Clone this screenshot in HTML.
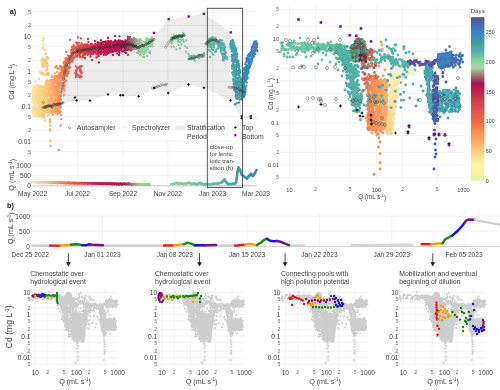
<!DOCTYPE html>
<html><head><meta charset="utf-8"><style>
html,body{margin:0;padding:0;background:#fff;width:500px;height:390px;overflow:hidden}
svg{display:block;font-family:"Liberation Sans", sans-serif;will-change:transform}
</style></head><body>
<svg width="500" height="390" viewBox="0 0 500 390">
<rect width="500" height="390" fill="#fff"/>
<line x1="32.60" y1="11.54" x2="256.60" y2="11.54" stroke="#f0f0f0" stroke-width="0.8"/>
<text x="31.00" y="11.54" font-size="5.6" text-anchor="end" fill="#666" font-weight="normal" dominant-baseline="central">5</text>
<line x1="32.60" y1="25.46" x2="256.60" y2="25.46" stroke="#f0f0f0" stroke-width="0.8"/>
<text x="31.00" y="25.46" font-size="5.6" text-anchor="end" fill="#666" font-weight="normal" dominant-baseline="central">2</text>
<line x1="32.60" y1="36.00" x2="256.60" y2="36.00" stroke="#f0f0f0" stroke-width="0.8"/>
<text x="31.00" y="36.00" font-size="6.6" text-anchor="end" fill="#444" font-weight="normal" dominant-baseline="central">10</text>
<line x1="32.60" y1="46.54" x2="256.60" y2="46.54" stroke="#f0f0f0" stroke-width="0.8"/>
<text x="31.00" y="46.54" font-size="5.6" text-anchor="end" fill="#666" font-weight="normal" dominant-baseline="central">5</text>
<line x1="32.60" y1="60.46" x2="256.60" y2="60.46" stroke="#f0f0f0" stroke-width="0.8"/>
<text x="31.00" y="60.46" font-size="5.6" text-anchor="end" fill="#666" font-weight="normal" dominant-baseline="central">2</text>
<line x1="32.60" y1="71.00" x2="256.60" y2="71.00" stroke="#f0f0f0" stroke-width="0.8"/>
<text x="31.00" y="71.00" font-size="6.6" text-anchor="end" fill="#444" font-weight="normal" dominant-baseline="central">1</text>
<line x1="32.60" y1="81.54" x2="256.60" y2="81.54" stroke="#f0f0f0" stroke-width="0.8"/>
<text x="31.00" y="81.54" font-size="5.6" text-anchor="end" fill="#666" font-weight="normal" dominant-baseline="central">5</text>
<line x1="32.60" y1="95.46" x2="256.60" y2="95.46" stroke="#f0f0f0" stroke-width="0.8"/>
<text x="31.00" y="95.46" font-size="5.6" text-anchor="end" fill="#666" font-weight="normal" dominant-baseline="central">2</text>
<line x1="32.60" y1="106.00" x2="256.60" y2="106.00" stroke="#f0f0f0" stroke-width="0.8"/>
<text x="31.00" y="106.00" font-size="6.6" text-anchor="end" fill="#444" font-weight="normal" dominant-baseline="central">0.1</text>
<line x1="32.60" y1="116.54" x2="256.60" y2="116.54" stroke="#f0f0f0" stroke-width="0.8"/>
<text x="31.00" y="116.54" font-size="5.6" text-anchor="end" fill="#666" font-weight="normal" dominant-baseline="central">5</text>
<line x1="32.60" y1="130.46" x2="256.60" y2="130.46" stroke="#f0f0f0" stroke-width="0.8"/>
<text x="31.00" y="130.46" font-size="5.6" text-anchor="end" fill="#666" font-weight="normal" dominant-baseline="central">2</text>
<line x1="32.60" y1="141.00" x2="256.60" y2="141.00" stroke="#f0f0f0" stroke-width="0.8"/>
<text x="31.00" y="141.00" font-size="6.6" text-anchor="end" fill="#444" font-weight="normal" dominant-baseline="central">0.01</text>
<line x1="32.60" y1="151.54" x2="256.60" y2="151.54" stroke="#f0f0f0" stroke-width="0.8"/>
<text x="31.00" y="151.54" font-size="5.6" text-anchor="end" fill="#666" font-weight="normal" dominant-baseline="central">5</text>
<line x1="77.44" y1="8.00" x2="77.44" y2="157.00" stroke="#f0f0f0" stroke-width="0.8"/>
<line x1="77.44" y1="160.00" x2="77.44" y2="186.00" stroke="#f0f0f0" stroke-width="0.8"/>
<line x1="123.00" y1="8.00" x2="123.00" y2="157.00" stroke="#f0f0f0" stroke-width="0.8"/>
<line x1="123.00" y1="160.00" x2="123.00" y2="186.00" stroke="#f0f0f0" stroke-width="0.8"/>
<line x1="167.84" y1="8.00" x2="167.84" y2="157.00" stroke="#f0f0f0" stroke-width="0.8"/>
<line x1="167.84" y1="160.00" x2="167.84" y2="186.00" stroke="#f0f0f0" stroke-width="0.8"/>
<line x1="212.67" y1="8.00" x2="212.67" y2="157.00" stroke="#f0f0f0" stroke-width="0.8"/>
<line x1="212.67" y1="160.00" x2="212.67" y2="186.00" stroke="#f0f0f0" stroke-width="0.8"/>
<line x1="32.60" y1="165.30" x2="256.60" y2="165.30" stroke="#f0f0f0" stroke-width="0.8"/>
<text x="31.00" y="165.30" font-size="6.6" text-anchor="end" fill="#444" font-weight="normal" dominant-baseline="central">1000</text>
<line x1="32.60" y1="175.40" x2="256.60" y2="175.40" stroke="#f0f0f0" stroke-width="0.8"/>
<text x="31.00" y="175.40" font-size="6.6" text-anchor="end" fill="#444" font-weight="normal" dominant-baseline="central">500</text>
<text x="31.00" y="185.50" font-size="6.6" text-anchor="end" fill="#444" font-weight="normal" dominant-baseline="central">0</text>
<line x1="32.60" y1="185.80" x2="256.60" y2="185.80" stroke="#aaa" stroke-width="0.7"/>
<text x="32.60" y="193.30" font-size="6.6" text-anchor="middle" fill="#444" font-weight="normal" dominant-baseline="central">May 2022</text>
<text x="77.44" y="193.30" font-size="6.6" text-anchor="middle" fill="#444" font-weight="normal" dominant-baseline="central">Jul 2022</text>
<text x="123.00" y="193.30" font-size="6.6" text-anchor="middle" fill="#444" font-weight="normal" dominant-baseline="central">Sep 2022</text>
<text x="167.84" y="193.30" font-size="6.6" text-anchor="middle" fill="#444" font-weight="normal" dominant-baseline="central">Nov 2022</text>
<text x="212.67" y="193.30" font-size="6.6" text-anchor="middle" fill="#444" font-weight="normal" dominant-baseline="central">Jan 2023</text>
<text x="256.04" y="193.30" font-size="6.6" text-anchor="middle" fill="#444" font-weight="normal" dominant-baseline="central">Mar 2023</text>
<text x="11.80" y="81.70" font-size="7.2" text-anchor="middle" fill="#444" font-weight="normal" dominant-baseline="central" transform="rotate(-90 11.8 81.7)">Cd (mg L<tspan font-size="4.5" dy="-2">-1</tspan><tspan dy="2">)</tspan></text>
<text x="11.80" y="174.80" font-size="7.2" text-anchor="middle" fill="#444" font-weight="normal" dominant-baseline="central" transform="rotate(-90 11.8 174.8)">Q (mL s<tspan font-size="4.5" dy="-2">-1</tspan><tspan dy="2">)</tspan></text>
<text x="13.00" y="11.30" font-size="7.4" text-anchor="middle" fill="#222" font-weight="bold" dominant-baseline="central">a)</text>
<polygon points="61.0,104.5 62.0,92.0 63.5,80.0 64.6,72.3 66.0,66.0 68.2,61.5 70.5,56.5 73.5,52.6 79.0,50.0 92.0,49.0 100.0,48.0 120.0,45.5 140.0,42.5 151.0,41.5 154.0,37.0 168.7,19.0 188.7,16.5 204.0,13.8 230.7,32.3 236.0,65.0 240.0,95.0 241.7,117.0 230.5,100.0 204.0,88.0 188.5,84.5 168.3,93.0 154.0,88.0 138.6,96.4 121.0,95.2 108.0,94.4 90.0,100.6 76.6,100.4" fill="#000" fill-opacity="0.075"/>
<polyline points="241.7,117.2 250.8,117.2 257,119.5" fill="none" stroke="#e0e0e0" stroke-width="1.2"/>
<path d="M36.8 90.7h0M36.9 87.6h0M37.0 94.2h0M36.8 92.9h0M36.9 110.8h0M36.8 102.1h0M37.0 111.8h0M36.7 112.0h0M37.0 88.8h0M36.9 99.0h0M36.9 94.4h0M36.7 94.5h0M36.7 97.2h0M36.8 116.4h0" stroke="#feda90" stroke-width="2.30" stroke-linecap="round"/>
<path d="M40.7 88.2h0M41.0 87.7h0M40.8 110.8h0M40.9 90.4h0M40.8 88.0h0M41.0 107.5h0M41.0 95.0h0M40.8 95.3h0M40.9 114.7h0M40.9 115.4h0M40.9 97.7h0M40.9 89.8h0" stroke="#fdd184" stroke-width="2.30" stroke-linecap="round"/>
<path d="M39.3 97.3h0" stroke="#fdd489" stroke-width="2.30" stroke-linecap="round"/>
<path d="M33.5 101.7h0M33.5 92.4h0M33.5 107.7h0M33.5 109.8h0M33.6 88.1h0M33.4 92.3h0M33.5 90.0h0M33.5 94.3h0M33.6 94.6h0M33.5 98.2h0" stroke="#fee19a" stroke-width="2.30" stroke-linecap="round"/>
<path d="M33.3 99.4h0M33.3 106.7h0M33.3 110.1h0M33.3 86.7h0M33.3 111.9h0M33.3 110.3h0M33.4 100.7h0" stroke="#fee29a" stroke-width="2.30" stroke-linecap="round"/>
<path d="M33.7 88.8h0M33.8 99.9h0M33.8 89.2h0M33.8 106.5h0M33.7 93.5h0M33.7 106.8h0M33.6 116.5h0M33.7 115.1h0M33.8 112.5h0M33.6 112.7h0M33.7 109.0h0M33.8 112.1h0M33.7 94.2h0" stroke="#fee199" stroke-width="2.30" stroke-linecap="round"/>
<path d="M38.0 111.6h0M37.4 85.0h0" stroke="#fdd78d" stroke-width="2.30" stroke-linecap="round"/>
<path d="M34.3 92.9h0M34.3 99.7h0" stroke="#fee097" stroke-width="2.30" stroke-linecap="round"/>
<path d="M40.5 115.4h0M40.6 97.5h0M40.4 113.9h0M40.4 101.9h0M40.5 110.9h0M40.4 107.1h0M40.6 88.4h0M40.5 114.3h0M40.7 95.4h0M40.6 107.7h0" stroke="#fdd285" stroke-width="2.30" stroke-linecap="round"/>
<path d="M39.8 98.3h0M39.9 100.1h0M40.0 94.1h0M39.9 114.0h0M39.9 102.4h0M39.9 113.7h0M40.0 86.0h0M40.1 72.0h0M40.0 116.0h0" stroke="#fdd387" stroke-width="2.30" stroke-linecap="round"/>
<path d="M44.7 87.4h0M44.8 89.7h0M44.7 98.3h0M44.8 106.4h0M44.6 106.1h0M44.7 103.0h0M44.7 115.0h0M44.7 94.1h0M44.6 89.9h0M44.7 93.7h0M44.5 106.0h0M44.5 107.8h0M44.6 95.7h0M44.6 92.4h0M44.8 50.0h0M44.7 60.0h0M44.6 62.2h0M44.7 117.5h0M44.7 120.8h0" stroke="#fdc979" stroke-width="2.30" stroke-linecap="round"/>
<path d="M43.3 95.0h0M43.2 116.8h0M43.3 107.6h0M43.2 111.0h0M43.3 92.7h0" stroke="#fdcc7d" stroke-width="2.30" stroke-linecap="round"/>
<path d="M34.6 89.7h0M34.4 93.7h0M34.3 90.7h0M34.6 111.6h0M34.4 86.4h0M34.4 114.2h0M34.5 102.2h0M34.4 97.2h0M34.6 93.9h0M34.5 102.2h0M34.5 96.7h0M34.4 93.8h0M34.6 98.2h0M34.5 87.6h0" stroke="#fedf97" stroke-width="2.30" stroke-linecap="round"/>
<path d="M36.6 111.3h0M36.4 100.2h0M36.6 97.1h0M36.5 93.2h0M36.4 108.9h0M36.5 100.3h0M36.6 86.7h0M36.4 115.5h0" stroke="#fedb91" stroke-width="2.30" stroke-linecap="round"/>
<path d="M35.0 104.0h0M34.9 93.2h0M35.2 92.3h0M35.0 110.5h0M35.2 95.9h0M35.1 100.7h0M35.1 88.8h0M35.1 115.0h0M35.2 97.3h0M35.2 109.3h0" stroke="#fede95" stroke-width="2.30" stroke-linecap="round"/>
<path d="M39.5 87.9h0M39.5 113.4h0M39.4 86.8h0M39.6 110.3h0M39.7 109.6h0M39.6 115.2h0M39.6 99.7h0M39.5 114.7h0M39.6 105.5h0M39.6 98.2h0" stroke="#fdd488" stroke-width="2.30" stroke-linecap="round"/>
<path d="M41.1 99.3h0M41.1 107.5h0M41.1 92.1h0" stroke="#fdd183" stroke-width="2.30" stroke-linecap="round"/>
<path d="M36.6 104.2h0M36.6 95.5h0" stroke="#feda91" stroke-width="2.30" stroke-linecap="round"/>
<path d="M38.3 95.3h0M38.1 113.0h0M38.2 91.7h0M38.3 102.5h0M38.3 96.5h0M38.3 94.3h0M38.3 95.4h0M38.3 90.3h0M38.0 101.3h0" stroke="#fdd78c" stroke-width="2.30" stroke-linecap="round"/>
<path d="M42.5 107.7h0M43.0 44.5h0" stroke="#fdce7f" stroke-width="2.30" stroke-linecap="round"/>
<path d="M35.8 103.8h0M35.9 96.8h0M36.0 107.5h0M35.9 95.1h0M35.7 104.2h0M36.0 99.0h0M35.8 94.6h0M35.9 86.5h0M35.9 91.1h0M35.8 115.9h0M35.8 94.2h0M35.7 94.0h0M35.8 88.0h0M35.8 93.6h0" stroke="#fedc93" stroke-width="2.30" stroke-linecap="round"/>
<path d="M39.2 113.1h0M39.1 105.1h0M39.2 90.5h0M39.2 116.3h0M39.3 110.2h0M39.2 114.9h0M39.2 86.6h0M39.0 107.5h0M39.1 96.5h0M39.2 93.4h0M39.1 100.4h0M39.2 107.1h0M39.2 104.1h0" stroke="#fdd589" stroke-width="2.30" stroke-linecap="round"/>
<path d="M41.7 94.9h0M41.6 91.3h0M41.6 103.3h0M41.6 86.6h0M41.7 103.1h0M41.6 105.9h0M41.8 111.2h0M41.7 92.4h0M41.7 100.0h0M41.7 116.9h0M41.7 73.7h0M41.7 62.2h0" stroke="#fdcf82" stroke-width="2.30" stroke-linecap="round"/>
<path d="M37.9 109.5h0M37.7 115.4h0M37.9 114.4h0M38.0 114.3h0M37.7 96.8h0M37.8 102.2h0M37.7 99.8h0M37.9 94.0h0M37.8 111.2h0" stroke="#fdd88d" stroke-width="2.30" stroke-linecap="round"/>
<path d="M34.7 101.2h0M34.7 108.2h0M34.8 99.4h0M34.6 114.5h0M34.7 99.8h0" stroke="#fedf96" stroke-width="2.30" stroke-linecap="round"/>
<path d="M42.1 103.8h0M42.2 101.7h0M42.4 113.8h0M42.4 116.1h0M42.2 105.1h0M42.2 87.3h0M42.3 88.4h0M42.2 61.9h0M42.3 65.8h0" stroke="#fdce80" stroke-width="2.30" stroke-linecap="round"/>
<path d="M43.5 95.7h0M43.8 110.2h0M43.5 110.7h0M43.6 116.0h0M43.7 105.4h0M43.7 92.2h0M43.6 107.8h0M43.8 95.0h0M43.6 111.2h0M43.7 100.7h0M43.6 100.7h0M43.8 113.4h0M43.7 86.9h0M43.6 116.6h0M43.6 38.5h0M43.8 74.8h0" stroke="#fdcb7c" stroke-width="2.30" stroke-linecap="round"/>
<path d="M41.3 104.4h0M41.3 113.2h0M41.2 99.2h0M41.2 116.5h0M41.3 73.7h0" stroke="#fdd083" stroke-width="2.30" stroke-linecap="round"/>
<path d="M43.0 115.3h0M43.1 100.9h0M43.0 90.3h0M43.0 89.7h0M43.1 95.1h0M42.7 41.0h0M42.8 48.0h0M43.0 67.2h0M43.0 64.4h0M43.0 60.6h0" stroke="#fdcc7e" stroke-width="2.30" stroke-linecap="round"/>
<path d="M38.6 106.6h0M38.5 101.0h0M38.6 115.2h0M38.6 101.6h0M38.6 107.2h0M38.5 89.7h0M38.6 96.7h0" stroke="#fdd68b" stroke-width="2.30" stroke-linecap="round"/>
<path d="M40.7 116.8h0M40.7 109.7h0" stroke="#fdd185" stroke-width="2.30" stroke-linecap="round"/>
<path d="M42.8 94.8h0M42.8 112.8h0M42.9 91.0h0M42.9 92.5h0M42.8 94.0h0M42.8 99.4h0M42.8 116.0h0M42.8 101.8h0M42.9 112.5h0M42.8 93.2h0M42.8 99.4h0M42.8 110.0h0M42.9 63.3h0M43.0 59.2h0M42.8 59.6h0" stroke="#fdcd7e" stroke-width="2.30" stroke-linecap="round"/>
<path d="M37.5 106.7h0M37.6 113.0h0M37.6 98.4h0M37.7 101.1h0M37.6 101.7h0M37.6 96.1h0M37.6 114.7h0M37.5 92.9h0M37.5 93.8h0" stroke="#fdd88e" stroke-width="2.30" stroke-linecap="round"/>
<path d="M33.1 100.3h0M33.1 113.1h0M33.1 115.5h0M33.1 94.7h0M33.0 96.3h0M33.0 100.2h0M33.2 108.0h0M33.2 87.9h0M33.2 103.1h0" stroke="#fee29b" stroke-width="2.30" stroke-linecap="round"/>
<path d="M34.9 89.6h0M34.8 109.9h0M34.9 100.7h0M34.8 91.0h0M34.9 86.1h0" stroke="#fede96" stroke-width="2.30" stroke-linecap="round"/>
<path d="M36.2 98.9h0M36.2 93.5h0M36.2 87.5h0M36.3 115.0h0M36.3 87.5h0M36.2 96.9h0" stroke="#fedb92" stroke-width="2.30" stroke-linecap="round"/>
<path d="M37.2 113.4h0M37.3 103.6h0M37.2 89.8h0M37.1 86.9h0M37.1 103.0h0M37.1 100.2h0M37.2 99.3h0M37.2 111.5h0" stroke="#fed98f" stroke-width="2.30" stroke-linecap="round"/>
<path d="M44.5 90.7h0M44.4 107.4h0M44.5 99.9h0M44.5 97.3h0M44.4 90.1h0M44.4 112.3h0M44.5 89.8h0M44.5 105.1h0M44.5 115.6h0M44.4 59.9h0M44.4 63.1h0" stroke="#fdc97a" stroke-width="2.30" stroke-linecap="round"/>
<path d="M35.6 101.0h0M35.6 114.5h0M35.7 93.7h0M35.7 100.7h0M35.7 98.9h0" stroke="#fedd93" stroke-width="2.30" stroke-linecap="round"/>
<path d="M32.8 99.0h0M32.8 90.7h0M32.8 110.8h0M32.8 97.8h0M32.9 94.2h0M32.8 101.2h0M32.8 109.3h0M32.8 109.4h0" stroke="#fee39c" stroke-width="2.30" stroke-linecap="round"/>
<path d="M34.1 105.7h0M34.0 97.3h0M34.1 103.4h0M34.1 94.2h0M34.1 91.0h0M34.1 111.9h0M34.0 111.9h0M34.1 90.8h0M34.2 88.2h0M34.0 101.5h0" stroke="#fee098" stroke-width="2.30" stroke-linecap="round"/>
<path d="M35.3 91.0h0M35.6 102.0h0M35.5 93.0h0M35.5 115.5h0M35.6 87.0h0M35.4 115.3h0M35.4 104.0h0M35.6 113.8h0M35.3 114.1h0M35.6 87.1h0M35.5 109.6h0M35.5 98.9h0M35.4 116.2h0" stroke="#fedd94" stroke-width="2.30" stroke-linecap="round"/>
<path d="M40.3 90.6h0M40.3 101.7h0M40.4 106.9h0" stroke="#fdd286" stroke-width="2.30" stroke-linecap="round"/>
<path d="M36.0 97.4h0M36.1 90.0h0M36.1 90.0h0M36.0 115.8h0M36.1 93.7h0M36.0 108.2h0M36.0 88.6h0M35.3 82.0h0M36.0 115.5h0" stroke="#fedc92" stroke-width="2.30" stroke-linecap="round"/>
<path d="M42.7 116.5h0M42.8 108.9h0M42.6 111.6h0M42.5 109.2h0M42.5 108.9h0M42.6 108.9h0M42.7 57.7h0M42.7 73.8h0M42.7 58.0h0" stroke="#fdcd7f" stroke-width="2.30" stroke-linecap="round"/>
<path d="M44.2 116.6h0M44.3 94.0h0M44.2 89.3h0M44.3 103.0h0M44.3 108.4h0M44.2 96.2h0M44.3 86.8h0" stroke="#fdca7a" stroke-width="2.30" stroke-linecap="round"/>
<path d="M43.9 110.3h0M43.9 99.7h0M44.1 108.1h0M44.1 89.9h0M44.0 94.0h0M44.0 105.7h0M44.1 91.7h0M44.2 66.0h0" stroke="#fdca7b" stroke-width="2.30" stroke-linecap="round"/>
<path d="M42.0 100.8h0M42.0 106.4h0M41.8 93.8h0M41.8 116.2h0M41.9 95.4h0M42.0 106.0h0M41.9 98.8h0M41.9 87.0h0M41.9 113.9h0M41.9 112.3h0M41.8 92.2h0M42.1 62.0h0M41.9 74.3h0M41.8 62.8h0M41.9 74.6h0" stroke="#fdcf81" stroke-width="2.30" stroke-linecap="round"/>
<path d="M43.8 111.0h0M43.9 116.9h0" stroke="#fdcb7b" stroke-width="2.30" stroke-linecap="round"/>
<path d="M38.9 102.5h0M38.9 91.5h0M39.0 111.9h0M38.9 102.6h0M39.0 91.9h0M38.9 92.8h0M38.9 105.5h0M38.9 106.9h0M39.0 92.4h0M39.0 79.0h0" stroke="#fdd58a" stroke-width="2.30" stroke-linecap="round"/>
<path d="M44.9 111.8h0M45.0 104.3h0M45.1 109.8h0M45.0 91.7h0M45.1 107.9h0M45.0 86.7h0M45.1 96.2h0M45.0 103.8h0M45.1 107.7h0M45.1 86.3h0M45.1 102.6h0M45.0 88.7h0M45.1 63.0h0" stroke="#fdc878" stroke-width="2.30" stroke-linecap="round"/>
<path d="M39.8 107.7h0M39.7 86.4h0M39.7 113.5h0M39.7 97.6h0" stroke="#fdd487" stroke-width="2.30" stroke-linecap="round"/>
<path d="M33.9 87.8h0M33.9 98.4h0" stroke="#fee099" stroke-width="2.30" stroke-linecap="round"/>
<path d="M42.1 95.0h0M42.1 65.1h0M42.1 72.7h0" stroke="#fdce81" stroke-width="2.30" stroke-linecap="round"/>
<path d="M37.0 86.6h0" stroke="#feda8f" stroke-width="2.30" stroke-linecap="round"/>
<path d="M38.8 111.9h0M38.8 86.1h0M38.8 97.9h0M38.7 86.8h0M38.8 91.8h0" stroke="#fdd68a" stroke-width="2.30" stroke-linecap="round"/>
<path d="M41.4 105.7h0M41.5 113.3h0M41.6 87.5h0M41.5 99.9h0M41.4 59.6h0M41.4 73.1h0" stroke="#fdd082" stroke-width="2.30" stroke-linecap="round"/>
<path d="M43.4 106.8h0M43.4 86.7h0M43.4 73.3h0" stroke="#fdcb7d" stroke-width="2.30" stroke-linecap="round"/>
<path d="M35.3 101.6h0" stroke="#fedd95" stroke-width="2.30" stroke-linecap="round"/>
<path d="M44.8 90.6h0" stroke="#fdc879" stroke-width="2.30" stroke-linecap="round"/>
<path d="M37.3 98.2h0M37.4 115.6h0M37.4 96.5h0M37.4 96.3h0M37.3 114.5h0" stroke="#fed98e" stroke-width="2.30" stroke-linecap="round"/>
<path d="M38.4 103.1h0" stroke="#fdd78b" stroke-width="2.30" stroke-linecap="round"/>
<path d="M40.1 86.3h0M40.2 96.2h0" stroke="#fdd386" stroke-width="2.30" stroke-linecap="round"/>
<path d="M47.5 109.2h0M47.6 102.9h0M47.6 110.9h0M47.5 107.8h0M47.5 85.1h0M47.6 105.8h0M47.4 80.5h0M47.6 73.0h0M47.4 68.3h0M47.4 63.0h0" stroke="#fcbe72" stroke-width="2.30" stroke-linecap="round"/>
<path d="M54.3 90.8h0M54.3 109.1h0M54.4 101.9h0M54.1 90.2h0M54.2 104.7h0" stroke="#f9a362" stroke-width="2.30" stroke-linecap="round"/>
<path d="M51.3 112.8h0M51.3 98.2h0M51.3 105.2h0M51.3 87.0h0" stroke="#faaf69" stroke-width="2.30" stroke-linecap="round"/>
<path d="M53.1 87.6h0M53.1 92.5h0M53.0 110.4h0M53.1 90.5h0M53.1 101.2h0M52.9 81.9h0M53.1 89.0h0M53.1 112.2h0M53.0 115.0h0" stroke="#faa865" stroke-width="2.30" stroke-linecap="round"/>
<path d="M57.9 101.6h0M57.9 111.9h0M57.9 89.3h0M57.9 78.8h0M57.9 76.9h0M57.9 92.1h0M57.9 87.3h0" stroke="#f79359" stroke-width="2.30" stroke-linecap="round"/>
<path d="M60.9 83.4h0M60.8 99.1h0M60.8 115.0h0M60.9 82.4h0M60.8 85.2h0M60.9 83.2h0" stroke="#f68553" stroke-width="2.30" stroke-linecap="round"/>
<path d="M52.6 107.0h0M52.6 83.5h0M52.5 107.7h0M52.5 98.5h0M52.5 89.7h0M52.5 84.8h0M52.5 98.6h0M52.5 80.5h0" stroke="#faaa66" stroke-width="2.30" stroke-linecap="round"/>
<path d="M58.4 110.2h0M58.4 83.9h0M58.6 106.8h0M58.5 80.8h0M58.6 91.1h0" stroke="#f79058" stroke-width="2.30" stroke-linecap="round"/>
<path d="M45.6 89.7h0M45.7 98.6h0M45.7 97.5h0M45.8 109.3h0M45.6 103.8h0M45.8 89.9h0M45.9 98.7h0M45.6 83.9h0M45.8 105.5h0M45.7 107.5h0M45.9 74.2h0M45.8 59.6h0" stroke="#fdc576" stroke-width="2.30" stroke-linecap="round"/>
<path d="M46.9 86.3h0M47.0 88.2h0M47.1 94.2h0M47.1 87.5h0M47.0 95.2h0M47.0 112.5h0M47.1 105.6h0M46.9 111.9h0M47.1 80.6h0M47.0 57.0h0M47.0 69.8h0" stroke="#fcc073" stroke-width="2.30" stroke-linecap="round"/>
<path d="M60.6 99.2h0M60.5 125.5h0M60.5 81.7h0" stroke="#f68753" stroke-width="2.30" stroke-linecap="round"/>
<path d="M59.9 92.3h0M59.8 92.8h0M59.9 108.2h0M59.7 100.1h0M59.7 86.7h0M59.9 80.6h0" stroke="#f68a55" stroke-width="2.30" stroke-linecap="round"/>
<path d="M58.9 94.8h0M59.0 98.3h0M58.9 105.8h0M58.9 79.1h0" stroke="#f78e57" stroke-width="2.30" stroke-linecap="round"/>
<path d="M49.2 105.7h0M49.2 101.2h0M49.2 87.8h0M49.2 111.1h0" stroke="#fbb76e" stroke-width="2.30" stroke-linecap="round"/>
<path d="M60.1 83.5h0M60.1 112.2h0M60.1 84.7h0M60.0 97.1h0M60.0 97.4h0M60.1 105.9h0M60.1 73.4h0M60.0 91.7h0M60.1 73.0h0" stroke="#f68954" stroke-width="2.30" stroke-linecap="round"/>
<path d="M54.5 100.5h0M54.6 98.2h0M54.4 86.7h0M54.5 110.9h0M54.6 90.2h0" stroke="#f9a261" stroke-width="2.30" stroke-linecap="round"/>
<path d="M48.5 92.2h0M48.5 93.2h0M48.4 100.5h0M48.5 106.4h0" stroke="#fcba70" stroke-width="2.30" stroke-linecap="round"/>
<path d="M47.3 86.7h0M47.2 110.9h0M47.3 99.9h0M47.2 107.4h0M47.3 65.6h0" stroke="#fcbf73" stroke-width="2.30" stroke-linecap="round"/>
<path d="M49.1 99.8h0M49.0 109.8h0M49.0 90.8h0M49.1 111.8h0" stroke="#fbb86e" stroke-width="2.30" stroke-linecap="round"/>
<path d="M55.4 86.7h0M55.4 80.7h0M55.3 94.6h0M55.5 88.3h0M55.5 106.1h0M55.5 106.0h0M55.5 92.2h0M55.5 80.8h0" stroke="#f99e5f" stroke-width="2.30" stroke-linecap="round"/>
<path d="M45.2 90.8h0M45.2 101.3h0M45.2 98.2h0M45.2 111.4h0" stroke="#fdc778" stroke-width="2.30" stroke-linecap="round"/>
<path d="M55.9 86.1h0M55.9 109.5h0M55.8 110.7h0M55.8 81.4h0M55.8 67.2h0" stroke="#f99c5e" stroke-width="2.30" stroke-linecap="round"/>
<path d="M50.0 86.7h0M49.9 111.5h0M50.0 98.7h0M50.0 80.1h0M50.0 89.9h0M50.1 94.0h0M50.0 100.7h0M50.1 94.2h0M50.0 104.1h0M50.0 119.2h0M50.0 121.0h0M50.0 122.6h0M50.0 125.8h0M50.0 129.2h0M50.0 130.8h0" stroke="#fbb46c" stroke-width="2.30" stroke-linecap="round"/>
<path d="M57.7 98.1h0M57.7 77.4h0" stroke="#f7945a" stroke-width="2.30" stroke-linecap="round"/>
<path d="M46.0 83.3h0M45.9 105.7h0M45.9 107.3h0M46.0 112.1h0M45.9 74.7h0" stroke="#fdc476" stroke-width="2.30" stroke-linecap="round"/>
<path d="M55.2 83.0h0M55.3 110.0h0M55.2 112.5h0M55.3 95.0h0M55.3 110.8h0M55.3 87.0h0M55.3 67.4h0" stroke="#f99f5f" stroke-width="2.30" stroke-linecap="round"/>
<path d="M51.6 89.3h0M51.5 109.1h0M51.5 107.9h0M51.5 87.8h0M51.5 104.5h0M51.6 111.3h0M51.6 83.4h0M51.5 76.3h0" stroke="#faae68" stroke-width="2.30" stroke-linecap="round"/>
<path d="M50.7 93.7h0M50.8 86.5h0M50.8 105.2h0M50.8 107.0h0M50.7 81.9h0M50.6 88.8h0M50.7 101.1h0M50.9 95.7h0M50.8 101.3h0" stroke="#fbb16a" stroke-width="2.30" stroke-linecap="round"/>
<path d="M58.8 112.9h0M58.8 83.0h0M58.8 76.5h0M58.8 150.0h0M58.8 83.8h0" stroke="#f78f57" stroke-width="2.30" stroke-linecap="round"/>
<path d="M56.6 86.7h0M56.7 105.7h0M56.7 106.9h0M56.7 94.4h0M56.7 86.2h0M56.7 82.8h0M56.8 81.5h0M56.9 72.1h0M56.8 76.8h0M56.8 67.4h0" stroke="#f8985c" stroke-width="2.30" stroke-linecap="round"/>
<path d="M51.8 107.1h0M51.7 99.2h0M51.8 101.7h0M51.7 87.5h0M51.8 95.0h0M51.7 103.0h0M51.8 86.1h0M51.9 101.0h0M51.8 98.3h0M51.9 109.3h0M51.8 99.4h0M51.8 80.2h0" stroke="#faad68" stroke-width="2.30" stroke-linecap="round"/>
<path d="M52.4 85.4h0M52.3 85.9h0M52.4 110.8h0" stroke="#faab66" stroke-width="2.30" stroke-linecap="round"/>
<path d="M45.2 98.2h0M45.4 100.4h0M45.3 88.5h0M45.2 93.8h0M45.2 92.8h0M45.2 101.5h0" stroke="#fdc777" stroke-width="2.30" stroke-linecap="round"/>
<path d="M46.4 100.5h0M46.4 108.7h0M46.5 60.5h0M46.4 67.0h0" stroke="#fcc275" stroke-width="2.30" stroke-linecap="round"/>
<path d="M50.9 96.6h0M50.9 90.6h0M51.0 88.4h0M51.0 93.8h0M50.9 99.0h0M51.0 102.6h0M50.9 80.8h0" stroke="#fbb06a" stroke-width="2.30" stroke-linecap="round"/>
<path d="M47.3 89.3h0M47.3 80.9h0M47.3 106.3h0M47.4 57.8h0" stroke="#fcbf72" stroke-width="2.30" stroke-linecap="round"/>
<path d="M53.3 110.5h0M53.3 92.7h0M53.2 81.3h0M53.2 81.8h0M53.2 109.6h0M53.4 85.3h0M53.2 101.1h0M53.2 96.0h0" stroke="#faa764" stroke-width="2.30" stroke-linecap="round"/>
<path d="M46.7 96.2h0M46.8 97.5h0M46.7 112.8h0M46.7 91.8h0M46.7 110.7h0M46.7 86.8h0M46.8 81.1h0M46.8 101.0h0M46.6 111.8h0M46.6 92.7h0M46.7 86.8h0M46.7 73.9h0" stroke="#fcc174" stroke-width="2.30" stroke-linecap="round"/>
<path d="M48.2 84.2h0M48.3 88.7h0M48.2 100.1h0M48.3 88.7h0M48.1 101.1h0M48.4 102.6h0M48.2 102.9h0M48.4 94.4h0M48.3 74.9h0" stroke="#fcbb70" stroke-width="2.30" stroke-linecap="round"/>
<path d="M52.7 81.8h0M52.8 87.8h0M52.9 111.6h0M52.9 106.3h0M52.8 112.2h0M52.9 96.4h0M52.8 82.0h0" stroke="#faa965" stroke-width="2.30" stroke-linecap="round"/>
<path d="M59.5 100.5h0M59.4 96.5h0M59.5 106.1h0M59.5 73.2h0" stroke="#f68c56" stroke-width="2.30" stroke-linecap="round"/>
<path d="M58.2 85.3h0M58.3 86.0h0M58.3 97.2h0M58.2 89.7h0M58.2 93.3h0M58.2 76.0h0" stroke="#f79159" stroke-width="2.30" stroke-linecap="round"/>
<path d="M57.6 87.3h0M57.6 110.7h0M57.5 103.6h0M57.6 97.3h0M57.5 103.5h0M57.6 107.7h0" stroke="#f8945a" stroke-width="2.30" stroke-linecap="round"/>
<path d="M56.6 109.6h0M56.6 109.0h0" stroke="#f8995c" stroke-width="2.30" stroke-linecap="round"/>
<path d="M57.1 81.3h0M57.2 105.7h0M57.1 85.2h0M57.1 86.8h0M57.2 112.3h0M57.2 83.3h0" stroke="#f8965b" stroke-width="2.30" stroke-linecap="round"/>
<path d="M55.0 90.1h0M55.1 93.0h0M55.0 95.7h0M55.1 102.9h0M55.1 89.5h0M55.0 91.7h0M55.1 88.3h0M54.9 93.5h0M55.1 103.4h0M55.1 93.8h0M55.0 73.3h0" stroke="#f9a060" stroke-width="2.30" stroke-linecap="round"/>
<path d="M52.1 94.5h0" stroke="#faab67" stroke-width="2.30" stroke-linecap="round"/>
<path d="M46.5 94.6h0M46.5 101.1h0M46.6 83.2h0M46.6 93.8h0M46.6 99.0h0M46.6 84.7h0M45.8 54.0h0" stroke="#fcc274" stroke-width="2.30" stroke-linecap="round"/>
<path d="M55.2 82.7h0M55.2 91.9h0M55.1 107.2h0M55.1 95.3h0M55.1 80.5h0M55.2 101.0h0M55.2 105.9h0M55.2 76.1h0" stroke="#f99f60" stroke-width="2.30" stroke-linecap="round"/>
<path d="M60.2 84.5h0M60.3 85.3h0" stroke="#f68854" stroke-width="2.30" stroke-linecap="round"/>
<path d="M58.7 112.9h0M58.6 100.4h0M58.6 102.4h0M58.6 88.8h0M58.7 78.9h0M58.7 68.3h0M58.7 74.3h0" stroke="#f78f58" stroke-width="2.30" stroke-linecap="round"/>
<path d="M48.1 112.4h0M48.0 96.3h0M48.1 89.9h0M47.9 101.6h0M47.9 81.2h0M47.8 75.0h0M47.9 58.2h0M48.0 116.0h0" stroke="#fcbc71" stroke-width="2.30" stroke-linecap="round"/>
<path d="M59.7 85.4h0M59.6 111.2h0M59.7 94.7h0M59.7 92.9h0M59.7 77.5h0" stroke="#f68b55" stroke-width="2.30" stroke-linecap="round"/>
<path d="M46.0 91.6h0M46.1 99.5h0M46.1 108.6h0M46.1 64.1h0M46.1 60.8h0" stroke="#fdc475" stroke-width="2.30" stroke-linecap="round"/>
<path d="M59.3 89.1h0M59.4 81.1h0M59.3 77.4h0M59.3 84.7h0M59.3 85.6h0" stroke="#f78c56" stroke-width="2.30" stroke-linecap="round"/>
<path d="M58.1 84.7h0M58.1 88.4h0M58.0 85.8h0M58.1 109.4h0M58.1 85.6h0M58.0 100.9h0M58.1 106.9h0M58.2 106.0h0M58.0 99.0h0M58.1 82.6h0M58.1 109.3h0M58.1 81.2h0M58.0 113.0h0M58.0 89.9h0" stroke="#f79259" stroke-width="2.30" stroke-linecap="round"/>
<path d="M45.6 86.0h0M45.5 84.9h0M45.5 81.4h0M45.5 93.6h0M45.6 97.9h0M45.5 100.1h0M45.5 64.2h0M45.5 70.6h0" stroke="#fdc677" stroke-width="2.30" stroke-linecap="round"/>
<path d="M47.7 105.9h0M47.7 109.4h0M47.7 108.4h0" stroke="#fcbd72" stroke-width="2.30" stroke-linecap="round"/>
<path d="M57.8 88.7h0M57.7 68.9h0" stroke="#f7935a" stroke-width="2.30" stroke-linecap="round"/>
<path d="M52.1 85.8h0M52.0 103.9h0M52.0 105.5h0M52.0 109.1h0M52.0 102.3h0M52.0 80.5h0M51.9 77.2h0" stroke="#faac67" stroke-width="2.30" stroke-linecap="round"/>
<path d="M56.9 81.6h0M56.9 95.4h0M56.9 94.9h0M56.9 111.2h0M56.9 90.8h0M56.9 77.6h0" stroke="#f8975c" stroke-width="2.30" stroke-linecap="round"/>
<path d="M54.9 94.3h0M54.9 100.7h0" stroke="#f9a160" stroke-width="2.30" stroke-linecap="round"/>
<path d="M48.6 99.3h0M48.6 83.5h0M48.6 104.5h0M48.6 111.8h0M48.6 73.7h0" stroke="#fcba6f" stroke-width="2.30" stroke-linecap="round"/>
<path d="M48.9 84.9h0" stroke="#fbb86f" stroke-width="2.30" stroke-linecap="round"/>
<path d="M51.4 88.7h0M51.4 93.0h0M51.4 106.1h0" stroke="#faae69" stroke-width="2.30" stroke-linecap="round"/>
<path d="M54.0 91.6h0M54.0 88.5h0M54.1 89.6h0M54.0 79.1h0" stroke="#f9a462" stroke-width="2.30" stroke-linecap="round"/>
<path d="M60.0 104.2h0M60.0 78.2h0M59.9 66.2h0M59.9 76.5h0M59.9 89.3h0" stroke="#f68955" stroke-width="2.30" stroke-linecap="round"/>
<path d="M48.7 81.3h0M48.7 95.2h0M48.7 105.6h0M48.7 84.6h0" stroke="#fcb96f" stroke-width="2.30" stroke-linecap="round"/>
<path d="M50.4 104.7h0M50.2 86.2h0M50.3 112.4h0M50.3 90.5h0M50.3 100.0h0M50.3 81.9h0M50.3 140.8h0M50.3 145.8h0" stroke="#fbb36b" stroke-width="2.30" stroke-linecap="round"/>
<path d="M56.1 107.9h0M56.2 108.3h0M56.2 104.3h0M56.2 96.4h0M56.2 106.0h0M56.1 96.5h0M56.1 99.7h0" stroke="#f89b5d" stroke-width="2.30" stroke-linecap="round"/>
<path d="M56.4 88.8h0M56.3 107.8h0M56.4 108.2h0M56.3 107.3h0M56.4 66.0h0M56.2 76.0h0" stroke="#f89a5d" stroke-width="2.30" stroke-linecap="round"/>
<path d="M53.9 94.4h0M53.8 84.1h0" stroke="#f9a563" stroke-width="2.30" stroke-linecap="round"/>
<path d="M60.4 87.2h0M60.4 96.6h0M60.4 82.5h0M60.4 66.3h0M60.4 81.1h0" stroke="#f68754" stroke-width="2.30" stroke-linecap="round"/>
<path d="M59.1 80.5h0M59.1 90.8h0M59.1 84.3h0M59.1 79.5h0" stroke="#f78d57" stroke-width="2.30" stroke-linecap="round"/>
<path d="M48.8 109.9h0" stroke="#fbb96f" stroke-width="2.30" stroke-linecap="round"/>
<path d="M55.6 112.3h0M55.6 104.5h0M55.5 92.0h0M55.6 107.7h0M55.6 78.2h0" stroke="#f99d5f" stroke-width="2.30" stroke-linecap="round"/>
<path d="M46.2 110.1h0M46.1 62.4h0M46.2 57.2h0" stroke="#fdc375" stroke-width="2.30" stroke-linecap="round"/>
<path d="M50.5 84.7h0M50.5 103.3h0M50.6 107.5h0M50.6 90.8h0M50.5 85.0h0M50.4 108.4h0" stroke="#fbb26b" stroke-width="2.30" stroke-linecap="round"/>
<path d="M56.1 100.9h0M56.1 80.1h0" stroke="#f89b5e" stroke-width="2.30" stroke-linecap="round"/>
<path d="M49.5 103.6h0M49.5 87.1h0M49.4 93.2h0M49.5 88.1h0" stroke="#fbb66d" stroke-width="2.30" stroke-linecap="round"/>
<path d="M53.6 87.1h0" stroke="#faa663" stroke-width="2.30" stroke-linecap="round"/>
<path d="M46.3 106.0h0" stroke="#fcc375" stroke-width="2.30" stroke-linecap="round"/>
<path d="M59.2 82.8h0M59.2 80.8h0M59.2 87.9h0M59.2 98.0h0M59.3 74.5h0" stroke="#f78d56" stroke-width="2.30" stroke-linecap="round"/>
<path d="M51.1 109.2h0M51.1 79.8h0" stroke="#fbb069" stroke-width="2.30" stroke-linecap="round"/>
<path d="M53.5 104.9h0M53.5 104.5h0M53.4 105.4h0M53.5 76.5h0" stroke="#faa664" stroke-width="2.30" stroke-linecap="round"/>
<path d="M57.0 101.3h0M57.0 66.9h0" stroke="#f8975b" stroke-width="2.30" stroke-linecap="round"/>
<path d="M47.7 94.5h0M47.9 73.3h0M47.8 58.0h0" stroke="#fcbd71" stroke-width="2.30" stroke-linecap="round"/>
<path d="M57.4 99.1h0M57.4 103.1h0M57.4 110.2h0" stroke="#f8955b" stroke-width="2.30" stroke-linecap="round"/>
<path d="M60.6 104.0h0M60.7 106.2h0M60.7 95.7h0M60.6 107.4h0M60.7 67.9h0M60.7 80.5h0" stroke="#f68653" stroke-width="2.30" stroke-linecap="round"/>
<path d="M51.2 81.1h0M51.2 105.9h0" stroke="#fbaf69" stroke-width="2.30" stroke-linecap="round"/>
<path d="M59.5 94.2h0M59.5 105.9h0M59.6 100.2h0M59.5 75.9h0M59.5 90.2h0" stroke="#f68b56" stroke-width="2.30" stroke-linecap="round"/>
<path d="M57.5 92.8h0M57.5 77.4h0M57.5 114.7h0" stroke="#f8955a" stroke-width="2.30" stroke-linecap="round"/>
<path d="M53.7 103.7h0M53.6 108.5h0M53.6 79.4h0" stroke="#faa563" stroke-width="2.30" stroke-linecap="round"/>
<path d="M58.3 91.7h0" stroke="#f79158" stroke-width="2.30" stroke-linecap="round"/>
<path d="M49.8 95.8h0M49.8 93.9h0" stroke="#fbb56c" stroke-width="2.30" stroke-linecap="round"/>
<path d="M54.7 105.8h0M54.6 109.6h0M54.7 77.2h0M54.8 79.5h0" stroke="#f9a161" stroke-width="2.30" stroke-linecap="round"/>
<path d="M55.7 109.5h0M55.7 95.1h0M55.7 77.6h0M55.7 77.6h0" stroke="#f99d5e" stroke-width="2.30" stroke-linecap="round"/>
<path d="M53.9 88.7h0" stroke="#f9a463" stroke-width="2.30" stroke-linecap="round"/>
<path d="M55.9 110.7h0M55.9 87.0h0M56.0 78.1h0" stroke="#f89c5e" stroke-width="2.30" stroke-linecap="round"/>
<path d="M56.5 100.6h0M56.5 88.0h0M56.5 80.4h0" stroke="#f8995d" stroke-width="2.30" stroke-linecap="round"/>
<path d="M49.8 99.4h0" stroke="#fbb56d" stroke-width="2.30" stroke-linecap="round"/>
<path d="M62.3 70.1h0M62.3 71.7h0M62.2 66.8h0M62.2 68.9h0M62.3 67.1h0M62.3 77.9h0M62.3 76.3h0" stroke="#f57f50" stroke-width="2.30" stroke-linecap="round"/>
<path d="M64.8 66.2h0M64.7 69.1h0M64.6 68.0h0M64.6 73.6h0M64.8 85.4h0M64.8 76.0h0" stroke="#f2774e" stroke-width="2.30" stroke-linecap="round"/>
<path d="M63.1 70.8h0M63.3 73.4h0M63.1 74.2h0M63.1 70.7h0M63.2 78.1h0M63.2 73.0h0" stroke="#f47c4f" stroke-width="2.30" stroke-linecap="round"/>
<path d="M64.1 69.1h0M64.1 72.7h0M64.2 79.0h0M64.2 74.7h0M64.3 87.0h0M64.0 66.7h0M64.1 62.0h0" stroke="#f3794e" stroke-width="2.30" stroke-linecap="round"/>
<path d="M62.1 68.8h0M62.0 87.3h0M62.1 67.2h0M61.9 78.2h0" stroke="#f58050" stroke-width="2.30" stroke-linecap="round"/>
<path d="M61.1 72.9h0M61.1 75.9h0M61.1 75.8h0" stroke="#f68452" stroke-width="2.30" stroke-linecap="round"/>
<path d="M63.4 78.1h0M63.5 70.1h0M63.5 66.6h0" stroke="#f47b4f" stroke-width="2.30" stroke-linecap="round"/>
<path d="M63.7 69.7h0M63.7 63.0h0M63.8 83.2h0M63.7 74.2h0" stroke="#f37a4f" stroke-width="2.30" stroke-linecap="round"/>
<path d="M64.5 72.9h0M64.5 73.0h0M64.6 70.5h0" stroke="#f2784e" stroke-width="2.30" stroke-linecap="round"/>
<path d="M61.3 119.2h0" stroke="#f58352" stroke-width="2.30" stroke-linecap="round"/>
<path d="M64.5 64.0h0M64.4 71.8h0M64.5 69.3h0M64.3 67.8h0" stroke="#f3784e" stroke-width="2.30" stroke-linecap="round"/>
<path d="M61.8 90.1h0" stroke="#f58150" stroke-width="2.30" stroke-linecap="round"/>
<path d="M71.3 59.7h0M71.5 61.8h0M71.4 59.7h0M71.4 60.1h0M71.3 55.7h0M71.4 50.0h0" stroke="#ec6148" stroke-width="2.30" stroke-linecap="round"/>
<path d="M64.9 69.3h0M64.9 63.6h0M64.9 66.2h0" stroke="#f2764e" stroke-width="2.30" stroke-linecap="round"/>
<path d="M69.2 66.5h0M69.2 67.3h0M69.1 68.3h0" stroke="#ee684a" stroke-width="2.30" stroke-linecap="round"/>
<path d="M62.7 83.2h0M62.6 85.9h0M62.7 83.9h0M62.6 70.8h0" stroke="#f47e4f" stroke-width="2.30" stroke-linecap="round"/>
<path d="M72.8 59.9h0M72.8 58.2h0M73.0 48.6h0" stroke="#ea5c47" stroke-width="2.30" stroke-linecap="round"/>
<path d="M67.9 71.3h0M68.1 68.1h0M68.1 67.2h0M67.9 73.4h0" stroke="#ef6c4b" stroke-width="2.30" stroke-linecap="round"/>
<path d="M66.8 61.6h0M66.7 71.2h0M66.8 74.7h0M66.9 59.0h0" stroke="#f0704c" stroke-width="2.30" stroke-linecap="round"/>
<path d="M68.7 71.7h0M68.8 56.3h0" stroke="#ee6a4a" stroke-width="2.30" stroke-linecap="round"/>
<path d="M72.3 61.5h0M72.4 52.7h0M72.3 49.3h0M72.2 51.6h0" stroke="#eb5e47" stroke-width="2.30" stroke-linecap="round"/>
<path d="M61.5 87.4h0M61.6 68.4h0M61.5 72.9h0" stroke="#f58251" stroke-width="2.30" stroke-linecap="round"/>
<path d="M74.4 57.1h0M74.4 46.5h0" stroke="#e95746" stroke-width="2.30" stroke-linecap="round"/>
<path d="M65.2 66.0h0M65.4 58.5h0M65.2 72.7h0M65.3 68.2h0M65.5 68.6h0M65.4 64.6h0M65.3 74.0h0M65.5 64.6h0M65.3 62.0h0" stroke="#f2754d" stroke-width="2.30" stroke-linecap="round"/>
<path d="M61.4 67.2h0M61.4 75.0h0" stroke="#f58351" stroke-width="2.30" stroke-linecap="round"/>
<path d="M73.1 57.8h0M73.0 50.7h0M73.2 53.8h0" stroke="#ea5b47" stroke-width="2.30" stroke-linecap="round"/>
<path d="M72.1 60.3h0M72.1 59.6h0M72.1 53.7h0M72.1 53.2h0M72.1 50.8h0" stroke="#eb5f47" stroke-width="2.30" stroke-linecap="round"/>
<path d="M68.5 56.8h0" stroke="#ef6b4b" stroke-width="2.30" stroke-linecap="round"/>
<path d="M70.6 57.0h0M70.5 57.9h0" stroke="#ec6449" stroke-width="2.30" stroke-linecap="round"/>
<path d="M61.0 77.3h0M60.9 74.2h0" stroke="#f68552" stroke-width="2.30" stroke-linecap="round"/>
<path d="M67.1 66.0h0M67.2 76.2h0" stroke="#f06f4c" stroke-width="2.30" stroke-linecap="round"/>
<path d="M65.9 65.9h0M66.0 58.8h0M65.9 80.5h0M66.0 52.0h0" stroke="#f1734d" stroke-width="2.30" stroke-linecap="round"/>
<path d="M65.5 66.8h0M65.5 69.8h0" stroke="#f2744d" stroke-width="2.30" stroke-linecap="round"/>
<path d="M68.9 60.0h0M68.9 59.4h0M68.8 61.8h0M68.9 56.6h0M69.0 67.9h0" stroke="#ee694a" stroke-width="2.30" stroke-linecap="round"/>
<path d="M66.5 71.1h0M66.6 58.2h0M66.5 61.6h0M66.5 75.1h0" stroke="#f0714c" stroke-width="2.30" stroke-linecap="round"/>
<path d="M69.9 62.6h0M69.9 67.2h0M69.8 59.7h0M70.0 40.0h0" stroke="#ed6649" stroke-width="2.30" stroke-linecap="round"/>
<path d="M70.2 60.5h0M70.1 59.9h0" stroke="#ed6549" stroke-width="2.30" stroke-linecap="round"/>
<path d="M71.7 61.0h0M71.6 56.5h0M71.7 59.7h0" stroke="#eb6048" stroke-width="2.30" stroke-linecap="round"/>
<path d="M65.0 65.0h0M65.1 81.6h0" stroke="#f2764d" stroke-width="2.30" stroke-linecap="round"/>
<path d="M65.7 63.2h0M65.6 68.3h0M65.5 71.5h0M65.6 60.5h0M65.6 73.4h0M65.5 68.4h0M65.6 71.4h0" stroke="#f1744d" stroke-width="2.30" stroke-linecap="round"/>
<path d="M67.8 55.5h0M67.8 59.3h0" stroke="#ef6d4b" stroke-width="2.30" stroke-linecap="round"/>
<path d="M67.6 73.5h0" stroke="#ef6e4b" stroke-width="2.30" stroke-linecap="round"/>
<path d="M70.4 56.1h0" stroke="#ed6449" stroke-width="2.30" stroke-linecap="round"/>
<path d="M67.3 63.7h0" stroke="#f06e4c" stroke-width="2.30" stroke-linecap="round"/>
<path d="M67.5 69.5h0M67.5 70.9h0" stroke="#f06e4b" stroke-width="2.30" stroke-linecap="round"/>
<path d="M61.2 70.3h0" stroke="#f58452" stroke-width="2.30" stroke-linecap="round"/>
<path d="M63.6 85.0h0" stroke="#f37b4f" stroke-width="2.30" stroke-linecap="round"/>
<path d="M69.6 63.8h0M69.6 59.6h0" stroke="#ed674a" stroke-width="2.30" stroke-linecap="round"/>
<path d="M70.8 61.6h0" stroke="#ec6349" stroke-width="2.30" stroke-linecap="round"/>
<path d="M77.9 47.8h0M78.1 44.4h0M78.0 37.5h0M77.9 46.2h0M78.1 47.9h0M78.1 54.8h0M78.0 46.7h0M78.0 53.2h0" stroke="#e34f47" stroke-width="2.30" stroke-linecap="round"/>
<path d="M76.8 43.0h0M77.0 51.6h0M76.8 47.1h0M76.9 48.3h0M77.0 50.7h0M76.8 51.8h0M76.8 55.0h0M77.0 56.3h0M77.1 54.9h0M77.1 55.3h0M77.0 55.8h0M76.8 51.3h0M77.1 51.7h0" stroke="#e55146" stroke-width="2.30" stroke-linecap="round"/>
<path d="M71.1 50.6h0M71.0 52.7h0" stroke="#ec6248" stroke-width="2.30" stroke-linecap="round"/>
<path d="M77.5 48.9h0M77.3 56.4h0M77.3 48.3h0M77.3 44.3h0M77.6 52.1h0M77.2 55.5h0M77.5 56.2h0M77.2 51.8h0M77.4 53.8h0M77.3 56.6h0M77.4 53.8h0" stroke="#e45047" stroke-width="2.30" stroke-linecap="round"/>
<path d="M78.2 54.6h0M78.4 50.8h0M78.2 48.3h0M78.4 52.9h0M78.2 51.7h0M78.2 53.2h0" stroke="#e34e47" stroke-width="2.30" stroke-linecap="round"/>
<path d="M73.6 53.0h0M73.6 45.1h0" stroke="#e95a46" stroke-width="2.30" stroke-linecap="round"/>
<path d="M72.5 46.7h0M72.5 50.5h0" stroke="#eb5d47" stroke-width="2.30" stroke-linecap="round"/>
<path d="M74.2 56.5h0M74.1 49.1h0M74.0 52.0h0" stroke="#e95846" stroke-width="2.30" stroke-linecap="round"/>
<path d="M74.5 57.8h0" stroke="#e85745" stroke-width="2.30" stroke-linecap="round"/>
<path d="M75.1 47.7h0M75.0 52.0h0" stroke="#e85545" stroke-width="2.30" stroke-linecap="round"/>
<path d="M75.7 53.1h0" stroke="#e75346" stroke-width="2.30" stroke-linecap="round"/>
<path d="M78.9 49.3h0M78.8 42.8h0M78.8 53.2h0M78.8 52.0h0M78.6 54.7h0" stroke="#e24d48" stroke-width="2.30" stroke-linecap="round"/>
<path d="M77.7 49.2h0M77.8 50.8h0M77.7 50.5h0" stroke="#e44f47" stroke-width="2.30" stroke-linecap="round"/>
<path d="M72.6 50.0h0M72.7 48.5h0M72.6 52.2h0" stroke="#ea5d47" stroke-width="2.30" stroke-linecap="round"/>
<path d="M73.9 52.0h0" stroke="#e95946" stroke-width="2.30" stroke-linecap="round"/>
<path d="M76.2 49.4h0M76.4 42.6h0M76.5 53.7h0M76.5 52.4h0M76.3 50.7h0M76.4 49.2h0M76.3 56.1h0M76.4 54.9h0" stroke="#e65246" stroke-width="2.30" stroke-linecap="round"/>
<path d="M60.4 86.3h0M64.3 94.4h0M63.7 95.5h0M64.3 89.2h0M63.4 79.1h0M62.6 89.0h0M60.3 88.3h0M64.2 86.7h0M62.4 83.4h0M60.6 93.9h0M58.7 81.4h0M62.6 86.1h0M59.0 89.9h0M60.7 88.5h0M61.0 87.5h0M61.9 85.1h0M59.2 81.2h0M63.8 87.9h0M59.2 93.5h0M60.0 79.7h0M61.7 82.5h0M61.4 88.0h0M59.9 88.3h0M59.2 87.2h0M62.0 79.4h0M60.9 79.3h0M61.1 93.5h0M61.8 90.9h0M63.0 80.1h0M64.4 91.0h0" stroke="#eaa088" stroke-width="2.30" stroke-linecap="round"/>
<path d="M75.7 76.0h0M77.7 68.1h0M81.7 72.8h0M80.4 67.6h0M80.4 66.7h0M76.7 70.5h0M75.1 73.1h0M76.5 69.6h0M80.0 71.1h0M81.2 73.5h0M81.1 72.8h0M81.4 76.4h0M76.2 74.9h0M77.4 75.2h0M79.8 75.9h0M75.9 70.5h0M80.2 77.4h0M80.1 66.5h0M79.2 67.2h0M78.8 75.6h0M75.8 77.1h0M79.7 69.1h0M76.4 71.4h0M80.9 73.0h0M75.8 66.3h0M75.8 75.6h0M76.3 72.7h0M77.0 74.2h0M77.7 67.7h0M81.1 72.5h0M79.8 75.7h0M81.6 66.2h0M77.4 67.8h0M78.5 76.5h0M80.6 66.4h0M76.3 75.8h0M79.8 70.7h0M78.3 67.9h0M80.9 70.7h0M81.1 73.3h0" stroke="#e2505c" stroke-width="2.30" stroke-linecap="round"/>
<path d="M81.0 38.5h0M81.3 50.3h0M81.2 52.1h0M81.1 52.7h0M81.0 46.2h0" stroke="#de4849" stroke-width="2.30" stroke-linecap="round"/>
<path d="M72.0 47.0h0" stroke="#eb5f48" stroke-width="2.30" stroke-linecap="round"/>
<path d="M81.6 48.6h0M81.5 43.4h0" stroke="#de474a" stroke-width="2.30" stroke-linecap="round"/>
<path d="M91.1 53.6h0M90.9 53.1h0M91.0 50.3h0M91.1 44.4h0M91.0 46.9h0M91.1 47.6h0" stroke="#d0314c" stroke-width="2.30" stroke-linecap="round"/>
<path d="M87.8 48.2h0M87.8 52.6h0M87.9 52.4h0M87.9 54.7h0M87.9 54.2h0" stroke="#d4394c" stroke-width="2.30" stroke-linecap="round"/>
<path d="M109.7 47.3h0M109.3 46.4h0M109.4 49.0h0M109.2 44.6h0M109.1 43.2h0M109.1 48.1h0M109.6 51.5h0M109.1 51.1h0" stroke="#bc164d" stroke-width="2.30" stroke-linecap="round"/>
<path d="M98.3 42.6h0M98.3 43.5h0M98.6 47.1h0M98.6 50.7h0M98.3 56.2h0M98.4 55.3h0M98.3 48.8h0M98.3 43.5h0" stroke="#c71e4d" stroke-width="2.30" stroke-linecap="round"/>
<path d="M79.6 46.8h0M79.5 49.6h0M79.7 54.3h0M79.6 48.3h0M79.7 56.2h0" stroke="#e14b48" stroke-width="2.30" stroke-linecap="round"/>
<path d="M125.2 42.5h0M125.2 47.5h0" stroke="#a01d4f" stroke-width="2.30" stroke-linecap="round"/>
<path d="M95.4 49.5h0M95.1 48.0h0M95.2 44.0h0M95.4 46.0h0M95.4 51.1h0M95.3 51.9h0" stroke="#cb264d" stroke-width="2.30" stroke-linecap="round"/>
<path d="M114.8 51.1h0M114.8 46.9h0M114.5 46.4h0M115.1 45.0h0M114.8 48.0h0M114.7 47.7h0M114.8 41.8h0M114.3 47.0h0M114.9 48.0h0M114.6 42.3h0M115.2 44.2h0M114.4 49.6h0M114.7 45.8h0M115.1 46.8h0M115.0 36.0h0" stroke="#b7134c" stroke-width="2.30" stroke-linecap="round"/>
<path d="M117.0 48.8h0M117.2 42.3h0M117.2 43.8h0M116.7 45.0h0M116.7 49.4h0M117.0 41.4h0M116.9 41.9h0M116.8 45.6h0" stroke="#b5124c" stroke-width="2.30" stroke-linecap="round"/>
<path d="M136.2 46.6h0M136.2 40.3h0" stroke="#9ea48a" stroke-width="2.30" stroke-linecap="round"/>
<path d="M101.6 45.1h0M102.0 47.5h0M102.6 42.1h0M101.9 52.7h0M101.7 52.1h0M101.7 51.9h0M102.3 45.2h0M102.4 52.5h0M101.8 46.0h0M102.2 52.1h0M101.8 51.8h0M101.9 46.1h0M102.2 45.9h0M102.5 45.1h0" stroke="#c3194d" stroke-width="2.30" stroke-linecap="round"/>
<path d="M135.5 47.8h0M135.5 48.9h0M135.5 44.4h0" stroke="#9f9b87" stroke-width="2.30" stroke-linecap="round"/>
<path d="M97.5 51.1h0M97.5 46.1h0M97.8 44.2h0M97.8 52.2h0" stroke="#c8204d" stroke-width="2.30" stroke-linecap="round"/>
<path d="M130.1 44.5h0M130.1 45.9h0" stroke="#9a5b69" stroke-width="2.30" stroke-linecap="round"/>
<path d="M115.9 44.8h0M116.2 47.6h0M115.3 46.0h0M115.5 44.6h0M115.9 41.4h0M115.2 40.5h0M115.9 43.6h0M115.5 45.4h0M115.9 51.4h0M116.0 50.5h0M115.5 45.8h0M115.5 42.0h0M115.8 41.9h0M115.3 49.0h0M116.0 50.3h0M115.9 46.1h0" stroke="#b6134c" stroke-width="2.30" stroke-linecap="round"/>
<path d="M79.4 48.8h0M79.1 52.7h0M79.1 50.9h0M79.1 54.2h0M79.4 49.6h0M79.4 55.2h0M79.4 46.8h0M79.4 51.7h0M79.1 53.2h0M79.2 50.5h0" stroke="#e14c48" stroke-width="2.30" stroke-linecap="round"/>
<path d="M112.7 44.9h0M112.6 43.3h0M112.8 50.6h0M112.6 51.1h0M112.5 52.0h0M113.1 47.0h0M113.0 55.0h0" stroke="#b9144c" stroke-width="2.30" stroke-linecap="round"/>
<path d="M93.1 46.0h0M92.7 50.6h0M93.1 53.7h0M92.9 51.5h0" stroke="#ce2c4d" stroke-width="2.30" stroke-linecap="round"/>
<path d="M108.5 46.0h0M108.3 42.1h0M108.3 45.2h0M108.8 50.8h0M108.0 43.7h0M107.9 49.4h0M108.1 50.3h0M108.6 47.5h0M107.9 42.5h0M107.9 50.9h0M108.1 42.8h0M108.5 43.2h0M108.3 41.0h0M108.5 44.5h0M108.5 53.0h0M108.0 46.5h0M108.0 38.0h0" stroke="#bd164d" stroke-width="2.30" stroke-linecap="round"/>
<path d="M87.6 45.0h0M87.6 47.2h0M87.7 53.2h0M87.6 54.6h0M87.7 50.1h0M87.7 46.7h0M87.7 45.0h0M87.6 47.7h0" stroke="#d5394c" stroke-width="2.30" stroke-linecap="round"/>
<path d="M137.7 42.5h0M137.7 41.8h0" stroke="#9bb58f" stroke-width="2.30" stroke-linecap="round"/>
<path d="M138.4 44.8h0M138.4 48.0h0M138.4 51.0h0M138.4 46.2h0" stroke="#99bd92" stroke-width="2.30" stroke-linecap="round"/>
<path d="M118.7 51.0h0M118.9 51.0h0M119.3 45.1h0M118.9 40.7h0M119.1 47.3h0M119.4 43.1h0M118.9 40.3h0M119.0 55.0h0" stroke="#b3114c" stroke-width="2.30" stroke-linecap="round"/>
<path d="M100.7 50.6h0M100.7 52.6h0M101.0 43.7h0M100.8 52.4h0M100.8 46.5h0M100.6 47.0h0M101.1 45.0h0M100.8 44.0h0M100.9 40.4h0M101.0 40.3h0M100.7 54.1h0" stroke="#c41a4d" stroke-width="2.30" stroke-linecap="round"/>
<path d="M137.5 41.9h0M137.5 42.1h0" stroke="#9bb28e" stroke-width="2.30" stroke-linecap="round"/>
<path d="M127.5 41.8h0M127.5 43.7h0" stroke="#9b3659" stroke-width="2.30" stroke-linecap="round"/>
<path d="M120.5 49.5h0M120.4 42.8h0M120.6 50.1h0M120.5 49.0h0M120.8 41.1h0M120.6 49.8h0M120.5 49.9h0M120.5 43.2h0" stroke="#b1114c" stroke-width="2.30" stroke-linecap="round"/>
<path d="M123.5 41.9h0M123.4 44.1h0M123.5 44.9h0M123.5 45.3h0M123.5 47.1h0" stroke="#a9164d" stroke-width="2.30" stroke-linecap="round"/>
<path d="M118.5 40.9h0M118.4 42.2h0M118.4 47.5h0M118.7 50.5h0" stroke="#b3124c" stroke-width="2.30" stroke-linecap="round"/>
<path d="M135.1 47.7h0M135.1 40.0h0" stroke="#a09685" stroke-width="2.30" stroke-linecap="round"/>
<path d="M89.4 50.0h0M89.5 53.0h0M89.5 48.6h0" stroke="#d2354c" stroke-width="2.30" stroke-linecap="round"/>
<path d="M137.3 45.3h0M137.3 46.2h0" stroke="#9bb08e" stroke-width="2.30" stroke-linecap="round"/>
<path d="M99.3 50.7h0M99.2 52.2h0M99.2 43.9h0M99.2 49.5h0M99.2 45.1h0M99.1 51.5h0" stroke="#c61c4d" stroke-width="2.30" stroke-linecap="round"/>
<path d="M110.4 41.2h0M110.8 48.1h0M110.1 48.1h0M110.3 49.7h0M110.0 46.1h0M110.0 50.7h0M110.4 50.0h0M110.0 42.4h0M110.2 50.0h0M110.3 41.5h0M111.0 41.1h0M110.1 45.5h0M110.1 43.1h0M110.1 44.6h0M111.0 41.1h0M110.1 52.7h0" stroke="#bb154d" stroke-width="2.30" stroke-linecap="round"/>
<path d="M139.3 40.0h0M139.3 44.1h0M139.3 47.6h0M139.3 49.2h0" stroke="#97c895" stroke-width="2.30" stroke-linecap="round"/>
<path d="M120.9 47.8h0M121.0 49.5h0M121.0 47.1h0M121.1 48.0h0" stroke="#b1104c" stroke-width="2.30" stroke-linecap="round"/>
<path d="M87.2 45.9h0" stroke="#d53b4c" stroke-width="2.30" stroke-linecap="round"/>
<path d="M132.8 40.1h0" stroke="#9d7b78" stroke-width="2.30" stroke-linecap="round"/>
<path d="M130.3 41.9h0" stroke="#9a5d6a" stroke-width="2.30" stroke-linecap="round"/>
<path d="M128.4 47.4h0" stroke="#9b435f" stroke-width="2.30" stroke-linecap="round"/>
<path d="M132.4 49.0h0M132.4 44.9h0" stroke="#9d7776" stroke-width="2.30" stroke-linecap="round"/>
<path d="M107.6 44.2h0M106.9 46.6h0M107.3 41.9h0M107.0 42.5h0M107.1 47.2h0M107.3 45.0h0M107.2 49.1h0M107.2 45.2h0M107.2 54.1h0M106.9 51.0h0M107.3 52.7h0M107.4 47.0h0" stroke="#be174d" stroke-width="2.30" stroke-linecap="round"/>
<path d="M85.0 44.6h0M84.9 45.4h0M84.9 54.5h0M85.1 44.8h0M85.0 58.0h0" stroke="#d8404c" stroke-width="2.30" stroke-linecap="round"/>
<path d="M139.2 41.5h0M139.1 42.9h0M139.2 49.6h0M139.1 44.5h0" stroke="#98c695" stroke-width="2.30" stroke-linecap="round"/>
<path d="M132.1 40.1h0M132.0 47.0h0" stroke="#9c7274" stroke-width="2.30" stroke-linecap="round"/>
<path d="M80.3 50.6h0M80.2 57.2h0" stroke="#e04a49" stroke-width="2.30" stroke-linecap="round"/>
<path d="M86.2 46.3h0M86.3 46.4h0" stroke="#d63d4c" stroke-width="2.30" stroke-linecap="round"/>
<path d="M130.4 48.8h0" stroke="#9a5f6a" stroke-width="2.30" stroke-linecap="round"/>
<path d="M133.5 41.6h0M133.4 47.3h0M133.5 40.5h0" stroke="#9e837c" stroke-width="2.30" stroke-linecap="round"/>
<path d="M139.2 44.0h0M139.2 46.6h0M139.2 46.6h0" stroke="#98c795" stroke-width="2.30" stroke-linecap="round"/>
<path d="M134.6 43.6h0" stroke="#a09083" stroke-width="2.30" stroke-linecap="round"/>
<path d="M100.0 52.4h0M99.8 47.3h0M100.4 51.6h0M100.2 53.1h0M100.2 44.3h0M100.1 48.1h0M99.8 42.7h0M99.9 52.6h0M100.5 51.5h0" stroke="#c51a4d" stroke-width="2.30" stroke-linecap="round"/>
<path d="M105.9 51.0h0M106.0 51.5h0M106.7 52.1h0M106.0 48.6h0M106.3 50.3h0M106.0 52.0h0M106.7 50.4h0M106.6 48.4h0M106.0 51.1h0M106.3 47.0h0M106.6 44.5h0M105.9 54.8h0M106.5 49.7h0M106.2 42.9h0M106.0 44.4h0" stroke="#bf174d" stroke-width="2.30" stroke-linecap="round"/>
<path d="M138.7 45.2h0" stroke="#99c193" stroke-width="2.30" stroke-linecap="round"/>
<path d="M92.4 45.8h0M92.5 51.9h0M92.4 45.4h0" stroke="#cf2d4c" stroke-width="2.30" stroke-linecap="round"/>
<path d="M96.5 53.7h0M96.5 46.7h0M96.5 57.5h0M96.5 54.3h0" stroke="#c9234d" stroke-width="2.30" stroke-linecap="round"/>
<path d="M91.9 50.1h0M91.8 49.1h0M91.8 50.2h0" stroke="#cf2f4c" stroke-width="2.30" stroke-linecap="round"/>
<path d="M131.3 47.7h0" stroke="#9c696f" stroke-width="2.30" stroke-linecap="round"/>
<path d="M111.9 50.7h0M111.8 48.9h0M111.2 50.4h0M111.3 51.9h0M111.8 47.5h0M111.0 42.8h0M111.6 51.7h0M111.5 43.7h0M111.1 46.4h0" stroke="#ba154c" stroke-width="2.30" stroke-linecap="round"/>
<path d="M86.8 51.8h0M86.5 47.1h0M86.6 51.8h0M86.8 44.5h0M86.7 47.1h0M86.7 45.3h0M86.6 46.8h0M86.5 52.3h0M86.4 44.9h0M86.4 45.9h0" stroke="#d63c4c" stroke-width="2.30" stroke-linecap="round"/>
<path d="M118.1 49.9h0M118.3 43.6h0M117.9 47.8h0M118.2 42.7h0M118.3 49.3h0M117.7 49.2h0M118.1 44.5h0M118.0 48.0h0M117.8 48.1h0M117.9 45.1h0M117.3 46.4h0M117.8 47.1h0M117.3 53.4h0M117.5 41.8h0M117.9 49.8h0" stroke="#b4124c" stroke-width="2.30" stroke-linecap="round"/>
<path d="M90.1 53.6h0M90.1 47.4h0M90.0 48.7h0" stroke="#d2334c" stroke-width="2.30" stroke-linecap="round"/>
<path d="M137.4 40.9h0" stroke="#9bb18e" stroke-width="2.30" stroke-linecap="round"/>
<path d="M136.6 48.8h0M136.5 40.6h0M136.5 48.7h0" stroke="#9da78b" stroke-width="2.30" stroke-linecap="round"/>
<path d="M83.9 55.4h0M84.0 47.1h0M84.0 53.4h0M83.9 49.5h0M84.0 54.9h0" stroke="#da424b" stroke-width="2.30" stroke-linecap="round"/>
<path d="M83.6 46.6h0M83.6 45.7h0M83.5 52.1h0M83.7 47.3h0M83.8 50.2h0M83.6 50.5h0M83.8 45.1h0M83.8 48.9h0M83.4 52.1h0M83.6 45.6h0" stroke="#da434b" stroke-width="2.30" stroke-linecap="round"/>
<path d="M125.5 40.5h0M125.4 46.8h0" stroke="#9f1e4f" stroke-width="2.30" stroke-linecap="round"/>
<path d="M129.9 48.6h0M129.9 43.0h0M129.8 49.1h0" stroke="#9a5867" stroke-width="2.30" stroke-linecap="round"/>
<path d="M139.6 39.7h0M139.6 46.8h0M139.6 41.3h0" stroke="#97cb96" stroke-width="2.30" stroke-linecap="round"/>
<path d="M127.8 40.0h0" stroke="#9b3a5b" stroke-width="2.30" stroke-linecap="round"/>
<path d="M86.0 49.2h0M85.7 50.9h0M85.9 45.4h0M85.7 45.5h0M85.7 53.1h0" stroke="#d73e4c" stroke-width="2.30" stroke-linecap="round"/>
<path d="M89.1 51.7h0M88.8 47.5h0" stroke="#d3364c" stroke-width="2.30" stroke-linecap="round"/>
<path d="M113.3 42.0h0M113.5 43.2h0M113.8 45.3h0M113.8 50.5h0M114.1 43.8h0M114.0 45.5h0M113.3 45.6h0M114.1 51.1h0M113.3 45.9h0M113.5 48.1h0M113.5 43.3h0" stroke="#b8144c" stroke-width="2.30" stroke-linecap="round"/>
<path d="M90.9 54.5h0M90.8 53.5h0M90.9 53.0h0" stroke="#d1314c" stroke-width="2.30" stroke-linecap="round"/>
<path d="M137.0 46.2h0M137.0 44.1h0" stroke="#9cad8d" stroke-width="2.30" stroke-linecap="round"/>
<path d="M125.9 46.5h0" stroke="#9d2050" stroke-width="2.30" stroke-linecap="round"/>
<path d="M126.6 49.9h0" stroke="#9c2853" stroke-width="2.30" stroke-linecap="round"/>
<path d="M136.4 46.1h0M136.4 40.6h0M136.4 39.9h0" stroke="#9da68a" stroke-width="2.30" stroke-linecap="round"/>
<path d="M103.7 45.9h0M104.1 44.4h0M103.7 50.9h0M104.4 52.5h0M104.3 48.0h0M104.6 50.2h0M103.8 47.1h0M103.9 52.0h0M104.1 49.8h0M104.4 49.0h0M104.1 46.8h0M104.0 52.6h0M104.3 54.6h0M104.6 50.2h0M103.9 54.8h0" stroke="#c1184d" stroke-width="2.30" stroke-linecap="round"/>
<path d="M140.1 39.5h0M140.3 46.9h0M140.4 46.7h0M140.1 42.2h0M140.4 45.4h0M140.2 43.6h0M140.2 41.2h0M140.6 39.6h0M140.4 49.4h0M140.2 44.8h0M140.3 53.4h0M140.5 51.6h0M140.6 55.4h0M140.6 50.3h0M140.1 45.1h0M140.0 55.0h0" stroke="#96d098" stroke-width="2.30" stroke-linecap="round"/>
<path d="M90.5 45.3h0M90.3 45.4h0M90.7 46.9h0M90.4 46.7h0M90.5 46.6h0M90.4 54.6h0M90.4 51.2h0M90.6 53.2h0M90.5 56.8h0M90.6 47.4h0" stroke="#d1324c" stroke-width="2.30" stroke-linecap="round"/>
<path d="M136.8 39.7h0M136.9 44.5h0M136.8 46.9h0" stroke="#9cab8c" stroke-width="2.30" stroke-linecap="round"/>
<path d="M126.6 42.9h0" stroke="#9c2954" stroke-width="2.30" stroke-linecap="round"/>
<path d="M98.1 53.2h0M98.0 43.2h0M98.1 45.9h0" stroke="#c71f4d" stroke-width="2.30" stroke-linecap="round"/>
<path d="M92.6 50.5h0M92.7 53.6h0" stroke="#ce2d4d" stroke-width="2.30" stroke-linecap="round"/>
<path d="M127.8 43.5h0" stroke="#9b3b5b" stroke-width="2.30" stroke-linecap="round"/>
<path d="M114.2 47.3h0M114.2 45.8h0M114.3 46.2h0M114.3 50.8h0M114.2 42.6h0" stroke="#b7144c" stroke-width="2.30" stroke-linecap="round"/>
<path d="M121.7 45.8h0M121.8 43.5h0M121.6 48.6h0M121.9 43.2h0M122.1 51.3h0" stroke="#b0104c" stroke-width="2.30" stroke-linecap="round"/>
<path d="M91.6 50.4h0M91.5 46.7h0M91.6 43.9h0M91.6 45.6h0M91.7 51.8h0" stroke="#d02f4c" stroke-width="2.30" stroke-linecap="round"/>
<path d="M138.5 44.3h0M138.5 44.5h0M138.5 43.2h0M138.5 40.4h0" stroke="#99be92" stroke-width="2.30" stroke-linecap="round"/>
<path d="M135.6 39.6h0M135.6 41.1h0" stroke="#9f9c87" stroke-width="2.30" stroke-linecap="round"/>
<path d="M83.4 48.7h0M83.4 51.1h0M83.4 51.4h0" stroke="#db434b" stroke-width="2.30" stroke-linecap="round"/>
<path d="M131.7 40.7h0M131.7 41.9h0" stroke="#9c6e72" stroke-width="2.30" stroke-linecap="round"/>
<path d="M102.7 45.6h0M102.8 49.2h0M102.8 42.0h0M102.9 47.8h0M102.6 43.5h0M102.8 47.1h0M102.9 43.3h0M102.9 45.7h0M103.2 49.2h0" stroke="#c2194d" stroke-width="2.30" stroke-linecap="round"/>
<path d="M90.1 50.3h0M90.2 53.9h0M90.2 49.6h0" stroke="#d1334c" stroke-width="2.30" stroke-linecap="round"/>
<path d="M79.9 47.0h0M79.9 49.8h0M79.9 46.0h0" stroke="#e04b48" stroke-width="2.30" stroke-linecap="round"/>
<path d="M98.8 45.1h0M98.8 47.0h0M98.9 48.1h0M99.0 62.5h0" stroke="#c61d4d" stroke-width="2.30" stroke-linecap="round"/>
<path d="M89.2 48.6h0M89.1 46.5h0M89.3 51.2h0M89.2 48.8h0" stroke="#d3354c" stroke-width="2.30" stroke-linecap="round"/>
<path d="M134.3 45.2h0M134.4 48.0h0M134.3 41.5h0M134.3 42.6h0M134.3 43.4h0" stroke="#9f8d81" stroke-width="2.30" stroke-linecap="round"/>
<path d="M127.7 42.5h0M127.7 41.2h0M127.7 45.9h0" stroke="#9b395a" stroke-width="2.30" stroke-linecap="round"/>
<path d="M135.7 42.5h0M135.7 40.7h0M135.7 42.3h0M135.7 46.2h0" stroke="#9f9e88" stroke-width="2.30" stroke-linecap="round"/>
<path d="M139.1 45.9h0" stroke="#98c595" stroke-width="2.30" stroke-linecap="round"/>
<path d="M131.9 43.1h0M131.9 46.2h0M131.9 45.1h0" stroke="#9c7073" stroke-width="2.30" stroke-linecap="round"/>
<path d="M104.8 41.9h0M104.8 42.4h0M105.0 45.8h0M105.1 47.8h0M104.8 48.2h0M105.3 45.9h0M104.9 53.2h0" stroke="#c0184d" stroke-width="2.30" stroke-linecap="round"/>
<path d="M85.2 47.0h0M85.3 50.1h0M85.3 46.8h0M85.3 54.4h0" stroke="#d83f4c" stroke-width="2.30" stroke-linecap="round"/>
<path d="M132.4 45.0h0" stroke="#9d7676" stroke-width="2.30" stroke-linecap="round"/>
<path d="M128.6 44.5h0M128.6 44.9h0" stroke="#9b4660" stroke-width="2.30" stroke-linecap="round"/>
<path d="M136.5 41.6h0" stroke="#9da68b" stroke-width="2.30" stroke-linecap="round"/>
<path d="M134.7 41.0h0M134.7 42.4h0M134.8 43.2h0M134.8 44.6h0" stroke="#a09284" stroke-width="2.30" stroke-linecap="round"/>
<path d="M97.9 50.7h0M98.0 47.2h0M97.9 48.1h0" stroke="#c81f4d" stroke-width="2.30" stroke-linecap="round"/>
<path d="M133.7 44.9h0" stroke="#9e867e" stroke-width="2.30" stroke-linecap="round"/>
<path d="M120.4 42.0h0M120.1 46.0h0M119.8 50.6h0M119.6 48.7h0M120.1 40.7h0M119.8 47.7h0M120.4 49.8h0M119.4 52.8h0M120.3 46.7h0M119.5 50.6h0M119.5 36.3h0M119.4 47.3h0M120.2 43.2h0M120.2 45.7h0" stroke="#b2114c" stroke-width="2.30" stroke-linecap="round"/>
<path d="M134.7 44.0h0" stroke="#a09183" stroke-width="2.30" stroke-linecap="round"/>
<path d="M136.4 40.5h0M136.4 46.3h0M136.3 42.3h0" stroke="#9da58a" stroke-width="2.30" stroke-linecap="round"/>
<path d="M138.2 41.2h0M138.1 43.4h0M138.2 43.7h0M138.2 53.0h0" stroke="#9aba91" stroke-width="2.30" stroke-linecap="round"/>
<path d="M134.0 48.7h0" stroke="#9f897f" stroke-width="2.30" stroke-linecap="round"/>
<path d="M97.3 45.4h0M97.4 42.4h0" stroke="#c8214d" stroke-width="2.30" stroke-linecap="round"/>
<path d="M137.7 42.3h0M137.7 47.0h0M137.6 41.8h0M137.6 40.8h0M137.6 44.7h0" stroke="#9bb48f" stroke-width="2.30" stroke-linecap="round"/>
<path d="M103.6 48.8h0M103.3 52.3h0M103.4 49.9h0M103.5 46.8h0" stroke="#c2184d" stroke-width="2.30" stroke-linecap="round"/>
<path d="M83.3 49.9h0M83.1 49.7h0M83.2 44.9h0M82.9 55.4h0M83.1 45.5h0M82.9 47.4h0M83.1 45.5h0M83.0 47.1h0M82.9 57.5h0" stroke="#db444b" stroke-width="2.30" stroke-linecap="round"/>
<path d="M129.5 43.8h0M129.5 40.1h0" stroke="#9a5365" stroke-width="2.30" stroke-linecap="round"/>
<path d="M135.4 40.3h0M135.4 47.1h0M135.4 47.0h0" stroke="#9f9a87" stroke-width="2.30" stroke-linecap="round"/>
<path d="M138.8 48.7h0" stroke="#98c193" stroke-width="2.30" stroke-linecap="round"/>
<path d="M131.5 44.3h0M131.6 48.1h0M131.5 50.3h0" stroke="#9c6c71" stroke-width="2.30" stroke-linecap="round"/>
<path d="M95.5 52.9h0M95.6 45.9h0M95.5 45.4h0M95.6 51.5h0M95.5 51.4h0M95.6 48.6h0M95.6 44.6h0" stroke="#cb254d" stroke-width="2.30" stroke-linecap="round"/>
<path d="M136.3 41.3h0" stroke="#9da48a" stroke-width="2.30" stroke-linecap="round"/>
<path d="M94.0 51.6h0M93.9 48.0h0M94.1 51.9h0M94.0 47.2h0M93.9 51.8h0" stroke="#cd294d" stroke-width="2.30" stroke-linecap="round"/>
<path d="M101.3 46.2h0M101.2 51.4h0M101.3 43.1h0M101.3 49.6h0M101.4 52.3h0M101.3 49.5h0" stroke="#c4194d" stroke-width="2.30" stroke-linecap="round"/>
<path d="M84.2 49.8h0M84.2 47.5h0M84.2 48.2h0M84.2 52.3h0M84.2 45.9h0" stroke="#d9424b" stroke-width="2.30" stroke-linecap="round"/>
<path d="M86.9 50.2h0M86.9 52.9h0M86.8 48.4h0" stroke="#d63b4c" stroke-width="2.30" stroke-linecap="round"/>
<path d="M89.8 48.5h0M89.9 52.1h0M89.6 52.5h0M89.8 51.9h0M89.7 47.3h0M89.9 50.1h0M89.8 50.0h0" stroke="#d2344c" stroke-width="2.30" stroke-linecap="round"/>
<path d="M76.0 55.8h0M76.0 52.2h0M76.2 48.0h0" stroke="#e65346" stroke-width="2.30" stroke-linecap="round"/>
<path d="M78.6 49.6h0" stroke="#e24e47" stroke-width="2.30" stroke-linecap="round"/>
<path d="M93.2 50.0h0" stroke="#ce2b4d" stroke-width="2.30" stroke-linecap="round"/>
<path d="M138.9 39.8h0M138.9 48.2h0" stroke="#98c394" stroke-width="2.30" stroke-linecap="round"/>
<path d="M135.3 43.6h0M135.3 43.6h0M135.3 40.2h0" stroke="#9f9986" stroke-width="2.30" stroke-linecap="round"/>
<path d="M105.6 42.4h0M105.7 45.5h0M105.7 41.3h0" stroke="#c0174d" stroke-width="2.30" stroke-linecap="round"/>
<path d="M126.9 41.2h0" stroke="#9c2d55" stroke-width="2.30" stroke-linecap="round"/>
<path d="M133.5 48.3h0" stroke="#9e847c" stroke-width="2.30" stroke-linecap="round"/>
<path d="M131.6 45.8h0M131.6 40.7h0M131.6 39.2h0" stroke="#9c6d71" stroke-width="2.30" stroke-linecap="round"/>
<path d="M136.9 46.8h0M136.9 40.8h0" stroke="#9cac8c" stroke-width="2.30" stroke-linecap="round"/>
<path d="M82.3 52.7h0" stroke="#dc464a" stroke-width="2.30" stroke-linecap="round"/>
<path d="M139.4 45.6h0M139.4 42.7h0M139.4 42.4h0" stroke="#97c996" stroke-width="2.30" stroke-linecap="round"/>
<path d="M135.3 47.0h0M135.3 46.8h0M135.3 47.5h0M135.3 40.9h0" stroke="#9f9886" stroke-width="2.30" stroke-linecap="round"/>
<path d="M93.6 45.8h0M93.6 46.6h0M93.5 52.2h0M93.7 45.6h0M93.6 49.0h0" stroke="#cd2a4d" stroke-width="2.30" stroke-linecap="round"/>
<path d="M126.5 47.1h0" stroke="#9c2753" stroke-width="2.30" stroke-linecap="round"/>
<path d="M99.5 48.8h0M99.4 50.5h0" stroke="#c61b4d" stroke-width="2.30" stroke-linecap="round"/>
<path d="M136.6 46.9h0" stroke="#9da88b" stroke-width="2.30" stroke-linecap="round"/>
<path d="M77.2 46.6h0" stroke="#e55047" stroke-width="2.30" stroke-linecap="round"/>
<path d="M99.8 44.7h0" stroke="#c51b4d" stroke-width="2.30" stroke-linecap="round"/>
<path d="M81.8 47.8h0M81.8 51.3h0" stroke="#dd474a" stroke-width="2.30" stroke-linecap="round"/>
<path d="M127.0 44.1h0" stroke="#9b2f56" stroke-width="2.30" stroke-linecap="round"/>
<path d="M94.4 47.2h0M94.5 48.5h0M94.3 46.3h0M94.3 53.1h0" stroke="#cc284d" stroke-width="2.30" stroke-linecap="round"/>
<path d="M80.8 51.8h0M80.5 50.0h0M80.5 48.5h0M80.8 45.5h0M80.9 45.2h0M80.7 47.4h0M80.7 53.1h0M80.6 52.4h0" stroke="#df4949" stroke-width="2.30" stroke-linecap="round"/>
<path d="M107.7 51.7h0" stroke="#be164d" stroke-width="2.30" stroke-linecap="round"/>
<path d="M123.1 43.9h0" stroke="#ab144d" stroke-width="2.30" stroke-linecap="round"/>
<path d="M131.8 42.2h0" stroke="#9c6f72" stroke-width="2.30" stroke-linecap="round"/>
<path d="M135.0 45.8h0M135.0 42.6h0M135.0 48.9h0" stroke="#a09585" stroke-width="2.30" stroke-linecap="round"/>
<path d="M94.9 44.8h0M95.0 41.0h0" stroke="#cb274d" stroke-width="2.30" stroke-linecap="round"/>
<path d="M138.3 41.2h0" stroke="#99bc92" stroke-width="2.30" stroke-linecap="round"/>
<path d="M130.9 44.0h0M130.9 39.5h0" stroke="#9b656d" stroke-width="2.30" stroke-linecap="round"/>
<path d="M131.1 42.1h0" stroke="#9b676f" stroke-width="2.30" stroke-linecap="round"/>
<path d="M122.2 42.7h0M122.2 41.1h0" stroke="#af114c" stroke-width="2.30" stroke-linecap="round"/>
<path d="M133.2 39.6h0M133.2 43.4h0" stroke="#9e807b" stroke-width="2.30" stroke-linecap="round"/>
<path d="M123.7 50.2h0" stroke="#a8174e" stroke-width="2.30" stroke-linecap="round"/>
<path d="M122.6 47.3h0" stroke="#ad134d" stroke-width="2.30" stroke-linecap="round"/>
<path d="M137.9 46.3h0" stroke="#9ab790" stroke-width="2.30" stroke-linecap="round"/>
<path d="M88.5 53.7h0M88.4 42.0h0" stroke="#d4374c" stroke-width="2.30" stroke-linecap="round"/>
<path d="M125.1 45.8h0M124.9 48.1h0M125.0 47.9h0M125.0 45.7h0" stroke="#a11c4f" stroke-width="2.30" stroke-linecap="round"/>
<path d="M136.8 47.8h0" stroke="#9caa8c" stroke-width="2.30" stroke-linecap="round"/>
<path d="M130.0 47.7h0M130.0 37.0h0" stroke="#9a5a68" stroke-width="2.30" stroke-linecap="round"/>
<path d="M126.0 50.0h0M125.9 48.6h0M126.0 53.0h0" stroke="#9c2050" stroke-width="2.30" stroke-linecap="round"/>
<path d="M92.0 52.5h0M91.9 53.2h0M92.2 51.1h0M92.2 53.7h0M92.1 45.2h0M92.0 60.0h0" stroke="#cf2e4c" stroke-width="2.30" stroke-linecap="round"/>
<path d="M122.4 47.7h0" stroke="#ae114c" stroke-width="2.30" stroke-linecap="round"/>
<path d="M139.5 40.1h0M139.5 46.2h0M139.5 41.9h0" stroke="#97ca96" stroke-width="2.30" stroke-linecap="round"/>
<path d="M128.4 44.2h0" stroke="#9b435e" stroke-width="2.30" stroke-linecap="round"/>
<path d="M138.5 47.9h0" stroke="#99bf92" stroke-width="2.30" stroke-linecap="round"/>
<path d="M129.6 46.9h0" stroke="#9a5465" stroke-width="2.30" stroke-linecap="round"/>
<path d="M129.1 45.9h0M129.1 40.9h0" stroke="#9a4d63" stroke-width="2.30" stroke-linecap="round"/>
<path d="M88.0 51.2h0M88.2 52.3h0M88.2 51.9h0M88.0 47.4h0M88.0 39.0h0" stroke="#d4384c" stroke-width="2.30" stroke-linecap="round"/>
<path d="M84.3 45.7h0M84.3 44.6h0M84.3 54.9h0M84.7 49.7h0M84.6 49.5h0M84.6 44.9h0" stroke="#d9414c" stroke-width="2.30" stroke-linecap="round"/>
<path d="M130.4 43.3h0" stroke="#9a5e6a" stroke-width="2.30" stroke-linecap="round"/>
<path d="M135.8 46.8h0" stroke="#9e9f88" stroke-width="2.30" stroke-linecap="round"/>
<path d="M138.3 42.9h0M138.3 52.8h0" stroke="#99bc91" stroke-width="2.30" stroke-linecap="round"/>
<path d="M128.7 39.9h0M128.7 49.1h0" stroke="#9b4860" stroke-width="2.30" stroke-linecap="round"/>
<path d="M125.6 47.2h0" stroke="#9e1e50" stroke-width="2.30" stroke-linecap="round"/>
<path d="M139.0 45.9h0M139.0 46.6h0" stroke="#98c594" stroke-width="2.30" stroke-linecap="round"/>
<path d="M123.8 42.0h0" stroke="#a7174e" stroke-width="2.30" stroke-linecap="round"/>
<path d="M129.9 48.1h0" stroke="#9a5968" stroke-width="2.30" stroke-linecap="round"/>
<path d="M130.9 40.7h0" stroke="#9b646d" stroke-width="2.30" stroke-linecap="round"/>
<path d="M128.9 47.6h0" stroke="#9b4a61" stroke-width="2.30" stroke-linecap="round"/>
<path d="M137.8 47.2h0" stroke="#9ab690" stroke-width="2.30" stroke-linecap="round"/>
<path d="M131.5 42.0h0" stroke="#9c6b70" stroke-width="2.30" stroke-linecap="round"/>
<path d="M136.7 48.0h0" stroke="#9da98b" stroke-width="2.30" stroke-linecap="round"/>
<path d="M134.0 48.1h0M134.0 37.9h0" stroke="#9f8a7f" stroke-width="2.30" stroke-linecap="round"/>
<path d="M127.5 49.8h0M127.5 48.4h0" stroke="#9b3559" stroke-width="2.30" stroke-linecap="round"/>
<path d="M82.0 47.2h0M81.9 47.1h0M82.1 50.0h0" stroke="#dd464a" stroke-width="2.30" stroke-linecap="round"/>
<path d="M129.0 49.7h0" stroke="#9b4b62" stroke-width="2.30" stroke-linecap="round"/>
<path d="M127.1 46.9h0" stroke="#9b3057" stroke-width="2.30" stroke-linecap="round"/>
<path d="M131.0 47.0h0" stroke="#9b656e" stroke-width="2.30" stroke-linecap="round"/>
<path d="M139.7 45.7h0M139.6 43.8h0M139.7 47.4h0M139.7 47.7h0M139.7 45.2h0" stroke="#97cc97" stroke-width="2.30" stroke-linecap="round"/>
<path d="M126.7 44.2h0" stroke="#9c2a54" stroke-width="2.30" stroke-linecap="round"/>
<path d="M138.0 42.5h0M138.1 46.3h0M138.1 45.9h0" stroke="#9ab991" stroke-width="2.30" stroke-linecap="round"/>
<path d="M136.0 39.4h0M136.0 46.9h0M136.0 45.0h0M136.0 40.5h0M136.0 41.2h0" stroke="#9ea189" stroke-width="2.30" stroke-linecap="round"/>
<path d="M125.7 42.6h0" stroke="#9e1f50" stroke-width="2.30" stroke-linecap="round"/>
<path d="M124.2 46.0h0M124.2 51.5h0" stroke="#a5194e" stroke-width="2.30" stroke-linecap="round"/>
<path d="M132.9 41.5h0" stroke="#9e7d79" stroke-width="2.30" stroke-linecap="round"/>
<path d="M136.2 39.7h0M136.2 42.5h0" stroke="#9ea389" stroke-width="2.30" stroke-linecap="round"/>
<path d="M82.8 46.1h0M82.4 47.8h0M82.5 45.4h0" stroke="#dc454a" stroke-width="2.30" stroke-linecap="round"/>
<path d="M138.6 44.2h0M138.7 43.1h0" stroke="#99c093" stroke-width="2.30" stroke-linecap="round"/>
<path d="M137.0 41.2h0" stroke="#9cac8d" stroke-width="2.30" stroke-linecap="round"/>
<path d="M124.1 45.3h0" stroke="#a6184e" stroke-width="2.30" stroke-linecap="round"/>
<path d="M136.7 42.7h0" stroke="#9daa8c" stroke-width="2.30" stroke-linecap="round"/>
<path d="M137.6 40.0h0" stroke="#9bb38f" stroke-width="2.30" stroke-linecap="round"/>
<path d="M87.4 53.4h0M87.5 45.9h0M87.4 49.4h0M87.5 47.6h0" stroke="#d53a4c" stroke-width="2.30" stroke-linecap="round"/>
<path d="M125.3 48.9h0" stroke="#9f1d4f" stroke-width="2.30" stroke-linecap="round"/>
<path d="M123.1 45.2h0" stroke="#aa144d" stroke-width="2.30" stroke-linecap="round"/>
<path d="M127.0 42.2h0" stroke="#9c2e56" stroke-width="2.30" stroke-linecap="round"/>
<path d="M122.7 41.7h0M122.8 45.4h0" stroke="#ac134d" stroke-width="2.30" stroke-linecap="round"/>
<path d="M91.4 46.7h0" stroke="#d0304c" stroke-width="2.30" stroke-linecap="round"/>
<path d="M138.0 44.7h0M138.0 46.9h0" stroke="#9ab890" stroke-width="2.30" stroke-linecap="round"/>
<path d="M132.0 47.7h0M132.0 49.2h0" stroke="#9c7173" stroke-width="2.30" stroke-linecap="round"/>
<path d="M127.2 49.6h0M127.1 49.6h0" stroke="#9b3157" stroke-width="2.30" stroke-linecap="round"/>
<path d="M135.9 47.7h0" stroke="#9ea088" stroke-width="2.30" stroke-linecap="round"/>
<path d="M129.5 42.2h0M129.4 45.1h0" stroke="#9a5265" stroke-width="2.30" stroke-linecap="round"/>
<path d="M129.3 42.9h0" stroke="#9a4f64" stroke-width="2.30" stroke-linecap="round"/>
<path d="M138.2 44.6h0" stroke="#9abb91" stroke-width="2.30" stroke-linecap="round"/>
<path d="M128.2 41.8h0M128.2 46.5h0" stroke="#9b405d" stroke-width="2.30" stroke-linecap="round"/>
<path d="M135.1 46.9h0" stroke="#a09785" stroke-width="2.30" stroke-linecap="round"/>
<path d="M85.4 46.6h0M85.4 48.5h0" stroke="#d73f4c" stroke-width="2.30" stroke-linecap="round"/>
<path d="M122.4 42.4h0" stroke="#ae124c" stroke-width="2.30" stroke-linecap="round"/>
<path d="M93.4 47.9h0" stroke="#cd2b4d" stroke-width="2.30" stroke-linecap="round"/>
<path d="M132.5 47.5h0" stroke="#9d7877" stroke-width="2.30" stroke-linecap="round"/>
<path d="M133.1 42.1h0M133.1 43.3h0" stroke="#9e7f7a" stroke-width="2.30" stroke-linecap="round"/>
<path d="M133.7 40.2h0" stroke="#9e867d" stroke-width="2.30" stroke-linecap="round"/>
<path d="M124.9 42.0h0M124.8 48.8h0" stroke="#a21b4f" stroke-width="2.30" stroke-linecap="round"/>
<path d="M129.0 47.5h0" stroke="#9a4c62" stroke-width="2.30" stroke-linecap="round"/>
<path d="M80.5 53.2h0M80.4 48.9h0" stroke="#df4a49" stroke-width="2.30" stroke-linecap="round"/>
<path d="M133.3 43.6h0" stroke="#9e817b" stroke-width="2.30" stroke-linecap="round"/>
<path d="M139.6 40.5h0" stroke="#97cb97" stroke-width="2.30" stroke-linecap="round"/>
<path d="M130.3 40.7h0" stroke="#9a5d69" stroke-width="2.30" stroke-linecap="round"/>
<path d="M124.4 43.8h0" stroke="#a4194e" stroke-width="2.30" stroke-linecap="round"/>
<path d="M134.6 47.9h0" stroke="#9f9082" stroke-width="2.30" stroke-linecap="round"/>
<path d="M134.9 41.3h0" stroke="#a09485" stroke-width="2.30" stroke-linecap="round"/>
<path d="M130.7 41.3h0" stroke="#9b626c" stroke-width="2.30" stroke-linecap="round"/>
<path d="M96.8 49.6h0" stroke="#c9224d" stroke-width="2.30" stroke-linecap="round"/>
<path d="M139.9 45.8h0" stroke="#96cf98" stroke-width="2.30" stroke-linecap="round"/>
<path d="M128.5 49.2h0" stroke="#9b445f" stroke-width="2.30" stroke-linecap="round"/>
<path d="M141.2 44.5h0M141.5 40.8h0M141.7 51.2h0M141.9 43.6h0M140.9 50.3h0M142.0 50.0h0M142.1 48.0h0M141.9 49.2h0M141.9 47.0h0M141.9 44.0h0" stroke="#95d098" stroke-width="2.30" stroke-linecap="round"/>
<path d="M136.1 48.3h0" stroke="#9ea289" stroke-width="2.30" stroke-linecap="round"/>
<path d="M94.8 46.3h0M94.8 45.8h0" stroke="#cc274d" stroke-width="2.30" stroke-linecap="round"/>
<path d="M128.8 47.2h0" stroke="#9b4961" stroke-width="2.30" stroke-linecap="round"/>
<path d="M129.8 47.2h0M129.8 42.4h0" stroke="#9a5767" stroke-width="2.30" stroke-linecap="round"/>
<path d="M128.2 46.9h0" stroke="#9b415d" stroke-width="2.30" stroke-linecap="round"/>
<path d="M139.3 39.8h0" stroke="#97c795" stroke-width="2.30" stroke-linecap="round"/>
<path d="M138.8 43.5h0M138.8 42.5h0" stroke="#98c293" stroke-width="2.30" stroke-linecap="round"/>
<path d="M134.9 45.8h0" stroke="#a09484" stroke-width="2.30" stroke-linecap="round"/>
<path d="M112.1 51.2h0" stroke="#b9154c" stroke-width="2.30" stroke-linecap="round"/>
<path d="M88.6 45.4h0M88.7 50.5h0" stroke="#d3374c" stroke-width="2.30" stroke-linecap="round"/>
<path d="M138.8 45.3h0M138.8 50.5h0" stroke="#98c294" stroke-width="2.30" stroke-linecap="round"/>
<path d="M134.5 41.7h0M134.5 47.4h0M134.5 49.1h0M134.5 39.3h0" stroke="#9f8f82" stroke-width="2.30" stroke-linecap="round"/>
<path d="M123.6 46.6h0M123.5 46.9h0" stroke="#a8164e" stroke-width="2.30" stroke-linecap="round"/>
<path d="M130.1 43.6h0" stroke="#9a5c69" stroke-width="2.30" stroke-linecap="round"/>
<path d="M127.6 41.7h0" stroke="#9b3759" stroke-width="2.30" stroke-linecap="round"/>
<path d="M75.3 53.5h0" stroke="#e85445" stroke-width="2.30" stroke-linecap="round"/>
<path d="M127.6 38.6h0M127.7 36.6h0" stroke="#9b385a" stroke-width="2.30" stroke-linecap="round"/>
<path d="M135.2 39.5h0" stroke="#a09886" stroke-width="2.30" stroke-linecap="round"/>
<path d="M80.9 57.2h0" stroke="#de4949" stroke-width="2.30" stroke-linecap="round"/>
<path d="M131.2 47.7h0" stroke="#9b686f" stroke-width="2.30" stroke-linecap="round"/>
<path d="M129.3 37.7h0" stroke="#9a5064" stroke-width="2.30" stroke-linecap="round"/>
<path d="M96.3 45.5h0" stroke="#ca234d" stroke-width="2.30" stroke-linecap="round"/>
<path d="M124.4 41.9h0M124.5 41.9h0M124.4 51.2h0" stroke="#a41a4e" stroke-width="2.30" stroke-linecap="round"/>
<path d="M130.6 50.5h0" stroke="#9b616b" stroke-width="2.30" stroke-linecap="round"/>
<path d="M128.6 38.2h0" stroke="#9b455f" stroke-width="2.30" stroke-linecap="round"/>
<path d="M125.8 52.9h0" stroke="#9d1f50" stroke-width="2.30" stroke-linecap="round"/>
<path d="M134.4 47.1h0" stroke="#9f8e81" stroke-width="2.30" stroke-linecap="round"/>
<path d="M130.8 41.2h0" stroke="#9b636c" stroke-width="2.30" stroke-linecap="round"/>
<path d="M131.3 41.3h0" stroke="#9c6970" stroke-width="2.30" stroke-linecap="round"/>
<path d="M95.7 45.0h0M95.8 50.7h0" stroke="#ca254d" stroke-width="2.30" stroke-linecap="round"/>
<path d="M128.4 46.4h0" stroke="#9b425e" stroke-width="2.30" stroke-linecap="round"/>
<path d="M96.0 45.6h0" stroke="#ca244d" stroke-width="2.30" stroke-linecap="round"/>
<path d="M133.6 45.8h0" stroke="#9e847d" stroke-width="2.30" stroke-linecap="round"/>
<path d="M126.4 44.6h0" stroke="#9c2653" stroke-width="2.30" stroke-linecap="round"/>
<path d="M98.7 54.1h0" stroke="#c71d4d" stroke-width="2.30" stroke-linecap="round"/>
<path d="M135.1 39.9h0" stroke="#a09786" stroke-width="2.30" stroke-linecap="round"/>
<path d="M128.0 55.0h0" stroke="#9b3d5c" stroke-width="2.30" stroke-linecap="round"/>
<path d="M139.0 42.6h0M139.0 52.0h0" stroke="#98c494" stroke-width="2.30" stroke-linecap="round"/>
<path d="M146.6 42.7h0M146.9 40.4h0M146.8 48.1h0M146.9 48.7h0M146.9 44.7h0M146.9 43.5h0M147.0 38.1h0M147.0 56.0h0" stroke="#91cf99" stroke-width="2.30" stroke-linecap="round"/>
<path d="M149.7 43.9h0M149.5 44.4h0M149.8 40.8h0M150.1 42.8h0M149.6 44.2h0M150.5 38.8h0M149.4 43.3h0M150.2 41.5h0M149.7 41.4h0M149.4 40.1h0M149.4 41.6h0M149.7 44.0h0M150.7 42.3h0M150.0 45.4h0M150.3 46.3h0M149.8 51.4h0M150.2 44.5h0M150.0 53.0h0" stroke="#8fce9a" stroke-width="2.30" stroke-linecap="round"/>
<path d="M146.1 45.3h0M146.0 47.2h0M146.0 45.4h0M145.9 40.8h0M146.0 51.8h0M145.8 39.5h0M146.3 50.5h0M145.1 47.2h0M145.0 52.0h0" stroke="#92cf99" stroke-width="2.30" stroke-linecap="round"/>
<path d="M144.0 51.6h0M144.6 44.5h0M143.6 45.8h0M144.1 41.8h0M144.5 50.3h0M144.9 41.8h0M144.8 50.4h0M143.8 51.2h0M143.9 47.7h0M144.2 57.2h0M144.0 53.8h0M145.0 47.7h0M144.6 47.3h0M143.7 54.3h0M145.0 51.4h0M143.6 48.6h0M144.6 52.9h0" stroke="#93cf99" stroke-width="2.30" stroke-linecap="round"/>
<path d="M148.0 45.2h0M148.3 46.0h0M148.2 39.8h0M148.6 39.4h0M149.1 40.4h0M148.9 42.5h0M148.7 44.1h0M149.0 44.4h0M148.5 46.4h0M148.6 46.0h0M148.8 46.8h0M148.8 52.1h0" stroke="#90ce9a" stroke-width="2.30" stroke-linecap="round"/>
<path d="M151.8 40.3h0M151.3 42.9h0M151.3 45.7h0M151.2 39.4h0M151.2 40.6h0M151.1 40.5h0M151.9 45.5h0M152.0 37.5h0M150.9 43.7h0M150.9 43.3h0M151.5 44.6h0M151.8 43.5h0M152.0 41.6h0" stroke="#8ece9a" stroke-width="2.30" stroke-linecap="round"/>
<path d="M142.8 51.8h0M143.2 52.9h0M142.9 50.1h0M143.1 54.3h0M143.5 45.8h0M143.1 52.7h0M143.0 57.0h0" stroke="#94cf99" stroke-width="2.30" stroke-linecap="round"/>
<path d="M147.5 40.4h0M147.7 47.9h0M147.6 49.1h0" stroke="#91ce9a" stroke-width="2.30" stroke-linecap="round"/>
<path d="M152.2 44.0h0" stroke="#8dce9a" stroke-width="2.30" stroke-linecap="round"/>
<path d="M137.2 52.7h0" stroke="#9caf8d" stroke-width="2.30" stroke-linecap="round"/>
<path d="M138.6 53.1h0" stroke="#99bf93" stroke-width="2.30" stroke-linecap="round"/>
<path d="M142.4 50.5h0M142.2 42.8h0M142.4 53.6h0" stroke="#94d098" stroke-width="2.30" stroke-linecap="round"/>
<path d="M152.6 46.6h0" stroke="#8dcd9b" stroke-width="2.30" stroke-linecap="round"/>
<path d="M139.8 53.2h0" stroke="#96ce97" stroke-width="2.30" stroke-linecap="round"/>
<path d="M179.5 42.2h0M180.7 35.9h0M180.2 41.8h0M180.2 35.8h0M179.5 36.0h0M178.9 36.2h0M181.1 39.4h0M178.7 45.1h0M180.0 48.4h0" stroke="#80c99f" stroke-width="2.30" stroke-linecap="round"/>
<path d="M172.2 39.2h0M172.8 40.5h0M172.3 38.6h0M172.7 39.9h0M171.6 43.5h0M173.1 37.7h0M173.1 38.8h0M171.3 37.7h0M172.8 38.4h0M172.1 42.0h0M171.9 39.4h0" stroke="#83ca9e" stroke-width="2.30" stroke-linecap="round"/>
<path d="M170.5 40.1h0M170.7 41.4h0M171.4 47.0h0" stroke="#84ca9e" stroke-width="2.30" stroke-linecap="round"/>
<path d="M175.7 39.4h0M175.8 36.1h0M176.4 49.4h0" stroke="#82c99f" stroke-width="2.30" stroke-linecap="round"/>
<path d="M174.2 35.0h0M175.3 38.0h0M173.9 46.7h0" stroke="#82ca9e" stroke-width="2.30" stroke-linecap="round"/>
<path d="M176.8 37.5h0M176.6 38.9h0M178.2 41.8h0M177.4 38.7h0M178.7 39.7h0M177.9 37.5h0M176.9 36.4h0M178.0 41.0h0" stroke="#81c99f" stroke-width="2.30" stroke-linecap="round"/>
<path d="M183.2 36.3h0M182.1 40.8h0M183.1 32.9h0M181.5 44.5h0M183.3 39.7h0" stroke="#7fc8a0" stroke-width="2.30" stroke-linecap="round"/>
<path d="M181.4 36.9h0" stroke="#7fc99f" stroke-width="2.30" stroke-linecap="round"/>
<path d="M183.9 41.8h0M185.1 46.4h0" stroke="#7ec8a0" stroke-width="2.30" stroke-linecap="round"/>
<path d="M186.3 40.4h0M185.9 51.7h0" stroke="#7dc7a0" stroke-width="2.30" stroke-linecap="round"/>
<path d="M187.2 48.1h0" stroke="#7cc7a0" stroke-width="2.30" stroke-linecap="round"/>
<path d="M188.2 53.7h0" stroke="#7ac6a0" stroke-width="2.30" stroke-linecap="round"/>
<path d="M190.2 56.7h0M190.0 55.6h0" stroke="#78c5a0" stroke-width="2.30" stroke-linecap="round"/>
<path d="M188.9 59.2h0M189.4 56.3h0" stroke="#79c6a0" stroke-width="2.30" stroke-linecap="round"/>
<path d="M193.1 58.2h0M193.3 55.6h0" stroke="#74c4a0" stroke-width="2.30" stroke-linecap="round"/>
<path d="M199.6 54.9h0M200.3 54.9h0M199.6 57.7h0" stroke="#6cc0a0" stroke-width="2.30" stroke-linecap="round"/>
<path d="M194.5 56.5h0M194.0 58.8h0M193.9 55.7h0M194.4 58.1h0" stroke="#73c3a0" stroke-width="2.30" stroke-linecap="round"/>
<path d="M194.9 60.7h0" stroke="#72c3a0" stroke-width="2.30" stroke-linecap="round"/>
<path d="M190.9 57.9h0" stroke="#77c5a0" stroke-width="2.30" stroke-linecap="round"/>
<path d="M199.1 57.5h0" stroke="#6dc0a0" stroke-width="2.30" stroke-linecap="round"/>
<path d="M197.4 57.3h0" stroke="#6fc1a0" stroke-width="2.30" stroke-linecap="round"/>
<path d="M198.2 56.8h0M198.5 57.9h0" stroke="#6ec1a0" stroke-width="2.30" stroke-linecap="round"/>
<path d="M191.3 57.1h0M191.4 56.5h0" stroke="#76c5a0" stroke-width="2.30" stroke-linecap="round"/>
<path d="M202.2 57.0h0M202.3 54.7h0M202.5 56.4h0" stroke="#69bfa0" stroke-width="2.30" stroke-linecap="round"/>
<path d="M195.9 57.2h0" stroke="#71c2a0" stroke-width="2.30" stroke-linecap="round"/>
<path d="M191.8 56.1h0M191.6 59.0h0" stroke="#76c4a0" stroke-width="2.30" stroke-linecap="round"/>
<path d="M192.1 59.3h0" stroke="#75c4a0" stroke-width="2.30" stroke-linecap="round"/>
<path d="M204.0 53.3h0" stroke="#67bea0" stroke-width="2.30" stroke-linecap="round"/>
<path d="M200.7 55.4h0" stroke="#6bc0a0" stroke-width="2.30" stroke-linecap="round"/>
<path d="M199.0 55.3h0" stroke="#6dc1a0" stroke-width="2.30" stroke-linecap="round"/>
<path d="M209.2 39.0h0M209.0 45.7h0M209.0 44.6h0M209.4 47.1h0M209.0 50.0h0" stroke="#61bba0" stroke-width="2.30" stroke-linecap="round"/>
<path d="M218.2 48.4h0M218.2 44.6h0M218.5 45.0h0M218.6 41.8h0" stroke="#56b4a2" stroke-width="2.30" stroke-linecap="round"/>
<path d="M216.5 42.4h0M216.3 40.2h0M216.5 40.7h0M216.5 49.3h0M216.8 49.1h0" stroke="#58b6a1" stroke-width="2.30" stroke-linecap="round"/>
<path d="M213.7 41.9h0M213.4 42.3h0M213.7 39.5h0M213.4 42.9h0M213.0 49.9h0M213.0 55.0h0" stroke="#5cb9a0" stroke-width="2.30" stroke-linecap="round"/>
<path d="M208.6 41.0h0M208.7 38.8h0M208.6 50.0h0" stroke="#62bba0" stroke-width="2.30" stroke-linecap="round"/>
<path d="M215.0 41.4h0M214.9 41.9h0M214.6 40.9h0M215.0 52.0h0M215.0 52.0h0" stroke="#5ab8a0" stroke-width="2.30" stroke-linecap="round"/>
<path d="M222.6 45.0h0M222.5 54.4h0" stroke="#51afa4" stroke-width="2.30" stroke-linecap="round"/>
<path d="M220.8 43.0h0M220.7 47.6h0M220.6 48.8h0M220.9 45.4h0M220.9 50.5h0M220.9 40.4h0M220.7 48.8h0M220.7 48.7h0" stroke="#53b1a3" stroke-width="2.30" stroke-linecap="round"/>
<path d="M210.7 40.1h0M210.7 42.5h0M210.8 40.3h0M210.5 38.6h0M210.6 41.4h0M210.4 46.6h0M210.6 38.1h0M210.7 44.6h0" stroke="#5fbaa0" stroke-width="2.30" stroke-linecap="round"/>
<path d="M222.0 43.1h0M222.1 44.5h0M222.2 48.2h0" stroke="#51b0a3" stroke-width="2.30" stroke-linecap="round"/>
<path d="M222.7 43.6h0M223.0 56.9h0M222.9 60.0h0M222.8 59.8h0M222.9 47.9h0M222.8 59.1h0M223.1 50.0h0" stroke="#50afa4" stroke-width="2.30" stroke-linecap="round"/>
<path d="M207.7 45.6h0" stroke="#63bca0" stroke-width="2.30" stroke-linecap="round"/>
<path d="M217.8 44.6h0M217.4 43.9h0" stroke="#57b5a1" stroke-width="2.30" stroke-linecap="round"/>
<path d="M220.1 39.9h0M219.7 47.0h0M220.0 44.5h0M220.2 45.3h0M219.7 43.6h0M220.2 45.1h0M219.9 46.7h0" stroke="#54b2a2" stroke-width="2.30" stroke-linecap="round"/>
<path d="M220.4 45.6h0" stroke="#53b2a3" stroke-width="2.30" stroke-linecap="round"/>
<path d="M209.8 42.2h0M210.3 43.3h0M209.7 39.8h0M210.2 40.0h0M209.6 39.4h0M210.3 46.8h0M209.9 44.5h0M210.1 51.0h0M210.0 44.4h0M210.0 57.0h0" stroke="#60bba0" stroke-width="2.30" stroke-linecap="round"/>
<path d="M216.1 40.3h0M215.5 37.9h0" stroke="#59b7a0" stroke-width="2.30" stroke-linecap="round"/>
<path d="M212.1 41.6h0" stroke="#5dbaa0" stroke-width="2.30" stroke-linecap="round"/>
<path d="M211.4 43.4h0M211.6 38.1h0M212.0 40.8h0M211.3 39.5h0M212.1 37.5h0M212.0 44.7h0M211.7 39.4h0M212.0 52.8h0M211.7 47.2h0M211.8 45.5h0M212.0 48.8h0" stroke="#5ebaa0" stroke-width="2.30" stroke-linecap="round"/>
<path d="M221.2 44.0h0M221.3 46.1h0M221.4 49.6h0M221.2 48.4h0M221.4 52.7h0M221.2 47.4h0M221.1 49.5h0M221.1 50.8h0" stroke="#52b1a3" stroke-width="2.30" stroke-linecap="round"/>
<path d="M218.8 46.5h0M219.2 45.7h0" stroke="#55b3a2" stroke-width="2.30" stroke-linecap="round"/>
<path d="M222.2 40.3h0M222.4 47.9h0M222.4 54.6h0" stroke="#51afa3" stroke-width="2.30" stroke-linecap="round"/>
<path d="M221.5 49.8h0M221.4 45.1h0M221.8 42.6h0M221.7 50.1h0M221.4 44.6h0M221.8 48.2h0" stroke="#52b0a3" stroke-width="2.30" stroke-linecap="round"/>
<path d="M218.7 47.0h0" stroke="#55b4a2" stroke-width="2.30" stroke-linecap="round"/>
<path d="M210.4 44.1h0" stroke="#60baa0" stroke-width="2.30" stroke-linecap="round"/>
<path d="M208.1 45.4h0M208.2 45.5h0M208.2 43.0h0" stroke="#62bca0" stroke-width="2.30" stroke-linecap="round"/>
<path d="M219.6 45.6h0M219.6 43.3h0" stroke="#54b3a2" stroke-width="2.30" stroke-linecap="round"/>
<path d="M212.8 40.8h0M212.9 37.1h0M212.7 49.2h0M212.9 47.8h0M212.4 48.0h0M212.8 44.4h0" stroke="#5db9a0" stroke-width="2.30" stroke-linecap="round"/>
<path d="M213.8 45.9h0" stroke="#5bb9a0" stroke-width="2.30" stroke-linecap="round"/>
<path d="M214.5 43.9h0M214.2 47.4h0" stroke="#5bb8a0" stroke-width="2.30" stroke-linecap="round"/>
<path d="M223.2 45.4h0M223.5 43.7h0" stroke="#50aea4" stroke-width="2.30" stroke-linecap="round"/>
<path d="M216.3 51.4h0" stroke="#58b7a1" stroke-width="2.30" stroke-linecap="round"/>
<path d="M224.6 53.5h0M224.6 49.3h0M224.7 47.0h0M224.6 50.8h0M224.6 58.7h0" stroke="#4eada5" stroke-width="2.30" stroke-linecap="round"/>
<path d="M223.6 50.4h0M223.6 57.1h0M223.9 56.9h0M223.8 58.1h0M223.9 53.4h0M223.7 60.7h0" stroke="#4faea4" stroke-width="2.30" stroke-linecap="round"/>
<path d="M225.3 51.9h0M225.4 57.3h0M225.3 55.7h0M225.2 53.7h0M225.6 53.1h0" stroke="#4daca5" stroke-width="2.30" stroke-linecap="round"/>
<path d="M225.7 57.6h0M225.6 52.5h0" stroke="#4daba5" stroke-width="2.30" stroke-linecap="round"/>
<path d="M226.9 57.2h0" stroke="#4baaa6" stroke-width="2.30" stroke-linecap="round"/>
<path d="M224.9 58.3h0M224.9 47.6h0" stroke="#4eaca5" stroke-width="2.30" stroke-linecap="round"/>
<path d="M224.1 54.3h0M224.2 50.6h0M224.0 48.8h0M224.0 45.1h0M223.9 54.8h0" stroke="#4fada4" stroke-width="2.30" stroke-linecap="round"/>
<path d="M226.7 59.2h0" stroke="#4caaa6" stroke-width="2.30" stroke-linecap="round"/>
<path d="M233.6 49.7h0M233.9 84.3h0M233.5 44.8h0M233.8 83.6h0M233.9 66.4h0M234.0 59.9h0M234.0 47.1h0M233.6 62.4h0M233.8 44.5h0M233.8 66.4h0M233.4 48.0h0M233.8 70.8h0M233.5 59.4h0M233.9 42.8h0M233.8 47.0h0M233.8 62.8h0M233.7 50.6h0M233.6 76.3h0M233.4 42.2h0M233.7 54.8h0M233.4 65.5h0M233.7 46.4h0M233.9 59.0h0M233.4 64.4h0M233.4 54.9h0M233.5 57.8h0M233.7 45.5h0M233.4 63.0h0M233.6 53.5h0M233.7 79.6h0M233.7 66.5h0M233.8 86.8h0M233.5 49.2h0M233.9 66.9h0M233.4 46.7h0" stroke="#43a2a8" stroke-width="2.30" stroke-linecap="round"/>
<path d="M233.3 47.5h0M233.2 45.9h0M233.3 80.8h0M233.3 45.5h0M233.3 61.7h0" stroke="#44a2a8" stroke-width="2.30" stroke-linecap="round"/>
<path d="M235.6 91.8h0M235.5 48.4h0M235.3 83.1h0M235.4 74.1h0M235.4 89.4h0M235.2 86.6h0M235.4 65.1h0M235.1 84.5h0M235.6 67.1h0M235.2 65.9h0M235.3 86.0h0M235.6 57.1h0M235.6 68.4h0M235.5 86.7h0" stroke="#41a0a9" stroke-width="2.30" stroke-linecap="round"/>
<path d="M239.2 69.5h0M239.2 86.6h0M239.1 67.4h0M239.0 85.5h0M239.3 92.2h0M238.9 69.5h0M239.0 84.9h0M238.9 69.4h0M239.4 89.9h0M238.9 86.5h0M239.2 65.7h0M239.3 82.2h0M239.5 94.9h0M239.3 66.7h0M239.2 75.8h0M239.2 93.3h0M239.5 95.5h0M239.5 89.5h0M239.2 73.8h0M238.9 67.7h0M239.0 102.5h0" stroke="#3d9baa" stroke-width="2.30" stroke-linecap="round"/>
<path d="M234.6 61.0h0M234.3 52.4h0M234.5 67.7h0M234.4 49.4h0M234.4 49.2h0M234.8 48.4h0M234.2 47.6h0M234.2 55.4h0M234.3 45.8h0M234.3 65.8h0M234.3 61.3h0M234.6 89.3h0M234.6 47.2h0M234.6 45.5h0M234.6 90.4h0M234.4 72.5h0M234.3 46.1h0M234.5 81.4h0M234.2 46.5h0M234.7 76.4h0M234.6 55.6h0M234.6 65.6h0M234.3 51.5h0M234.5 52.7h0M234.7 66.9h0M234.8 73.2h0" stroke="#42a1a9" stroke-width="2.30" stroke-linecap="round"/>
<path d="M242.1 97.0h0M241.8 96.5h0M241.8 85.6h0M242.1 97.8h0M242.0 96.9h0M242.1 87.0h0M241.8 95.2h0M242.1 89.2h0M241.8 95.4h0M241.8 92.9h0M241.8 89.8h0M242.1 93.7h0" stroke="#3b95b0" stroke-width="2.30" stroke-linecap="round"/>
<path d="M241.7 90.7h0M241.7 83.4h0M241.6 88.2h0M241.7 80.4h0M241.4 94.3h0M241.7 91.4h0M241.4 95.4h0M241.5 88.1h0" stroke="#3b96af" stroke-width="2.30" stroke-linecap="round"/>
<path d="M234.2 47.7h0M234.1 53.7h0M234.2 70.4h0M234.2 56.1h0M234.2 89.9h0M234.2 70.1h0M234.1 79.8h0M234.2 46.6h0M234.1 61.1h0" stroke="#43a1a9" stroke-width="2.30" stroke-linecap="round"/>
<path d="M236.3 83.1h0M236.2 74.9h0M236.3 69.5h0M236.1 94.5h0M236.2 67.4h0M236.4 57.5h0M236.1 91.4h0M236.3 93.9h0M236.1 94.6h0M236.4 90.5h0M236.1 50.4h0M236.1 62.5h0M236.2 70.3h0M236.3 67.5h0M236.1 92.1h0" stroke="#409fa9" stroke-width="2.30" stroke-linecap="round"/>
<path d="M238.4 95.7h0M238.2 80.4h0M238.5 71.8h0M238.4 87.4h0M238.6 90.3h0M238.3 74.4h0M238.4 61.2h0M238.4 70.8h0M238.1 72.2h0M238.7 63.7h0M238.2 94.1h0M238.0 102.8h0" stroke="#3e9caa" stroke-width="2.30" stroke-linecap="round"/>
<path d="M236.8 87.9h0M236.4 66.5h0M236.6 90.7h0M236.4 85.1h0M236.6 56.2h0M236.5 98.5h0M236.6 81.3h0M236.6 59.9h0M236.6 53.1h0M236.7 72.1h0M236.7 78.0h0M236.8 67.4h0M236.4 53.2h0M236.7 53.5h0M236.8 71.2h0M236.5 103.5h0" stroke="#409ea9" stroke-width="2.30" stroke-linecap="round"/>
<path d="M232.5 72.4h0M233.1 68.6h0M232.7 49.5h0M232.8 47.2h0M232.9 42.4h0M232.5 46.2h0M233.1 51.8h0M232.9 50.2h0M232.5 66.0h0M232.8 58.0h0M233.1 50.3h0M232.6 46.9h0M232.6 49.1h0M232.5 49.7h0M232.9 59.4h0M232.9 61.4h0M232.9 61.0h0M233.0 78.8h0M233.1 42.4h0M232.8 65.0h0M233.0 74.6h0M232.5 55.8h0M233.0 40.3h0M233.1 47.2h0M233.0 45.8h0M232.8 46.5h0M232.9 64.3h0M233.1 74.7h0M233.0 74.2h0" stroke="#44a3a8" stroke-width="2.30" stroke-linecap="round"/>
<path d="M240.7 91.4h0M240.8 91.9h0M240.6 79.3h0M240.6 84.0h0M240.6 95.0h0" stroke="#3c98ac" stroke-width="2.30" stroke-linecap="round"/>
<path d="M231.8 56.6h0M231.8 47.0h0M232.2 59.8h0M231.8 51.3h0M232.2 40.2h0M232.3 48.4h0M232.4 58.3h0M232.2 47.1h0M231.9 47.2h0M232.1 55.1h0M232.3 57.4h0M232.4 43.7h0M231.9 56.1h0M232.3 46.4h0M232.0 66.3h0M232.2 49.8h0M232.0 46.2h0M231.7 42.7h0M232.1 60.1h0M232.0 68.5h0M232.3 50.4h0M232.4 72.8h0M231.7 41.7h0M231.8 47.6h0M232.2 61.0h0M231.6 47.3h0M232.0 43.6h0M232.0 43.9h0" stroke="#45a4a8" stroke-width="2.30" stroke-linecap="round"/>
<path d="M235.8 48.3h0M235.7 96.7h0M235.7 54.8h0M235.7 60.2h0M235.7 89.6h0M235.8 59.0h0M235.7 80.9h0M235.7 77.1h0M235.9 50.0h0M235.6 72.0h0M235.8 80.5h0M236.0 95.9h0M235.6 78.1h0M235.9 51.4h0M235.7 48.7h0M235.7 76.0h0M235.8 85.4h0M235.9 73.3h0M235.8 59.0h0M236.0 86.2h0M235.6 53.9h0M235.8 90.9h0M235.7 69.3h0M235.9 67.5h0" stroke="#419fa9" stroke-width="2.30" stroke-linecap="round"/>
<path d="M232.4 65.5h0M232.4 55.6h0M232.4 61.0h0" stroke="#45a3a8" stroke-width="2.30" stroke-linecap="round"/>
<path d="M240.1 70.8h0M239.9 81.9h0M239.6 84.9h0M240.1 72.8h0M239.7 99.5h0M239.7 76.7h0M240.1 85.4h0M240.1 82.6h0M239.9 93.9h0M239.7 75.4h0M239.7 69.8h0" stroke="#3c9aaa" stroke-width="2.30" stroke-linecap="round"/>
<path d="M237.3 73.4h0M237.4 60.2h0M237.6 81.6h0M237.4 64.5h0M237.3 94.3h0M237.3 54.5h0M237.4 96.1h0M237.8 88.4h0M237.7 63.9h0M237.5 91.4h0M237.2 88.3h0M237.3 84.6h0M237.4 74.8h0M237.6 99.0h0M237.3 71.6h0M237.5 64.9h0M237.6 71.8h0M237.5 93.7h0M237.5 94.5h0M237.5 79.0h0M237.6 64.6h0M237.4 62.5h0" stroke="#3f9da9" stroke-width="2.30" stroke-linecap="round"/>
<path d="M243.4 88.7h0M243.6 90.2h0M243.4 93.6h0M243.4 92.1h0M243.4 91.2h0M243.6 73.2h0M243.3 79.2h0M243.4 93.5h0M243.5 92.0h0M243.4 91.4h0M243.4 78.9h0" stroke="#3a91b5" stroke-width="2.30" stroke-linecap="round"/>
<path d="M238.7 78.1h0M238.7 71.8h0M238.8 64.8h0M238.7 81.3h0M238.7 79.8h0" stroke="#3d9caa" stroke-width="2.30" stroke-linecap="round"/>
<path d="M235.0 62.0h0M234.9 55.2h0M235.1 73.6h0M235.0 88.0h0M235.0 65.4h0M235.0 104.5h0" stroke="#42a0a9" stroke-width="2.30" stroke-linecap="round"/>
<path d="M230.6 47.4h0M230.3 43.9h0M230.5 44.7h0M230.7 46.2h0M230.4 44.2h0" stroke="#47a6a7" stroke-width="2.30" stroke-linecap="round"/>
<path d="M237.0 82.3h0M237.2 61.4h0M237.0 92.4h0M236.9 64.2h0M237.0 59.6h0M237.1 74.3h0M237.2 65.2h0M237.0 84.3h0M237.1 56.6h0M237.0 71.8h0" stroke="#3f9ea9" stroke-width="2.30" stroke-linecap="round"/>
<path d="M242.2 88.3h0M242.3 92.8h0M242.3 88.9h0M242.3 80.0h0M242.2 83.6h0M242.2 91.3h0M242.2 89.9h0M242.1 94.0h0" stroke="#3b94b1" stroke-width="2.30" stroke-linecap="round"/>
<path d="M231.1 48.8h0M231.4 47.0h0M231.0 47.0h0M231.0 42.8h0M231.5 42.1h0M231.5 43.3h0M231.1 44.1h0" stroke="#46a5a8" stroke-width="2.30" stroke-linecap="round"/>
<path d="M240.4 88.2h0M240.4 99.2h0M240.3 92.1h0M240.4 94.9h0" stroke="#3c99ab" stroke-width="2.30" stroke-linecap="round"/>
<path d="M240.6 77.7h0M240.5 88.2h0" stroke="#3c99ac" stroke-width="2.30" stroke-linecap="round"/>
<path d="M239.6 97.5h0" stroke="#3c9baa" stroke-width="2.30" stroke-linecap="round"/>
<path d="M237.9 92.5h0M237.9 62.2h0M238.0 84.1h0M237.8 93.5h0M237.8 67.3h0M238.0 78.4h0M237.8 88.8h0M237.8 61.3h0M237.8 82.0h0M237.9 97.5h0" stroke="#3e9da9" stroke-width="2.30" stroke-linecap="round"/>
<path d="M230.8 46.4h0M230.9 44.8h0M230.9 48.1h0M230.8 41.2h0M230.9 44.4h0" stroke="#46a5a7" stroke-width="2.30" stroke-linecap="round"/>
<path d="M240.9 91.9h0" stroke="#3c98ad" stroke-width="2.30" stroke-linecap="round"/>
<path d="M241.4 94.1h0M241.3 79.6h0M241.3 96.6h0M241.3 91.9h0M241.3 96.1h0M241.1 96.4h0M241.2 89.7h0M241.2 96.7h0M241.2 95.2h0" stroke="#3b97ae" stroke-width="2.30" stroke-linecap="round"/>
<path d="M241.0 91.9h0M241.1 83.3h0M241.0 83.0h0M241.0 95.2h0M241.0 94.4h0M241.1 95.7h0" stroke="#3b97ad" stroke-width="2.30" stroke-linecap="round"/>
<path d="M240.9 81.0h0M240.9 98.9h0M240.9 83.9h0M240.9 93.2h0M240.9 91.9h0" stroke="#3b98ad" stroke-width="2.30" stroke-linecap="round"/>
<path d="M242.7 84.3h0M242.9 94.9h0M242.8 89.3h0M242.8 82.8h0M242.9 85.3h0M242.7 79.7h0" stroke="#3a93b3" stroke-width="2.30" stroke-linecap="round"/>
<path d="M242.7 96.2h0M242.7 90.0h0M242.7 96.9h0M242.7 90.9h0" stroke="#3a93b2" stroke-width="2.30" stroke-linecap="round"/>
<path d="M243.2 86.8h0M243.3 76.6h0M243.0 87.1h0M243.3 79.1h0M243.2 92.1h0M243.2 84.0h0M243.2 94.1h0M243.2 78.1h0M243.1 94.7h0" stroke="#3a92b4" stroke-width="2.30" stroke-linecap="round"/>
<path d="M231.6 46.4h0" stroke="#46a4a8" stroke-width="2.30" stroke-linecap="round"/>
<path d="M242.1 99.6h0" stroke="#3b95b1" stroke-width="2.30" stroke-linecap="round"/>
<path d="M242.6 90.5h0M242.6 93.1h0M242.5 95.4h0M242.6 84.7h0M242.6 92.0h0" stroke="#3b93b2" stroke-width="2.30" stroke-linecap="round"/>
<path d="M256.2 44.9h0M256.3 41.2h0M256.1 44.9h0M256.3 43.6h0M256.2 42.7h0M256.0 45.8h0M256.7 45.1h0M256.3 41.6h0M256.7 46.5h0M256.0 49.4h0" stroke="#3982c0" stroke-width="2.30" stroke-linecap="round"/>
<path d="M254.9 54.2h0M254.5 41.4h0M255.2 45.9h0M254.9 51.5h0M255.1 46.9h0M254.6 51.4h0M255.6 48.7h0M254.4 44.8h0M254.5 50.1h0M254.9 50.8h0M255.8 50.0h0M254.7 42.1h0M254.8 46.2h0M254.7 51.1h0M255.3 45.3h0M255.2 53.6h0" stroke="#3983c0" stroke-width="2.30" stroke-linecap="round"/>
<path d="M249.0 53.9h0M248.6 56.3h0M248.6 54.8h0M248.5 60.0h0M248.0 55.7h0M249.1 67.9h0M248.7 67.5h0M248.1 72.2h0M248.1 71.6h0M247.9 73.4h0M248.0 72.1h0M249.4 67.9h0M247.9 70.1h0M249.1 65.9h0M249.3 63.6h0M248.5 62.3h0M248.7 72.1h0M248.1 57.3h0M248.5 63.8h0M248.3 58.5h0M249.0 62.1h0M248.5 69.5h0M247.9 71.3h0M249.0 65.6h0M248.0 72.6h0M248.7 67.3h0M247.8 69.3h0M248.3 72.8h0M249.0 68.4h0M249.3 64.0h0M249.0 59.4h0M248.2 69.5h0M249.2 55.8h0M248.3 56.1h0M248.2 71.2h0M249.0 56.0h0M247.9 68.4h0" stroke="#3887c0" stroke-width="2.30" stroke-linecap="round"/>
<path d="M251.2 63.5h0M252.2 47.0h0M252.3 54.1h0M252.4 51.4h0M251.9 61.6h0M252.0 48.6h0M251.7 60.5h0M251.5 62.0h0M252.1 50.6h0M252.2 49.9h0M252.6 57.8h0M251.4 59.1h0M252.1 59.5h0M251.7 57.8h0M251.8 56.0h0M251.1 63.5h0M251.3 56.8h0M252.6 52.9h0M251.9 47.0h0M251.5 55.6h0M251.6 49.3h0M252.2 48.2h0M252.2 58.2h0" stroke="#3985c0" stroke-width="2.30" stroke-linecap="round"/>
<path d="M250.1 62.2h0M249.6 67.1h0M249.5 55.9h0M249.8 54.3h0M250.2 61.8h0M249.5 59.4h0M249.7 58.8h0M250.0 56.3h0M249.7 61.6h0M250.0 66.5h0M249.8 65.9h0" stroke="#3886c0" stroke-width="2.30" stroke-linecap="round"/>
<path d="M244.1 72.6h0M244.2 96.8h0M244.2 90.8h0M244.1 69.7h0M244.2 68.6h0M244.2 85.8h0M244.3 87.0h0M244.2 90.8h0" stroke="#3a8fb7" stroke-width="2.30" stroke-linecap="round"/>
<path d="M245.4 74.1h0M245.3 73.8h0M245.5 69.3h0M245.4 79.3h0M245.3 70.0h0M245.3 64.4h0M245.3 72.9h0M245.4 80.6h0" stroke="#398cbb" stroke-width="2.30" stroke-linecap="round"/>
<path d="M241.4 91.7h0M241.4 90.5h0" stroke="#3b96ae" stroke-width="2.30" stroke-linecap="round"/>
<path d="M243.7 76.0h0M243.7 91.3h0M243.7 76.1h0" stroke="#3a91b6" stroke-width="2.30" stroke-linecap="round"/>
<path d="M246.0 77.0h0M245.9 72.1h0" stroke="#398bbd" stroke-width="2.30" stroke-linecap="round"/>
<path d="M246.4 72.1h0M246.2 76.0h0M246.3 86.2h0M246.3 58.7h0" stroke="#388abe" stroke-width="2.30" stroke-linecap="round"/>
<path d="M244.4 70.1h0M244.4 82.0h0" stroke="#398fb8" stroke-width="2.30" stroke-linecap="round"/>
<path d="M253.4 53.7h0M253.5 55.2h0M254.1 50.5h0M254.2 53.3h0M253.3 54.7h0M254.0 48.0h0M253.1 46.2h0M254.1 52.7h0M253.7 56.4h0M253.4 44.7h0M253.0 46.4h0M254.2 43.4h0M253.8 43.2h0M253.9 51.1h0M253.2 54.3h0M253.2 57.4h0M253.7 55.6h0M253.4 47.5h0M253.6 46.6h0" stroke="#3984c0" stroke-width="2.30" stroke-linecap="round"/>
<path d="M247.7 67.2h0M246.9 78.8h0M247.6 69.6h0M247.4 69.9h0M247.0 66.1h0M247.1 61.5h0M247.6 73.2h0M247.7 61.2h0M247.2 66.2h0M247.0 66.8h0M247.7 66.8h0M247.7 77.8h0M247.0 72.1h0M247.3 76.6h0M247.1 73.6h0M247.0 68.2h0M247.4 59.2h0M247.3 75.6h0M246.9 74.0h0M247.4 65.9h0M246.9 57.9h0" stroke="#3888c0" stroke-width="2.30" stroke-linecap="round"/>
<path d="M245.8 69.9h0M245.8 79.8h0M245.9 66.5h0M245.7 78.9h0M245.9 76.7h0M245.8 76.7h0" stroke="#398bbc" stroke-width="2.30" stroke-linecap="round"/>
<path d="M244.9 94.4h0M244.9 79.3h0M244.9 89.0h0M244.9 76.6h0" stroke="#398db9" stroke-width="2.30" stroke-linecap="round"/>
<path d="M250.4 61.5h0M250.4 62.2h0M250.6 55.3h0M251.0 51.6h0M250.5 65.0h0M250.4 52.6h0M250.9 53.8h0M250.8 52.1h0" stroke="#3986c0" stroke-width="2.30" stroke-linecap="round"/>
<path d="M245.1 81.3h0M245.2 69.2h0M245.0 92.7h0M245.2 71.6h0M245.0 80.9h0M245.0 75.2h0M245.0 81.6h0M245.2 80.9h0M245.0 92.8h0M244.9 89.2h0M245.1 92.5h0M245.2 88.3h0M245.2 87.8h0M245.1 72.1h0" stroke="#398dba" stroke-width="2.30" stroke-linecap="round"/>
<path d="M246.7 60.5h0M246.6 75.2h0M246.6 82.4h0M246.6 67.6h0M246.6 69.2h0M246.8 70.6h0M246.6 65.1h0M246.7 78.9h0M246.8 69.6h0" stroke="#3889bf" stroke-width="2.30" stroke-linecap="round"/>
<path d="M256.9 47.5h0M257.2 51.0h0M257.3 44.0h0M256.8 43.5h0M256.8 49.9h0" stroke="#3a82c0" stroke-width="2.30" stroke-linecap="round"/>
<path d="M246.5 82.3h0M246.4 61.3h0" stroke="#3889be" stroke-width="2.30" stroke-linecap="round"/>
<path d="M243.9 91.5h0M243.8 84.6h0M244.0 94.3h0M243.8 94.8h0M243.9 95.9h0M243.9 93.8h0" stroke="#3a90b6" stroke-width="2.30" stroke-linecap="round"/>
<path d="M244.5 92.0h0M244.6 81.9h0M244.5 77.8h0M244.6 67.9h0M244.5 74.4h0M244.5 82.4h0M244.5 84.8h0M244.5 95.5h0" stroke="#398eb8" stroke-width="2.30" stroke-linecap="round"/>
<path d="M245.6 62.8h0M245.6 89.4h0M245.6 80.1h0" stroke="#398cbc" stroke-width="2.30" stroke-linecap="round"/>
<path d="M244.8 81.5h0M244.6 78.7h0M244.6 74.1h0M244.8 70.8h0M244.7 76.5h0M244.8 76.4h0" stroke="#398eb9" stroke-width="2.30" stroke-linecap="round"/>
<path d="M246.1 76.1h0M246.2 66.8h0" stroke="#388abd" stroke-width="2.30" stroke-linecap="round"/>
<path d="M246.8 69.4h0" stroke="#3888bf" stroke-width="2.30" stroke-linecap="round"/>
<path d="M242.4 88.0h0" stroke="#3b94b2" stroke-width="2.30" stroke-linecap="round"/>
<path d="M244.3 74.7h0M244.3 81.7h0M244.3 68.9h0M244.3 92.0h0" stroke="#3a8fb8" stroke-width="2.30" stroke-linecap="round"/>
<path d="M246.1 68.5h0M246.1 77.6h0" stroke="#398abd" stroke-width="2.30" stroke-linecap="round"/>
<path d="M243.0 96.1h0" stroke="#3a92b3" stroke-width="2.30" stroke-linecap="round"/>
<circle cx="43.2" cy="107.5" r="1.05" fill="none" stroke="#333" stroke-width="0.5"/>
<circle cx="44.4" cy="107.3" r="1.05" fill="none" stroke="#333" stroke-width="0.5"/>
<circle cx="45.2" cy="106.7" r="1.05" fill="none" stroke="#333" stroke-width="0.5"/>
<circle cx="45.8" cy="107.4" r="1.05" fill="none" stroke="#333" stroke-width="0.5"/>
<circle cx="46.4" cy="106.5" r="1.05" fill="none" stroke="#333" stroke-width="0.5"/>
<circle cx="47.2" cy="106.7" r="1.05" fill="none" stroke="#333" stroke-width="0.5"/>
<circle cx="48.1" cy="105.6" r="1.05" fill="none" stroke="#333" stroke-width="0.5"/>
<circle cx="48.8" cy="106.1" r="1.05" fill="none" stroke="#333" stroke-width="0.5"/>
<circle cx="49.9" cy="105.8" r="1.05" fill="none" stroke="#333" stroke-width="0.5"/>
<circle cx="50.7" cy="106.1" r="1.05" fill="none" stroke="#333" stroke-width="0.5"/>
<circle cx="51.4" cy="106.0" r="1.05" fill="none" stroke="#333" stroke-width="0.5"/>
<circle cx="52.3" cy="106.7" r="1.05" fill="none" stroke="#333" stroke-width="0.5"/>
<circle cx="53.5" cy="104.8" r="1.05" fill="none" stroke="#333" stroke-width="0.5"/>
<circle cx="54.4" cy="104.1" r="1.05" fill="none" stroke="#333" stroke-width="0.5"/>
<circle cx="55.7" cy="105.2" r="1.05" fill="none" stroke="#333" stroke-width="0.5"/>
<circle cx="56.7" cy="104.5" r="1.05" fill="none" stroke="#333" stroke-width="0.5"/>
<circle cx="57.8" cy="103.8" r="1.05" fill="none" stroke="#333" stroke-width="0.5"/>
<circle cx="58.5" cy="104.3" r="1.05" fill="none" stroke="#333" stroke-width="0.5"/>
<circle cx="59.6" cy="103.5" r="1.05" fill="none" stroke="#333" stroke-width="0.5"/>
<circle cx="60.4" cy="104.1" r="1.05" fill="none" stroke="#333" stroke-width="0.5"/>
<circle cx="61.4" cy="102.7" r="1.05" fill="none" stroke="#333" stroke-width="0.5"/>
<circle cx="62.8" cy="103.0" r="1.05" fill="none" stroke="#333" stroke-width="0.5"/>
<circle cx="43.3" cy="102.5" r="1.1" fill="none" stroke="#555" stroke-width="0.45"/>
<circle cx="62.1" cy="92.3" r="1.05" fill="none" stroke="#4a4a4a" stroke-width="0.4"/>
<circle cx="62.5" cy="88.9" r="1.05" fill="none" stroke="#4a4a4a" stroke-width="0.4"/>
<circle cx="62.7" cy="85.9" r="1.05" fill="none" stroke="#4a4a4a" stroke-width="0.4"/>
<circle cx="63.1" cy="82.7" r="1.05" fill="none" stroke="#4a4a4a" stroke-width="0.4"/>
<circle cx="63.5" cy="79.5" r="1.05" fill="none" stroke="#4a4a4a" stroke-width="0.4"/>
<circle cx="63.8" cy="78.2" r="1.05" fill="none" stroke="#4a4a4a" stroke-width="0.4"/>
<circle cx="64.1" cy="75.8" r="1.05" fill="none" stroke="#4a4a4a" stroke-width="0.4"/>
<circle cx="64.5" cy="73.3" r="1.05" fill="none" stroke="#4a4a4a" stroke-width="0.4"/>
<circle cx="64.8" cy="71.7" r="1.05" fill="none" stroke="#4a4a4a" stroke-width="0.4"/>
<circle cx="65.0" cy="70.7" r="1.05" fill="none" stroke="#4a4a4a" stroke-width="0.4"/>
<circle cx="65.7" cy="69.2" r="1.05" fill="none" stroke="#4a4a4a" stroke-width="0.4"/>
<circle cx="65.7" cy="66.6" r="1.05" fill="none" stroke="#4a4a4a" stroke-width="0.4"/>
<circle cx="66.4" cy="65.6" r="1.05" fill="none" stroke="#4a4a4a" stroke-width="0.4"/>
<circle cx="66.4" cy="64.7" r="1.05" fill="none" stroke="#4a4a4a" stroke-width="0.4"/>
<circle cx="67.5" cy="63.5" r="1.05" fill="none" stroke="#4a4a4a" stroke-width="0.4"/>
<circle cx="68.3" cy="62.4" r="1.05" fill="none" stroke="#4a4a4a" stroke-width="0.4"/>
<circle cx="68.5" cy="60.2" r="1.05" fill="none" stroke="#4a4a4a" stroke-width="0.4"/>
<circle cx="69.1" cy="59.3" r="1.05" fill="none" stroke="#4a4a4a" stroke-width="0.4"/>
<circle cx="69.7" cy="58.3" r="1.05" fill="none" stroke="#4a4a4a" stroke-width="0.4"/>
<circle cx="70.3" cy="56.8" r="1.05" fill="none" stroke="#4a4a4a" stroke-width="0.4"/>
<circle cx="71.1" cy="55.9" r="1.05" fill="none" stroke="#4a4a4a" stroke-width="0.4"/>
<circle cx="72.1" cy="54.5" r="1.05" fill="none" stroke="#4a4a4a" stroke-width="0.4"/>
<circle cx="72.5" cy="54.5" r="1.05" fill="none" stroke="#4a4a4a" stroke-width="0.4"/>
<circle cx="73.4" cy="52.9" r="1.05" fill="none" stroke="#4a4a4a" stroke-width="0.4"/>
<circle cx="74.5" cy="52.2" r="1.05" fill="none" stroke="#4a4a4a" stroke-width="0.4"/>
<circle cx="76.4" cy="51.2" r="1.05" fill="none" stroke="#4a4a4a" stroke-width="0.4"/>
<circle cx="77.3" cy="49.8" r="1.05" fill="none" stroke="#4a4a4a" stroke-width="0.4"/>
<circle cx="79.0" cy="49.1" r="1.05" fill="none" stroke="#4a4a4a" stroke-width="0.4"/>
<circle cx="77.4" cy="51.6" r="1.05" fill="none" stroke="#333" stroke-width="0.5"/>
<circle cx="77.8" cy="50.8" r="1.05" fill="none" stroke="#333" stroke-width="0.5"/>
<circle cx="79.6" cy="51.2" r="1.05" fill="none" stroke="#333" stroke-width="0.5"/>
<circle cx="81.0" cy="51.7" r="1.05" fill="none" stroke="#333" stroke-width="0.5"/>
<circle cx="82.0" cy="50.1" r="1.05" fill="none" stroke="#333" stroke-width="0.5"/>
<circle cx="83.4" cy="50.1" r="1.05" fill="none" stroke="#333" stroke-width="0.5"/>
<circle cx="84.4" cy="50.2" r="1.05" fill="none" stroke="#333" stroke-width="0.5"/>
<circle cx="86.0" cy="49.0" r="1.05" fill="none" stroke="#333" stroke-width="0.5"/>
<circle cx="87.1" cy="49.5" r="1.05" fill="none" stroke="#333" stroke-width="0.5"/>
<circle cx="88.9" cy="49.9" r="1.05" fill="none" stroke="#333" stroke-width="0.5"/>
<circle cx="89.7" cy="49.5" r="1.05" fill="none" stroke="#333" stroke-width="0.5"/>
<circle cx="91.5" cy="48.2" r="1.05" fill="none" stroke="#333" stroke-width="0.5"/>
<circle cx="92.4" cy="49.6" r="1.05" fill="none" stroke="#333" stroke-width="0.5"/>
<circle cx="93.7" cy="47.7" r="1.05" fill="none" stroke="#333" stroke-width="0.5"/>
<circle cx="95.4" cy="48.0" r="1.05" fill="none" stroke="#333" stroke-width="0.5"/>
<circle cx="97.1" cy="47.6" r="1.05" fill="none" stroke="#333" stroke-width="0.5"/>
<circle cx="98.9" cy="48.2" r="1.05" fill="none" stroke="#333" stroke-width="0.5"/>
<circle cx="99.8" cy="48.1" r="1.05" fill="none" stroke="#333" stroke-width="0.5"/>
<circle cx="101.3" cy="47.8" r="1.05" fill="none" stroke="#333" stroke-width="0.5"/>
<circle cx="102.8" cy="48.3" r="1.05" fill="none" stroke="#333" stroke-width="0.5"/>
<circle cx="104.7" cy="46.7" r="1.05" fill="none" stroke="#333" stroke-width="0.5"/>
<circle cx="106.0" cy="46.7" r="1.05" fill="none" stroke="#333" stroke-width="0.5"/>
<circle cx="106.9" cy="46.7" r="1.05" fill="none" stroke="#333" stroke-width="0.5"/>
<circle cx="108.9" cy="46.0" r="1.05" fill="none" stroke="#333" stroke-width="0.5"/>
<circle cx="110.7" cy="47.8" r="1.05" fill="none" stroke="#333" stroke-width="0.5"/>
<circle cx="111.4" cy="45.8" r="1.05" fill="none" stroke="#333" stroke-width="0.5"/>
<circle cx="113.2" cy="46.4" r="1.05" fill="none" stroke="#333" stroke-width="0.5"/>
<circle cx="114.4" cy="45.8" r="1.05" fill="none" stroke="#333" stroke-width="0.5"/>
<circle cx="116.5" cy="45.3" r="1.05" fill="none" stroke="#333" stroke-width="0.5"/>
<circle cx="117.7" cy="45.0" r="1.05" fill="none" stroke="#333" stroke-width="0.5"/>
<circle cx="119.1" cy="45.3" r="1.05" fill="none" stroke="#333" stroke-width="0.5"/>
<circle cx="120.8" cy="45.4" r="1.05" fill="none" stroke="#333" stroke-width="0.5"/>
<circle cx="121.2" cy="45.1" r="1.05" fill="none" stroke="#333" stroke-width="0.5"/>
<circle cx="122.7" cy="45.8" r="1.05" fill="none" stroke="#333" stroke-width="0.5"/>
<circle cx="123.3" cy="44.3" r="1.05" fill="none" stroke="#333" stroke-width="0.5"/>
<circle cx="124.3" cy="45.8" r="1.05" fill="none" stroke="#333" stroke-width="0.5"/>
<circle cx="125.3" cy="44.1" r="1.05" fill="none" stroke="#333" stroke-width="0.5"/>
<circle cx="126.4" cy="44.7" r="1.05" fill="none" stroke="#333" stroke-width="0.5"/>
<circle cx="127.3" cy="44.7" r="1.05" fill="none" stroke="#333" stroke-width="0.5"/>
<circle cx="128.0" cy="44.2" r="1.05" fill="none" stroke="#333" stroke-width="0.5"/>
<circle cx="129.5" cy="44.9" r="1.05" fill="none" stroke="#333" stroke-width="0.5"/>
<circle cx="129.8" cy="43.5" r="1.05" fill="none" stroke="#333" stroke-width="0.5"/>
<circle cx="131.1" cy="45.1" r="1.05" fill="none" stroke="#333" stroke-width="0.5"/>
<circle cx="131.6" cy="44.8" r="1.05" fill="none" stroke="#333" stroke-width="0.5"/>
<circle cx="132.7" cy="44.4" r="1.05" fill="none" stroke="#333" stroke-width="0.5"/>
<circle cx="132.8" cy="45.9" r="1.05" fill="none" stroke="#333" stroke-width="0.5"/>
<circle cx="133.7" cy="46.1" r="1.05" fill="none" stroke="#333" stroke-width="0.5"/>
<circle cx="133.8" cy="46.5" r="1.05" fill="none" stroke="#333" stroke-width="0.5"/>
<circle cx="135.3" cy="46.0" r="1.05" fill="none" stroke="#333" stroke-width="0.5"/>
<circle cx="135.9" cy="46.3" r="1.05" fill="none" stroke="#333" stroke-width="0.5"/>
<circle cx="136.3" cy="46.7" r="1.05" fill="none" stroke="#333" stroke-width="0.5"/>
<circle cx="136.9" cy="47.1" r="1.05" fill="none" stroke="#333" stroke-width="0.5"/>
<circle cx="138.2" cy="47.9" r="1.05" fill="none" stroke="#333" stroke-width="0.5"/>
<circle cx="139.2" cy="47.2" r="1.05" fill="none" stroke="#333" stroke-width="0.5"/>
<circle cx="140.0" cy="46.5" r="1.05" fill="none" stroke="#333" stroke-width="0.5"/>
<circle cx="141.3" cy="46.1" r="1.05" fill="none" stroke="#333" stroke-width="0.5"/>
<circle cx="142.2" cy="45.4" r="1.05" fill="none" stroke="#333" stroke-width="0.5"/>
<circle cx="143.5" cy="45.4" r="1.05" fill="none" stroke="#333" stroke-width="0.5"/>
<circle cx="144.0" cy="45.5" r="1.05" fill="none" stroke="#333" stroke-width="0.5"/>
<circle cx="145.6" cy="44.3" r="1.05" fill="none" stroke="#333" stroke-width="0.5"/>
<circle cx="146.7" cy="43.9" r="1.05" fill="none" stroke="#333" stroke-width="0.5"/>
<circle cx="147.9" cy="43.0" r="1.05" fill="none" stroke="#333" stroke-width="0.5"/>
<circle cx="148.8" cy="42.7" r="1.05" fill="none" stroke="#333" stroke-width="0.5"/>
<circle cx="149.5" cy="42.5" r="1.05" fill="none" stroke="#333" stroke-width="0.5"/>
<circle cx="150.7" cy="40.9" r="1.05" fill="none" stroke="#333" stroke-width="0.5"/>
<circle cx="151.9" cy="41.0" r="1.05" fill="none" stroke="#333" stroke-width="0.5"/>
<circle cx="152.8" cy="40.1" r="1.05" fill="none" stroke="#333" stroke-width="0.5"/>
<circle cx="153.9" cy="39.4" r="1.05" fill="none" stroke="#333" stroke-width="0.5"/>
<circle cx="165.6" cy="47.4" r="1.05" fill="none" stroke="#777" stroke-width="0.4"/>
<circle cx="166.7" cy="45.8" r="1.05" fill="none" stroke="#777" stroke-width="0.4"/>
<circle cx="167.6" cy="43.7" r="1.05" fill="none" stroke="#777" stroke-width="0.4"/>
<circle cx="168.4" cy="42.6" r="1.05" fill="none" stroke="#777" stroke-width="0.4"/>
<circle cx="169.4" cy="41.4" r="1.05" fill="none" stroke="#777" stroke-width="0.4"/>
<circle cx="170.8" cy="40.5" r="1.05" fill="none" stroke="#777" stroke-width="0.4"/>
<circle cx="172.2" cy="39.6" r="1.05" fill="none" stroke="#777" stroke-width="0.4"/>
<circle cx="173.4" cy="38.8" r="1.05" fill="none" stroke="#777" stroke-width="0.4"/>
<circle cx="176.1" cy="37.7" r="1.05" fill="none" stroke="#777" stroke-width="0.4"/>
<circle cx="178.9" cy="37.5" r="1.05" fill="none" stroke="#777" stroke-width="0.4"/>
<circle cx="181.5" cy="36.4" r="1.05" fill="none" stroke="#777" stroke-width="0.4"/>
<circle cx="184.2" cy="35.4" r="1.05" fill="none" stroke="#777" stroke-width="0.4"/>
<circle cx="171.7" cy="38.7" r="1.05" fill="none" stroke="#2a4a3a" stroke-width="0.6"/>
<circle cx="173.1" cy="38.3" r="1.05" fill="none" stroke="#2a4a3a" stroke-width="0.6"/>
<circle cx="173.4" cy="37.4" r="1.05" fill="none" stroke="#2a4a3a" stroke-width="0.6"/>
<circle cx="174.4" cy="37.6" r="1.05" fill="none" stroke="#2a4a3a" stroke-width="0.6"/>
<circle cx="175.0" cy="37.1" r="1.05" fill="none" stroke="#2a4a3a" stroke-width="0.6"/>
<circle cx="176.0" cy="36.7" r="1.05" fill="none" stroke="#2a4a3a" stroke-width="0.6"/>
<circle cx="176.4" cy="36.2" r="1.05" fill="none" stroke="#2a4a3a" stroke-width="0.6"/>
<circle cx="177.6" cy="36.7" r="1.05" fill="none" stroke="#2a4a3a" stroke-width="0.6"/>
<circle cx="178.6" cy="35.9" r="1.05" fill="none" stroke="#2a4a3a" stroke-width="0.6"/>
<circle cx="179.1" cy="36.0" r="1.05" fill="none" stroke="#2a4a3a" stroke-width="0.6"/>
<circle cx="179.9" cy="35.9" r="1.05" fill="none" stroke="#2a4a3a" stroke-width="0.6"/>
<circle cx="180.9" cy="35.9" r="1.05" fill="none" stroke="#2a4a3a" stroke-width="0.6"/>
<circle cx="181.7" cy="36.3" r="1.05" fill="none" stroke="#2a4a3a" stroke-width="0.6"/>
<circle cx="182.2" cy="36.1" r="1.05" fill="none" stroke="#2a4a3a" stroke-width="0.6"/>
<circle cx="182.9" cy="35.3" r="1.05" fill="none" stroke="#2a4a3a" stroke-width="0.6"/>
<circle cx="184.2" cy="35.2" r="1.05" fill="none" stroke="#2a4a3a" stroke-width="0.6"/>
<circle cx="188.9" cy="59.1" r="1.05" fill="none" stroke="#4a4a4a" stroke-width="0.4"/>
<circle cx="189.8" cy="58.6" r="1.05" fill="none" stroke="#4a4a4a" stroke-width="0.4"/>
<circle cx="190.9" cy="58.4" r="1.05" fill="none" stroke="#4a4a4a" stroke-width="0.4"/>
<circle cx="191.7" cy="57.9" r="1.05" fill="none" stroke="#4a4a4a" stroke-width="0.4"/>
<circle cx="192.5" cy="58.2" r="1.05" fill="none" stroke="#4a4a4a" stroke-width="0.4"/>
<circle cx="194.3" cy="57.5" r="1.05" fill="none" stroke="#4a4a4a" stroke-width="0.4"/>
<circle cx="194.3" cy="58.2" r="1.05" fill="none" stroke="#4a4a4a" stroke-width="0.4"/>
<circle cx="195.8" cy="57.0" r="1.05" fill="none" stroke="#4a4a4a" stroke-width="0.4"/>
<circle cx="196.4" cy="56.8" r="1.05" fill="none" stroke="#4a4a4a" stroke-width="0.4"/>
<circle cx="197.7" cy="56.2" r="1.05" fill="none" stroke="#4a4a4a" stroke-width="0.4"/>
<circle cx="198.7" cy="55.4" r="1.05" fill="none" stroke="#4a4a4a" stroke-width="0.4"/>
<circle cx="199.5" cy="55.6" r="1.05" fill="none" stroke="#4a4a4a" stroke-width="0.4"/>
<circle cx="200.7" cy="55.7" r="1.05" fill="none" stroke="#4a4a4a" stroke-width="0.4"/>
<circle cx="201.8" cy="55.6" r="1.05" fill="none" stroke="#4a4a4a" stroke-width="0.4"/>
<circle cx="203.2" cy="56.3" r="1.05" fill="none" stroke="#4a4a4a" stroke-width="0.4"/>
<circle cx="203.9" cy="55.1" r="1.05" fill="none" stroke="#4a4a4a" stroke-width="0.4"/>
<circle cx="205.9" cy="44.1" r="1.05" fill="none" stroke="#4a4a4a" stroke-width="0.4"/>
<circle cx="206.4" cy="43.3" r="1.05" fill="none" stroke="#4a4a4a" stroke-width="0.4"/>
<circle cx="207.0" cy="43.6" r="1.05" fill="none" stroke="#4a4a4a" stroke-width="0.4"/>
<circle cx="207.5" cy="42.5" r="1.05" fill="none" stroke="#4a4a4a" stroke-width="0.4"/>
<circle cx="207.8" cy="41.6" r="1.05" fill="none" stroke="#4a4a4a" stroke-width="0.4"/>
<circle cx="208.2" cy="41.7" r="1.05" fill="none" stroke="#4a4a4a" stroke-width="0.4"/>
<circle cx="209.0" cy="41.2" r="1.05" fill="none" stroke="#4a4a4a" stroke-width="0.4"/>
<circle cx="209.3" cy="40.8" r="1.05" fill="none" stroke="#4a4a4a" stroke-width="0.4"/>
<circle cx="210.5" cy="40.6" r="1.05" fill="none" stroke="#4a4a4a" stroke-width="0.4"/>
<circle cx="211.3" cy="39.8" r="1.05" fill="none" stroke="#4a4a4a" stroke-width="0.4"/>
<circle cx="212.0" cy="39.7" r="1.05" fill="none" stroke="#4a4a4a" stroke-width="0.4"/>
<circle cx="212.3" cy="39.9" r="1.05" fill="none" stroke="#4a4a4a" stroke-width="0.4"/>
<circle cx="213.6" cy="39.9" r="1.05" fill="none" stroke="#4a4a4a" stroke-width="0.4"/>
<circle cx="214.5" cy="39.6" r="1.05" fill="none" stroke="#4a4a4a" stroke-width="0.4"/>
<circle cx="214.6" cy="40.2" r="1.05" fill="none" stroke="#4a4a4a" stroke-width="0.4"/>
<circle cx="216.0" cy="40.1" r="1.05" fill="none" stroke="#4a4a4a" stroke-width="0.4"/>
<circle cx="216.5" cy="40.6" r="1.05" fill="none" stroke="#4a4a4a" stroke-width="0.4"/>
<circle cx="217.4" cy="40.4" r="1.05" fill="none" stroke="#4a4a4a" stroke-width="0.4"/>
<circle cx="218.4" cy="41.9" r="1.05" fill="none" stroke="#4a4a4a" stroke-width="0.4"/>
<circle cx="219.1" cy="41.6" r="1.05" fill="none" stroke="#4a4a4a" stroke-width="0.4"/>
<circle cx="229.0" cy="87.3" r="1.05" fill="none" stroke="#4a4a4a" stroke-width="0.4"/>
<circle cx="231.4" cy="87.7" r="1.05" fill="none" stroke="#4a4a4a" stroke-width="0.4"/>
<circle cx="232.5" cy="87.1" r="1.05" fill="none" stroke="#4a4a4a" stroke-width="0.4"/>
<circle cx="233.7" cy="87.9" r="1.05" fill="none" stroke="#4a4a4a" stroke-width="0.4"/>
<circle cx="234.9" cy="88.7" r="1.05" fill="none" stroke="#4a4a4a" stroke-width="0.4"/>
<circle cx="236.2" cy="88.3" r="1.05" fill="none" stroke="#4a4a4a" stroke-width="0.4"/>
<circle cx="237.1" cy="87.7" r="1.05" fill="none" stroke="#4a4a4a" stroke-width="0.4"/>
<circle cx="239.1" cy="89.1" r="1.05" fill="none" stroke="#4a4a4a" stroke-width="0.4"/>
<circle cx="239.9" cy="89.9" r="1.05" fill="none" stroke="#4a4a4a" stroke-width="0.4"/>
<circle cx="240.7" cy="90.5" r="1.05" fill="none" stroke="#4a4a4a" stroke-width="0.4"/>
<circle cx="241.8" cy="91.6" r="1.05" fill="none" stroke="#4a4a4a" stroke-width="0.4"/>
<circle cx="242.7" cy="90.9" r="1.05" fill="none" stroke="#4a4a4a" stroke-width="0.4"/>
<circle cx="243.9" cy="91.8" r="1.05" fill="none" stroke="#4a4a4a" stroke-width="0.4"/>
<circle cx="245.4" cy="91.6" r="1.05" fill="none" stroke="#4a4a4a" stroke-width="0.4"/>
<circle cx="152.6" cy="88.1" r="1.05" fill="none" stroke="#4a4a4a" stroke-width="0.4"/>
<circle cx="154.7" cy="87.5" r="1.05" fill="none" stroke="#4a4a4a" stroke-width="0.4"/>
<circle cx="156.1" cy="87.3" r="1.05" fill="none" stroke="#4a4a4a" stroke-width="0.4"/>
<circle cx="157.5" cy="86.4" r="1.05" fill="none" stroke="#4a4a4a" stroke-width="0.4"/>
<circle cx="159.0" cy="86.2" r="1.05" fill="none" stroke="#4a4a4a" stroke-width="0.4"/>
<circle cx="160.6" cy="85.7" r="1.05" fill="none" stroke="#4a4a4a" stroke-width="0.4"/>
<circle cx="162.2" cy="84.7" r="1.05" fill="none" stroke="#4a4a4a" stroke-width="0.4"/>
<circle cx="164.1" cy="85.0" r="1.05" fill="none" stroke="#4a4a4a" stroke-width="0.4"/>
<circle cx="165.6" cy="84.8" r="1.05" fill="none" stroke="#4a4a4a" stroke-width="0.4"/>
<circle cx="166.7" cy="84.2" r="1.05" fill="none" stroke="#4a4a4a" stroke-width="0.4"/>
<path d="M73.7,97.4H76.3M75.0,96.1V98.7" stroke="#111" stroke-width="0.9"/>
<circle cx="75.0" cy="97.4" r="0.75" fill="#111"/>
<path d="M75.3,100.4H77.9M76.6,99.1V101.7" stroke="#111" stroke-width="0.9"/>
<circle cx="76.6" cy="100.4" r="0.75" fill="#111"/>
<path d="M88.7,100.6H91.3M90.0,99.3V101.9" stroke="#111" stroke-width="0.9"/>
<circle cx="90.0" cy="100.6" r="0.75" fill="#111"/>
<path d="M106.7,94.4H109.3M108.0,93.1V95.7" stroke="#111" stroke-width="0.9"/>
<circle cx="108.0" cy="94.4" r="0.75" fill="#111"/>
<path d="M119.1,95.2H121.7M120.4,93.9V96.5" stroke="#111" stroke-width="0.9"/>
<circle cx="120.4" cy="95.2" r="0.75" fill="#111"/>
<path d="M121.7,95.2H124.3M123.0,93.9V96.5" stroke="#111" stroke-width="0.9"/>
<circle cx="123.0" cy="95.2" r="0.75" fill="#111"/>
<path d="M137.3,96.4H139.9M138.6,95.1V97.7" stroke="#111" stroke-width="0.9"/>
<circle cx="138.6" cy="96.4" r="0.75" fill="#111"/>
<path d="M152.7,88.0H155.3M154.0,86.7V89.3" stroke="#111" stroke-width="0.9"/>
<circle cx="154.0" cy="88.0" r="0.75" fill="#111"/>
<path d="M167.0,93.0H169.6M168.3,91.7V94.3" stroke="#111" stroke-width="0.9"/>
<circle cx="168.3" cy="93.0" r="0.75" fill="#111"/>
<path d="M187.2,84.5H189.8M188.5,83.2V85.8" stroke="#111" stroke-width="0.9"/>
<circle cx="188.5" cy="84.5" r="0.75" fill="#111"/>
<path d="M202.6,87.8H205.2M203.9,86.5V89.1" stroke="#111" stroke-width="0.9"/>
<circle cx="203.9" cy="87.8" r="0.75" fill="#111"/>
<path d="M229.2,100.3H231.8M230.5,99.0V101.6" stroke="#111" stroke-width="0.9"/>
<circle cx="230.5" cy="100.3" r="0.75" fill="#111"/>
<path d="M240.4,118.5H243.0M241.7,117.2V119.8" stroke="#111" stroke-width="0.9"/>
<circle cx="241.7" cy="118.5" r="0.75" fill="#111"/>
<path d="M249.5,118.3H252.1M250.8,117.0V119.6" stroke="#111" stroke-width="0.9"/>
<circle cx="250.8" cy="118.3" r="0.75" fill="#111"/>
<rect x="152.8" y="31.8" width="2.4" height="2.4" fill="#9400a8"/>
<rect x="167.5" y="17.9" width="2.4" height="2.4" fill="#9400a8"/>
<rect x="187.5" y="15.3" width="2.4" height="2.4" fill="#9400a8"/>
<rect x="202.7" y="12.6" width="2.4" height="2.4" fill="#9400a8"/>
<rect x="229.6" y="31.2" width="2.4" height="2.4" fill="#9400a8"/>
<rect x="240.5" y="115.2" width="2.4" height="2.4" fill="#9400a8"/>
<rect x="249.6" y="115.0" width="2.4" height="2.4" fill="#9400a8"/>
<line x1="32.6" y1="182.1" x2="33.6" y2="182.0" stroke="#fee39c" stroke-width="2.6" stroke-linecap="round"/>
<line x1="33.6" y1="182.0" x2="34.6" y2="182.2" stroke="#fee199" stroke-width="2.6" stroke-linecap="round"/>
<line x1="34.6" y1="182.2" x2="35.6" y2="182.3" stroke="#fedf97" stroke-width="2.6" stroke-linecap="round"/>
<line x1="35.6" y1="182.3" x2="36.6" y2="182.6" stroke="#fedd94" stroke-width="2.6" stroke-linecap="round"/>
<line x1="36.6" y1="182.6" x2="37.6" y2="182.4" stroke="#feda91" stroke-width="2.6" stroke-linecap="round"/>
<line x1="37.6" y1="182.4" x2="38.6" y2="182.4" stroke="#fdd88e" stroke-width="2.6" stroke-linecap="round"/>
<line x1="38.6" y1="182.4" x2="39.6" y2="182.5" stroke="#fdd68b" stroke-width="2.6" stroke-linecap="round"/>
<line x1="39.6" y1="182.5" x2="40.6" y2="182.5" stroke="#fdd488" stroke-width="2.6" stroke-linecap="round"/>
<line x1="40.6" y1="182.5" x2="41.6" y2="182.4" stroke="#fdd285" stroke-width="2.6" stroke-linecap="round"/>
<line x1="41.6" y1="182.4" x2="42.6" y2="182.8" stroke="#fdcf82" stroke-width="2.6" stroke-linecap="round"/>
<line x1="42.6" y1="182.8" x2="43.6" y2="182.3" stroke="#fdcd7f" stroke-width="2.6" stroke-linecap="round"/>
<line x1="43.6" y1="182.3" x2="44.6" y2="182.3" stroke="#fdcb7c" stroke-width="2.6" stroke-linecap="round"/>
<line x1="44.6" y1="182.3" x2="45.6" y2="182.2" stroke="#fdc979" stroke-width="2.6" stroke-linecap="round"/>
<line x1="45.6" y1="182.2" x2="46.6" y2="182.4" stroke="#fdc677" stroke-width="2.6" stroke-linecap="round"/>
<line x1="46.6" y1="182.4" x2="47.6" y2="182.4" stroke="#fcc274" stroke-width="2.6" stroke-linecap="round"/>
<line x1="47.6" y1="182.4" x2="48.6" y2="182.5" stroke="#fcbe72" stroke-width="2.6" stroke-linecap="round"/>
<line x1="48.6" y1="182.5" x2="49.6" y2="182.6" stroke="#fcba6f" stroke-width="2.6" stroke-linecap="round"/>
<line x1="49.6" y1="182.6" x2="50.6" y2="182.9" stroke="#fbb66d" stroke-width="2.6" stroke-linecap="round"/>
<line x1="50.6" y1="182.9" x2="51.6" y2="182.8" stroke="#fbb26b" stroke-width="2.6" stroke-linecap="round"/>
<line x1="51.6" y1="182.8" x2="52.6" y2="182.6" stroke="#faae68" stroke-width="2.6" stroke-linecap="round"/>
<line x1="52.6" y1="182.6" x2="53.6" y2="182.7" stroke="#faaa66" stroke-width="2.6" stroke-linecap="round"/>
<line x1="53.6" y1="182.7" x2="54.6" y2="182.6" stroke="#faa663" stroke-width="2.6" stroke-linecap="round"/>
<line x1="54.6" y1="182.6" x2="55.6" y2="182.7" stroke="#f9a261" stroke-width="2.6" stroke-linecap="round"/>
<line x1="55.6" y1="182.7" x2="56.6" y2="182.7" stroke="#f99d5f" stroke-width="2.6" stroke-linecap="round"/>
<line x1="56.6" y1="182.7" x2="57.6" y2="183.1" stroke="#f8995c" stroke-width="2.6" stroke-linecap="round"/>
<line x1="57.6" y1="183.1" x2="58.6" y2="182.6" stroke="#f8945a" stroke-width="2.6" stroke-linecap="round"/>
<line x1="58.6" y1="182.6" x2="59.6" y2="182.6" stroke="#f79058" stroke-width="2.6" stroke-linecap="round"/>
<line x1="59.6" y1="182.6" x2="60.6" y2="182.9" stroke="#f68b55" stroke-width="2.6" stroke-linecap="round"/>
<line x1="60.6" y1="182.9" x2="61.6" y2="182.7" stroke="#f68653" stroke-width="2.6" stroke-linecap="round"/>
<line x1="61.6" y1="182.7" x2="62.6" y2="182.7" stroke="#f58251" stroke-width="2.6" stroke-linecap="round"/>
<line x1="62.6" y1="182.7" x2="63.6" y2="182.9" stroke="#f47e4f" stroke-width="2.6" stroke-linecap="round"/>
<line x1="63.6" y1="182.9" x2="64.6" y2="182.7" stroke="#f37b4f" stroke-width="2.6" stroke-linecap="round"/>
<line x1="64.6" y1="182.7" x2="65.6" y2="183.1" stroke="#f2774e" stroke-width="2.6" stroke-linecap="round"/>
<line x1="65.6" y1="183.1" x2="66.6" y2="183.0" stroke="#f1744d" stroke-width="2.6" stroke-linecap="round"/>
<line x1="66.6" y1="183.0" x2="67.6" y2="182.9" stroke="#f0714c" stroke-width="2.6" stroke-linecap="round"/>
<line x1="67.6" y1="182.9" x2="68.6" y2="182.9" stroke="#ef6d4b" stroke-width="2.6" stroke-linecap="round"/>
<line x1="68.6" y1="182.9" x2="69.6" y2="182.9" stroke="#ee6a4a" stroke-width="2.6" stroke-linecap="round"/>
<line x1="69.6" y1="182.9" x2="70.6" y2="183.2" stroke="#ed674a" stroke-width="2.6" stroke-linecap="round"/>
<line x1="70.6" y1="183.2" x2="71.6" y2="183.0" stroke="#ec6449" stroke-width="2.6" stroke-linecap="round"/>
<line x1="71.6" y1="183.0" x2="72.6" y2="183.1" stroke="#eb6048" stroke-width="2.6" stroke-linecap="round"/>
<line x1="72.6" y1="183.1" x2="73.6" y2="182.9" stroke="#ea5d47" stroke-width="2.6" stroke-linecap="round"/>
<line x1="73.6" y1="182.9" x2="74.6" y2="183.3" stroke="#e95a46" stroke-width="2.6" stroke-linecap="round"/>
<line x1="74.6" y1="183.3" x2="75.6" y2="183.1" stroke="#e85645" stroke-width="2.6" stroke-linecap="round"/>
<line x1="75.6" y1="183.1" x2="76.6" y2="183.0" stroke="#e75445" stroke-width="2.6" stroke-linecap="round"/>
<line x1="76.6" y1="183.0" x2="77.6" y2="183.4" stroke="#e55246" stroke-width="2.6" stroke-linecap="round"/>
<line x1="77.6" y1="183.4" x2="78.6" y2="183.2" stroke="#e45047" stroke-width="2.6" stroke-linecap="round"/>
<line x1="78.6" y1="183.2" x2="79.6" y2="183.1" stroke="#e24d48" stroke-width="2.6" stroke-linecap="round"/>
<line x1="79.6" y1="183.1" x2="80.6" y2="183.3" stroke="#e14b48" stroke-width="2.6" stroke-linecap="round"/>
<line x1="80.6" y1="183.3" x2="81.6" y2="183.1" stroke="#df4949" stroke-width="2.6" stroke-linecap="round"/>
<line x1="81.6" y1="183.1" x2="82.6" y2="183.2" stroke="#dd474a" stroke-width="2.6" stroke-linecap="round"/>
<line x1="82.6" y1="183.2" x2="83.6" y2="183.4" stroke="#dc454a" stroke-width="2.6" stroke-linecap="round"/>
<line x1="83.6" y1="183.4" x2="84.6" y2="183.1" stroke="#da434b" stroke-width="2.6" stroke-linecap="round"/>
<line x1="84.6" y1="183.1" x2="85.6" y2="183.3" stroke="#d9414c" stroke-width="2.6" stroke-linecap="round"/>
<line x1="85.6" y1="183.3" x2="86.6" y2="183.3" stroke="#d73e4c" stroke-width="2.6" stroke-linecap="round"/>
<line x1="86.6" y1="183.3" x2="87.6" y2="183.4" stroke="#d63c4c" stroke-width="2.6" stroke-linecap="round"/>
<line x1="87.6" y1="183.4" x2="88.6" y2="183.2" stroke="#d5394c" stroke-width="2.6" stroke-linecap="round"/>
<line x1="88.6" y1="183.2" x2="89.6" y2="183.2" stroke="#d3374c" stroke-width="2.6" stroke-linecap="round"/>
<line x1="89.6" y1="183.2" x2="90.6" y2="183.3" stroke="#d2344c" stroke-width="2.6" stroke-linecap="round"/>
<line x1="90.6" y1="183.3" x2="91.6" y2="183.3" stroke="#d1324c" stroke-width="2.6" stroke-linecap="round"/>
<line x1="91.6" y1="183.3" x2="92.6" y2="183.4" stroke="#d02f4c" stroke-width="2.6" stroke-linecap="round"/>
<line x1="92.6" y1="183.4" x2="93.6" y2="183.4" stroke="#ce2d4d" stroke-width="2.6" stroke-linecap="round"/>
<line x1="93.6" y1="183.4" x2="94.6" y2="183.5" stroke="#cd2a4d" stroke-width="2.6" stroke-linecap="round"/>
<line x1="94.6" y1="183.5" x2="95.6" y2="183.5" stroke="#cc284d" stroke-width="2.6" stroke-linecap="round"/>
<line x1="95.6" y1="183.5" x2="96.6" y2="183.3" stroke="#cb254d" stroke-width="2.6" stroke-linecap="round"/>
<line x1="96.6" y1="183.3" x2="97.6" y2="183.5" stroke="#c9234d" stroke-width="2.6" stroke-linecap="round"/>
<line x1="97.6" y1="183.5" x2="98.6" y2="183.6" stroke="#c8204d" stroke-width="2.6" stroke-linecap="round"/>
<line x1="98.6" y1="183.6" x2="99.6" y2="183.7" stroke="#c71e4d" stroke-width="2.6" stroke-linecap="round"/>
<line x1="99.6" y1="183.7" x2="100.6" y2="183.6" stroke="#c61b4d" stroke-width="2.6" stroke-linecap="round"/>
<line x1="100.6" y1="183.6" x2="101.6" y2="183.6" stroke="#c41a4d" stroke-width="2.6" stroke-linecap="round"/>
<line x1="101.6" y1="183.6" x2="102.6" y2="183.9" stroke="#c3194d" stroke-width="2.6" stroke-linecap="round"/>
<line x1="102.6" y1="183.9" x2="103.6" y2="183.6" stroke="#c3194d" stroke-width="2.6" stroke-linecap="round"/>
<line x1="103.6" y1="183.6" x2="104.6" y2="183.8" stroke="#c2184d" stroke-width="2.6" stroke-linecap="round"/>
<line x1="104.6" y1="183.8" x2="105.6" y2="183.8" stroke="#c1184d" stroke-width="2.6" stroke-linecap="round"/>
<line x1="105.6" y1="183.8" x2="106.6" y2="183.5" stroke="#c0174d" stroke-width="2.6" stroke-linecap="round"/>
<line x1="106.6" y1="183.5" x2="107.6" y2="183.7" stroke="#bf174d" stroke-width="2.6" stroke-linecap="round"/>
<line x1="107.6" y1="183.7" x2="108.6" y2="183.8" stroke="#be174d" stroke-width="2.6" stroke-linecap="round"/>
<line x1="108.6" y1="183.8" x2="109.6" y2="183.6" stroke="#bd164d" stroke-width="2.6" stroke-linecap="round"/>
<line x1="109.6" y1="183.6" x2="110.6" y2="184.0" stroke="#bc164d" stroke-width="2.6" stroke-linecap="round"/>
<line x1="110.6" y1="184.0" x2="111.6" y2="183.7" stroke="#bb154d" stroke-width="2.6" stroke-linecap="round"/>
<line x1="111.6" y1="183.7" x2="112.6" y2="183.9" stroke="#ba154c" stroke-width="2.6" stroke-linecap="round"/>
<line x1="112.6" y1="183.9" x2="113.6" y2="183.8" stroke="#b9144c" stroke-width="2.6" stroke-linecap="round"/>
<line x1="113.6" y1="183.8" x2="114.6" y2="183.9" stroke="#b8144c" stroke-width="2.6" stroke-linecap="round"/>
<line x1="114.6" y1="183.9" x2="115.6" y2="183.7" stroke="#b7134c" stroke-width="2.6" stroke-linecap="round"/>
<line x1="115.6" y1="183.7" x2="116.6" y2="184.1" stroke="#b6134c" stroke-width="2.6" stroke-linecap="round"/>
<line x1="116.6" y1="184.1" x2="117.6" y2="183.8" stroke="#b5124c" stroke-width="2.6" stroke-linecap="round"/>
<line x1="117.6" y1="183.8" x2="118.6" y2="184.2" stroke="#b4124c" stroke-width="2.6" stroke-linecap="round"/>
<line x1="118.6" y1="184.2" x2="119.6" y2="183.9" stroke="#b3124c" stroke-width="2.6" stroke-linecap="round"/>
<line x1="119.6" y1="183.9" x2="120.6" y2="183.8" stroke="#b2114c" stroke-width="2.6" stroke-linecap="round"/>
<line x1="120.6" y1="183.8" x2="121.6" y2="184.1" stroke="#b1114c" stroke-width="2.6" stroke-linecap="round"/>
<line x1="121.6" y1="184.1" x2="122.6" y2="184.0" stroke="#b0104c" stroke-width="2.6" stroke-linecap="round"/>
<line x1="122.6" y1="184.0" x2="123.6" y2="184.0" stroke="#ad124d" stroke-width="2.6" stroke-linecap="round"/>
<line x1="123.6" y1="184.0" x2="124.6" y2="183.8" stroke="#a8164e" stroke-width="2.6" stroke-linecap="round"/>
<line x1="124.6" y1="183.8" x2="125.6" y2="184.0" stroke="#a31a4f" stroke-width="2.6" stroke-linecap="round"/>
<line x1="125.6" y1="184.0" x2="126.6" y2="184.0" stroke="#9e1e50" stroke-width="2.6" stroke-linecap="round"/>
<line x1="126.6" y1="184.0" x2="127.6" y2="183.9" stroke="#9c2954" stroke-width="2.6" stroke-linecap="round"/>
<line x1="127.6" y1="183.9" x2="128.6" y2="183.9" stroke="#9b375a" stroke-width="2.6" stroke-linecap="round"/>
<line x1="128.6" y1="183.9" x2="129.6" y2="184.0" stroke="#9b4660" stroke-width="2.6" stroke-linecap="round"/>
<line x1="129.6" y1="184.0" x2="130.6" y2="184.0" stroke="#9a5466" stroke-width="2.6" stroke-linecap="round"/>
<line x1="130.6" y1="184.0" x2="131.6" y2="184.3" stroke="#9b616b" stroke-width="2.6" stroke-linecap="round"/>
<line x1="131.6" y1="184.3" x2="132.6" y2="184.3" stroke="#9c6d71" stroke-width="2.6" stroke-linecap="round"/>
<line x1="132.6" y1="184.3" x2="133.6" y2="184.1" stroke="#9d7977" stroke-width="2.6" stroke-linecap="round"/>
<line x1="133.6" y1="184.1" x2="134.6" y2="184.0" stroke="#9e847d" stroke-width="2.6" stroke-linecap="round"/>
<line x1="134.6" y1="184.0" x2="135.6" y2="184.2" stroke="#a09083" stroke-width="2.6" stroke-linecap="round"/>
<line x1="135.6" y1="184.2" x2="136.6" y2="184.3" stroke="#9f9c87" stroke-width="2.6" stroke-linecap="round"/>
<line x1="136.6" y1="184.3" x2="137.6" y2="184.2" stroke="#9da88b" stroke-width="2.6" stroke-linecap="round"/>
<line x1="137.6" y1="184.2" x2="138.6" y2="184.3" stroke="#9bb48f" stroke-width="2.6" stroke-linecap="round"/>
<line x1="138.6" y1="184.3" x2="139.6" y2="184.5" stroke="#99bf93" stroke-width="2.6" stroke-linecap="round"/>
<line x1="139.6" y1="184.5" x2="140.6" y2="184.3" stroke="#97cb96" stroke-width="2.6" stroke-linecap="round"/>
<line x1="140.6" y1="184.3" x2="141.6" y2="184.3" stroke="#96d098" stroke-width="2.6" stroke-linecap="round"/>
<line x1="141.6" y1="184.3" x2="142.6" y2="184.5" stroke="#95d098" stroke-width="2.6" stroke-linecap="round"/>
<line x1="142.6" y1="184.5" x2="143.6" y2="184.4" stroke="#94cf99" stroke-width="2.6" stroke-linecap="round"/>
<line x1="143.6" y1="184.4" x2="144.6" y2="184.4" stroke="#93cf99" stroke-width="2.6" stroke-linecap="round"/>
<line x1="144.6" y1="184.4" x2="145.6" y2="184.3" stroke="#93cf99" stroke-width="2.6" stroke-linecap="round"/>
<line x1="145.6" y1="184.3" x2="146.6" y2="184.6" stroke="#92cf99" stroke-width="2.6" stroke-linecap="round"/>
<line x1="146.6" y1="184.6" x2="147.6" y2="184.5" stroke="#91cf99" stroke-width="2.6" stroke-linecap="round"/>
<line x1="147.6" y1="184.5" x2="148.6" y2="184.4" stroke="#91ce9a" stroke-width="2.6" stroke-linecap="round"/>
<line x1="148.6" y1="184.4" x2="149.6" y2="184.5" stroke="#90ce9a" stroke-width="2.6" stroke-linecap="round"/>
<line x1="171.0" y1="184.3" x2="174.0" y2="183.8" stroke="#84ca9e" stroke-width="2.6" stroke-linecap="round"/>
<line x1="174.0" y1="183.8" x2="177.0" y2="183.0" stroke="#82ca9e" stroke-width="2.6" stroke-linecap="round"/>
<line x1="177.0" y1="183.0" x2="179.0" y2="184.0" stroke="#81c99f" stroke-width="2.6" stroke-linecap="round"/>
<line x1="179.0" y1="184.0" x2="181.0" y2="183.2" stroke="#80c99f" stroke-width="2.6" stroke-linecap="round"/>
<line x1="181.0" y1="183.2" x2="183.0" y2="184.0" stroke="#80c99f" stroke-width="2.6" stroke-linecap="round"/>
<line x1="183.0" y1="184.0" x2="186.0" y2="183.6" stroke="#7fc8a0" stroke-width="2.6" stroke-linecap="round"/>
<line x1="186.0" y1="183.6" x2="189.0" y2="182.8" stroke="#7dc7a0" stroke-width="2.6" stroke-linecap="round"/>
<line x1="189.0" y1="182.8" x2="191.0" y2="184.0" stroke="#79c6a0" stroke-width="2.6" stroke-linecap="round"/>
<line x1="191.0" y1="184.0" x2="194.0" y2="183.4" stroke="#77c5a0" stroke-width="2.6" stroke-linecap="round"/>
<line x1="194.0" y1="183.4" x2="197.0" y2="184.2" stroke="#73c3a0" stroke-width="2.6" stroke-linecap="round"/>
<line x1="197.0" y1="184.2" x2="200.0" y2="183.0" stroke="#70c2a0" stroke-width="2.6" stroke-linecap="round"/>
<line x1="200.0" y1="183.0" x2="203.0" y2="184.5" stroke="#6cc0a0" stroke-width="2.6" stroke-linecap="round"/>
<line x1="203.0" y1="184.5" x2="206.0" y2="184.0" stroke="#68bea0" stroke-width="2.6" stroke-linecap="round"/>
<line x1="206.0" y1="184.0" x2="210.0" y2="184.2" stroke="#65bda0" stroke-width="2.6" stroke-linecap="round"/>
<line x1="210.0" y1="184.2" x2="214.0" y2="183.8" stroke="#60bba0" stroke-width="2.6" stroke-linecap="round"/>
<line x1="214.0" y1="183.8" x2="218.0" y2="183.5" stroke="#5bb9a0" stroke-width="2.6" stroke-linecap="round"/>
<line x1="218.0" y1="183.5" x2="221.0" y2="182.8" stroke="#56b4a1" stroke-width="2.6" stroke-linecap="round"/>
<line x1="221.0" y1="182.8" x2="223.0" y2="181.0" stroke="#53b1a3" stroke-width="2.6" stroke-linecap="round"/>
<line x1="223.0" y1="181.0" x2="224.5" y2="179.5" stroke="#50afa4" stroke-width="2.6" stroke-linecap="round"/>
<line x1="224.5" y1="179.5" x2="226.0" y2="182.0" stroke="#4eada4" stroke-width="2.6" stroke-linecap="round"/>
<line x1="226.0" y1="182.0" x2="228.0" y2="184.0" stroke="#4caba5" stroke-width="2.6" stroke-linecap="round"/>
<line x1="228.0" y1="184.0" x2="231.0" y2="184.0" stroke="#4aa9a6" stroke-width="2.6" stroke-linecap="round"/>
<line x1="231.0" y1="184.0" x2="234.0" y2="183.6" stroke="#46a5a8" stroke-width="2.6" stroke-linecap="round"/>
<line x1="234.0" y1="183.6" x2="236.0" y2="183.0" stroke="#43a2a8" stroke-width="2.6" stroke-linecap="round"/>
<line x1="236.0" y1="183.0" x2="237.5" y2="172.0" stroke="#409fa9" stroke-width="2.6" stroke-linecap="round"/>
<line x1="237.5" y1="172.0" x2="238.5" y2="167.5" stroke="#3f9da9" stroke-width="2.6" stroke-linecap="round"/>
<line x1="238.5" y1="167.5" x2="240.0" y2="170.0" stroke="#3e9caa" stroke-width="2.6" stroke-linecap="round"/>
<line x1="240.0" y1="170.0" x2="242.0" y2="175.0" stroke="#3c9aaa" stroke-width="2.6" stroke-linecap="round"/>
<line x1="242.0" y1="175.0" x2="245.0" y2="177.0" stroke="#3b95b0" stroke-width="2.6" stroke-linecap="round"/>
<line x1="245.0" y1="177.0" x2="247.0" y2="178.5" stroke="#398dba" stroke-width="2.6" stroke-linecap="round"/>
<line x1="247.0" y1="178.5" x2="249.0" y2="176.0" stroke="#3888c0" stroke-width="2.6" stroke-linecap="round"/>
<line x1="249.0" y1="176.0" x2="251.0" y2="174.0" stroke="#3887c0" stroke-width="2.6" stroke-linecap="round"/>
<line x1="251.0" y1="174.0" x2="253.0" y2="176.0" stroke="#3986c0" stroke-width="2.6" stroke-linecap="round"/>
<line x1="253.0" y1="176.0" x2="255.0" y2="173.0" stroke="#3984c0" stroke-width="2.6" stroke-linecap="round"/>
<line x1="255.0" y1="173.0" x2="256.5" y2="170.0" stroke="#3983c0" stroke-width="2.6" stroke-linecap="round"/>
<rect x="62" y="119.6" width="210" height="19.4" fill="#fff"/>
<circle cx="69.6" cy="127.8" r="1.1" fill="none" stroke="#555" stroke-width="0.45"/>
<text x="76.80" y="127.80" font-size="6.9" text-anchor="start" fill="#444" font-weight="normal" dominant-baseline="central">Autosampler</text>
<text x="132.00" y="127.80" font-size="6.9" text-anchor="start" fill="#444" font-weight="normal" dominant-baseline="central">Spectrolyzer</text>
<rect x="175" y="125.6" width="10" height="4.4" fill="#ececec"/>
<text x="187.00" y="127.80" font-size="6.9" text-anchor="start" fill="#444" font-weight="normal" dominant-baseline="central">Stratification</text>
<text x="187.00" y="136.30" font-size="6.9" text-anchor="start" fill="#444" font-weight="normal" dominant-baseline="central">Period</text>
<path d="M125.0 127.8h0" stroke="#f0f080" stroke-width="1.80" stroke-linecap="round"/>
<path d="M234.2,127.4H236.6M235.4,126.2V128.6" stroke="#111" stroke-width="0.9"/>
<circle cx="235.4" cy="127.4" r="0.75" fill="#111"/>
<text x="242.00" y="127.80" font-size="6.9" text-anchor="start" fill="#444" font-weight="normal" dominant-baseline="central">Top</text>
<rect x="234.3" y="134.1" width="2.2" height="2.2" fill="#9400a8"/>
<text x="242.00" y="136.30" font-size="6.9" text-anchor="start" fill="#444" font-weight="normal" dominant-baseline="central">Bottom</text>
<rect x="207.3" y="8.3" width="35.3" height="179.1" fill="none" stroke="#444" stroke-width="0.9"/>
<text x="209.80" y="146.30" font-size="6.1" text-anchor="start" fill="#444" font-weight="normal" dominant-baseline="central">close-up</text>
<text x="209.80" y="153.35" font-size="6.1" text-anchor="start" fill="#444" font-weight="normal" dominant-baseline="central">for lentic</text>
<text x="209.80" y="160.40" font-size="6.1" text-anchor="start" fill="#444" font-weight="normal" dominant-baseline="central">lotic tran-</text>
<text x="209.80" y="167.45" font-size="6.1" text-anchor="start" fill="#444" font-weight="normal" dominant-baseline="central">sition (b)</text>
<line x1="280.60" y1="9.54" x2="463.30" y2="9.54" stroke="#f0f0f0" stroke-width="0.8"/>
<text x="279.00" y="9.54" font-size="4.9" text-anchor="end" fill="#666" font-weight="normal" dominant-baseline="central">5</text>
<line x1="280.60" y1="26.26" x2="463.30" y2="26.26" stroke="#f0f0f0" stroke-width="0.8"/>
<text x="279.00" y="26.26" font-size="4.9" text-anchor="end" fill="#666" font-weight="normal" dominant-baseline="central">2</text>
<line x1="280.60" y1="38.90" x2="463.30" y2="38.90" stroke="#f0f0f0" stroke-width="0.8"/>
<text x="279.00" y="38.90" font-size="5.6" text-anchor="end" fill="#444" font-weight="normal" dominant-baseline="central">10</text>
<line x1="280.60" y1="51.54" x2="463.30" y2="51.54" stroke="#f0f0f0" stroke-width="0.8"/>
<text x="279.00" y="51.54" font-size="4.9" text-anchor="end" fill="#666" font-weight="normal" dominant-baseline="central">5</text>
<line x1="280.60" y1="68.26" x2="463.30" y2="68.26" stroke="#f0f0f0" stroke-width="0.8"/>
<text x="279.00" y="68.26" font-size="4.9" text-anchor="end" fill="#666" font-weight="normal" dominant-baseline="central">2</text>
<line x1="280.60" y1="80.90" x2="463.30" y2="80.90" stroke="#f0f0f0" stroke-width="0.8"/>
<text x="279.00" y="80.90" font-size="5.6" text-anchor="end" fill="#444" font-weight="normal" dominant-baseline="central">1</text>
<line x1="280.60" y1="93.54" x2="463.30" y2="93.54" stroke="#f0f0f0" stroke-width="0.8"/>
<text x="279.00" y="93.54" font-size="4.9" text-anchor="end" fill="#666" font-weight="normal" dominant-baseline="central">5</text>
<line x1="280.60" y1="110.26" x2="463.30" y2="110.26" stroke="#f0f0f0" stroke-width="0.8"/>
<text x="279.00" y="110.26" font-size="4.9" text-anchor="end" fill="#666" font-weight="normal" dominant-baseline="central">2</text>
<line x1="280.60" y1="122.90" x2="463.30" y2="122.90" stroke="#f0f0f0" stroke-width="0.8"/>
<text x="279.00" y="122.90" font-size="5.6" text-anchor="end" fill="#444" font-weight="normal" dominant-baseline="central">0.1</text>
<line x1="280.60" y1="135.54" x2="463.30" y2="135.54" stroke="#f0f0f0" stroke-width="0.8"/>
<text x="279.00" y="135.54" font-size="4.9" text-anchor="end" fill="#666" font-weight="normal" dominant-baseline="central">5</text>
<line x1="280.60" y1="152.26" x2="463.30" y2="152.26" stroke="#f0f0f0" stroke-width="0.8"/>
<text x="279.00" y="152.26" font-size="4.9" text-anchor="end" fill="#666" font-weight="normal" dominant-baseline="central">2</text>
<line x1="280.60" y1="164.90" x2="463.30" y2="164.90" stroke="#f0f0f0" stroke-width="0.8"/>
<text x="279.00" y="164.90" font-size="5.6" text-anchor="end" fill="#444" font-weight="normal" dominant-baseline="central">0.01</text>
<line x1="280.60" y1="177.54" x2="463.30" y2="177.54" stroke="#f0f0f0" stroke-width="0.8"/>
<text x="279.00" y="177.54" font-size="4.9" text-anchor="end" fill="#666" font-weight="normal" dominant-baseline="central">5</text>
<line x1="289.40" y1="5.00" x2="289.40" y2="181.00" stroke="#f0f0f0" stroke-width="0.8"/>
<text x="289.40" y="189.60" font-size="5.6" text-anchor="middle" fill="#444" font-weight="normal" dominant-baseline="central">10</text>
<line x1="315.59" y1="5.00" x2="315.59" y2="181.00" stroke="#f0f0f0" stroke-width="0.8"/>
<text x="315.59" y="189.00" font-size="4.9" text-anchor="middle" fill="#666" font-weight="normal" dominant-baseline="central">2</text>
<line x1="350.21" y1="5.00" x2="350.21" y2="181.00" stroke="#f0f0f0" stroke-width="0.8"/>
<text x="350.21" y="189.00" font-size="4.9" text-anchor="middle" fill="#666" font-weight="normal" dominant-baseline="central">5</text>
<line x1="376.40" y1="5.00" x2="376.40" y2="181.00" stroke="#f0f0f0" stroke-width="0.8"/>
<text x="376.40" y="189.60" font-size="5.6" text-anchor="middle" fill="#444" font-weight="normal" dominant-baseline="central">100</text>
<line x1="402.59" y1="5.00" x2="402.59" y2="181.00" stroke="#f0f0f0" stroke-width="0.8"/>
<text x="402.59" y="189.00" font-size="4.9" text-anchor="middle" fill="#666" font-weight="normal" dominant-baseline="central">2</text>
<line x1="437.21" y1="5.00" x2="437.21" y2="181.00" stroke="#f0f0f0" stroke-width="0.8"/>
<text x="437.21" y="189.00" font-size="4.9" text-anchor="middle" fill="#666" font-weight="normal" dominant-baseline="central">5</text>
<text x="463.40" y="189.60" font-size="5.6" text-anchor="middle" fill="#444" font-weight="normal" dominant-baseline="central">1000</text>
<text x="372.20" y="196.60" font-size="6.3" text-anchor="middle" fill="#444" font-weight="normal" dominant-baseline="central">Q (mL s<tspan font-size="4" dy="-1.8">-1</tspan><tspan dy="1.8">)</tspan></text>
<text x="270.00" y="94.00" font-size="6.3" text-anchor="middle" fill="#444" font-weight="normal" dominant-baseline="central" transform="rotate(-90 270 94)">Cd (mg L<tspan font-size="4" dy="-1.8">-1</tspan><tspan dy="1.8">)</tspan></text>
<defs><linearGradient id="cb" x1="0" y1="1" x2="0" y2="0"><stop offset="0.0000" stop-color="#e6f4a0"/><stop offset="0.0978" stop-color="#fef3a8"/><stop offset="0.1775" stop-color="#fed27f"/><stop offset="0.2500" stop-color="#fca75e"/><stop offset="0.3587" stop-color="#f26c42"/><stop offset="0.4601" stop-color="#d8474e"/><stop offset="0.5543" stop-color="#c01f50"/><stop offset="0.5942" stop-color="#ad0f4c"/><stop offset="0.6304" stop-color="#9e5a6e"/><stop offset="0.6630" stop-color="#a09a82"/><stop offset="0.6920" stop-color="#a8d6a2"/><stop offset="0.7246" stop-color="#92d2a2"/><stop offset="0.7826" stop-color="#5ab8a0"/><stop offset="0.8442" stop-color="#3c9aaa"/><stop offset="0.9058" stop-color="#3888c0"/><stop offset="0.9565" stop-color="#4a66b0"/><stop offset="1.0000" stop-color="#5a4ea0"/></linearGradient></defs>
<rect x="471" y="17.2" width="13.4" height="163.8" fill="url(#cb)"/>
<text x="477.70" y="10.80" font-size="6.2" text-anchor="middle" fill="#444" font-weight="normal" dominant-baseline="central">Days</text>
<text x="485.80" y="181.00" font-size="5.3" text-anchor="start" fill="#444" font-weight="normal" dominant-baseline="central">0</text>
<text x="485.80" y="151.23" font-size="5.3" text-anchor="start" fill="#444" font-weight="normal" dominant-baseline="central">50</text>
<text x="485.80" y="121.47" font-size="5.3" text-anchor="start" fill="#444" font-weight="normal" dominant-baseline="central">100</text>
<text x="485.80" y="91.70" font-size="5.3" text-anchor="start" fill="#444" font-weight="normal" dominant-baseline="central">150</text>
<text x="485.80" y="61.94" font-size="5.3" text-anchor="start" fill="#444" font-weight="normal" dominant-baseline="central">200</text>
<text x="485.80" y="32.17" font-size="5.3" text-anchor="start" fill="#444" font-weight="normal" dominant-baseline="central">250</text>
<path d="M344.0 49.6h0M331.3 50.5h0M319.0 44.0h0M344.6 46.0h0M282.9 46.1h0M341.2 45.6h0M303.7 47.6h0M325.9 47.0h0M326.7 45.1h0M335.7 49.9h0M344.5 52.1h0M342.5 45.9h0M320.4 47.4h0M282.0 49.8h0M339.4 45.5h0M318.4 45.0h0M341.7 45.2h0M329.8 45.3h0M291.0 46.6h0M289.4 45.9h0M334.6 49.0h0M344.9 52.4h0M282.7 48.9h0M291.2 49.1h0M340.0 51.0h0M300.9 47.1h0M314.3 44.2h0M325.4 48.1h0M328.8 44.0h0M331.1 48.4h0M319.9 46.4h0M298.2 50.0h0M336.7 49.1h0M290.0 44.5h0M317.0 50.1h0M318.3 49.6h0M303.5 45.1h0M336.7 47.7h0M286.9 44.6h0M295.0 48.2h0M339.0 51.6h0M302.2 44.6h0M323.5 46.0h0M337.0 52.1h0M304.7 48.2h0M307.2 48.4h0M281.6 48.9h0" stroke="#70c6a4" stroke-width="2.90" stroke-linecap="round"/>
<path d="M294.4 46.7h0M329.9 46.8h0M325.3 48.7h0M290.1 46.5h0M302.3 50.0h0M304.0 44.3h0M332.5 49.8h0M341.8 46.2h0M324.1 46.0h0M316.6 45.5h0M326.3 47.0h0M298.1 43.8h0M303.2 48.2h0M333.1 49.8h0M339.4 47.4h0M315.8 48.0h0M322.4 45.9h0M320.2 44.2h0M293.9 46.2h0M303.5 45.8h0M288.7 49.3h0M334.6 48.3h0M345.7 51.4h0M314.2 50.3h0M335.8 47.1h0M323.2 46.0h0M332.2 45.0h0M335.3 45.4h0M291.6 49.6h0M305.0 43.6h0M342.2 50.1h0M299.8 48.3h0M323.6 46.1h0M302.1 51.5h0M305.5 44.9h0M319.0 51.7h0M314.4 42.4h0M343.4 50.9h0M285.1 49.5h0M301.9 51.1h0M288.3 50.1h0M319.1 48.8h0M307.2 45.5h0M306.0 45.2h0M304.4 43.7h0M303.5 44.4h0M288.6 49.5h0M299.3 48.9h0" stroke="#7ccaa2" stroke-width="2.90" stroke-linecap="round"/>
<path d="M322.1 48.8h0M310.8 47.0h0M294.5 50.3h0M338.1 46.5h0M336.0 49.0h0M334.6 45.1h0M335.7 46.0h0M340.3 44.8h0M291.0 47.0h0M300.6 43.8h0M302.6 46.1h0M292.2 43.6h0M299.7 47.9h0M335.4 47.2h0M305.7 47.3h0M315.7 43.9h0M298.1 43.6h0M305.6 45.9h0M282.8 49.4h0M304.3 50.1h0M325.1 50.3h0M317.5 47.3h0M297.0 47.8h0M310.7 48.8h0M344.7 52.4h0M308.1 50.5h0M312.6 47.4h0M341.7 50.8h0M334.8 49.0h0M295.4 43.4h0M336.2 47.6h0M322.8 46.7h0M297.5 49.3h0M340.6 49.6h0M313.8 51.3h0M340.8 46.2h0M318.7 48.8h0M330.8 41.8h0" stroke="#88cea0" stroke-width="2.90" stroke-linecap="round"/>
<path d="M341.5 47.5h0M339.5 45.1h0M309.1 48.6h0M314.4 48.0h0M336.8 44.2h0M283.3 47.9h0M309.5 46.0h0M337.4 50.6h0M301.7 43.5h0M332.3 45.9h0M340.3 49.1h0M286.1 49.6h0M334.6 45.8h0M320.4 46.0h0M339.6 46.1h0M340.6 48.5h0M282.9 46.7h0M328.0 50.2h0M324.2 47.6h0M310.8 45.3h0M308.0 50.3h0M328.9 49.5h0M306.5 49.5h0M338.6 51.3h0M282.3 45.8h0M340.3 48.8h0M319.0 49.3h0M322.8 45.9h0M338.5 47.7h0M321.4 49.4h0M330.0 47.1h0M293.7 47.5h0M329.9 49.9h0M337.7 47.9h0M330.6 49.9h0M326.8 51.2h0M332.6 48.9h0M307.4 46.9h0M339.0 47.9h0M338.8 50.1h0M329.4 50.2h0M281.4 43.2h0M293.8 40.9h0M281.2 43.0h0M323.2 45.5h0M313.9 48.8h0M287.8 45.3h0M307.8 43.5h0M338.3 48.5h0M324.3 49.3h0M317.3 50.1h0M302.0 43.2h0M321.3 48.8h0M342.0 49.3h0M284.0 56.0h0M287.0 57.0h0M290.0 57.0h0M293.0 57.0h0M296.0 55.0h0M305.0 52.0h0M306.0 57.0h0M311.0 56.0h0M322.0 60.0h0M326.0 55.0h0M336.0 58.0h0M339.0 62.0h0M351.0 52.0h0M318.0 64.0h0M302.0 66.0h0M330.0 62.0h0M300.0 38.0h0M318.0 38.0h0M284.0 54.0h0M288.0 53.0h0M297.0 54.0h0M334.0 54.0h0M328.0 43.0h0M305.0 43.0h0M290.0 44.0h0M315.0 52.0h0M323.0 53.0h0M280.0 52.0h0" stroke="#66c2a5" stroke-width="2.90" stroke-linecap="round"/>
<path d="M300.1 48.0h0M337.1 51.3h0M344.8 48.7h0M292.5 47.3h0M319.1 48.7h0M305.9 48.9h0M284.1 49.4h0M331.9 49.2h0M322.3 48.1h0M317.5 46.2h0M344.0 46.2h0M297.2 47.5h0M331.7 47.7h0M340.0 49.6h0M340.2 44.8h0M324.5 47.2h0M341.4 50.8h0M323.4 47.4h0M311.8 46.7h0M331.3 47.5h0M290.9 43.9h0M341.6 49.9h0M326.9 45.7h0M290.4 45.5h0M323.7 44.4h0M323.1 44.3h0M317.4 43.9h0M328.6 44.6h0M333.2 49.0h0M308.8 44.7h0M330.2 49.5h0M339.2 44.9h0M314.7 49.7h0M325.4 48.6h0M339.6 47.7h0M344.1 51.9h0M305.6 45.3h0M343.4 53.0h0M329.8 45.0h0M312.5 47.6h0M288.5 43.3h0M304.8 52.2h0M292.9 43.3h0M318.9 49.3h0M301.3 49.1h0M321.1 48.8h0M308.6 44.5h0M330.0 48.5h0M307.0 47.0h0M282.8 42.6h0M331.7 48.2h0M334.4 48.7h0M337.0 51.8h0" stroke="#5fbea6" stroke-width="2.90" stroke-linecap="round"/>
<path d="M344.8 64.8h0M354.7 55.9h0M354.6 51.7h0M352.7 88.9h0M345.1 56.4h0M356.4 88.0h0M343.6 62.4h0M356.6 100.2h0M347.3 46.5h0M351.0 81.3h0M352.3 83.9h0M348.0 66.4h0M340.8 56.9h0M351.8 47.4h0M349.4 70.7h0M353.8 89.5h0M351.2 58.9h0M347.0 78.5h0M357.0 85.6h0M350.2 87.8h0M355.7 76.8h0M346.9 59.7h0M347.9 56.0h0M351.6 88.6h0M346.1 58.8h0M342.2 59.4h0M349.9 85.1h0M355.9 57.6h0M344.8 53.7h0M351.8 67.2h0M343.2 56.6h0M353.2 56.1h0M350.6 71.2h0M351.8 46.9h0M352.5 74.4h0M351.5 66.1h0M354.5 88.0h0M357.1 97.4h0M346.9 68.6h0M341.6 48.4h0M353.8 90.2h0M355.0 83.7h0M345.0 65.2h0M354.5 96.2h0M352.5 85.6h0M357.8 99.7h0M339.8 45.2h0M352.7 86.0h0M351.4 56.5h0M351.6 50.8h0M350.5 76.9h0M351.2 69.0h0M345.5 47.4h0M349.8 66.9h0M344.2 51.0h0M352.6 69.8h0M357.6 80.4h0M349.5 94.1h0M347.9 71.0h0M351.5 76.7h0M348.2 51.1h0M352.5 85.5h0M355.4 49.3h0M349.4 86.9h0M355.5 100.3h0M356.7 84.0h0M357.5 97.4h0M352.8 68.3h0M356.3 99.5h0M359.5 104.9h0M351.3 55.3h0M349.0 58.7h0M353.4 98.6h0M353.0 71.8h0M355.9 101.1h0M349.6 59.5h0M354.7 99.8h0M350.4 60.0h0M351.2 82.5h0M347.9 69.9h0M354.6 97.4h0M345.9 62.2h0M352.2 70.4h0M349.8 73.2h0M357.8 88.2h0M353.8 96.8h0M350.3 65.6h0M346.8 75.4h0M346.9 63.2h0M356.9 81.7h0M356.9 100.9h0M351.3 88.7h0M353.7 103.8h0M351.6 92.3h0M353.2 101.6h0M354.8 93.6h0M340.4 53.4h0M338.3 58.5h0M346.8 53.8h0M345.7 57.6h0M340.0 57.6h0M336.4 47.3h0M342.1 58.8h0M343.5 59.6h0M344.2 59.9h0M340.7 59.1h0M342.7 53.5h0M341.8 54.3h0M342.6 53.4h0M342.6 64.8h0M345.1 60.5h0" stroke="#48aaa8" stroke-width="2.90" stroke-linecap="round"/>
<path d="M356.9 64.9h0M357.6 94.6h0M353.3 98.2h0M355.5 88.5h0M349.1 52.3h0M357.9 101.3h0M357.5 60.0h0M349.1 75.5h0M354.2 98.8h0M361.1 102.8h0M357.1 71.0h0M358.5 94.5h0M354.3 67.2h0M353.3 77.2h0M346.6 72.4h0M350.2 83.8h0M348.0 65.7h0M351.2 77.9h0M341.3 59.7h0M353.4 55.4h0M349.6 51.3h0M351.5 83.9h0M351.5 47.4h0M348.1 77.5h0M347.9 62.5h0M356.6 98.6h0M353.8 91.4h0M346.2 83.3h0M347.4 84.3h0M348.8 53.0h0M353.9 61.5h0M353.2 79.2h0M351.7 77.3h0M347.2 62.2h0M352.1 51.1h0M353.6 82.1h0M348.6 67.1h0M352.0 100.9h0M351.5 93.1h0M351.3 76.4h0M343.3 53.0h0M344.6 53.3h0M343.8 64.1h0M349.7 64.6h0M357.7 66.8h0M344.2 55.3h0M357.2 91.0h0M345.0 68.4h0M355.2 98.5h0M356.7 86.5h0M357.2 75.6h0M358.2 97.5h0M348.3 91.7h0M354.8 93.6h0M356.8 92.8h0M348.0 68.0h0M346.3 50.7h0M353.9 77.7h0M348.6 68.1h0M354.2 73.3h0M354.6 85.0h0M348.3 69.3h0M353.3 85.2h0M352.6 55.5h0M359.0 103.3h0M344.8 53.3h0M349.5 67.1h0M356.2 86.9h0M355.8 69.4h0M348.8 62.2h0M347.3 65.8h0M340.5 51.4h0M342.7 57.7h0M338.0 47.8h0M344.8 52.2h0M338.2 45.5h0M344.4 60.9h0M337.5 58.9h0M337.0 47.4h0M338.0 54.1h0M343.8 50.3h0M342.3 59.2h0M341.4 53.1h0M347.8 57.5h0M347.8 65.5h0M336.3 47.1h0M340.8 50.2h0M346.1 60.3h0M340.4 59.1h0M340.0 55.0h0M344.0 62.0h0M346.0 70.0h0M342.0 76.0h0M349.0 84.0h0M360.0 98.0h0M364.0 105.0h0M359.0 103.0h0M336.0 64.0h0M338.0 70.0h0M345.0 90.0h0M350.0 96.0h0M352.0 104.0h0M360.5 119.7h0M409.7 98.0h0M357.5 96.4h0M361.3 100.2h0M356.7 101.0h0M358.7 111.1h0M354.7 98.7h0M354.5 110.5h0M355.2 96.1h0M354.0 100.9h0M359.7 96.5h0M359.0 110.1h0M355.9 107.7h0M357.7 106.0h0M360.3 96.5h0M353.5 111.1h0M355.5 111.2h0M356.5 97.6h0M360.4 98.2h0M354.0 103.4h0M359.6 98.4h0M359.0 111.3h0M357.6 111.7h0M359.3 110.8h0M353.0 104.0h0M357.9 103.6h0M359.8 108.1h0M361.8 97.1h0M354.5 105.5h0M353.3 95.3h0M355.8 111.1h0M361.5 95.6h0M400.7 82.8h0M403.8 47.0h0M369.0 108.8h0M377.3 97.0h0M376.9 52.7h0M395.3 106.7h0M385.5 102.6h0M360.9 68.7h0M405.7 77.3h0M400.9 107.5h0M364.1 55.3h0M405.9 65.8h0M397.4 82.2h0M368.2 101.5h0M396.0 45.0h0M383.9 102.8h0M385.0 79.8h0M392.1 51.5h0M362.9 72.2h0M380.4 95.5h0M389.8 85.5h0M379.0 50.3h0M381.3 79.9h0M373.4 60.1h0M381.3 50.6h0M371.6 55.0h0M391.2 73.8h0M376.2 85.6h0" stroke="#4eb0a6" stroke-width="2.90" stroke-linecap="round"/>
<path d="M353.8 87.0h0M347.2 86.0h0M362.1 98.8h0M354.5 76.0h0M346.9 57.5h0M351.3 64.3h0M356.9 101.5h0M348.9 77.4h0M353.2 69.7h0M356.7 71.6h0M352.8 79.4h0M344.1 56.6h0M354.9 91.1h0M355.4 71.0h0M354.2 82.6h0M345.7 65.9h0M352.2 85.8h0M348.3 76.9h0M354.8 57.8h0M349.1 60.5h0M348.1 67.0h0M348.9 67.1h0M352.6 60.7h0M342.6 61.7h0M350.3 55.7h0M353.8 70.0h0M356.2 73.8h0M352.8 78.9h0M350.4 86.0h0M348.6 53.1h0M350.3 47.8h0M353.4 86.5h0M354.8 99.9h0M355.3 87.1h0M354.6 70.6h0M357.1 99.8h0M355.9 104.4h0M346.0 65.4h0M355.3 61.8h0M352.9 76.3h0M347.1 70.2h0M361.1 93.8h0M356.0 103.3h0M354.2 68.1h0M350.9 67.2h0M347.2 61.9h0M352.1 72.1h0M351.7 102.0h0M352.4 100.9h0M347.1 63.3h0M354.8 65.5h0M352.3 104.9h0M356.5 84.1h0M351.1 55.7h0M359.1 100.5h0M345.3 68.6h0M349.1 58.4h0M351.1 68.3h0M354.9 87.2h0M351.9 49.1h0M352.2 82.7h0M349.0 68.0h0M355.6 75.1h0M354.4 58.0h0M343.3 52.7h0M352.9 53.0h0M354.3 99.5h0M354.4 71.1h0M356.7 86.5h0M351.1 50.9h0M357.3 91.0h0M356.3 71.5h0M350.8 53.2h0M353.2 86.2h0M356.6 92.0h0M356.0 74.7h0M348.7 93.1h0M358.6 72.2h0M352.8 81.3h0M351.7 58.3h0M353.0 78.1h0M356.7 71.9h0M354.2 93.4h0M348.1 64.8h0M358.6 75.8h0M348.6 67.9h0M343.3 71.1h0M358.7 104.4h0M352.7 45.1h0M358.8 84.8h0M355.1 77.1h0M343.5 56.2h0M350.0 79.2h0M345.8 55.8h0M341.8 53.2h0M339.0 54.7h0M335.6 52.8h0M339.9 54.4h0M345.5 66.8h0M343.8 56.4h0M340.3 47.6h0M345.8 55.6h0M339.2 55.1h0M347.0 66.7h0M337.5 49.7h0M341.8 53.7h0M344.0 57.0h0M344.7 61.0h0M339.8 54.0h0M342.8 56.9h0" stroke="#52b2a4" stroke-width="2.90" stroke-linecap="round"/>
<path d="M372.0 50.2h0M364.4 59.6h0M372.4 57.3h0M371.5 51.8h0M364.1 57.9h0M371.5 58.3h0M370.0 59.7h0M367.9 55.3h0M370.4 52.6h0M364.4 52.3h0" stroke="#e04848" stroke-width="2.90" stroke-linecap="round"/>
<path d="M364.9 55.1h0M364.8 56.1h0M368.1 51.1h0M364.2 53.6h0M373.9 58.4h0M371.3 51.3h0M365.9 57.4h0M367.3 51.9h0M371.1 58.8h0M371.7 51.2h0M369.8 52.0h0M364.7 56.4h0M370.6 54.7h0M368.2 58.5h0M369.6 50.8h0" stroke="#d83a44" stroke-width="2.90" stroke-linecap="round"/>
<path d="M368.3 53.5h0M368.5 58.8h0M372.6 57.0h0M365.6 53.2h0M373.2 52.3h0M371.0 58.2h0M372.4 57.7h0M371.6 52.7h0M373.4 59.2h0M370.7 49.3h0M370.3 59.1h0M367.8 51.2h0M364.0 51.0h0M364.5 50.9h0M366.8 57.8h0" stroke="#e85a48" stroke-width="2.90" stroke-linecap="round"/>
<path d="M361.9 56.9h0M358.7 61.3h0M357.9 40.4h0M362.4 49.1h0M355.7 43.4h0M351.6 47.7h0M353.2 49.2h0M359.0 51.4h0M358.1 44.1h0M358.5 38.7h0M362.6 44.0h0M362.0 39.7h0M357.0 43.7h0M360.8 48.2h0M360.7 41.9h0M361.3 54.1h0M359.2 59.9h0M361.5 39.7h0M355.2 52.5h0" stroke="#806050" stroke-width="2.90" stroke-linecap="round"/>
<path d="M363.6 58.1h0M366.4 53.4h0M364.1 57.7h0M360.2 42.5h0M355.4 41.2h0M360.1 46.0h0M363.1 51.7h0M354.7 44.2h0M353.8 50.9h0M365.5 44.6h0M363.9 56.8h0M355.5 49.6h0M365.4 50.1h0M355.8 53.6h0M357.9 57.6h0M358.9 60.2h0M361.6 52.2h0M363.8 42.2h0M359.7 46.2h0M359.9 54.7h0M359.2 40.1h0M363.8 49.4h0" stroke="#90a090" stroke-width="2.90" stroke-linecap="round"/>
<path d="M355.7 46.7h0M361.6 40.6h0M352.8 53.4h0M361.2 58.3h0M354.9 51.2h0M360.5 50.8h0M355.7 54.8h0M356.0 60.6h0M360.3 48.7h0M361.3 53.5h0M366.2 54.1h0M359.2 60.1h0M363.3 53.8h0M359.1 60.0h0M355.2 54.2h0M359.0 60.8h0M362.2 47.7h0M352.9 47.5h0M359.8 57.3h0M359.0 55.5h0M364.7 46.4h0M358.5 44.7h0M354.2 55.1h0" stroke="#3e5a4a" stroke-width="2.90" stroke-linecap="round"/>
<path d="M351.9 46.0h0M356.5 50.2h0M362.0 59.9h0M359.6 58.1h0M354.4 44.2h0M355.6 45.6h0M354.5 53.5h0M356.0 51.4h0M358.6 50.2h0M357.8 50.1h0M362.4 57.9h0M356.2 58.4h0M365.6 50.3h0M355.5 51.7h0M359.3 52.5h0" stroke="#4a6a55" stroke-width="2.90" stroke-linecap="round"/>
<path d="M358.5 51.9h0M361.9 50.6h0M357.7 40.6h0M356.1 58.0h0M353.3 58.0h0M365.8 51.9h0M362.8 40.6h0M357.3 57.0h0M365.4 47.3h0M358.7 53.4h0M362.8 48.5h0M353.6 53.1h0M364.5 44.6h0M356.8 59.3h0" stroke="#7a9a88" stroke-width="2.90" stroke-linecap="round"/>
<path d="M362.6 50.9h0M356.9 44.1h0M363.4 49.9h0M359.9 58.0h0M352.3 46.5h0M355.8 52.4h0M362.2 60.0h0M357.9 53.6h0M351.4 51.3h0M357.0 51.1h0M363.7 52.2h0M356.1 51.6h0M356.4 55.3h0M360.8 57.8h0M351.7 51.8h0M366.0 52.2h0M352.8 53.4h0" stroke="#4c8070" stroke-width="2.90" stroke-linecap="round"/>
<path d="M362.5 50.4h0M355.9 50.5h0M356.9 39.5h0M359.6 45.8h0M361.9 41.5h0M363.2 47.6h0M363.9 42.0h0M362.2 48.6h0M358.8 49.1h0M359.7 43.3h0M355.3 55.1h0" stroke="#5d7a68" stroke-width="2.90" stroke-linecap="round"/>
<path d="M355.7 57.8h0M358.2 41.4h0M353.4 46.9h0M364.2 49.6h0M358.1 60.8h0M353.3 50.6h0M359.7 43.3h0M358.7 54.6h0M364.2 41.8h0M357.1 50.2h0M354.8 48.7h0M358.5 55.5h0M361.5 54.5h0M363.1 41.6h0M357.7 54.8h0M356.3 42.1h0M361.6 55.8h0M358.8 55.1h0M364.0 41.6h0M358.5 54.8h0M352.6 45.6h0M355.0 51.2h0M359.9 39.7h0" stroke="#6a8a78" stroke-width="2.90" stroke-linecap="round"/>
<path d="M357.0 47.7h0M354.5 48.7h0M355.4 42.0h0M364.6 57.8h0M360.0 40.5h0M360.3 41.4h0M357.8 53.2h0M358.2 44.7h0M363.6 46.3h0M352.8 55.9h0M356.7 44.7h0M358.5 57.4h0M354.3 49.0h0M352.9 57.3h0M360.6 58.1h0M361.5 43.3h0" stroke="#705848" stroke-width="2.90" stroke-linecap="round"/>
<path d="M362.1 61.9h0M366.0 61.4h0M365.3 57.0h0M365.9 61.6h0M364.0 58.5h0M360.1 59.6h0M360.3 55.2h0M365.2 59.0h0M361.7 55.8h0M362.1 57.2h0" stroke="#800020" stroke-width="2.90" stroke-linecap="round"/>
<path d="M361.3 57.7h0M364.1 56.0h0M364.7 59.7h0M362.3 57.1h0M361.3 58.0h0M362.0 59.8h0M365.5 61.7h0M363.8 56.5h0" stroke="#901838" stroke-width="2.90" stroke-linecap="round"/>
<path d="M356.0 45.0h0M359.0 50.0h0M362.0 41.0h0M354.0 55.0h0M358.0 58.0h0" stroke="#50b0a8" stroke-width="2.90" stroke-linecap="round"/>
<path d="M375.7 75.6h0M362.1 63.1h0M366.7 79.0h0M375.0 63.8h0M363.1 79.6h0M364.1 63.6h0M375.9 62.5h0M370.2 79.1h0" stroke="#e0504a" stroke-width="2.90" stroke-linecap="round"/>
<path d="M364.8 78.6h0M374.5 72.5h0M363.3 62.5h0M369.8 66.5h0M375.8 62.9h0M363.0 65.4h0M368.7 74.8h0M367.3 67.3h0M368.4 64.4h0M366.6 79.4h0M373.8 76.1h0M372.3 63.8h0M364.8 73.8h0M364.3 65.5h0" stroke="#e86048" stroke-width="2.90" stroke-linecap="round"/>
<path d="M367.2 68.1h0M364.7 79.1h0M362.9 65.7h0M375.7 65.6h0M362.1 68.4h0M364.8 74.3h0M373.8 67.7h0M364.8 67.6h0" stroke="#d33a4a" stroke-width="2.90" stroke-linecap="round"/>
<path d="M368.1 79.2h0M364.0 79.9h0M369.5 86.5h0M364.6 80.0h0M376.6 80.0h0M374.3 83.1h0M380.0 85.4h0M368.9 79.0h0M367.3 82.7h0M372.4 91.9h0M372.9 90.8h0M370.7 76.2h0M364.7 84.0h0M373.8 76.6h0M366.9 77.3h0M368.6 90.3h0M379.2 85.9h0M376.1 80.5h0M377.8 90.4h0M376.2 82.6h0" stroke="#ec6a44" stroke-width="2.90" stroke-linecap="round"/>
<path d="M365.5 84.0h0M375.1 89.5h0M366.6 87.6h0M375.4 87.3h0M372.8 79.5h0M374.4 89.4h0M376.5 79.4h0M377.9 76.8h0M370.1 85.6h0M370.3 80.0h0M374.8 82.2h0M374.1 84.3h0M362.4 78.7h0M367.8 85.4h0M366.4 81.8h0M374.3 78.5h0M373.7 91.1h0" stroke="#f07848" stroke-width="2.90" stroke-linecap="round"/>
<path d="M376.2 77.9h0M367.2 83.3h0M373.4 89.6h0M363.7 90.1h0M375.6 83.8h0M371.8 88.8h0M362.7 91.3h0M370.3 76.7h0" stroke="#e0584a" stroke-width="2.90" stroke-linecap="round"/>
<path d="M376.2 129.7h0M376.1 96.5h0M376.4 92.5h0M376.0 118.5h0M376.1 119.8h0M376.1 119.2h0M376.0 109.2h0M376.2 99.1h0M376.4 129.2h0M376.3 129.3h0M376.3 119.4h0M376.2 123.4h0M376.1 103.0h0" stroke="#f89558" stroke-width="2.90" stroke-linecap="round"/>
<path d="M372.5 109.8h0M372.6 120.2h0M372.6 104.8h0M372.6 108.8h0M372.5 109.9h0M372.6 125.4h0M372.7 105.1h0M372.5 112.4h0M372.6 81.7h0" stroke="#f68c52" stroke-width="2.90" stroke-linecap="round"/>
<path d="M380.5 127.0h0M380.5 119.5h0M380.5 91.4h0M380.5 80.5h0M380.4 80.7h0M380.4 118.3h0M380.5 84.0h0M380.5 129.8h0M380.4 120.0h0M380.4 89.2h0M380.6 127.5h0M380.7 101.0h0" stroke="#f9a05e" stroke-width="2.90" stroke-linecap="round"/>
<path d="M374.7 98.2h0M374.8 129.6h0M374.7 129.5h0M374.8 128.8h0M374.8 117.7h0M374.8 101.4h0M374.8 89.5h0M374.7 129.7h0M374.7 96.0h0" stroke="#f79156" stroke-width="2.90" stroke-linecap="round"/>
<path d="M385.3 81.1h0M385.3 93.1h0M385.3 106.8h0M385.3 85.9h0M385.3 103.4h0" stroke="#fbac65" stroke-width="2.90" stroke-linecap="round"/>
<path d="M370.0 101.3h0M370.1 106.3h0M370.3 127.3h0M370.3 105.4h0" stroke="#f5864f" stroke-width="2.90" stroke-linecap="round"/>
<path d="M382.1 123.3h0M382.4 86.8h0M382.1 98.5h0M382.4 93.8h0M382.0 86.9h0M382.1 124.3h0M382.3 98.3h0M382.3 110.5h0M382.0 117.3h0M382.1 126.6h0M382.2 120.5h0M382.1 100.1h0M382.3 81.1h0M382.3 119.1h0M382.2 96.8h0M382.3 96.1h0M382.3 89.1h0" stroke="#faa461" stroke-width="2.90" stroke-linecap="round"/>
<path d="M375.6 93.0h0M375.7 125.4h0M375.6 94.3h0M375.7 129.0h0M375.7 95.5h0M375.7 85.5h0M375.7 84.8h0M375.7 88.8h0" stroke="#f79457" stroke-width="2.90" stroke-linecap="round"/>
<path d="M380.7 80.1h0M380.7 109.2h0M380.7 114.1h0M380.7 109.1h0M380.7 80.1h0" stroke="#f9a05f" stroke-width="2.90" stroke-linecap="round"/>
<path d="M373.9 100.2h0M373.7 85.7h0M373.8 105.4h0M373.7 95.9h0M373.9 114.5h0M373.9 95.9h0M373.6 82.0h0M373.6 85.1h0M373.9 96.1h0M373.8 111.8h0M373.6 97.0h0M373.8 120.9h0M373.9 94.6h0M373.6 93.5h0M373.9 91.9h0" stroke="#f78f54" stroke-width="2.90" stroke-linecap="round"/>
<path d="M374.3 84.5h0M374.2 96.5h0M374.2 129.9h0M374.2 123.2h0M374.3 100.6h0M374.2 104.8h0M374.1 123.4h0M374.3 115.7h0M374.2 104.5h0M374.1 83.1h0M374.1 116.7h0M374.3 80.7h0M374.2 101.4h0M374.3 128.9h0M374.1 83.3h0" stroke="#f79055" stroke-width="2.90" stroke-linecap="round"/>
<path d="M386.7 114.5h0M386.7 80.2h0M386.7 122.3h0M386.8 82.6h0M386.7 110.1h0M386.8 115.0h0" stroke="#fcaf68" stroke-width="2.90" stroke-linecap="round"/>
<path d="M369.1 96.7h0M368.8 123.6h0M368.9 122.7h0M369.0 101.2h0M369.0 106.8h0M369.0 112.7h0M369.1 117.4h0M369.2 104.5h0M368.9 88.6h0M368.9 90.1h0M369.1 124.7h0M368.8 129.3h0" stroke="#f5834d" stroke-width="2.90" stroke-linecap="round"/>
<path d="M379.8 125.7h0M379.8 80.6h0M380.0 118.7h0M379.7 118.8h0M379.9 109.0h0M379.8 91.6h0M379.6 88.7h0M379.7 129.2h0M379.8 89.3h0M379.9 114.4h0M379.7 110.1h0M379.7 84.0h0" stroke="#f99e5d" stroke-width="2.90" stroke-linecap="round"/>
<path d="M386.4 103.0h0M386.5 82.7h0M386.6 101.9h0M386.6 109.9h0M386.5 96.3h0M386.6 122.4h0M386.6 82.7h0M386.5 99.9h0M386.5 95.1h0" stroke="#fcaf67" stroke-width="2.90" stroke-linecap="round"/>
<path d="M373.2 113.4h0M372.8 100.9h0M373.2 81.3h0M372.8 90.0h0M372.8 120.7h0M372.9 104.4h0M372.8 97.6h0M372.9 115.8h0M373.2 86.6h0M372.9 103.5h0M372.9 107.8h0M373.0 109.9h0M373.0 129.2h0M373.2 83.1h0" stroke="#f68d53" stroke-width="2.90" stroke-linecap="round"/>
<path d="M382.6 103.7h0M382.5 111.2h0M382.6 96.6h0M382.5 93.4h0M382.6 117.9h0M382.6 80.9h0" stroke="#faa561" stroke-width="2.90" stroke-linecap="round"/>
<path d="M383.0 99.7h0M383.1 103.3h0M383.0 115.2h0M383.1 83.6h0M382.9 88.1h0M383.1 103.2h0M382.9 98.3h0M383.0 116.3h0M383.2 81.3h0M383.0 98.0h0M383.1 89.2h0M383.1 127.8h0M383.0 129.0h0" stroke="#faa662" stroke-width="2.90" stroke-linecap="round"/>
<path d="M368.2 124.5h0M368.2 104.4h0M368.2 115.6h0M368.2 109.4h0M368.2 116.4h0M368.0 117.7h0" stroke="#f4814c" stroke-width="2.90" stroke-linecap="round"/>
<path d="M379.1 109.8h0M379.0 111.5h0M379.2 113.2h0M379.2 121.7h0M379.0 82.6h0M379.0 123.0h0" stroke="#f99c5c" stroke-width="2.90" stroke-linecap="round"/>
<path d="M372.0 111.8h0M372.3 87.4h0M372.2 110.0h0M372.4 89.6h0M372.0 123.1h0M372.3 115.7h0M372.2 87.7h0M372.3 82.6h0M372.2 87.9h0M372.2 108.6h0M372.2 99.5h0M372.1 114.3h0" stroke="#f68b52" stroke-width="2.90" stroke-linecap="round"/>
<path d="M384.6 91.0h0M384.5 88.5h0M384.6 128.3h0M384.4 104.5h0M384.5 101.7h0M384.6 121.0h0M384.6 83.9h0M384.5 94.9h0M384.4 94.1h0M384.5 103.3h0" stroke="#fbaa64" stroke-width="2.90" stroke-linecap="round"/>
<path d="M384.0 110.0h0M383.7 102.5h0M383.7 91.0h0M383.6 96.4h0M383.8 98.4h0M384.0 106.0h0M383.8 83.1h0M383.7 88.7h0M383.6 83.8h0M383.8 90.9h0M383.8 103.6h0" stroke="#fba863" stroke-width="2.90" stroke-linecap="round"/>
<path d="M378.5 96.4h0M378.4 83.6h0M378.5 101.2h0M378.5 115.6h0M378.5 97.4h0M378.5 116.9h0M378.4 107.8h0M378.5 90.5h0M378.4 109.7h0M378.6 89.5h0" stroke="#f99b5b" stroke-width="2.90" stroke-linecap="round"/>
<path d="M381.7 124.5h0M381.6 117.6h0M381.8 124.0h0M381.8 97.1h0M381.8 107.6h0M381.8 118.1h0M382.0 88.3h0M381.9 93.4h0M381.9 125.3h0M381.8 92.8h0M381.9 115.7h0M381.7 109.7h0M381.8 124.2h0M381.9 95.9h0M382.0 110.2h0" stroke="#faa360" stroke-width="2.90" stroke-linecap="round"/>
<path d="M377.8 88.0h0M377.9 100.7h0M377.7 111.0h0M377.6 121.4h0M377.9 115.6h0M377.7 93.0h0M377.7 98.9h0M377.6 100.3h0M377.6 85.4h0M377.9 123.5h0M377.9 82.0h0M377.8 110.7h0M378.0 126.5h0M377.7 126.9h0M377.7 123.0h0" stroke="#f8995a" stroke-width="2.90" stroke-linecap="round"/>
<path d="M370.5 117.9h0M370.6 104.3h0M370.6 115.2h0M370.6 116.2h0M370.6 127.3h0M370.5 88.9h0M370.5 87.1h0" stroke="#f5874f" stroke-width="2.90" stroke-linecap="round"/>
<path d="M367.8 109.2h0M367.9 95.7h0M367.7 102.5h0M367.8 115.7h0M367.9 118.6h0M367.8 105.5h0M368.0 114.2h0M367.8 113.8h0M367.8 101.6h0M367.8 105.7h0M367.9 101.7h0M367.9 115.3h0M367.6 128.3h0" stroke="#f4804b" stroke-width="2.90" stroke-linecap="round"/>
<path d="M385.1 85.7h0M385.0 92.4h0M384.9 82.3h0M385.0 105.6h0M384.8 95.5h0M385.1 98.4h0M385.2 82.4h0M384.9 127.4h0M384.9 123.8h0M384.9 124.9h0M385.2 116.1h0M384.9 100.2h0M385.2 110.4h0M385.0 96.0h0M385.0 103.4h0M385.1 105.7h0M384.9 84.5h0M385.0 84.0h0" stroke="#fbab65" stroke-width="2.90" stroke-linecap="round"/>
<path d="M371.3 90.0h0M371.3 127.8h0M371.4 118.2h0M371.5 120.4h0M371.4 105.1h0M371.4 122.4h0M371.4 107.1h0" stroke="#f68951" stroke-width="2.90" stroke-linecap="round"/>
<path d="M385.8 108.1h0M385.8 118.2h0M385.9 87.7h0M385.9 91.6h0M385.8 92.4h0M385.8 108.6h0M385.9 113.8h0M386.0 82.5h0M385.8 115.9h0M385.9 113.5h0" stroke="#fcad66" stroke-width="2.90" stroke-linecap="round"/>
<path d="M379.3 129.7h0M379.5 108.6h0M379.4 99.2h0M379.6 103.1h0M379.5 130.0h0M379.4 115.5h0M379.4 111.3h0M379.4 106.8h0M379.6 119.4h0M379.5 113.3h0" stroke="#f99d5d" stroke-width="2.90" stroke-linecap="round"/>
<path d="M370.9 106.2h0M371.1 114.8h0M370.9 101.7h0M371.2 115.7h0M371.1 96.0h0M371.0 95.8h0M371.1 104.2h0M370.8 120.7h0M371.1 126.3h0M370.8 103.8h0M370.9 104.3h0" stroke="#f68850" stroke-width="2.90" stroke-linecap="round"/>
<path d="M375.5 112.3h0M375.6 124.1h0M375.5 123.0h0M375.4 87.3h0M375.5 89.7h0M375.4 82.8h0M375.5 118.7h0M375.5 106.2h0M375.5 95.6h0M375.4 104.2h0M375.5 91.7h0" stroke="#f79357" stroke-width="2.90" stroke-linecap="round"/>
<path d="M368.6 126.1h0M368.6 103.9h0M368.5 129.7h0M368.6 92.3h0M368.6 103.1h0M368.5 123.1h0M368.6 115.5h0M368.6 89.0h0M368.7 91.9h0" stroke="#f5824c" stroke-width="2.90" stroke-linecap="round"/>
<path d="M371.7 113.3h0M372.0 105.1h0M371.8 117.6h0M371.6 121.2h0M371.9 129.9h0M371.9 117.7h0M372.0 125.6h0M371.9 125.7h0M371.7 121.0h0M371.8 95.1h0M371.9 108.6h0M371.8 106.7h0" stroke="#f68a51" stroke-width="2.90" stroke-linecap="round"/>
<path d="M369.7 106.1h0M369.9 99.7h0M370.0 94.2h0M369.8 104.2h0M369.9 119.1h0M370.0 123.8h0M369.8 124.3h0M369.7 111.5h0M369.8 129.3h0M369.9 106.4h0M369.8 103.5h0M369.8 104.8h0M369.6 116.4h0M369.8 87.8h0M369.8 89.4h0" stroke="#f5854e" stroke-width="2.90" stroke-linecap="round"/>
<path d="M374.9 87.6h0M375.0 101.6h0M375.0 98.4h0M374.9 94.2h0M375.0 87.7h0M375.1 125.4h0M374.9 81.9h0M375.0 97.6h0M374.9 116.0h0M374.8 105.3h0M374.9 105.2h0M375.0 94.5h0M374.8 116.0h0M375.0 103.8h0M375.0 80.8h0" stroke="#f79256" stroke-width="2.90" stroke-linecap="round"/>
<path d="M380.3 117.4h0M380.2 100.0h0M380.3 120.1h0M380.3 81.8h0M380.1 102.4h0M380.1 127.6h0M380.0 92.4h0M380.0 129.3h0M380.3 104.8h0M380.4 100.9h0M380.1 112.3h0M380.0 112.8h0M380.1 99.1h0" stroke="#f99f5e" stroke-width="2.90" stroke-linecap="round"/>
<path d="M386.4 112.0h0M386.3 93.0h0M386.2 109.2h0M386.2 106.4h0M386.1 105.3h0M386.2 98.8h0M386.3 121.6h0M386.0 102.1h0M386.1 107.7h0M386.0 120.5h0M386.4 100.0h0M386.2 88.6h0M386.4 118.5h0M386.3 106.4h0" stroke="#fcae67" stroke-width="2.90" stroke-linecap="round"/>
<path d="M381.4 123.2h0M381.5 127.3h0M381.4 88.1h0M381.5 111.8h0M381.3 125.4h0M381.6 93.2h0M381.5 88.4h0M381.4 111.0h0M381.4 91.9h0M381.5 82.0h0M381.5 91.1h0M381.5 113.9h0M381.5 91.2h0" stroke="#faa260" stroke-width="2.90" stroke-linecap="round"/>
<path d="M384.1 107.0h0M384.2 80.6h0M384.2 94.5h0M384.1 101.3h0M384.2 123.3h0M384.1 103.4h0M384.2 90.3h0M384.2 110.7h0M384.3 102.7h0M384.2 113.4h0M384.0 112.0h0M384.2 115.2h0M384.1 110.7h0" stroke="#fba964" stroke-width="2.90" stroke-linecap="round"/>
<path d="M381.0 95.0h0M381.1 125.1h0M381.2 82.6h0M380.9 96.0h0M380.8 96.3h0M381.0 87.1h0M381.1 92.1h0M381.2 84.6h0M380.9 111.5h0M381.1 106.3h0M381.2 85.4h0M380.9 116.9h0M381.2 84.6h0M380.9 84.6h0M381.0 80.7h0" stroke="#faa15f" stroke-width="2.90" stroke-linecap="round"/>
<path d="M373.4 98.5h0M373.4 82.9h0M373.5 93.8h0M373.4 128.3h0M373.4 81.7h0M373.5 92.6h0M373.4 90.7h0" stroke="#f78e54" stroke-width="2.90" stroke-linecap="round"/>
<path d="M368.3 106.7h0M368.4 118.8h0M368.4 126.7h0M368.3 129.3h0" stroke="#f5814c" stroke-width="2.90" stroke-linecap="round"/>
<path d="M387.1 100.6h0M387.5 86.4h0M387.1 90.0h0M387.1 84.9h0M386.9 113.6h0M387.3 82.6h0M386.9 99.6h0M386.9 85.8h0M387.3 85.3h0M387.4 107.1h0M387.0 101.6h0M387.2 95.1h0M387.1 86.8h0M387.2 109.8h0M386.9 118.5h0" stroke="#fcb068" stroke-width="2.90" stroke-linecap="round"/>
<path d="M377.5 111.5h0M377.6 127.0h0M377.6 113.8h0M377.4 87.4h0M377.5 125.0h0M377.5 87.5h0M377.6 91.5h0M377.4 109.1h0M377.4 93.6h0M377.5 124.3h0M377.5 81.6h0M377.5 106.4h0M377.5 86.3h0" stroke="#f8985a" stroke-width="2.90" stroke-linecap="round"/>
<path d="M371.3 84.1h0M371.2 125.2h0M371.2 124.6h0M371.3 115.2h0M371.2 105.6h0M371.3 98.2h0M371.3 116.8h0" stroke="#f68950" stroke-width="2.90" stroke-linecap="round"/>
<path d="M379.2 125.6h0M379.3 111.6h0M379.2 127.2h0M379.3 128.0h0M379.2 110.1h0" stroke="#f99d5c" stroke-width="2.90" stroke-linecap="round"/>
<path d="M384.7 82.2h0M384.8 126.5h0M384.7 127.2h0M384.7 122.9h0" stroke="#fbaa65" stroke-width="2.90" stroke-linecap="round"/>
<path d="M383.5 91.4h0M383.4 119.0h0M383.5 92.8h0M383.6 126.4h0M383.6 88.8h0M383.6 126.8h0M383.6 127.6h0" stroke="#fba763" stroke-width="2.90" stroke-linecap="round"/>
<path d="M378.0 93.3h0M378.1 87.3h0M378.1 85.3h0M378.2 109.7h0" stroke="#f89a5b" stroke-width="2.90" stroke-linecap="round"/>
<path d="M378.7 85.6h0M378.7 121.7h0M378.7 128.7h0M378.7 81.6h0" stroke="#f99b5c" stroke-width="2.90" stroke-linecap="round"/>
<path d="M378.3 108.0h0M378.4 116.5h0M378.3 122.4h0M378.3 123.6h0" stroke="#f99a5b" stroke-width="2.90" stroke-linecap="round"/>
<path d="M376.5 129.7h0M376.7 86.6h0M376.5 84.4h0" stroke="#f89658" stroke-width="2.90" stroke-linecap="round"/>
<path d="M369.4 109.9h0M369.3 89.7h0M369.5 104.6h0" stroke="#f5844e" stroke-width="2.90" stroke-linecap="round"/>
<path d="M385.7 119.8h0M385.7 121.8h0M385.6 96.8h0M385.6 81.3h0M385.6 88.3h0M385.6 86.1h0" stroke="#fbad66" stroke-width="2.90" stroke-linecap="round"/>
<path d="M381.3 124.4h0M381.2 118.1h0M381.2 119.7h0M381.2 115.5h0" stroke="#faa25f" stroke-width="2.90" stroke-linecap="round"/>
<path d="M385.5 91.6h0M385.6 116.9h0M385.5 99.9h0" stroke="#fbac66" stroke-width="2.90" stroke-linecap="round"/>
<path d="M370.8 111.7h0" stroke="#f68750" stroke-width="2.90" stroke-linecap="round"/>
<path d="M376.7 116.5h0M376.7 87.9h0M376.8 101.1h0M376.7 106.8h0M376.7 81.2h0M376.7 95.8h0" stroke="#f89659" stroke-width="2.90" stroke-linecap="round"/>
<path d="M376.0 104.3h0M375.8 97.7h0M375.8 125.8h0M375.8 122.1h0M376.0 89.5h0M375.9 125.4h0" stroke="#f89457" stroke-width="2.90" stroke-linecap="round"/>
<path d="M380.8 120.7h0M380.8 86.2h0M380.8 102.2h0" stroke="#faa05f" stroke-width="2.90" stroke-linecap="round"/>
<path d="M377.1 128.9h0M377.0 123.3h0M376.9 95.7h0M376.9 95.2h0M377.2 90.5h0M377.0 102.9h0M377.0 85.2h0M377.1 92.5h0M376.9 119.5h0M376.9 85.9h0M377.2 102.0h0M376.8 120.0h0M377.2 104.2h0" stroke="#f89759" stroke-width="2.90" stroke-linecap="round"/>
<path d="M369.2 111.4h0" stroke="#f5844d" stroke-width="2.90" stroke-linecap="round"/>
<path d="M383.2 108.0h0" stroke="#faa762" stroke-width="2.90" stroke-linecap="round"/>
<path d="M367.6 121.2h0" stroke="#f47f4b" stroke-width="2.90" stroke-linecap="round"/>
<path d="M383.3 86.5h0M383.3 101.4h0" stroke="#fba762" stroke-width="2.90" stroke-linecap="round"/>
<path d="M373.3 127.9h0M373.3 89.3h0M373.3 112.8h0" stroke="#f78e53" stroke-width="2.90" stroke-linecap="round"/>
<path d="M374.5 93.4h0M374.4 117.6h0" stroke="#f79155" stroke-width="2.90" stroke-linecap="round"/>
<path d="M372.7 95.4h0M372.8 115.9h0M372.7 102.4h0" stroke="#f68c53" stroke-width="2.90" stroke-linecap="round"/>
<path d="M368.7 87.1h0M368.7 114.2h0M368.7 115.6h0M368.7 96.1h0" stroke="#f5824d" stroke-width="2.90" stroke-linecap="round"/>
<path d="M377.3 93.3h0M377.2 98.3h0M377.2 119.8h0" stroke="#f89859" stroke-width="2.90" stroke-linecap="round"/>
<path d="M375.2 125.6h0M375.3 129.1h0" stroke="#f79356" stroke-width="2.90" stroke-linecap="round"/>
<path d="M370.7 117.2h0" stroke="#f58750" stroke-width="2.90" stroke-linecap="round"/>
<path d="M381.0 42.0h0M382.0 45.0h0M382.0 49.0h0M377.0 60.0h0M379.0 66.0h0M385.0 70.0h0M383.0 76.0h0M386.0 80.0h0M388.0 55.0h0M366.0 118.0h0M369.0 126.0h0M372.0 133.0h0M377.0 135.0h0M383.0 133.0h0M366.0 106.0h0" stroke="#f9a058" stroke-width="2.90" stroke-linecap="round"/>
<path d="M378.0 134.0h0M379.0 138.0h0M380.0 142.0h0M378.5 147.0h0M380.0 153.6h0M380.0 162.8h0M380.0 169.0h0M374.0 174.5h0M381.0 131.5h0M376.0 132.0h0" stroke="#f08850" stroke-width="2.90" stroke-linecap="round"/>
<path d="M398.3 88.3h0M392.3 88.5h0M393.4 88.7h0M392.5 88.6h0" stroke="#fdeaa5" stroke-width="2.90" stroke-linecap="round"/>
<path d="M393.8 91.3h0M395.3 91.1h0M397.2 91.2h0M395.3 90.7h0M396.9 91.2h0M393.5 91.3h0M391.7 91.3h0M398.2 90.8h0M394.4 91.2h0" stroke="#fde8a4" stroke-width="2.90" stroke-linecap="round"/>
<path d="M390.0 97.3h0M391.1 96.3h0M396.0 96.4h0M390.4 96.8h0M396.7 96.3h0M392.5 97.1h0M397.2 96.9h0M395.4 96.4h0M396.9 97.4h0" stroke="#fde5a0" stroke-width="2.90" stroke-linecap="round"/>
<path d="M393.7 80.6h0M396.0 81.7h0M395.5 80.7h0M393.6 81.7h0M397.0 81.7h0M394.3 80.6h0M393.5 80.7h0M398.9 80.9h0M396.8 81.6h0" stroke="#feeeaa" stroke-width="2.90" stroke-linecap="round"/>
<path d="M388.4 121.8h0M391.8 121.0h0M389.7 121.9h0M387.8 121.1h0M392.2 122.3h0M391.7 120.9h0M390.3 122.4h0" stroke="#fcd790" stroke-width="2.90" stroke-linecap="round"/>
<path d="M387.3 133.5h0M391.0 133.9h0M388.2 133.8h0M391.4 133.3h0M388.5 133.3h0" stroke="#fcd088" stroke-width="2.90" stroke-linecap="round"/>
<path d="M392.7 113.6h0M390.8 113.5h0M389.7 113.3h0" stroke="#fddc95" stroke-width="2.90" stroke-linecap="round"/>
<path d="M397.5 76.3h0M392.5 76.1h0M398.9 76.2h0M394.4 75.9h0" stroke="#fef1ad" stroke-width="2.90" stroke-linecap="round"/>
<path d="M391.5 104.1h0M394.3 104.3h0M391.9 104.4h0M390.4 103.9h0" stroke="#fde19b" stroke-width="2.90" stroke-linecap="round"/>
<path d="M395.9 98.0h0M395.6 98.3h0M395.9 98.4h0M392.5 98.9h0M392.1 98.5h0M392.4 98.9h0M393.8 97.9h0M390.1 98.6h0M391.4 98.9h0M396.4 98.2h0" stroke="#fde49f" stroke-width="2.90" stroke-linecap="round"/>
<path d="M399.0 83.1h0M394.1 82.8h0M394.0 83.3h0M392.5 83.0h0M391.4 82.8h0" stroke="#feeda9" stroke-width="2.90" stroke-linecap="round"/>
<path d="M394.2 114.2h0M388.6 113.8h0M394.2 113.8h0M393.2 114.0h0" stroke="#fddb95" stroke-width="2.90" stroke-linecap="round"/>
<path d="M393.9 118.6h0" stroke="#fcd992" stroke-width="2.90" stroke-linecap="round"/>
<path d="M391.6 128.7h0M392.3 128.9h0M390.3 128.7h0M389.6 129.4h0M387.9 128.7h0M387.0 129.3h0M390.3 128.9h0M392.2 128.9h0" stroke="#fcd38b" stroke-width="2.90" stroke-linecap="round"/>
<path d="M392.7 99.5h0M391.6 100.5h0M394.7 99.9h0M394.8 100.6h0M392.6 99.8h0" stroke="#fde39e" stroke-width="2.90" stroke-linecap="round"/>
<path d="M390.1 130.9h0M390.5 130.3h0M388.7 131.2h0M388.4 130.7h0M389.9 131.2h0" stroke="#fcd28a" stroke-width="2.90" stroke-linecap="round"/>
<path d="M391.3 94.4h0M391.0 94.4h0" stroke="#fde6a2" stroke-width="2.90" stroke-linecap="round"/>
<path d="M394.5 108.9h0M394.0 108.9h0M392.0 108.7h0M393.1 109.5h0M392.8 108.9h0M392.3 108.6h0" stroke="#fdde98" stroke-width="2.90" stroke-linecap="round"/>
<path d="M399.2 76.9h0M398.6 77.1h0M398.0 77.0h0" stroke="#fef0ad" stroke-width="2.90" stroke-linecap="round"/>
<path d="M390.2 119.1h0" stroke="#fcd892" stroke-width="2.90" stroke-linecap="round"/>
<path d="M392.9 78.2h0M396.9 77.7h0M391.5 77.5h0" stroke="#fef0ac" stroke-width="2.90" stroke-linecap="round"/>
<path d="M392.9 107.7h0M389.0 108.1h0M393.5 107.2h0M390.1 107.8h0M394.7 107.5h0M390.1 108.0h0" stroke="#fddf99" stroke-width="2.90" stroke-linecap="round"/>
<path d="M391.8 102.5h0" stroke="#fde29c" stroke-width="2.90" stroke-linecap="round"/>
<path d="M392.9 73.7h0M395.3 73.6h0M397.0 74.0h0M394.3 73.2h0M392.3 73.3h0M393.6 74.2h0" stroke="#fef2af" stroke-width="2.90" stroke-linecap="round"/>
<path d="M391.2 102.1h0M393.2 101.9h0M390.4 102.1h0M396.6 102.0h0" stroke="#fde29d" stroke-width="2.90" stroke-linecap="round"/>
<path d="M392.2 103.6h0" stroke="#fde19c" stroke-width="2.90" stroke-linecap="round"/>
<path d="M391.4 79.8h0M395.8 79.9h0M392.1 79.5h0M399.0 79.5h0" stroke="#feefab" stroke-width="2.90" stroke-linecap="round"/>
<path d="M392.0 72.3h0M396.1 72.3h0M392.3 72.7h0M393.1 72.7h0" stroke="#fef3b0" stroke-width="2.90" stroke-linecap="round"/>
<path d="M393.2 106.5h0M389.5 105.4h0M390.5 105.7h0M390.5 106.5h0M390.4 106.5h0M391.6 105.4h0M394.4 106.1h0" stroke="#fde09a" stroke-width="2.90" stroke-linecap="round"/>
<path d="M391.8 126.8h0M387.3 126.4h0M389.0 126.4h0M388.5 127.0h0M388.1 127.0h0" stroke="#fcd48d" stroke-width="2.90" stroke-linecap="round"/>
<path d="M391.6 117.3h0" stroke="#fdd993" stroke-width="2.90" stroke-linecap="round"/>
<path d="M391.9 130.0h0M390.3 130.1h0M387.2 130.1h0M386.9 130.1h0M387.1 129.8h0" stroke="#fcd28b" stroke-width="2.90" stroke-linecap="round"/>
<path d="M393.1 84.7h0M393.6 84.2h0M394.1 85.1h0M394.9 84.9h0M395.5 84.9h0M398.1 84.6h0" stroke="#feeca8" stroke-width="2.90" stroke-linecap="round"/>
<path d="M396.6 89.3h0M398.3 89.2h0M395.0 89.6h0M396.5 89.7h0" stroke="#fde9a5" stroke-width="2.90" stroke-linecap="round"/>
<path d="M387.8 118.3h0M390.4 118.1h0" stroke="#fdd992" stroke-width="2.90" stroke-linecap="round"/>
<path d="M395.6 92.7h0M395.9 92.8h0" stroke="#fde7a3" stroke-width="2.90" stroke-linecap="round"/>
<path d="M393.7 93.0h0M394.7 93.5h0M394.4 93.8h0M391.1 93.5h0" stroke="#fde7a2" stroke-width="2.90" stroke-linecap="round"/>
<path d="M392.5 112.8h0M390.7 112.2h0M389.1 112.3h0" stroke="#fddc96" stroke-width="2.90" stroke-linecap="round"/>
<path d="M393.9 110.5h0M390.1 111.3h0M393.7 110.2h0" stroke="#fddd97" stroke-width="2.90" stroke-linecap="round"/>
<path d="M396.2 94.9h0M397.1 95.1h0M396.8 94.8h0M395.5 95.3h0" stroke="#fde6a1" stroke-width="2.90" stroke-linecap="round"/>
<path d="M393.9 80.3h0" stroke="#feeeab" stroke-width="2.90" stroke-linecap="round"/>
<path d="M389.7 105.3h0M394.1 105.1h0M395.1 105.2h0" stroke="#fde09b" stroke-width="2.90" stroke-linecap="round"/>
<path d="M392.2 74.8h0M391.5 75.8h0M394.2 75.2h0M398.2 75.8h0M393.7 75.4h0M394.4 75.0h0" stroke="#fef1ae" stroke-width="2.90" stroke-linecap="round"/>
<path d="M390.4 91.9h0M397.7 91.8h0M393.5 92.3h0M392.8 92.0h0" stroke="#fde8a3" stroke-width="2.90" stroke-linecap="round"/>
<path d="M393.9 86.3h0M393.9 86.0h0M391.2 86.1h0" stroke="#feeba7" stroke-width="2.90" stroke-linecap="round"/>
<path d="M393.1 114.6h0M392.3 115.3h0" stroke="#fddb94" stroke-width="2.90" stroke-linecap="round"/>
<path d="M390.9 120.3h0M390.3 120.2h0M388.4 119.9h0M390.1 120.2h0" stroke="#fcd891" stroke-width="2.90" stroke-linecap="round"/>
<path d="M390.6 124.0h0M393.0 124.1h0M392.0 124.2h0" stroke="#fcd68e" stroke-width="2.90" stroke-linecap="round"/>
<path d="M390.4 116.0h0M389.7 115.7h0M389.2 115.5h0M390.5 115.8h0M390.5 115.4h0M392.2 116.1h0" stroke="#fdda94" stroke-width="2.90" stroke-linecap="round"/>
<path d="M391.4 90.3h0M397.6 90.2h0" stroke="#fde9a4" stroke-width="2.90" stroke-linecap="round"/>
<path d="M392.0 100.9h0M396.5 101.2h0" stroke="#fde39d" stroke-width="2.90" stroke-linecap="round"/>
<path d="M389.8 127.8h0M390.5 127.4h0M387.3 127.3h0" stroke="#fcd48c" stroke-width="2.90" stroke-linecap="round"/>
<path d="M392.0 83.6h0" stroke="#feeca9" stroke-width="2.90" stroke-linecap="round"/>
<path d="M391.2 87.7h0M394.0 87.7h0M394.2 88.0h0" stroke="#fdeaa6" stroke-width="2.90" stroke-linecap="round"/>
<path d="M390.5 125.1h0M392.8 124.7h0M388.8 125.3h0M389.7 125.0h0" stroke="#fcd58e" stroke-width="2.90" stroke-linecap="round"/>
<path d="M387.2 131.4h0" stroke="#fcd18a" stroke-width="2.90" stroke-linecap="round"/>
<path d="M394.1 99.3h0M390.4 99.4h0" stroke="#fde49e" stroke-width="2.90" stroke-linecap="round"/>
<path d="M389.0 132.8h0M390.4 132.6h0" stroke="#fcd189" stroke-width="2.90" stroke-linecap="round"/>
<path d="M387.8 123.3h0M393.0 122.5h0M389.9 122.7h0M390.9 123.7h0" stroke="#fcd68f" stroke-width="2.90" stroke-linecap="round"/>
<path d="M393.7 78.7h0" stroke="#feefac" stroke-width="2.90" stroke-linecap="round"/>
<path d="M387.9 128.0h0" stroke="#fcd38c" stroke-width="2.90" stroke-linecap="round"/>
<path d="M388.4 120.8h0" stroke="#fcd791" stroke-width="2.90" stroke-linecap="round"/>
<path d="M399.6 74.4h0" stroke="#fef2ae" stroke-width="2.90" stroke-linecap="round"/>
<path d="M391.4 125.8h0" stroke="#fcd58d" stroke-width="2.90" stroke-linecap="round"/>
<path d="M406.0 73.0h0M409.0 74.0h0M412.0 73.0h0M414.0 75.0h0M402.0 77.0h0M398.0 70.0h0M401.0 68.0h0" stroke="#f4f2a8" stroke-width="2.90" stroke-linecap="round"/>
<path d="M404.1 46.7h0M391.2 107.7h0M367.5 104.9h0M371.8 59.7h0M361.9 63.2h0M395.4 50.7h0M376.7 101.7h0M399.6 59.4h0M405.7 84.9h0M393.5 48.8h0M397.2 77.8h0M362.2 65.3h0M401.2 100.2h0M388.5 74.4h0M366.2 50.9h0M392.8 66.4h0M373.6 94.8h0M403.9 92.3h0M394.0 60.2h0M395.4 91.3h0M402.6 74.1h0M403.8 100.1h0M380.1 54.8h0M374.6 51.3h0M368.2 84.4h0M399.8 76.7h0M371.2 63.0h0M381.8 95.9h0M362.4 58.0h0M390.5 58.7h0M384.9 60.7h0M410.3 61.3h0M381.9 59.3h0M395.8 64.8h0M383.1 57.2h0M376.1 60.0h0M388.5 57.6h0M381.2 59.9h0M384.5 54.5h0M376.0 62.7h0M387.9 58.2h0M403.3 65.5h0M395.7 62.0h0M405.2 64.3h0M394.8 60.8h0M399.6 66.3h0M397.4 61.4h0M380.9 61.7h0M390.8 59.8h0M409.6 65.0h0M394.3 61.0h0M392.9 57.2h0M404.0 64.2h0M389.5 57.0h0M397.7 63.1h0M380.9 59.1h0M403.2 61.6h0M388.8 58.5h0M385.3 57.0h0M407.8 67.0h0M403.6 66.7h0M390.3 59.8h0M405.0 65.9h0M398.7 65.4h0M410.8 62.0h0M384.4 58.5h0M396.0 64.4h0M404.4 67.3h0M401.2 60.3h0M403.0 65.7h0M385.5 57.1h0M392.7 59.3h0M390.1 59.5h0M390.5 61.0h0M406.3 64.9h0M394.0 61.2h0M390.2 59.2h0M388.5 58.0h0M394.5 63.8h0M395.6 62.1h0M402.7 64.6h0M404.4 64.6h0M406.7 62.7h0M391.6 58.8h0M404.0 65.8h0M383.8 57.1h0M392.4 58.1h0M391.4 57.9h0M378.7 62.9h0M408.9 63.6h0M390.5 56.9h0M402.7 66.3h0M393.0 60.4h0M392.6 60.6h0M381.6 56.9h0M387.8 55.4h0M407.9 65.2h0M392.6 60.9h0M404.8 61.7h0M392.5 62.4h0M402.8 63.0h0M405.4 64.0h0M391.6 58.2h0M394.0 64.1h0M394.7 60.4h0M393.1 61.2h0M404.4 65.4h0M401.7 60.9h0M376.9 59.7h0" stroke="#52b4a4" stroke-width="2.90" stroke-linecap="round"/>
<path d="M387.1 46.4h0M394.9 101.5h0M390.9 75.5h0M375.1 103.1h0M403.7 74.7h0M391.5 63.6h0M376.1 95.4h0M381.4 101.5h0M358.5 105.7h0M380.1 87.3h0M383.1 100.2h0M368.6 98.9h0M370.0 97.6h0M390.9 49.3h0M359.5 89.7h0M385.9 90.1h0M365.9 66.2h0M380.6 101.7h0M358.0 52.8h0M388.5 56.2h0M396.1 59.5h0M391.4 68.5h0M400.5 94.4h0M368.1 50.4h0M358.1 52.5h0M378.3 87.0h0M404.9 69.7h0M387.6 80.4h0M358.1 66.7h0M366.7 87.6h0M405.9 52.9h0M392.7 53.4h0M382.6 85.2h0M427.2 72.2h0M430.5 68.6h0M431.2 65.3h0M432.4 77.9h0M431.8 77.8h0M429.5 68.2h0M428.3 76.5h0M432.0 72.8h0M431.3 79.3h0M424.8 73.4h0M425.5 70.8h0M428.6 68.3h0M425.5 73.1h0M427.4 78.4h0M426.7 76.4h0M425.2 77.0h0M431.7 73.5h0M430.8 74.1h0M428.7 70.9h0M432.2 66.4h0M427.5 72.5h0M431.8 62.4h0M431.1 75.6h0M430.9 68.6h0M430.4 67.9h0M428.6 71.8h0M425.9 70.2h0M425.3 65.1h0M431.8 62.7h0M429.1 69.3h0M432.2 71.9h0M426.7 64.4h0M430.2 64.4h0M428.1 79.7h0M425.2 70.6h0M427.1 79.2h0M428.4 64.7h0M427.3 76.5h0M431.0 64.1h0M428.9 78.5h0M429.1 78.7h0M427.6 68.6h0M431.8 67.2h0M425.6 73.1h0M429.7 67.3h0M426.8 65.7h0M432.4 67.8h0M432.1 71.0h0M426.0 76.8h0M429.6 72.7h0M425.8 63.3h0M430.0 68.8h0M426.1 66.0h0M431.2 79.0h0M429.1 61.7h0M432.1 66.0h0M430.7 70.5h0M426.7 74.7h0M425.9 70.6h0M430.1 74.2h0M428.2 64.9h0M428.3 72.5h0M427.5 65.9h0M425.8 76.6h0M427.2 79.4h0M426.2 65.0h0M432.2 63.1h0M431.3 79.7h0M430.3 65.7h0M430.0 68.2h0M426.2 65.2h0M425.0 71.3h0M431.9 76.5h0M426.1 76.2h0M428.3 72.7h0M428.3 67.3h0M430.9 66.4h0M425.8 73.8h0M430.3 69.3h0M428.2 63.4h0M430.6 77.6h0M425.1 63.1h0M425.7 74.2h0M425.8 64.9h0M428.1 73.2h0M431.1 69.3h0M430.9 68.6h0M428.1 76.9h0M428.5 70.9h0M429.1 67.6h0M430.7 62.2h0M427.3 76.8h0M427.2 64.9h0M427.7 71.4h0M426.3 79.2h0M426.2 79.3h0M425.4 76.6h0M424.8 70.8h0M432.3 74.7h0M430.0 64.4h0M428.5 72.1h0M428.7 66.0h0M426.0 68.1h0M432.3 71.8h0M428.2 62.2h0M427.2 78.7h0M427.5 71.0h0M426.5 71.6h0M429.0 74.2h0M427.5 69.1h0M429.5 105.2h0M429.7 94.3h0M427.8 78.2h0M430.7 109.8h0M428.5 82.2h0M429.7 107.9h0M428.6 93.6h0M428.8 88.6h0M428.7 75.5h0M428.0 88.9h0M429.5 98.5h0M428.7 83.2h0M428.0 92.9h0M429.3 100.1h0M428.9 93.3h0M431.8 105.4h0M428.7 86.1h0M429.2 105.1h0M428.6 91.4h0M430.7 108.6h0M430.7 103.3h0M431.2 107.9h0M427.8 91.4h0M426.8 80.7h0M428.7 88.3h0M426.7 95.3h0M430.5 107.0h0M427.8 82.8h0M429.7 100.4h0M429.5 107.3h0M430.8 101.0h0M430.8 111.0h0M430.3 110.1h0M430.0 89.8h0M430.0 109.6h0M427.8 84.2h0M427.7 78.8h0M428.5 93.1h0M430.7 100.4h0M430.1 101.3h0M428.8 90.7h0M428.2 76.0h0M429.4 77.8h0M429.3 95.3h0M428.7 101.1h0M428.3 82.7h0M427.6 82.1h0M427.7 75.1h0M430.7 98.2h0M429.8 105.6h0M429.9 107.9h0M429.2 90.8h0M429.8 80.2h0M432.1 112.3h0M429.2 78.2h0M429.4 112.3h0M431.8 110.8h0M430.9 103.3h0M429.7 106.2h0M428.2 100.9h0M430.9 106.2h0M428.4 98.7h0M429.6 98.7h0M430.3 99.4h0M430.8 100.6h0M428.3 85.5h0M428.9 90.2h0M428.3 90.3h0M429.5 103.1h0M430.3 103.3h0M430.4 111.2h0M431.6 114.5h0M429.4 81.1h0M428.8 85.8h0M429.1 87.6h0M430.0 105.4h0M427.2 94.3h0M428.4 82.4h0M428.2 92.5h0M429.3 93.4h0M429.0 93.3h0M429.0 88.9h0M431.5 112.6h0M429.3 85.8h0M428.7 96.2h0M430.3 100.8h0M429.9 100.7h0M430.4 111.3h0M426.9 77.1h0M430.6 108.9h0M429.8 101.6h0M428.3 102.3h0M430.9 105.3h0M428.2 88.4h0M430.7 98.0h0M429.6 100.9h0M428.7 98.7h0M429.3 96.0h0M430.0 101.7h0M427.1 84.3h0M430.8 106.3h0M430.0 95.0h0M429.0 95.0h0M427.9 84.5h0M430.9 96.3h0M428.5 98.5h0M428.4 100.2h0M430.9 105.6h0M429.9 96.9h0M429.5 102.1h0M429.8 103.4h0M429.6 103.4h0M428.2 90.8h0M428.1 83.0h0M429.3 99.7h0M428.9 90.3h0M428.2 97.7h0M428.5 83.9h0M428.9 102.2h0M428.6 90.7h0M418.0 100.0h0M416.0 106.0h0M421.0 86.0h0M423.0 91.0h0M413.0 84.0h0M448.0 118.0h0M444.0 113.0h0M456.0 88.0h0M459.0 94.0h0M440.0 117.0h0" stroke="#45a6ae" stroke-width="2.90" stroke-linecap="round"/>
<path d="M370.0 55.0h0M374.0 58.0h0M372.0 66.0h0M386.0 40.0h0M389.0 48.0h0M395.0 45.0h0M398.0 55.0h0M404.0 49.0h0M409.0 52.0h0M413.0 54.0h0M402.0 60.0h0M407.0 72.0h0M415.0 70.0h0M420.0 62.0h0" stroke="#5ab8a2" stroke-width="2.90" stroke-linecap="round"/>
<path d="M409.6 61.6h0M408.2 61.5h0M414.2 60.7h0M413.9 64.0h0M413.8 64.1h0M412.0 63.4h0M416.4 60.4h0M419.0 62.5h0M422.5 64.6h0M419.7 65.2h0M425.1 64.0h0M426.0 62.1h0M430.9 65.2h0M430.0 64.0h0M431.8 64.3h0M431.6 65.7h0M432.7 62.5h0M433.0 64.1h0M434.5 63.5h0M436.3 60.9h0M439.1 60.9h0M434.7 60.3h0M437.8 62.3h0" stroke="#5e50a2" stroke-width="2.90" stroke-linecap="round"/>
<path d="M410.3 60.8h0M410.1 64.1h0M413.2 62.1h0M415.0 61.9h0M414.9 65.3h0M418.0 62.6h0M416.5 61.9h0M422.2 64.6h0M423.0 64.4h0M427.9 61.6h0M426.0 61.3h0M430.4 66.2h0M434.3 61.5h0M433.7 62.6h0" stroke="#6050a0" stroke-width="2.90" stroke-linecap="round"/>
<path d="M410.7 62.2h0M411.0 62.0h0M412.8 62.5h0M419.6 62.8h0M421.3 64.8h0M421.9 64.0h0M427.2 61.6h0M426.6 61.9h0M426.6 62.5h0M429.4 64.9h0M433.4 64.0h0M437.1 59.4h0" stroke="#5a4ea0" stroke-width="2.90" stroke-linecap="round"/>
<path d="M442.7 67.0h0M444.8 58.0h0M449.2 63.0h0M447.4 64.2h0M447.7 53.8h0M439.2 57.8h0M442.2 67.0h0M445.5 61.0h0M448.7 59.4h0M444.2 60.7h0M442.8 62.1h0M442.4 57.5h0M449.8 61.7h0M450.2 58.6h0M445.9 55.0h0M441.2 59.0h0M438.4 65.0h0M446.9 55.3h0M439.5 65.4h0M446.8 53.9h0M444.6 62.8h0M443.4 56.7h0M445.3 56.0h0M441.7 54.5h0M447.2 57.7h0M443.1 64.7h0M450.9 55.2h0M442.5 65.2h0M442.7 54.4h0M448.5 66.1h0M445.8 62.1h0M442.9 58.8h0M443.4 67.4h0M449.6 66.3h0M450.2 55.9h0M449.2 65.7h0M446.0 56.3h0M442.2 66.9h0" stroke="#3a7cc0" stroke-width="2.90" stroke-linecap="round"/>
<path d="M450.5 56.0h0M446.3 64.5h0M439.4 66.7h0M439.9 62.0h0M441.4 65.0h0M438.5 63.4h0M450.9 58.2h0M447.0 55.9h0M441.2 64.7h0M439.6 59.8h0M446.7 54.5h0M444.3 63.3h0M450.9 62.0h0M440.5 67.5h0M445.6 59.9h0M441.5 56.5h0M443.6 55.9h0M444.4 62.2h0M441.5 54.9h0M445.4 55.7h0M444.3 55.4h0M438.5 62.3h0M447.8 58.7h0M441.2 68.2h0M441.4 61.7h0M439.5 56.0h0M450.9 65.0h0M444.5 56.3h0M450.5 52.7h0M451.0 53.8h0M444.5 57.9h0M447.9 55.0h0M448.9 54.7h0M443.7 55.2h0M447.3 62.5h0M449.3 60.5h0M439.3 59.7h0M438.3 54.8h0M440.7 68.0h0M446.8 54.2h0M448.4 63.2h0M447.4 65.9h0M441.0 67.2h0M444.8 66.7h0M443.5 59.8h0M442.3 54.6h0M441.9 67.5h0M450.2 56.1h0M450.1 57.0h0M443.1 58.2h0M440.7 58.5h0M458.8 64.5h0M455.7 62.6h0M458.7 55.8h0M456.1 62.2h0M459.5 56.8h0M456.0 60.2h0M455.7 58.1h0M454.4 62.5h0M456.0 55.5h0M461.4 59.1h0M451.9 63.5h0M451.7 57.0h0M453.6 58.5h0M455.7 60.2h0M453.3 67.3h0M462.7 62.1h0M461.0 56.8h0M460.1 53.7h0M452.8 63.0h0M453.4 61.3h0M455.2 58.2h0M453.2 55.4h0M460.1 67.1h0M455.2 65.4h0M461.3 59.5h0M458.2 63.7h0M454.3 60.3h0" stroke="#3f78bc" stroke-width="2.90" stroke-linecap="round"/>
<path d="M440.1 65.3h0M445.7 61.0h0M441.6 54.2h0M444.7 58.0h0M441.8 62.1h0M447.9 59.4h0M443.0 57.5h0M444.6 61.0h0M441.7 67.7h0M450.8 52.8h0M444.1 65.2h0M445.5 61.9h0M440.6 58.6h0M443.2 64.8h0M442.3 65.1h0M446.8 53.3h0M448.2 55.1h0M448.0 65.0h0M446.9 63.5h0M445.1 63.9h0M448.4 54.5h0M448.5 55.2h0M443.3 62.2h0M440.0 54.2h0M447.5 65.9h0M446.2 53.4h0M440.5 57.1h0M445.3 53.9h0M449.9 58.1h0M443.1 67.0h0M447.4 63.1h0M446.2 54.0h0M445.4 57.6h0M443.0 58.7h0M446.0 56.9h0M438.0 60.9h0M444.0 66.3h0M443.7 66.9h0M447.5 53.7h0M443.1 53.6h0M444.3 64.3h0M442.4 65.0h0M447.5 64.3h0M448.7 65.7h0M449.4 57.8h0M444.9 63.4h0" stroke="#4070b8" stroke-width="2.90" stroke-linecap="round"/>
<path d="M442.0 64.8h0M448.0 59.2h0M438.1 56.8h0M441.9 54.5h0M449.1 61.3h0M441.3 64.7h0M446.0 62.3h0M449.1 54.9h0M450.2 54.4h0M439.4 55.8h0M440.9 66.5h0M449.5 56.9h0M438.6 64.7h0M442.6 60.9h0M442.3 60.7h0M444.4 64.2h0M449.7 52.5h0M440.4 62.9h0M439.4 56.8h0M446.5 63.0h0M442.6 54.6h0M444.8 56.6h0M447.0 55.4h0M443.3 58.4h0M443.8 65.1h0M447.3 61.2h0M448.7 63.8h0M442.7 56.9h0M442.8 60.9h0M446.9 55.4h0M444.2 63.2h0M443.1 63.4h0M448.3 57.1h0M447.5 63.9h0M446.6 56.0h0" stroke="#3a84c0" stroke-width="2.90" stroke-linecap="round"/>
<path d="M449.5 46.6h0M446.0 50.0h0M451.0 52.0h0" stroke="#3a80c0" stroke-width="2.90" stroke-linecap="round"/>
<path d="M460.0 61.2h0M452.2 64.9h0M451.8 58.5h0M455.3 61.4h0M459.5 63.6h0M457.5 59.8h0M458.4 60.4h0M450.9 63.3h0M452.7 55.1h0M451.8 61.1h0M451.9 61.8h0M462.5 55.5h0M453.7 58.9h0" stroke="#4a68b0" stroke-width="2.90" stroke-linecap="round"/>
<path d="M452.0 110.4h0M452.8 105.5h0M436.7 108.5h0M452.6 107.0h0M444.0 111.5h0M452.4 105.6h0M448.9 100.5h0M446.5 104.7h0M442.5 103.3h0M456.6 94.8h0M456.7 106.6h0M449.7 92.9h0M449.4 111.7h0M452.2 92.3h0M449.3 101.3h0M459.5 93.4h0M449.3 96.4h0M445.5 92.1h0M442.9 111.4h0M459.3 108.3h0M454.9 102.3h0M431.7 109.8h0M443.7 111.0h0M446.0 102.6h0M448.3 104.3h0M450.6 110.1h0M438.5 101.6h0M447.8 106.7h0M451.1 103.9h0M459.7 105.5h0M453.1 103.9h0M441.8 109.1h0M446.8 106.9h0M457.8 91.7h0M443.4 94.5h0M448.0 94.9h0M452.7 97.3h0M453.4 101.8h0M448.3 94.7h0M432.3 103.7h0M445.2 94.1h0M441.0 109.6h0M444.6 93.3h0M451.0 92.0h0M433.5 100.1h0M455.6 100.0h0M440.7 105.9h0M435.0 90.7h0M459.2 99.7h0M450.3 104.7h0M436.6 100.9h0M441.7 104.9h0M437.7 103.8h0M459.5 109.5h0M442.6 106.9h0M447.9 91.2h0M434.4 96.6h0M459.0 98.5h0M448.0 99.1h0" stroke="#4aa8b0" stroke-width="2.90" stroke-linecap="round"/>
<path d="M450.6 106.0h0M458.9 94.3h0M443.3 101.0h0M435.1 102.9h0M453.4 96.1h0M454.7 93.7h0M457.0 96.4h0M432.5 106.4h0M440.7 107.9h0M437.4 110.1h0M452.0 99.4h0M443.2 96.3h0M446.7 108.0h0M453.5 98.4h0M454.1 90.1h0M440.3 104.3h0M446.9 101.7h0M446.0 95.5h0M459.6 106.9h0M457.8 104.7h0M435.6 111.3h0M449.7 103.9h0M432.1 101.9h0M432.0 93.8h0M431.4 106.7h0M432.5 91.5h0M452.2 105.8h0M444.4 111.6h0M448.0 93.7h0M449.5 111.5h0M437.8 100.2h0M458.4 93.3h0M453.6 94.3h0M434.5 111.8h0M431.8 96.7h0M439.3 107.2h0M448.7 97.5h0M454.8 96.7h0M443.7 108.4h0M450.3 109.6h0M456.4 104.5h0M445.8 104.6h0M434.0 110.7h0M440.3 94.0h0M446.4 101.7h0M456.2 102.2h0M451.0 92.1h0M439.7 92.7h0M438.7 91.9h0M457.4 101.3h0M439.3 96.8h0M441.5 93.5h0M450.7 95.1h0M457.0 98.6h0M439.9 111.4h0M439.6 97.0h0M452.3 98.7h0M444.3 110.3h0M436.9 100.3h0M443.8 92.8h0M433.8 105.0h0" stroke="#52b0ac" stroke-width="2.90" stroke-linecap="round"/>
<path d="M455.3 100.9h0M434.6 107.8h0M458.6 102.4h0M447.5 97.7h0M460.0 104.6h0M437.4 90.8h0M435.4 102.7h0M440.5 96.6h0M439.9 91.3h0M459.8 93.8h0M446.3 100.1h0M431.2 97.7h0M451.6 95.2h0M437.6 95.9h0M452.3 103.3h0M437.0 106.3h0M443.6 90.3h0M432.8 95.5h0M439.1 106.1h0M446.8 98.9h0M453.2 109.1h0M450.9 98.0h0M456.2 91.1h0M456.9 93.9h0M446.7 110.4h0M436.0 111.6h0M451.4 97.2h0M448.7 104.6h0M458.6 100.3h0M445.4 90.1h0M448.9 95.6h0M449.4 90.2h0M436.9 101.6h0M431.3 101.2h0M448.6 96.3h0M439.9 110.1h0M446.5 106.0h0M443.2 91.0h0M458.5 105.5h0M447.1 97.1h0M441.2 108.2h0M454.0 104.0h0M453.4 96.0h0M433.4 106.2h0M432.0 96.6h0M455.2 100.8h0M444.1 97.7h0M437.8 92.1h0M439.8 106.4h0M434.1 96.9h0M442.6 99.5h0M451.3 94.8h0M433.3 104.3h0M456.5 104.2h0" stroke="#5ab4a8" stroke-width="2.90" stroke-linecap="round"/>
<path d="M437.9 99.0h0M441.9 108.8h0M436.6 103.9h0M436.1 93.0h0M455.4 107.0h0M443.4 100.7h0M440.0 108.8h0M455.3 101.4h0M443.1 93.1h0M437.9 100.7h0M457.4 98.8h0M447.0 104.7h0M434.1 99.1h0M437.6 108.2h0M452.2 111.6h0M436.7 98.2h0M455.1 111.2h0M441.2 97.3h0M445.3 103.5h0M439.1 93.1h0M441.5 102.0h0M451.2 92.6h0M437.9 108.1h0M456.7 100.5h0M435.0 104.6h0M453.4 97.2h0M432.1 96.3h0M432.0 93.7h0M447.7 107.3h0M444.5 111.1h0M447.6 96.3h0M447.6 90.2h0M451.4 109.0h0M442.6 111.0h0M455.3 109.7h0M458.9 102.9h0M453.2 105.5h0M437.7 105.5h0M433.2 106.3h0M445.7 109.0h0M457.8 111.6h0M453.9 95.9h0M453.1 102.9h0M458.1 107.5h0M456.5 90.6h0M442.5 93.0h0M454.1 105.0h0M460.0 105.9h0M447.6 104.0h0M438.6 101.8h0M440.3 96.5h0M442.0 97.7h0M457.5 97.7h0M455.3 100.5h0M456.0 96.1h0M432.7 98.0h0M432.0 108.2h0M445.7 110.0h0M446.2 107.9h0M440.7 99.9h0M437.3 110.7h0M455.4 93.5h0M457.9 91.4h0M451.0 100.8h0M452.7 105.6h0M437.8 101.4h0" stroke="#3c9aaa" stroke-width="2.90" stroke-linecap="round"/>
<path d="M436.2 88.5h0M435.6 107.5h0M436.2 116.3h0M433.3 98.0h0M433.6 90.5h0M436.0 115.5h0M434.8 123.7h0M434.0 110.6h0M436.6 79.9h0M435.6 89.4h0M434.3 111.3h0M436.3 88.0h0M437.2 81.3h0M436.6 115.5h0M436.1 102.8h0M434.1 89.6h0M434.2 121.1h0M435.6 75.8h0M433.5 98.2h0M433.2 97.6h0M434.9 105.9h0M433.0 98.2h0M434.3 76.0h0M435.8 103.7h0M433.5 118.4h0M437.9 76.5h0M435.9 119.2h0M434.6 79.7h0M437.4 102.4h0M433.2 118.2h0M433.3 86.2h0M434.0 85.9h0M434.2 112.3h0M435.8 94.8h0M433.6 86.1h0M435.7 105.9h0M434.6 120.7h0M437.8 119.2h0M436.5 97.9h0M436.8 109.7h0M433.9 85.5h0M433.3 116.0h0M434.1 85.8h0M437.5 100.5h0" stroke="#5a58a8" stroke-width="2.90" stroke-linecap="round"/>
<path d="M433.2 86.2h0M433.1 119.0h0M433.7 81.2h0M437.8 95.3h0M435.3 77.2h0M437.9 100.8h0M433.8 116.0h0M436.9 83.3h0M435.4 83.2h0M438.0 79.0h0M433.2 99.8h0M435.2 97.2h0M437.9 119.4h0M433.8 118.5h0M434.7 111.9h0M437.1 98.9h0M435.2 107.8h0M434.2 117.7h0M437.3 115.8h0M437.1 87.7h0M434.7 97.8h0M435.6 98.5h0M433.1 95.6h0M436.9 109.1h0M437.7 97.1h0M437.9 104.2h0M437.2 104.6h0M434.2 94.1h0M437.4 81.5h0M433.3 113.9h0M437.4 121.1h0M435.1 119.6h0M435.8 82.0h0M434.5 95.9h0" stroke="#4a4ea0" stroke-width="2.90" stroke-linecap="round"/>
<path d="M436.1 111.7h0M433.2 108.2h0M437.5 80.1h0M434.4 121.2h0M435.5 118.3h0M437.5 120.4h0M435.2 95.1h0M433.2 90.2h0M434.1 84.5h0M434.8 90.6h0M435.7 121.0h0M434.9 113.2h0M437.4 77.4h0M435.7 102.6h0M437.9 83.6h0M436.5 115.0h0M434.8 120.2h0M436.6 92.4h0M433.4 75.6h0M434.6 112.9h0M433.2 118.4h0M436.4 98.9h0M433.1 102.2h0M435.1 103.4h0M435.3 81.1h0M436.5 112.1h0M435.6 112.3h0M434.1 95.3h0M434.5 81.1h0M437.3 94.9h0M434.9 92.5h0M437.4 104.1h0" stroke="#5060b0" stroke-width="2.90" stroke-linecap="round"/>
<path d="M434.5 130.0h0M435.0 134.0h0M436.0 139.0h0M435.0 144.0h0M435.5 150.0h0M436.0 154.0h0M435.0 157.0h0M434.0 169.0h0" stroke="#4a5aa8" stroke-width="2.90" stroke-linecap="round"/>
<path d="M435.0 73.0h0M435.0 76.5h0M442.8 73.0h0M442.8 76.5h0M446.0 82.0h0M444.0 95.0h0" stroke="#4a58a8" stroke-width="2.90" stroke-linecap="round"/>
<circle cx="286.0" cy="40.0" r="1.5" fill="none" stroke="#555" stroke-width="0.55"/>
<circle cx="290.0" cy="41.0" r="1.5" fill="none" stroke="#555" stroke-width="0.55"/>
<circle cx="308.0" cy="40.0" r="1.5" fill="none" stroke="#555" stroke-width="0.55"/>
<circle cx="314.0" cy="40.0" r="1.5" fill="none" stroke="#555" stroke-width="0.55"/>
<circle cx="312.0" cy="43.0" r="1.5" fill="none" stroke="#555" stroke-width="0.55"/>
<circle cx="318.0" cy="49.0" r="1.5" fill="none" stroke="#555" stroke-width="0.55"/>
<circle cx="313.0" cy="53.0" r="1.5" fill="none" stroke="#555" stroke-width="0.55"/>
<circle cx="297.0" cy="51.0" r="1.5" fill="none" stroke="#555" stroke-width="0.55"/>
<circle cx="340.0" cy="40.0" r="1.5" fill="none" stroke="#555" stroke-width="0.55"/>
<circle cx="330.0" cy="49.0" r="1.5" fill="none" stroke="#555" stroke-width="0.55"/>
<circle cx="336.0" cy="52.0" r="1.5" fill="none" stroke="#555" stroke-width="0.55"/>
<circle cx="293.0" cy="67.5" r="1.5" fill="none" stroke="#555" stroke-width="0.55"/>
<circle cx="300.0" cy="67.5" r="1.5" fill="none" stroke="#555" stroke-width="0.55"/>
<circle cx="304.0" cy="67.0" r="1.5" fill="none" stroke="#555" stroke-width="0.55"/>
<circle cx="316.0" cy="67.5" r="1.5" fill="none" stroke="#555" stroke-width="0.55"/>
<circle cx="327.0" cy="68.0" r="1.5" fill="none" stroke="#555" stroke-width="0.55"/>
<circle cx="335.0" cy="67.0" r="1.5" fill="none" stroke="#555" stroke-width="0.55"/>
<circle cx="345.0" cy="68.0" r="1.5" fill="none" stroke="#555" stroke-width="0.55"/>
<circle cx="307.5" cy="98.3" r="1.5" fill="none" stroke="#555" stroke-width="0.55"/>
<circle cx="313.0" cy="98.0" r="1.5" fill="none" stroke="#555" stroke-width="0.55"/>
<circle cx="319.0" cy="99.0" r="1.5" fill="none" stroke="#555" stroke-width="0.55"/>
<circle cx="320.5" cy="99.0" r="1.5" fill="none" stroke="#555" stroke-width="0.55"/>
<circle cx="321.0" cy="101.0" r="1.5" fill="none" stroke="#555" stroke-width="0.55"/>
<circle cx="325.0" cy="105.0" r="1.5" fill="none" stroke="#555" stroke-width="0.55"/>
<circle cx="336.0" cy="99.0" r="1.5" fill="none" stroke="#555" stroke-width="0.55"/>
<circle cx="350.0" cy="99.0" r="1.5" fill="none" stroke="#555" stroke-width="0.55"/>
<circle cx="353.0" cy="101.0" r="1.5" fill="none" stroke="#555" stroke-width="0.55"/>
<circle cx="356.0" cy="100.0" r="1.5" fill="none" stroke="#555" stroke-width="0.55"/>
<circle cx="360.0" cy="101.0" r="1.5" fill="none" stroke="#555" stroke-width="0.55"/>
<circle cx="368.0" cy="95.0" r="1.5" fill="none" stroke="#555" stroke-width="0.55"/>
<circle cx="374.0" cy="97.0" r="1.5" fill="none" stroke="#555" stroke-width="0.55"/>
<circle cx="370.0" cy="101.0" r="1.5" fill="none" stroke="#555" stroke-width="0.55"/>
<circle cx="375.0" cy="102.0" r="1.5" fill="none" stroke="#555" stroke-width="0.55"/>
<circle cx="377.0" cy="102.0" r="1.5" fill="none" stroke="#555" stroke-width="0.55"/>
<circle cx="384.0" cy="103.0" r="1.5" fill="none" stroke="#555" stroke-width="0.55"/>
<circle cx="373.0" cy="122.0" r="1.5" fill="none" stroke="#555" stroke-width="0.55"/>
<circle cx="376.0" cy="123.0" r="1.5" fill="none" stroke="#555" stroke-width="0.55"/>
<circle cx="379.0" cy="124.0" r="1.5" fill="none" stroke="#555" stroke-width="0.55"/>
<circle cx="382.0" cy="124.0" r="1.5" fill="none" stroke="#555" stroke-width="0.55"/>
<circle cx="385.0" cy="125.0" r="1.5" fill="none" stroke="#555" stroke-width="0.55"/>
<circle cx="382.0" cy="118.0" r="1.5" fill="none" stroke="#555" stroke-width="0.55"/>
<circle cx="440.0" cy="97.0" r="1.5" fill="none" stroke="#555" stroke-width="0.55"/>
<circle cx="445.0" cy="99.0" r="1.5" fill="none" stroke="#555" stroke-width="0.55"/>
<circle cx="450.0" cy="101.0" r="1.5" fill="none" stroke="#555" stroke-width="0.55"/>
<circle cx="455.0" cy="99.0" r="1.5" fill="none" stroke="#555" stroke-width="0.55"/>
<circle cx="458.0" cy="97.0" r="1.5" fill="none" stroke="#555" stroke-width="0.55"/>
<circle cx="447.0" cy="66.0" r="1.5" fill="none" stroke="#555" stroke-width="0.55"/>
<circle cx="443.0" cy="70.0" r="1.5" fill="none" stroke="#555" stroke-width="0.55"/>
<circle cx="420.0" cy="100.0" r="1.5" fill="none" stroke="#555" stroke-width="0.55"/>
<circle cx="436.0" cy="90.0" r="1.5" fill="none" stroke="#555" stroke-width="0.55"/>
<circle cx="458.0" cy="78.0" r="1.5" fill="none" stroke="#555" stroke-width="0.55"/>
<circle cx="362.0" cy="45.0" r="1.5" fill="none" stroke="#555" stroke-width="0.55"/>
<circle cx="362.4" cy="58.9" r="1.5" fill="none" stroke="#555" stroke-width="0.5"/>
<circle cx="359.8" cy="42.6" r="1.5" fill="none" stroke="#555" stroke-width="0.5"/>
<circle cx="354.0" cy="57.8" r="1.5" fill="none" stroke="#555" stroke-width="0.5"/>
<circle cx="365.5" cy="49.4" r="1.5" fill="none" stroke="#555" stroke-width="0.5"/>
<circle cx="364.5" cy="59.1" r="1.5" fill="none" stroke="#555" stroke-width="0.5"/>
<circle cx="357.1" cy="56.2" r="1.5" fill="none" stroke="#555" stroke-width="0.5"/>
<circle cx="363.1" cy="54.4" r="1.5" fill="none" stroke="#555" stroke-width="0.5"/>
<circle cx="356.0" cy="42.0" r="1.5" fill="none" stroke="#555" stroke-width="0.5"/>
<circle cx="357.3" cy="46.4" r="1.5" fill="none" stroke="#555" stroke-width="0.5"/>
<circle cx="359.8" cy="48.1" r="1.5" fill="none" stroke="#555" stroke-width="0.5"/>
<circle cx="358.2" cy="47.3" r="1.5" fill="none" stroke="#555" stroke-width="0.5"/>
<circle cx="354.8" cy="46.6" r="1.5" fill="none" stroke="#555" stroke-width="0.5"/>
<circle cx="361.7" cy="46.6" r="1.5" fill="none" stroke="#555" stroke-width="0.5"/>
<circle cx="364.6" cy="58.4" r="1.5" fill="none" stroke="#555" stroke-width="0.5"/>
<path d="M297.0,107.0H300.0M298.5,105.5V108.5" stroke="#111" stroke-width="0.9"/>
<circle cx="298.5" cy="107.0" r="0.75" fill="#111"/>
<path d="M319.5,104.5H322.5M321.0,103.0V106.0" stroke="#111" stroke-width="0.9"/>
<circle cx="321.0" cy="104.5" r="0.75" fill="#111"/>
<path d="M339.0,106.0H342.0M340.5,104.5V107.5" stroke="#111" stroke-width="0.9"/>
<circle cx="340.5" cy="106.0" r="0.75" fill="#111"/>
<path d="M355.5,110.0H358.5M357.0,108.5V111.5" stroke="#111" stroke-width="0.9"/>
<circle cx="357.0" cy="110.0" r="0.75" fill="#111"/>
<path d="M360.5,113.0H363.5M362.0,111.5V114.5" stroke="#111" stroke-width="0.9"/>
<circle cx="362.0" cy="113.0" r="0.75" fill="#111"/>
<path d="M358.5,116.0H361.5M360.0,114.5V117.5" stroke="#111" stroke-width="0.9"/>
<circle cx="360.0" cy="116.0" r="0.75" fill="#111"/>
<path d="M361.5,116.5H364.5M363.0,115.0V118.0" stroke="#111" stroke-width="0.9"/>
<circle cx="363.0" cy="116.5" r="0.75" fill="#111"/>
<path d="M369.5,115.0H372.5M371.0,113.5V116.5" stroke="#111" stroke-width="0.9"/>
<circle cx="371.0" cy="115.0" r="0.75" fill="#111"/>
<path d="M369.5,120.0H372.5M371.0,118.5V121.5" stroke="#111" stroke-width="0.9"/>
<circle cx="371.0" cy="120.0" r="0.75" fill="#111"/>
<path d="M370.0,124.0H373.0M371.5,122.5V125.5" stroke="#111" stroke-width="0.9"/>
<circle cx="371.5" cy="124.0" r="0.75" fill="#111"/>
<path d="M394.0,133.0H397.0M395.5,131.5V134.5" stroke="#111" stroke-width="0.9"/>
<circle cx="395.5" cy="133.0" r="0.75" fill="#111"/>
<path d="M407.5,125.5H410.5M409.0,124.0V127.0" stroke="#111" stroke-width="0.9"/>
<circle cx="409.0" cy="125.5" r="0.75" fill="#111"/>
<path d="M406.5,131.5H409.5M408.0,130.0V133.0" stroke="#111" stroke-width="0.9"/>
<circle cx="408.0" cy="131.5" r="0.75" fill="#111"/>
<path d="M427.5,137.5H430.5M429.0,136.0V139.0" stroke="#111" stroke-width="0.9"/>
<circle cx="429.0" cy="137.5" r="0.75" fill="#111"/>
<path d="M432.5,134.0H435.5M434.0,132.5V135.5" stroke="#111" stroke-width="0.9"/>
<circle cx="434.0" cy="134.0" r="0.75" fill="#111"/>
<path d="M437.5,135.0H440.5M439.0,133.5V136.5" stroke="#111" stroke-width="0.9"/>
<circle cx="439.0" cy="135.0" r="0.75" fill="#111"/>
<path d="M443.5,135.5H446.5M445.0,134.0V137.0" stroke="#111" stroke-width="0.9"/>
<circle cx="445.0" cy="135.5" r="0.75" fill="#111"/>
<path d="M447.5,143.5H450.5M449.0,142.0V145.0" stroke="#111" stroke-width="0.9"/>
<circle cx="449.0" cy="143.5" r="0.75" fill="#111"/>
<rect x="297.2" y="18.2" width="2.6" height="2.6" fill="#9400a8"/>
<rect x="319.6" y="21.2" width="2.6" height="2.6" fill="#9400a8"/>
<rect x="339.2" y="25.2" width="2.6" height="2.6" fill="#9400a8"/>
<rect x="348.5" y="34.0" width="2.6" height="2.6" fill="#9400a8"/>
<rect x="355.0" y="34.5" width="2.6" height="2.6" fill="#9400a8"/>
<rect x="359.7" y="27.2" width="2.6" height="2.6" fill="#9400a8"/>
<rect x="369.7" y="40.1" width="2.6" height="2.6" fill="#9400a8"/>
<rect x="407.7" y="125.7" width="2.6" height="2.6" fill="#9400a8"/>
<rect x="406.7" y="131.7" width="2.6" height="2.6" fill="#9400a8"/>
<rect x="427.7" y="137.7" width="2.6" height="2.6" fill="#9400a8"/>
<rect x="432.7" y="133.7" width="2.6" height="2.6" fill="#9400a8"/>
<rect x="437.7" y="132.7" width="2.6" height="2.6" fill="#9400a8"/>
<rect x="443.7" y="133.2" width="2.6" height="2.6" fill="#9400a8"/>
<rect x="447.7" y="143.7" width="2.6" height="2.6" fill="#9400a8"/>
<line x1="31.60" y1="216.20" x2="500.00" y2="216.20" stroke="#f0f0f0" stroke-width="0.8"/>
<text x="30.00" y="216.20" font-size="6.6" text-anchor="end" fill="#444" font-weight="normal" dominant-baseline="central">1000</text>
<line x1="31.60" y1="231.20" x2="500.00" y2="231.20" stroke="#f0f0f0" stroke-width="0.8"/>
<text x="30.00" y="231.20" font-size="6.6" text-anchor="end" fill="#444" font-weight="normal" dominant-baseline="central">500</text>
<text x="30.00" y="246.20" font-size="6.6" text-anchor="end" fill="#444" font-weight="normal" dominant-baseline="central">0</text>
<line x1="102.51" y1="213.00" x2="102.51" y2="246.50" stroke="#f0f0f0" stroke-width="0.8"/>
<line x1="174.82" y1="213.00" x2="174.82" y2="246.50" stroke="#f0f0f0" stroke-width="0.8"/>
<line x1="247.13" y1="213.00" x2="247.13" y2="246.50" stroke="#f0f0f0" stroke-width="0.8"/>
<line x1="319.44" y1="213.00" x2="319.44" y2="246.50" stroke="#f0f0f0" stroke-width="0.8"/>
<line x1="391.75" y1="213.00" x2="391.75" y2="246.50" stroke="#f0f0f0" stroke-width="0.8"/>
<line x1="464.06" y1="213.00" x2="464.06" y2="246.50" stroke="#f0f0f0" stroke-width="0.8"/>
<line x1="31.60" y1="246.60" x2="500.00" y2="246.60" stroke="#bbb" stroke-width="0.7"/>
<text x="30.20" y="254.40" font-size="6.6" text-anchor="middle" fill="#444" font-weight="normal" dominant-baseline="central">Dec 25 2022</text>
<text x="102.51" y="254.40" font-size="6.6" text-anchor="middle" fill="#444" font-weight="normal" dominant-baseline="central">Jan 01 2023</text>
<text x="174.82" y="254.40" font-size="6.6" text-anchor="middle" fill="#444" font-weight="normal" dominant-baseline="central">Jan 08 2023</text>
<text x="247.13" y="254.40" font-size="6.6" text-anchor="middle" fill="#444" font-weight="normal" dominant-baseline="central">Jan 15 2023</text>
<text x="319.44" y="254.40" font-size="6.6" text-anchor="middle" fill="#444" font-weight="normal" dominant-baseline="central">Jan 22 2023</text>
<text x="391.75" y="254.40" font-size="6.6" text-anchor="middle" fill="#444" font-weight="normal" dominant-baseline="central">Jan 29 2023</text>
<text x="464.06" y="254.40" font-size="6.6" text-anchor="middle" fill="#444" font-weight="normal" dominant-baseline="central">Feb 05 2023</text>
<text x="10.60" y="228.20" font-size="7.2" text-anchor="middle" fill="#444" font-weight="normal" dominant-baseline="central" transform="rotate(-90 10.6 228.2)">Q (mL s<tspan font-size="4.5" dy="-2">-1</tspan><tspan dy="2">)</tspan></text>
<text x="10.60" y="205.80" font-size="7.4" text-anchor="middle" fill="#222" font-weight="bold" dominant-baseline="central">b)</text>
<polyline points="32.0,245.6 50.0,245.3" fill="none" stroke="#cccccc" stroke-width="2.0" stroke-linecap="round" stroke-linejoin="round"/>
<polyline points="104.0,245.5 162.0,245.4" fill="none" stroke="#cccccc" stroke-width="2.0" stroke-linecap="round" stroke-linejoin="round"/>
<polyline points="217.0,245.4 234.0,245.3" fill="none" stroke="#cccccc" stroke-width="2.0" stroke-linecap="round" stroke-linejoin="round"/>
<polyline points="290.0,245.6 304.0,245.5" fill="none" stroke="#d4d4d4" stroke-width="2.6" stroke-linecap="round" stroke-linejoin="round"/>
<polyline points="352.0,245.2 412.0,244.8" fill="none" stroke="#d4d4d4" stroke-width="2.6" stroke-linecap="round" stroke-linejoin="round"/>
<polyline points="50.0,245.6 60.5,245.6" fill="none" stroke="#ee1111" stroke-width="2.4" stroke-linecap="round" stroke-linejoin="round"/>
<polyline points="60.5,245.6 71.0,244.8" fill="none" stroke="#f5a000" stroke-width="2.4" stroke-linecap="round" stroke-linejoin="round"/>
<polyline points="71.0,244.8 75.0,244.3 79.0,244.5 82.0,245.1" fill="none" stroke="#138a13" stroke-width="2.4" stroke-linecap="round" stroke-linejoin="round"/>
<polyline points="82.0,245.1 86.0,245.2 89.0,244.3 91.0,244.6" fill="none" stroke="#1010ee" stroke-width="2.4" stroke-linecap="round" stroke-linejoin="round"/>
<polyline points="91.0,244.6 97.0,245.0 103.0,245.3" fill="none" stroke="#7a108a" stroke-width="2.4" stroke-linecap="round" stroke-linejoin="round"/>
<polyline points="164.0,245.5 173.7,245.4" fill="none" stroke="#ee1111" stroke-width="2.4" stroke-linecap="round" stroke-linejoin="round"/>
<polyline points="173.7,245.4 183.7,244.3" fill="none" stroke="#f5a000" stroke-width="2.4" stroke-linecap="round" stroke-linejoin="round"/>
<polyline points="183.7,244.3 187.0,242.8 190.0,243.4 195.0,245.2" fill="none" stroke="#138a13" stroke-width="2.4" stroke-linecap="round" stroke-linejoin="round"/>
<polyline points="195.0,245.2 205.0,245.3" fill="none" stroke="#1010ee" stroke-width="2.4" stroke-linecap="round" stroke-linejoin="round"/>
<polyline points="205.0,245.3 216.0,245.0" fill="none" stroke="#7a108a" stroke-width="2.4" stroke-linecap="round" stroke-linejoin="round"/>
<polyline points="235.0,245.6 245.0,244.7" fill="none" stroke="#ee1111" stroke-width="2.4" stroke-linecap="round" stroke-linejoin="round"/>
<polyline points="245.0,244.7 249.0,243.8 252.0,244.3 257.0,245.1" fill="none" stroke="#f5a000" stroke-width="2.4" stroke-linecap="round" stroke-linejoin="round"/>
<polyline points="257.0,245.1 261.0,242.5 264.0,240.0 267.0,238.8" fill="none" stroke="#138a13" stroke-width="2.4" stroke-linecap="round" stroke-linejoin="round"/>
<polyline points="267.0,238.8 270.0,240.8 274.0,241.3 277.0,241.0" fill="none" stroke="#1010ee" stroke-width="2.4" stroke-linecap="round" stroke-linejoin="round"/>
<polyline points="277.0,241.0 281.0,241.8 285.0,243.6 289.0,245.2" fill="none" stroke="#7a108a" stroke-width="2.4" stroke-linecap="round" stroke-linejoin="round"/>
<polyline points="421.6,244.3 431.4,244.1" fill="none" stroke="#ee1111" stroke-width="2.4" stroke-linecap="round" stroke-linejoin="round"/>
<polyline points="431.4,244.1 442.6,243.2" fill="none" stroke="#f5a000" stroke-width="2.4" stroke-linecap="round" stroke-linejoin="round"/>
<polyline points="442.6,243.2 445.0,239.5 449.0,237.2 452.4,235.5" fill="none" stroke="#138a13" stroke-width="2.4" stroke-linecap="round" stroke-linejoin="round"/>
<polyline points="452.4,235.5 458.0,230.5 462.0,226.0 464.3,223.0" fill="none" stroke="#1010ee" stroke-width="2.4" stroke-linecap="round" stroke-linejoin="round"/>
<polyline points="464.3,223.0 466.5,220.3 469.0,219.5 474.8,219.7" fill="none" stroke="#7a108a" stroke-width="2.4" stroke-linecap="round" stroke-linejoin="round"/>
<polyline points="474.8,219.7 485.0,222.0 500.0,224.6" fill="none" stroke="#cccccc" stroke-width="2.2" stroke-linecap="round" stroke-linejoin="round"/>
<line x1="68.4" y1="253.2" x2="68.4" y2="263" stroke="#333" stroke-width="0.9"/>
<path d="M66.0,262.3 L70.8,262.3 L68.4,266.4 Z" fill="#222"/>
<text x="30.30" y="273.40" font-size="6.9" text-anchor="start" fill="#444" font-weight="normal" dominant-baseline="central">Chemostatic over</text>
<text x="30.30" y="281.00" font-size="6.9" text-anchor="start" fill="#444" font-weight="normal" dominant-baseline="central">hydrological event</text>
<line x1="199.5" y1="253.2" x2="199.5" y2="263" stroke="#333" stroke-width="0.9"/>
<path d="M197.1,262.3 L201.9,262.3 L199.5,266.4 Z" fill="#222"/>
<text x="154.90" y="273.40" font-size="6.9" text-anchor="start" fill="#444" font-weight="normal" dominant-baseline="central">Chemostatic over</text>
<text x="154.90" y="281.00" font-size="6.9" text-anchor="start" fill="#444" font-weight="normal" dominant-baseline="central">hydrological event</text>
<line x1="285.1" y1="253.2" x2="285.1" y2="263" stroke="#333" stroke-width="0.9"/>
<path d="M282.7,262.3 L287.5,262.3 L285.1,266.4 Z" fill="#222"/>
<text x="280.90" y="273.40" font-size="6.9" text-anchor="start" fill="#444" font-weight="normal" dominant-baseline="central">Connecting pools with</text>
<text x="280.90" y="281.00" font-size="6.9" text-anchor="start" fill="#444" font-weight="normal" dominant-baseline="central">high pollution potential</text>
<line x1="432.8" y1="253.2" x2="432.8" y2="263" stroke="#333" stroke-width="0.9"/>
<path d="M430.4,262.3 L435.2,262.3 L432.8,266.4 Z" fill="#222"/>
<text x="399.20" y="273.40" font-size="6.9" text-anchor="start" fill="#444" font-weight="normal" dominant-baseline="central">Mobilization and eventual</text>
<text x="399.20" y="281.00" font-size="6.9" text-anchor="start" fill="#444" font-weight="normal" dominant-baseline="central">beginning of dilution</text>
<line x1="31.50" y1="292.50" x2="117.70" y2="292.50" stroke="#f0f0f0" stroke-width="0.8"/>
<text x="30.50" y="292.50" font-size="6.6" text-anchor="end" fill="#444" font-weight="normal" dominant-baseline="central">10</text>
<line x1="31.50" y1="299.05" x2="117.70" y2="299.05" stroke="#f0f0f0" stroke-width="0.8"/>
<text x="30.50" y="299.05" font-size="5.2" text-anchor="end" fill="#666" font-weight="normal" dominant-baseline="central">5</text>
<line x1="31.50" y1="307.70" x2="117.70" y2="307.70" stroke="#f0f0f0" stroke-width="0.8"/>
<text x="30.50" y="307.70" font-size="5.2" text-anchor="end" fill="#666" font-weight="normal" dominant-baseline="central">2</text>
<line x1="31.50" y1="314.25" x2="117.70" y2="314.25" stroke="#f0f0f0" stroke-width="0.8"/>
<text x="30.50" y="314.25" font-size="6.6" text-anchor="end" fill="#444" font-weight="normal" dominant-baseline="central">1</text>
<line x1="31.50" y1="320.80" x2="117.70" y2="320.80" stroke="#f0f0f0" stroke-width="0.8"/>
<text x="30.50" y="320.80" font-size="5.2" text-anchor="end" fill="#666" font-weight="normal" dominant-baseline="central">5</text>
<line x1="31.50" y1="329.45" x2="117.70" y2="329.45" stroke="#f0f0f0" stroke-width="0.8"/>
<text x="30.50" y="329.45" font-size="5.2" text-anchor="end" fill="#666" font-weight="normal" dominant-baseline="central">2</text>
<line x1="31.50" y1="336.00" x2="117.70" y2="336.00" stroke="#f0f0f0" stroke-width="0.8"/>
<text x="30.50" y="336.00" font-size="6.6" text-anchor="end" fill="#444" font-weight="normal" dominant-baseline="central">0.1</text>
<line x1="31.50" y1="342.55" x2="117.70" y2="342.55" stroke="#f0f0f0" stroke-width="0.8"/>
<text x="30.50" y="342.55" font-size="5.2" text-anchor="end" fill="#666" font-weight="normal" dominant-baseline="central">5</text>
<line x1="31.50" y1="351.20" x2="117.70" y2="351.20" stroke="#f0f0f0" stroke-width="0.8"/>
<text x="30.50" y="351.20" font-size="5.2" text-anchor="end" fill="#666" font-weight="normal" dominant-baseline="central">2</text>
<line x1="31.50" y1="357.75" x2="117.70" y2="357.75" stroke="#f0f0f0" stroke-width="0.8"/>
<text x="30.50" y="357.75" font-size="6.6" text-anchor="end" fill="#444" font-weight="normal" dominant-baseline="central">0.01</text>
<line x1="31.50" y1="364.30" x2="117.70" y2="364.30" stroke="#f0f0f0" stroke-width="0.8"/>
<text x="30.50" y="364.30" font-size="5.2" text-anchor="end" fill="#666" font-weight="normal" dominant-baseline="central">5</text>
<line x1="35.30" y1="288.00" x2="35.30" y2="366.00" stroke="#f0f0f0" stroke-width="0.8"/>
<text x="35.30" y="372.40" font-size="6.6" text-anchor="middle" fill="#444" font-weight="normal" dominant-baseline="central">10</text>
<line x1="47.70" y1="288.00" x2="47.70" y2="366.00" stroke="#f0f0f0" stroke-width="0.8"/>
<text x="47.70" y="371.50" font-size="5.2" text-anchor="middle" fill="#666" font-weight="normal" dominant-baseline="central">2</text>
<line x1="64.10" y1="288.00" x2="64.10" y2="366.00" stroke="#f0f0f0" stroke-width="0.8"/>
<text x="64.10" y="371.50" font-size="5.2" text-anchor="middle" fill="#666" font-weight="normal" dominant-baseline="central">5</text>
<line x1="76.50" y1="288.00" x2="76.50" y2="366.00" stroke="#f0f0f0" stroke-width="0.8"/>
<text x="76.50" y="372.40" font-size="6.6" text-anchor="middle" fill="#444" font-weight="normal" dominant-baseline="central">100</text>
<line x1="88.90" y1="288.00" x2="88.90" y2="366.00" stroke="#f0f0f0" stroke-width="0.8"/>
<text x="88.90" y="371.50" font-size="5.2" text-anchor="middle" fill="#666" font-weight="normal" dominant-baseline="central">2</text>
<line x1="105.30" y1="288.00" x2="105.30" y2="366.00" stroke="#f0f0f0" stroke-width="0.8"/>
<text x="105.30" y="371.50" font-size="5.2" text-anchor="middle" fill="#666" font-weight="normal" dominant-baseline="central">5</text>
<text x="117.70" y="372.40" font-size="6.6" text-anchor="middle" fill="#444" font-weight="normal" dominant-baseline="central">1000</text>
<text x="75.00" y="381.00" font-size="7.2" text-anchor="middle" fill="#444" font-weight="normal" dominant-baseline="central">Q (mL s<tspan font-size="4.5" dy="-2">-1</tspan><tspan dy="2">)</tspan></text>
<text x="9.20" y="326.80" font-size="8.6" text-anchor="middle" fill="#444" font-weight="normal" dominant-baseline="central" transform="rotate(-90 9.2 326.8)">Cd (mg L<tspan font-size="5" dy="-2.4">-1</tspan><tspan dy="2.4">)</tspan></text>
<path id="gray" d="M61.2 298.0h0M60.0 296.9h0M35.6 296.4h0M61.4 296.2h0M59.0 295.7h0M44.6 297.5h0M59.8 296.0h0M37.7 298.4h0M58.4 296.4h0M57.9 298.9h0M52.6 296.7h0M61.5 297.5h0M55.7 298.1h0M57.4 297.7h0M60.1 296.3h0M51.8 296.2h0M57.8 295.3h0M56.7 295.7h0M43.1 297.7h0M44.8 296.2h0M57.2 296.2h0M32.8 297.9h0M53.0 295.7h0M52.8 296.7h0M57.2 298.2h0M61.4 299.3h0M58.0 298.5h0M41.1 294.9h0M60.4 296.1h0M59.4 295.6h0M50.0 296.9h0M59.0 296.9h0M61.2 296.3h0M39.0 296.9h0M31.8 298.1h0M59.4 297.8h0M59.0 295.9h0M49.0 295.7h0M40.6 295.0h0M59.3 298.0h0M49.9 295.3h0M59.4 295.5h0M59.9 298.7h0M60.0 295.8h0M45.9 296.5h0M56.7 297.7h0M61.6 299.5h0M50.0 296.2h0M57.1 296.8h0M47.7 295.1h0M59.1 296.2h0M59.5 297.5h0M56.7 297.4h0M60.0 298.2h0M39.4 295.0h0M32.2 296.6h0M61.9 299.0h0M59.3 298.8h0M47.1 295.3h0M35.8 295.9h0M54.0 295.1h0M57.3 296.7h0M52.2 298.4h0M58.6 298.9h0M53.9 295.5h0M32.0 296.1h0M59.4 297.6h0M55.6 295.7h0M49.3 297.9h0M39.5 298.2h0M58.9 295.6h0M61.5 299.5h0M58.5 297.1h0M57.0 295.9h0M44.2 298.5h0M52.3 297.5h0M42.7 294.9h0M57.7 297.8h0M60.1 298.7h0M60.3 298.3h0M59.1 297.0h0M54.5 298.2h0M61.2 299.2h0M35.6 295.4h0M58.2 297.2h0M48.3 298.3h0M60.9 299.8h0M57.5 297.0h0M39.1 297.9h0M49.0 298.0h0M57.7 297.0h0M58.8 297.2h0M58.7 298.3h0M37.0 294.8h0M49.3 299.1h0M60.9 298.7h0M59.6 298.0h0M34.8 298.3h0M58.8 299.1h0M46.8 298.9h0M54.5 297.5h0M51.4 296.2h0M57.8 299.3h0M58.5 297.5h0M59.7 296.3h0M43.8 297.4h0M60.2 297.9h0M57.8 299.2h0M42.7 299.3h0M57.4 302.4h0M58.8 304.5h0M64.5 299.3h0M48.8 292.0h0M32.7 300.3h0M56.4 300.3h0M35.6 295.1h0M51.2 299.8h0M30.8 299.3h0M61.6 305.9h0M66.2 301.3h0M66.2 299.1h0M67.2 306.0h0M65.8 317.4h0M67.6 321.3h0M65.3 318.4h0M65.6 323.2h0M61.7 301.6h0M66.6 318.2h0M63.6 299.5h0M67.0 317.9h0M67.7 324.8h0M61.0 304.7h0M62.7 316.9h0M67.1 324.2h0M69.7 323.5h0M66.1 311.7h0M67.5 303.4h0M62.6 302.1h0M63.6 311.4h0M64.6 305.7h0M62.7 296.5h0M67.3 324.9h0M63.5 312.4h0M65.5 308.5h0M66.0 323.5h0M64.5 314.4h0M67.2 309.4h0M69.2 325.6h0M65.1 315.8h0M63.0 306.8h0M65.3 313.5h0M61.2 301.6h0M66.3 319.6h0M59.7 301.8h0M64.8 296.9h0M63.7 309.0h0M66.6 309.1h0M66.0 315.1h0M65.8 318.7h0M64.6 302.8h0M62.6 313.0h0M67.3 316.7h0M64.1 317.8h0M66.7 312.1h0M62.5 303.2h0M63.0 301.4h0M62.0 306.5h0M64.7 318.3h0M62.2 302.8h0M60.3 303.1h0M63.9 316.4h0M66.8 302.2h0M65.0 316.8h0M67.4 309.1h0M63.2 312.2h0M61.5 300.1h0M66.3 302.3h0M63.6 303.7h0M63.1 307.0h0M64.8 307.2h0M68.0 321.3h0M60.8 301.6h0M66.0 307.1h0M65.6 312.3h0M65.5 301.4h0M64.3 309.2h0M62.4 309.9h0M63.5 307.1h0M64.1 315.7h0M63.1 306.4h0M64.8 296.6h0M64.6 312.7h0M65.2 303.8h0M60.5 304.3h0M64.1 301.2h0M59.9 303.3h0M65.8 308.6h0M65.6 301.0h0M65.2 310.9h0M63.8 298.9h0M64.7 315.8h0M64.7 306.6h0M64.7 296.9h0M63.1 312.5h0M66.1 317.9h0M63.0 304.7h0M67.4 322.8h0M62.5 307.9h0M66.9 310.6h0M67.1 323.4h0M65.3 313.2h0M65.8 319.7h0M64.2 316.9h0M63.4 299.9h0M60.0 297.4h0M65.8 319.1h0M64.1 297.1h0M66.4 315.7h0M65.6 317.2h0M66.3 324.1h0M66.5 317.4h0M62.2 315.5h0M62.8 316.0h0M61.6 306.1h0M66.2 308.9h0M66.1 322.2h0M65.2 316.7h0M67.3 324.0h0M63.4 299.8h0M66.8 326.4h0M62.1 306.2h0M65.8 304.2h0M65.5 313.4h0M64.8 312.4h0M66.5 304.4h0M65.4 311.8h0M62.7 304.5h0M65.0 298.8h0M67.7 324.0h0M59.2 295.8h0M62.6 308.7h0M65.7 314.9h0M69.2 320.9h0M63.3 307.1h0M65.3 316.9h0M64.7 301.6h0M64.7 298.6h0M64.9 324.6h0M66.8 325.9h0M64.7 320.6h0M66.0 307.6h0M64.4 307.2h0M62.7 304.4h0M64.3 312.2h0M64.6 308.1h0M64.6 311.9h0M60.8 299.8h0M61.9 296.9h0M65.0 309.7h0M64.8 325.2h0M61.4 300.0h0M63.9 307.0h0M65.1 324.6h0M62.6 305.1h0M61.0 305.6h0M63.8 305.8h0M61.3 298.7h0M65.2 308.5h0M67.6 314.0h0M63.7 321.1h0M66.3 306.3h0M63.0 309.1h0M64.7 312.1h0M67.7 307.0h0M65.1 326.7h0M67.1 315.9h0M64.5 301.2h0M61.3 301.0h0M63.1 298.8h0M67.4 319.5h0M65.2 316.6h0M66.6 297.9h0M68.3 324.4h0M63.7 317.4h0M61.8 307.9h0M63.6 302.6h0M61.6 307.8h0M64.5 307.7h0M66.4 323.3h0M66.6 324.3h0M67.2 315.9h0M67.6 322.8h0M66.3 317.5h0M64.9 297.8h0M67.2 317.2h0M65.0 315.2h0M63.5 307.6h0M65.3 307.7h0M67.0 323.9h0M66.6 311.2h0M67.4 311.5h0M66.1 302.4h0M68.5 326.7h0M64.6 301.0h0M60.8 299.6h0M65.3 299.8h0M67.9 322.8h0M63.2 319.9h0M63.5 302.7h0M65.6 323.4h0M65.4 309.6h0M66.0 323.9h0M66.1 309.2h0M67.2 317.1h0M66.8 324.7h0M64.5 298.7h0M63.8 303.2h0M66.3 320.8h0M67.2 320.4h0M67.4 319.5h0M67.0 309.4h0M64.4 299.9h0M65.5 317.0h0M67.1 320.0h0M63.0 307.6h0M66.2 324.1h0M66.8 311.0h0M62.3 298.6h0M64.2 303.4h0M65.8 312.6h0M64.6 315.1h0M63.0 308.6h0M63.4 320.6h0M66.2 322.8h0M63.3 307.6h0M62.0 304.6h0M68.1 309.7h0M65.3 314.5h0M64.8 302.6h0M66.0 310.3h0M65.4 312.8h0M66.2 316.3h0M67.2 309.6h0M66.0 320.7h0M65.0 308.8h0M63.1 305.9h0M63.2 308.2h0M63.9 310.3h0M68.1 311.6h0M65.6 316.5h0M67.7 318.0h0M63.4 307.5h0M65.8 322.5h0M60.8 309.2h0M68.1 326.4h0M64.2 306.3h0M65.2 301.1h0M62.5 311.4h0M68.3 325.9h0M61.5 300.0h0M63.8 307.1h0M62.5 305.1h0M67.3 314.6h0M67.3 324.6h0M64.6 318.3h0M66.9 317.3h0M65.7 326.1h0M65.3 295.7h0M68.2 316.3h0M64.8 320.1h0M66.7 308.3h0M65.5 325.0h0M66.3 320.8h0M66.4 312.3h0M59.4 300.0h0M60.9 301.4h0M64.0 313.3h0M63.4 304.5h0M62.7 306.4h0M59.5 299.0h0M58.5 302.6h0M62.0 301.2h0M60.6 302.2h0M60.1 299.9h0M58.8 300.7h0M58.3 297.1h0M62.5 300.2h0M57.2 299.7h0M61.9 302.2h0M59.2 300.5h0M61.5 299.4h0M58.4 295.9h0M61.9 307.0h0M59.3 302.2h0M61.1 301.5h0M57.5 296.9h0M60.2 302.8h0M59.4 297.0h0M62.0 301.1h0M61.4 303.9h0M58.1 302.9h0M58.9 300.9h0M57.8 296.9h0M60.9 303.2h0M61.3 303.3h0M59.6 303.0h0M62.6 306.9h0M58.3 300.4h0M61.0 298.4h0M60.4 303.0h0M59.9 299.9h0M63.0 302.1h0M63.0 306.3h0M58.1 298.1h0M60.5 300.1h0M60.1 300.5h0M60.1 300.2h0M60.5 300.0h0M57.5 296.8h0M59.6 298.4h0M62.2 303.6h0M61.1 301.9h0M60.5 305.9h0M61.5 303.9h0M59.4 303.0h0M59.2 300.3h0M60.6 301.8h0M61.7 303.7h0M59.3 300.8h0M61.2 304.5h0M62.1 308.6h0M60.2 311.7h0M63.5 315.9h0M68.7 323.1h0M70.6 326.7h0M68.3 325.7h0M57.4 305.5h0M58.3 308.6h0M61.6 319.0h0M64.0 322.1h0M64.9 326.2h0M69.0 334.3h0M92.3 323.1h0M67.5 322.3h0M69.3 324.3h0M67.2 324.7h0M68.1 329.9h0M66.2 323.5h0M66.1 329.6h0M66.5 322.1h0M65.9 324.6h0M68.6 322.3h0M68.2 329.4h0M66.8 328.1h0M67.6 327.2h0M68.9 322.4h0M65.7 329.9h0M66.6 329.9h0M67.1 322.9h0M68.9 323.2h0M65.9 325.9h0M68.5 323.3h0M68.3 330.0h0M67.6 330.2h0M68.4 329.7h0M65.4 326.2h0M67.7 326.0h0M68.7 328.3h0M69.6 322.7h0M66.1 327.0h0M65.5 321.7h0M66.7 329.9h0M69.5 321.9h0M74.4 298.4h0M71.1 300.9h0M70.8 303.2h0M74.6 302.0h0M71.0 301.4h0M74.2 299.2h0M72.6 298.8h0M72.7 300.1h0M70.7 300.1h0M72.8 302.8h0M75.3 302.6h0M70.7 302.3h0M74.7 301.9h0M74.2 302.6h0M73.5 303.3h0M74.1 298.9h0M71.5 302.1h0M72.5 301.0h0M71.4 299.9h0M75.0 299.4h0M73.7 299.6h0M73.9 302.5h0M74.6 302.2h0M72.2 299.2h0M70.8 299.5h0M74.0 302.8h0M74.3 298.8h0M74.2 299.6h0M73.4 299.3h0M70.9 301.6h0M75.1 303.0h0M73.8 297.9h0M73.6 302.9h0M73.7 300.7h0M72.4 298.9h0M70.7 298.8h0M72.6 302.7h0M70.9 298.7h0M73.3 298.7h0M71.9 302.3h0M69.6 301.8h0M70.5 302.4h0M66.7 296.5h0M68.1 304.1h0M64.9 296.2h0M67.7 293.3h0M68.0 299.2h0M69.5 293.4h0M67.1 298.3h0M71.8 300.0h0M69.7 303.4h0M70.0 298.7h0M69.9 298.5h0M70.7 302.2h0M68.8 294.3h0M69.9 297.8h0M66.8 298.5h0M66.7 302.3h0M69.6 298.5h0M67.3 297.1h0M67.3 292.8h0M68.5 302.4h0M67.9 293.8h0M67.3 295.2h0M65.3 300.0h0M66.1 295.2h0M68.6 296.1h0M69.6 293.8h0M66.6 293.7h0M70.3 297.0h0M65.6 296.7h0M70.7 298.0h0M67.8 303.8h0M69.3 302.5h0M66.3 298.9h0M66.7 294.8h0M70.6 294.1h0M68.9 298.7h0M66.7 300.7h0M66.1 297.6h0M66.9 303.7h0M68.9 297.6h0M66.7 296.0h0M65.6 298.5h0M66.5 294.1h0M68.8 296.2h0M64.7 297.1h0M70.2 299.1h0M70.3 298.2h0M65.5 297.8h0M66.2 295.2h0M68.7 302.4h0M69.3 300.1h0M67.6 293.4h0M65.1 296.4h0M69.8 297.5h0M66.1 300.1h0M65.8 298.7h0M66.7 299.5h0M71.7 300.4h0M68.6 294.8h0M70.9 302.3h0M68.8 293.3h0M68.3 299.0h0M68.9 293.8h0M66.9 299.0h0M68.1 300.6h0M70.7 294.0h0M66.9 302.4h0M67.7 299.9h0M67.4 298.3h0M68.4 303.5h0M67.8 295.2h0M66.3 297.6h0M67.9 295.5h0M69.8 303.4h0M71.4 295.5h0M70.6 301.8h0M66.6 298.0h0M70.4 296.3h0M65.6 302.4h0M68.1 298.4h0M68.0 301.1h0M71.5 299.3h0M65.3 301.3h0M71.3 298.3h0M66.7 300.1h0M70.3 300.2h0M68.0 292.4h0M69.9 295.1h0M70.1 293.4h0M68.3 303.4h0M69.4 300.6h0M67.5 301.9h0M69.7 292.9h0M67.7 300.1h0M64.7 298.9h0M67.7 298.3h0M67.3 295.0h0M67.7 302.2h0M68.2 303.5h0M69.9 302.4h0M69.1 297.3h0M70.2 293.9h0M67.3 298.8h0M69.5 299.4h0M70.5 299.4h0M70.6 294.2h0M66.9 302.6h0M71.3 296.8h0M68.6 296.3h0M67.2 295.5h0M66.5 300.4h0M68.3 303.9h0M68.7 300.7h0M69.8 297.1h0M65.4 296.9h0M68.6 302.1h0M66.9 299.1h0M68.0 302.1h0M67.0 301.0h0M71.4 298.4h0M67.6 300.7h0M69.1 294.1h0M66.1 297.7h0M69.3 300.4h0M65.4 302.0h0M69.1 302.3h0M67.0 294.2h0M66.6 299.1h0M69.5 301.3h0M68.2 300.9h0M64.8 299.2h0M68.3 301.1h0M71.6 299.4h0M68.1 300.0h0M70.6 293.9h0M68.4 299.5h0M69.0 302.5h0M70.0 297.5h0M68.0 300.7h0M68.4 303.4h0M69.4 294.8h0M69.5 292.9h0M68.4 293.1h0M71.0 296.4h0M68.0 295.5h0M65.2 296.0h0M65.3 300.0h0M65.7 299.8h0M70.5 297.9h0M70.9 295.4h0M66.4 298.9h0M68.2 297.8h0M68.7 292.9h0M68.6 294.8h0M66.5 300.9h0M66.5 299.6h0M67.2 303.1h0M66.0 300.9h0M69.7 304.4h0M71.6 304.2h0M71.2 301.9h0M69.4 302.2h0M70.7 301.4h0M71.5 304.2h0M70.6 302.7h0M70.9 303.3h0M69.8 301.9h0M68.8 303.2h0M68.9 301.0h0M69.3 302.4h0M69.7 303.3h0M71.2 302.9h0M71.3 304.3h0M69.5 301.3h0M70.5 301.6h0M69.7 302.0h0M66.8 295.7h0M68.3 298.2h0M69.7 293.6h0M65.9 300.8h0M67.8 302.4h0M76.2 311.5h0M71.0 313.1h0M69.7 305.1h0M71.9 313.2h0M75.6 309.9h0M72.1 307.6h0M70.3 304.7h0M75.9 305.4h0M71.0 313.3h0M70.1 306.4h0M73.4 306.8h0M76.2 304.9h0M76.2 306.3h0M70.2 313.6h0M70.1 306.2h0M72.8 311.1h0M70.7 305.3h0M72.2 307.2h0M69.7 307.8h0M72.7 305.7h0M71.9 313.5h0M75.3 311.8h0M71.0 310.8h0M74.6 305.4h0M71.0 310.6h0M70.8 306.3h0M75.3 307.4h0M76.2 304.7h0M71.0 307.4h0M73.6 313.3h0M72.6 313.3h0M71.3 315.9h0M75.9 318.7h0M76.4 312.7h0M70.6 313.7h0M73.2 317.2h0M70.9 313.8h0M76.6 313.8h0M71.9 317.7h0M75.5 315.4h0M76.0 317.6h0M78.2 316.6h0M72.9 313.3h0M72.2 315.2h0M74.6 319.9h0M72.1 315.5h0M74.8 319.4h0M73.8 311.8h0M75.1 318.8h0M71.0 315.9h0M75.3 312.0h0M70.5 319.0h0M74.8 313.5h0M72.0 312.4h0M72.8 319.1h0M75.6 318.7h0M77.8 316.8h0M76.1 315.7h0M76.6 313.5h0M74.3 318.3h0M77.2 312.1h0M70.0 319.6h0M73.5 316.7h0M76.4 314.0h0M73.6 313.8h0M75.7 314.9h0M75.4 316.0h0M69.8 313.1h0M73.6 312.1h0M72.4 316.6h0M71.8 314.7h0M77.2 319.2h0M76.4 315.1h0M75.5 313.0h0M75.2 319.5h0M76.4 339.5h0M74.6 329.2h0M78.4 338.1h0M75.7 323.2h0M80.7 314.3h0M73.5 324.8h0M79.2 336.2h0M76.1 320.5h0M78.5 313.9h0M75.3 324.2h0M75.5 316.1h0M81.4 331.7h0M73.0 322.4h0M78.1 337.5h0M74.7 334.6h0M75.5 322.3h0M75.5 339.6h0M81.2 325.7h0M75.0 331.1h0M79.4 326.0h0M79.6 324.0h0M72.6 336.8h0M77.8 329.2h0M79.7 325.8h0M74.4 330.2h0M80.4 319.5h0M80.1 329.3h0M77.5 322.3h0M79.0 336.9h0M79.6 332.0h0M80.7 320.5h0M81.4 313.9h0M80.3 318.2h0M77.1 317.9h0M74.8 324.6h0M73.7 333.4h0M79.7 315.6h0M72.4 328.9h0M80.6 316.7h0M79.3 317.3h0M74.1 319.0h0M81.0 328.3h0M77.9 339.5h0M75.2 316.7h0M80.4 338.8h0M78.0 328.6h0M78.4 334.3h0M76.2 337.3h0M76.4 322.3h0M73.9 327.4h0M76.1 330.5h0M77.2 324.5h0M74.7 326.6h0M72.8 337.7h0M74.3 331.0h0M74.7 328.7h0M73.3 327.3h0M77.5 315.7h0M77.9 323.7h0M75.8 317.7h0M73.4 324.0h0M75.3 326.9h0M76.1 336.6h0M81.3 315.2h0M76.1 321.2h0M78.1 314.1h0M74.6 317.6h0M78.4 333.2h0M81.2 330.4h0M78.4 319.7h0M78.9 336.1h0M75.7 339.5h0M80.1 327.8h0M81.3 325.1h0M78.7 321.5h0M75.1 323.4h0M81.3 329.3h0M75.1 315.3h0M73.5 327.4h0M73.5 321.1h0M72.9 336.4h0M78.7 337.1h0M81.2 320.5h0M72.7 327.6h0M73.4 326.3h0M80.6 320.2h0M74.5 329.3h0M75.9 325.0h0M77.1 329.8h0M78.9 338.3h0M79.2 323.4h0M78.0 325.7h0M81.5 324.5h0M76.5 320.2h0M79.6 318.0h0M72.5 321.9h0M77.0 330.1h0M74.1 315.9h0M81.7 317.1h0M74.0 337.2h0M75.5 336.2h0M77.8 337.4h0M75.0 314.4h0M78.3 324.1h0M76.1 339.1h0M72.4 325.4h0M78.9 318.0h0M77.1 335.2h0M80.4 314.9h0M78.4 334.6h0M75.7 339.4h0M79.3 320.9h0M79.8 319.7h0M79.4 330.0h0M78.9 330.3h0M77.3 320.7h0M72.4 332.3h0M73.0 335.9h0M77.6 316.7h0M79.2 317.4h0M77.4 328.3h0M80.9 333.6h0M76.5 339.5h0M80.2 314.1h0M75.7 339.0h0M73.2 329.3h0M80.9 334.4h0M77.5 324.8h0M72.5 333.8h0M79.2 336.7h0M74.6 318.8h0M78.5 328.9h0M75.1 320.9h0M74.7 329.3h0M74.4 326.8h0M78.8 336.8h0M79.5 322.4h0M81.0 317.8h0M80.2 321.3h0M80.1 324.8h0M80.0 325.4h0M73.0 324.8h0M76.1 336.0h0M73.4 334.0h0M74.0 331.8h0M79.0 333.2h0M80.5 337.9h0M73.4 336.5h0M78.8 315.1h0M74.7 337.3h0M74.1 338.5h0M73.4 336.7h0M75.8 323.3h0M77.2 332.2h0M78.5 331.4h0M73.3 330.1h0M81.6 318.9h0M80.0 319.5h0M78.4 314.7h0M74.7 326.8h0M78.4 314.0h0M77.1 320.5h0M78.8 337.3h0M75.5 324.5h0M80.8 319.8h0M73.8 326.4h0M80.3 326.5h0M79.3 323.3h0M73.9 325.0h0M74.1 333.5h0M72.4 327.0h0M75.8 321.2h0M74.0 332.3h0M79.4 320.7h0M79.7 325.8h0M77.4 332.7h0M74.4 336.1h0M73.4 339.3h0M79.3 329.6h0M73.8 332.0h0M78.6 322.0h0M72.5 331.5h0M80.5 315.0h0M74.5 332.3h0M79.8 334.0h0M78.6 322.2h0M72.8 326.2h0M74.2 334.7h0M73.8 330.2h0M77.1 338.1h0M77.5 332.2h0M77.9 339.7h0M73.4 327.5h0M73.4 326.0h0M76.6 332.7h0M80.6 327.0h0M78.3 325.4h0M76.3 326.3h0M77.9 330.1h0M80.5 321.8h0M72.4 331.3h0M74.8 318.9h0M81.6 316.3h0M81.2 328.9h0M81.5 331.2h0M74.0 322.1h0M76.6 317.9h0M81.7 315.1h0M78.7 317.5h0M78.7 320.0h0M78.6 334.9h0M79.9 322.3h0M76.8 339.1h0M81.3 322.2h0M78.8 316.2h0M81.0 319.8h0M75.8 317.8h0M75.1 338.8h0M80.7 327.7h0M73.0 327.6h0M80.4 338.3h0M79.9 320.4h0M80.8 332.9h0M75.9 337.3h0M79.6 323.3h0M73.1 330.0h0M79.7 328.3h0M77.1 323.6h0M73.4 326.6h0M76.3 333.7h0M77.4 335.7h0M78.2 333.8h0M75.2 322.0h0M81.2 327.4h0M75.1 314.6h0M81.4 335.7h0M74.3 333.2h0M79.2 333.1h0M72.3 335.1h0M74.5 317.7h0M75.3 331.6h0M75.8 314.8h0M72.8 339.5h0M79.9 337.8h0M79.0 320.6h0M79.1 336.6h0M75.5 326.6h0M72.4 325.0h0M77.8 338.2h0M81.1 326.9h0M73.7 332.6h0M72.8 320.1h0M77.7 330.1h0M77.5 322.8h0M75.3 322.0h0M81.3 335.7h0M79.9 318.3h0M77.9 338.7h0M74.0 336.9h0M75.4 336.3h0M76.2 321.8h0M76.4 334.4h0M77.1 331.3h0M79.2 337.9h0M80.3 325.0h0M81.3 315.2h0M77.1 324.3h0M73.8 338.3h0M75.2 314.8h0M76.6 317.2h0M78.6 330.1h0M77.5 332.9h0M77.0 317.6h0M79.8 317.1h0M76.7 324.7h0M78.4 314.1h0M80.0 323.3h0M79.2 334.7h0M76.8 336.2h0M74.8 334.9h0M72.8 325.8h0M79.2 324.2h0M75.5 332.3h0M75.5 326.5h0M73.9 321.9h0M80.7 316.8h0M75.2 316.4h0M77.0 337.1h0M76.6 316.1h0M79.0 322.6h0M75.8 322.9h0M80.9 320.2h0M74.0 326.3h0M78.1 333.9h0M77.3 317.6h0M79.1 328.1h0M76.2 323.0h0M73.9 334.8h0M75.0 338.6h0M80.2 336.2h0M80.4 335.0h0M81.5 324.0h0M72.4 327.1h0M75.8 332.4h0M77.0 317.7h0M74.2 335.1h0M76.0 317.6h0M80.6 323.3h0M75.1 320.3h0M76.7 327.6h0M81.5 316.8h0M77.5 328.2h0M80.1 325.9h0M74.8 326.4h0M81.3 324.1h0M77.1 319.7h0M72.5 325.0h0M80.9 335.4h0M76.2 316.6h0M77.5 319.2h0M78.4 333.6h0M78.2 338.4h0M73.7 318.4h0M76.7 321.9h0M74.8 322.9h0M78.5 315.9h0M74.6 330.6h0M80.7 315.0h0M75.0 318.6h0M74.4 339.6h0M74.8 332.3h0M76.1 318.8h0M77.8 329.4h0M75.6 320.7h0M72.6 326.4h0M78.2 328.8h0M72.6 332.2h0M74.7 321.7h0M79.3 314.3h0M81.3 321.6h0M78.6 317.0h0M76.2 337.5h0M76.8 321.7h0M81.1 323.5h0M77.5 329.1h0M76.9 319.2h0M73.0 330.7h0M77.1 316.6h0M81.7 316.5h0M76.3 334.1h0M72.6 329.0h0M73.0 333.2h0M78.1 319.8h0M75.7 333.3h0M78.6 325.3h0M78.2 320.2h0M73.1 326.5h0M79.6 332.6h0M80.1 327.2h0M77.9 332.2h0M78.5 339.6h0M75.3 322.1h0M76.0 315.3h0M77.2 336.3h0M76.1 333.8h0M75.6 333.3h0M75.8 326.9h0M72.6 332.6h0M74.4 333.3h0M74.1 332.0h0M74.4 337.4h0M72.8 336.1h0M78.7 327.4h0M78.2 339.3h0M78.8 316.6h0M77.9 330.0h0M78.6 328.9h0M78.5 313.8h0M80.4 315.8h0M81.4 315.1h0M78.0 318.3h0M77.2 314.8h0M72.8 332.2h0M79.1 333.5h0M81.7 327.8h0M72.8 317.5h0M78.8 333.5h0M79.3 334.0h0M81.5 325.0h0M80.8 324.1h0M80.3 321.5h0M79.3 322.5h0M72.5 332.0h0M77.0 328.8h0M78.9 318.1h0M76.8 325.6h0M78.1 339.2h0M72.8 331.5h0M72.9 318.3h0M80.3 321.1h0M73.3 332.6h0M80.0 315.4h0M74.1 327.1h0M74.2 326.8h0M81.0 328.6h0M74.4 337.4h0M76.3 328.9h0M76.8 316.5h0M81.2 335.4h0M79.9 338.0h0M79.7 314.4h0M77.4 336.4h0M75.8 326.9h0M74.3 335.0h0M74.0 337.7h0M78.3 326.6h0M81.1 325.2h0M78.1 318.6h0M80.5 338.3h0M75.3 330.3h0M77.3 316.5h0M80.2 319.1h0M72.7 333.9h0M77.8 331.0h0M78.4 324.6h0M74.3 321.6h0M78.8 329.8h0M80.9 322.5h0M75.4 315.4h0M75.4 332.8h0M76.4 323.7h0M80.7 325.9h0M76.8 320.3h0M74.8 332.4h0M80.0 318.3h0M79.1 318.1h0M80.5 336.4h0M76.1 327.4h0M79.6 323.1h0M75.0 317.2h0M80.3 325.8h0M74.7 325.4h0M81.0 331.3h0M72.9 319.0h0M77.6 335.4h0M75.7 324.9h0M74.5 315.1h0M76.2 335.6h0M72.7 338.0h0M74.8 325.9h0M77.9 327.7h0M76.5 339.3h0M79.8 324.9h0M78.9 319.9h0M76.9 320.7h0M76.7 334.2h0M75.1 319.3h0M73.2 318.8h0M77.0 320.8h0M75.0 330.8h0M73.6 338.3h0M75.2 322.6h0M80.5 337.0h0M78.9 314.8h0M79.9 338.4h0M79.1 320.7h0M80.7 332.5h0M77.2 329.7h0M79.1 337.2h0M76.6 314.4h0M80.2 329.7h0M72.3 338.8h0M74.1 323.2h0M74.1 335.7h0M80.3 325.5h0M73.4 317.8h0M73.9 326.1h0M73.6 326.9h0M77.2 337.8h0M77.8 335.4h0M76.7 316.8h0M74.7 314.7h0M74.5 317.9h0M76.5 339.3h0M79.6 318.5h0M76.2 316.3h0M80.9 314.5h0M81.6 321.6h0M80.4 336.0h0M75.7 318.7h0M78.8 334.4h0M76.1 321.9h0M78.9 319.5h0M79.1 320.4h0M73.0 336.9h0M78.6 332.9h0M75.9 337.4h0M79.1 332.3h0M74.9 328.2h0M81.6 317.3h0M81.4 329.4h0M72.5 333.3h0M79.4 333.4h0M78.4 334.5h0M76.0 326.3h0M79.7 338.5h0M81.0 315.1h0M75.5 314.1h0M77.5 318.7h0M75.8 321.3h0M78.2 330.5h0M80.5 324.3h0M74.1 327.8h0M76.5 334.2h0M77.1 338.1h0M72.8 318.5h0M75.4 324.9h0M75.7 339.5h0M80.7 329.5h0M76.9 325.2h0M77.0 336.7h0M76.4 336.3h0M74.4 328.6h0M80.9 332.4h0M75.7 332.4h0M79.9 315.8h0M81.1 328.1h0M80.0 319.4h0M80.9 318.1h0M80.2 331.1h0M74.5 328.6h0M74.5 323.9h0M75.5 339.1h0M75.3 335.0h0M80.6 322.1h0M78.2 330.8h0M79.6 339.2h0M75.8 326.1h0M76.3 318.7h0M72.9 339.3h0M81.1 334.8h0M81.2 324.1h0M77.7 315.1h0M81.1 318.2h0M81.2 333.7h0M78.3 323.7h0M79.5 314.2h0M79.0 329.2h0M76.9 323.3h0M73.7 317.5h0M78.4 318.5h0M80.6 325.9h0M75.3 321.3h0M77.6 339.0h0M76.7 334.5h0M72.8 332.2h0M76.1 319.8h0M78.2 331.6h0M77.1 336.1h0M75.4 315.5h0M73.8 333.0h0M72.8 322.1h0M78.5 338.4h0M81.6 329.2h0M77.6 314.6h0M72.8 319.9h0M78.5 324.7h0M80.6 327.1h0M81.4 331.9h0M78.8 316.2h0M77.0 314.6h0M74.3 327.6h0M75.8 314.2h0M76.9 334.4h0M80.0 326.0h0M76.2 318.3h0M79.3 322.1h0M78.6 316.2h0M79.0 336.7h0M81.5 333.7h0M78.1 329.4h0M73.4 318.6h0M78.0 334.2h0M78.9 331.3h0M80.1 330.4h0M77.0 327.4h0M78.8 332.2h0M72.7 339.3h0M77.0 317.1h0M77.3 329.2h0M79.1 322.0h0M80.5 316.1h0M76.3 337.3h0M79.3 318.5h0M81.2 327.5h0M73.3 326.5h0M80.6 315.9h0M76.3 325.7h0M75.2 320.8h0M78.0 331.0h0M74.9 329.3h0M76.6 322.0h0M74.9 339.3h0M78.7 314.2h0M74.1 332.8h0M74.5 331.5h0M80.2 332.0h0M73.9 326.3h0M75.3 319.9h0M75.0 315.4h0M75.7 322.1h0M77.7 336.0h0M76.9 326.3h0M79.1 329.4h0M78.1 315.9h0M81.0 331.1h0M80.2 329.7h0M80.9 316.9h0M78.9 319.6h0M76.0 339.2h0M78.7 294.1h0M79.2 295.7h0M79.2 297.7h0M76.8 303.4h0M77.7 306.5h0M80.6 308.6h0M79.6 311.7h0M81.0 313.8h0M82.0 300.8h0M71.6 333.5h0M73.0 337.6h0M74.4 341.2h0M76.8 342.3h0M79.6 341.2h0M71.6 327.2h0M77.3 341.7h0M77.7 343.8h0M78.2 345.9h0M77.5 348.5h0M78.2 351.9h0M78.2 356.7h0M78.2 359.9h0M75.4 362.7h0M78.7 340.5h0M76.3 340.7h0M86.9 318.1h0M84.7 319.6h0M83.0 322.7h0M84.7 314.1h0M82.2 335.4h0M81.7 341.5h0M84.2 331.2h0M86.5 311.9h0M83.6 326.3h0M85.7 323.1h0M87.2 315.4h0M84.9 315.2h0M85.8 314.7h0M84.9 331.5h0M84.0 318.2h0M84.8 333.8h0M83.7 339.0h0M83.8 335.0h0M85.6 323.2h0M84.2 323.9h0M84.0 339.1h0M83.0 340.1h0M83.5 321.2h0M85.1 328.8h0M87.3 312.2h0M83.0 334.0h0M84.3 312.8h0M84.3 328.1h0M83.8 325.5h0M83.4 341.7h0M84.3 310.5h0M83.5 325.2h0M84.0 326.0h0M84.6 318.3h0M83.6 313.7h0M85.5 319.5h0M83.9 309.8h0M86.3 319.6h0M85.8 309.8h0M86.2 312.6h0M84.5 327.5h0M84.1 318.3h0M83.8 338.0h0M83.1 339.0h0M83.3 331.1h0M83.7 333.1h0M85.4 310.5h0M83.8 339.7h0M83.4 321.2h0M84.4 325.1h0M86.2 310.7h0M83.1 325.2h0M82.8 335.5h0M84.4 316.2h0M86.0 318.6h0M81.9 335.1h0M81.9 333.6h0M85.7 323.3h0M85.6 320.4h0M84.7 320.5h0M83.2 339.8h0M84.1 323.6h0M82.8 339.4h0M84.8 328.7h0M84.0 310.0h0M84.8 315.5h0M81.9 339.0h0M82.3 331.3h0M83.7 324.4h0M84.1 330.7h0M84.8 329.6h0M85.9 321.5h0M85.6 314.1h0M86.3 321.6h0M84.8 314.0h0M82.8 326.9h0M82.5 328.3h0M85.7 313.8h0M84.6 314.7h0M84.0 311.1h0M86.9 318.5h0M82.8 331.0h0M84.9 331.3h0M83.3 330.5h0M84.0 335.7h0M83.1 319.9h0M84.8 317.1h0M84.4 331.7h0M84.7 316.0h0M85.2 320.8h0M82.7 326.9h0M83.7 335.0h0M83.9 323.4h0M83.9 328.7h0M83.4 334.6h0M83.2 336.6h0M83.1 332.4h0M83.5 322.2h0M85.3 318.7h0M83.6 319.1h0M86.6 319.9h0M83.0 330.0h0M82.3 340.3h0M84.1 311.8h0M83.9 324.6h0M84.1 315.3h0M83.2 327.1h0M83.1 339.7h0M83.1 334.6h0M87.2 311.8h0M84.7 329.4h0M84.5 331.4h0M85.2 324.1h0M87.0 312.3h0M84.4 336.6h0M83.6 311.6h0M82.8 338.5h0M83.2 327.5h0M81.5 339.3h0M85.8 322.3h0M85.5 319.3h0M83.2 322.5h0M83.9 315.6h0M81.7 337.8h0M84.9 311.3h0M86.1 321.5h0M85.0 311.7h0M84.8 316.9h0M84.4 329.1h0M84.6 320.1h0M83.1 327.5h0M83.5 317.8h0M83.2 337.1h0M86.2 319.6h0M84.1 323.6h0M83.1 333.5h0M85.0 310.3h0M84.6 327.9h0M85.7 320.4h0M84.8 317.8h0M86.8 311.6h0M86.1 322.2h0M84.7 323.0h0M83.0 323.4h0M81.6 340.4h0M85.0 326.4h0M84.7 311.4h0M81.6 339.7h0M81.5 339.7h0M84.0 332.1h0M84.9 323.8h0M84.3 328.8h0M84.9 316.4h0M84.6 319.6h0M83.0 328.2h0M83.8 319.6h0M86.0 318.8h0M83.6 315.2h0M82.5 337.8h0M84.1 322.6h0M82.8 332.3h0M83.7 312.5h0M86.0 324.8h0M83.6 323.6h0M82.5 341.1h0M81.9 336.2h0M83.9 336.7h0M84.0 328.6h0M82.1 341.7h0M85.0 311.2h0M84.4 310.0h0M86.4 322.6h0M83.8 326.4h0M83.1 339.1h0M84.1 310.3h0M84.3 320.0h0M85.5 322.3h0M86.3 314.7h0M85.0 314.1h0M84.7 313.1h0M83.6 341.4h0M82.2 341.4h0M86.8 319.4h0M85.0 320.9h0M83.1 341.0h0M85.0 319.6h0M83.2 326.2h0M82.2 334.5h0M84.6 314.1h0M84.7 310.8h0M85.3 316.3h0M84.3 336.9h0M83.2 338.4h0M82.2 338.1h0M81.6 339.6h0M82.6 332.1h0M84.4 335.8h0M87.2 314.3h0M83.9 313.5h0M86.6 319.1h0M82.9 335.9h0M83.2 332.3h0M85.2 328.0h0M81.9 338.7h0M83.2 332.1h0M82.2 334.9h0M85.2 324.4h0M84.0 339.1h0M84.9 326.8h0M84.0 332.5h0M87.2 313.5h0M86.1 314.6h0M83.5 316.9h0M86.0 323.2h0M82.4 337.2h0M83.1 323.9h0M83.7 326.9h0M83.0 334.6h0M85.0 327.3h0M85.5 316.3h0M83.1 335.7h0M84.2 324.1h0M86.7 312.2h0M86.0 325.2h0M82.0 338.1h0M83.4 320.8h0M82.2 340.0h0M83.0 328.3h0M87.5 310.9h0M83.4 336.4h0M86.8 316.2h0M82.9 340.3h0M81.7 338.3h0M86.2 322.8h0M82.8 337.1h0M84.9 317.9h0M85.5 321.7h0M82.5 330.5h0M83.6 337.5h0M85.3 326.8h0M90.5 310.2h0M91.9 310.7h0M93.4 310.2h0M94.3 311.2h0M88.6 312.2h0M86.7 308.6h0M88.1 307.6h0M89.6 296.5h0M83.5 328.1h0M88.0 315.3h0M81.6 296.4h0M89.5 296.7h0M73.0 328.7h0M85.3 324.9h0M76.9 322.6h0M83.4 311.4h0M72.3 326.7h0M74.3 303.3h0M76.7 299.6h0M85.4 327.6h0M75.9 325.8h0M89.4 311.1h0M83.7 305.3h0M76.4 321.8h0M80.8 325.5h0M78.8 324.9h0M69.2 307.9h0M69.6 305.1h0M68.0 327.1h0M85.5 298.6h0M78.3 317.6h0M79.7 324.3h0M72.8 323.6h0M76.6 325.0h0M90.4 312.4h0M73.5 322.9h0M83.4 297.9h0M88.1 328.0h0M70.7 301.0h0M90.5 306.5h0M68.5 318.8h0M86.4 314.9h0M81.0 319.0h0M87.5 303.1h0M90.4 316.3h0M72.6 324.9h0M71.5 306.6h0M78.5 325.0h0M84.6 297.6h0M85.8 295.7h0M67.8 299.7h0M80.0 325.6h0M82.2 301.4h0M85.8 303.2h0M86.3 312.6h0M80.6 313.7h0M83.6 307.8h0M83.9 299.0h0M70.1 309.8h0M69.8 306.2h0M78.4 321.8h0M88.2 324.3h0M82.2 310.9h0M87.9 321.2h0M82.8 316.6h0M71.7 298.7h0M72.6 298.5h0M77.7 298.4h0M78.8 313.7h0M75.1 303.5h0M84.3 306.7h0M67.8 299.5h0M75.2 321.4h0M78.8 298.6h0M89.5 320.1h0M84.8 303.6h0M85.5 319.6h0M74.2 300.9h0M77.4 317.4h0M90.0 308.5h0M81.8 314.0h0M67.8 306.9h0M71.9 317.7h0M90.5 299.7h0M88.9 310.7h0M84.2 300.0h0M83.5 310.6h0M89.5 324.2h0M78.3 300.7h0M76.4 316.7h0M79.4 316.5h0M75.7 298.9h0M72.6 316.1h0M87.6 312.1h0M74.0 305.0h0M79.1 322.0h0M69.9 302.4h0M83.2 302.8h0M80.5 303.8h0M92.6 304.1h0M79.1 303.1h0M85.7 305.9h0M79.6 302.0h0M76.4 303.4h0M82.2 302.2h0M78.8 303.4h0M80.3 300.6h0M76.3 304.8h0M82.0 302.5h0M89.3 306.3h0M85.6 304.4h0M90.2 305.6h0M85.2 303.8h0M87.5 306.7h0M86.5 304.1h0M78.6 304.3h0M83.3 303.3h0M92.2 306.0h0M85.0 303.9h0M84.3 302.0h0M89.6 305.6h0M82.7 301.9h0M86.6 305.0h0M78.6 303.0h0M89.2 304.3h0M82.4 302.7h0M80.7 301.9h0M91.4 307.1h0M89.4 306.9h0M83.1 303.3h0M90.1 306.5h0M87.0 306.2h0M92.8 304.4h0M80.3 302.6h0M85.8 305.7h0M89.8 307.2h0M88.2 303.6h0M89.1 306.4h0M80.8 301.9h0M84.2 303.0h0M83.0 303.2h0M83.2 303.9h0M90.7 306.0h0M84.8 304.0h0M83.0 303.0h0M82.2 302.4h0M85.1 305.4h0M85.6 304.5h0M89.0 305.8h0M89.8 305.8h0M90.8 304.9h0M83.7 302.8h0M89.6 306.4h0M80.0 301.9h0M84.1 302.4h0M83.6 302.3h0M77.6 304.9h0M91.9 305.3h0M83.2 301.8h0M89.0 306.7h0M84.4 303.6h0M84.2 303.7h0M79.0 301.8h0M81.9 301.1h0M91.4 306.1h0M84.2 303.9h0M90.0 304.3h0M84.1 304.7h0M89.0 305.0h0M90.3 305.5h0M83.7 302.5h0M84.9 305.5h0M85.2 303.6h0M84.4 304.1h0M89.7 306.2h0M88.5 303.9h0M76.8 303.3h0M73.5 300.8h0M75.4 302.4h0M74.4 306.5h0M81.0 293.1h0M82.5 297.2h0M85.3 295.7h0M86.7 300.8h0M89.6 297.7h0M91.9 299.3h0M93.8 300.3h0M88.6 303.4h0M91.0 309.6h0M94.8 308.6h0M97.1 304.5h0M92.2 304.3h0M92.5 303.9h0M91.5 304.2h0M92.7 304.6h0M92.9 304.5h0M92.5 305.5h0M94.4 303.8h0M94.3 305.5h0M94.2 305.6h0M93.9 304.5h0M93.7 304.7h0M94.8 304.4h0M94.7 306.1h0M93.4 305.2h0M96.2 304.8h0M95.5 304.4h0M96.9 304.9h0M95.4 303.6h0M96.7 304.7h0M97.8 305.9h0M98.0 305.5h0M98.3 305.8h0M97.0 306.1h0M98.2 305.8h0M98.5 305.7h0M99.6 305.5h0M100.6 304.2h0M100.3 304.4h0M100.3 304.7h0M100.0 304.5h0M100.9 304.3h0M100.0 304.1h0M102.3 306.1h0M101.9 305.5h0M102.7 305.7h0M101.6 305.9h0M102.7 306.4h0M102.1 306.6h0M103.2 304.7h0M103.3 305.6h0M103.5 305.5h0M103.9 304.2h0M104.0 305.3h0M103.6 304.8h0M105.2 303.1h0M104.9 303.9h0M106.2 303.9h0M104.1 303.6h0M105.6 304.6h0M107.9 307.0h0M111.6 301.4h0M106.7 306.2h0M107.5 305.9h0M109.3 304.0h0M107.4 300.4h0M108.9 302.4h0M108.8 302.4h0M111.0 305.0h0M110.1 305.6h0M110.4 303.0h0M110.3 300.2h0M105.7 301.7h0M107.5 300.6h0M106.2 302.3h0M107.5 304.5h0M109.6 305.8h0M110.4 303.1h0M107.7 307.0h0M110.9 304.1h0M106.3 306.9h0M108.0 302.1h0M109.2 303.9h0M106.6 304.5h0M108.8 304.0h0M107.3 306.0h0M110.7 303.1h0M107.2 305.9h0M105.9 305.2h0M111.8 302.5h0M109.9 301.3h0M108.6 303.8h0M107.4 307.4h0M109.4 304.6h0M107.9 304.5h0M107.2 305.9h0M111.8 299.7h0M110.9 300.8h0M111.4 300.5h0M108.6 306.1h0M106.4 303.3h0M107.8 302.1h0M109.2 304.4h0M106.9 302.7h0M109.8 300.6h0M108.6 305.1h0M111.8 304.4h0M108.1 305.9h0M107.7 306.1h0M111.2 304.3h0M111.4 302.7h0M106.4 301.2h0M109.9 300.0h0M109.4 300.8h0M110.5 300.9h0M110.4 306.0h0M109.9 305.3h0M109.0 305.4h0M106.9 307.3h0M107.2 302.9h0M107.0 306.8h0M110.6 300.6h0M111.1 301.8h0M109.3 303.4h0M110.7 300.9h0M107.3 301.6h0M105.8 306.0h0M108.3 301.3h0M108.2 304.5h0M108.7 304.6h0M109.9 301.0h0M106.0 305.9h0M107.3 300.8h0M106.6 300.4h0M110.2 306.5h0M106.4 306.2h0M109.5 300.0h0M109.8 300.2h0M109.2 301.2h0M108.8 304.9h0M108.6 301.0h0M108.2 301.7h0M105.9 304.6h0M106.9 301.9h0M107.9 303.9h0M107.7 303.8h0M110.3 302.8h0M108.7 305.6h0M109.1 300.3h0M107.2 307.7h0M111.3 302.5h0M109.1 301.4h0M108.1 307.1h0M107.4 300.6h0M111.2 299.5h0M106.8 304.9h0M110.0 302.2h0M108.1 305.9h0M107.3 304.3h0M110.1 305.0h0M106.4 301.4h0M111.8 300.9h0M111.8 306.0h0M106.4 301.8h0M108.7 301.5h0M111.6 299.6h0M111.8 300.2h0M107.8 306.1h0M107.9 300.5h0M109.7 305.0h0M107.8 300.6h0M109.6 300.3h0M109.2 302.2h0M108.9 301.6h0M108.7 302.3h0M109.9 301.0h0M108.2 302.6h0M110.3 300.8h0M110.8 300.7h0M108.3 301.0h0M108.0 302.7h0M109.4 301.8h0M105.7 303.9h0M110.6 306.6h0M109.4 304.5h0M108.4 306.1h0M110.1 304.7h0M111.0 303.7h0M106.3 303.3h0M105.8 300.7h0M110.1 304.1h0M108.0 302.8h0M108.2 307.2h0M111.2 306.7h0M108.5 306.7h0M111.5 301.3h0M107.0 307.6h0M109.8 300.4h0M110.7 305.4h0M108.4 307.0h0M110.6 305.1h0M110.1 300.2h0M107.9 301.8h0M108.1 300.1h0M110.1 306.5h0M108.6 305.6h0M111.0 306.4h0M108.0 303.9h0M107.1 307.2h0M108.9 306.9h0M108.3 303.3h0M107.7 306.0h0M109.5 301.5h0M110.1 305.7h0M110.7 306.4h0M107.7 307.0h0M109.9 301.0h0M107.7 300.6h0M108.6 305.1h0M107.5 307.3h0M111.4 301.4h0M108.1 305.2h0M111.4 301.9h0M110.6 301.9h0M111.1 302.3h0M110.2 305.4h0M108.1 302.5h0M109.7 301.3h0M109.0 305.2h0M106.9 302.6h0M111.1 296.5h0M109.5 298.2h0M111.8 299.3h0M116.1 304.1h0M115.5 305.7h0M114.0 304.8h0M115.5 301.2h0M114.2 304.6h0M115.8 301.8h0M114.2 303.5h0M114.1 302.4h0M112.4 306.0h0M112.2 302.7h0M113.4 304.7h0M114.2 301.1h0M116.7 303.0h0M112.2 305.2h0M112.2 301.9h0M113.0 302.6h0M114.1 303.5h0M112.9 307.2h0M113.9 304.2h0M117.4 304.5h0M115.9 305.3h0M116.6 301.8h0M116.1 300.2h0M112.7 305.0h0M114.9 303.3h0M113.0 304.1h0M113.8 302.5h0M112.9 301.0h0M115.3 303.6h0M116.1 307.1h0M113.8 306.2h0M116.7 303.2h0M115.2 305.3h0M113.4 303.6h0M111.8 305.1h0M112.6 300.9h0M112.2 304.0h0M112.3 304.4h0M117.3 301.1h0M113.1 302.8h0M100.5 309.7h0M102.1 307.9h0M102.4 306.2h0M103.0 312.7h0M102.7 312.7h0M101.6 307.7h0M101.1 312.0h0M102.8 310.1h0M102.5 313.4h0M99.4 310.4h0M99.7 309.0h0M101.2 307.7h0M99.7 310.2h0M100.7 312.9h0M100.3 311.9h0M99.6 312.2h0M102.7 310.4h0M102.2 310.8h0M101.3 309.1h0M102.9 306.7h0M100.7 309.9h0M102.7 304.7h0M102.4 311.5h0M102.3 307.9h0M102.1 307.5h0M101.2 309.5h0M99.9 308.7h0M99.7 306.0h0M102.7 304.8h0M101.5 308.2h0M102.9 309.6h0M100.3 305.7h0M102.0 305.7h0M101.0 313.6h0M99.6 308.9h0M100.5 313.4h0M101.1 305.9h0M100.6 312.0h0M102.4 305.6h0M101.4 313.0h0M101.4 313.1h0M100.8 307.9h0M102.7 307.2h0M99.8 310.2h0M101.7 307.2h0M100.4 306.4h0M103.0 307.5h0M102.9 309.1h0M100.0 312.2h0M101.7 310.0h0M99.9 305.1h0M101.9 308.0h0M100.1 306.5h0M102.5 313.3h0M101.5 304.3h0M102.9 306.5h0M102.2 308.9h0M100.3 311.0h0M99.9 308.9h0M101.9 310.8h0M101.0 306.0h0M101.1 309.9h0M100.7 306.5h0M99.9 312.0h0M100.6 313.5h0M100.1 306.0h0M102.9 305.1h0M102.5 313.6h0M102.0 306.4h0M101.9 307.7h0M100.1 306.1h0M99.5 309.3h0M102.8 311.9h0M100.0 311.8h0M101.1 310.0h0M101.1 307.2h0M102.3 306.7h0M99.9 310.6h0M102.0 308.2h0M101.0 305.2h0M102.2 312.5h0M99.5 305.1h0M99.8 310.8h0M99.9 306.0h0M101.0 310.3h0M102.4 308.2h0M102.3 307.9h0M101.0 312.2h0M101.2 309.1h0M101.4 307.3h0M102.2 304.6h0M100.6 312.1h0M100.6 305.9h0M100.8 309.3h0M100.1 313.4h0M100.1 313.4h0M99.7 312.0h0M99.4 309.0h0M103.0 311.0h0M101.9 305.7h0M101.2 309.7h0M101.3 306.5h0M100.0 307.6h0M103.0 309.5h0M101.0 304.6h0M100.6 313.1h0M100.7 309.1h0M100.2 309.4h0M101.4 310.8h0M100.7 308.1h0M101.7 326.8h0M101.8 321.2h0M100.8 312.9h0M102.2 329.2h0M101.2 314.9h0M101.7 328.2h0M101.2 320.8h0M101.3 318.2h0M101.3 311.5h0M100.9 318.4h0M101.6 323.4h0M101.2 315.4h0M100.9 320.5h0M101.6 324.2h0M101.4 320.7h0M102.7 326.9h0M101.3 316.9h0M101.5 326.8h0M101.2 319.7h0M102.2 328.6h0M102.2 325.9h0M102.5 328.2h0M100.9 319.7h0M100.4 314.1h0M101.3 318.1h0M100.3 321.7h0M102.1 327.8h0M100.8 315.3h0M101.7 324.3h0M101.6 327.9h0M102.3 324.7h0M102.2 329.8h0M102.0 329.4h0M101.9 318.9h0M101.9 329.1h0M100.8 316.0h0M100.8 313.2h0M101.2 320.5h0M102.2 324.4h0M101.9 324.8h0M101.3 319.3h0M101.0 311.7h0M101.6 312.6h0M101.6 321.7h0M101.3 324.7h0M101.1 315.2h0M100.8 314.8h0M100.8 311.2h0M102.2 323.2h0M101.8 327.0h0M101.8 328.3h0M101.5 319.4h0M101.8 313.9h0M102.9 330.5h0M101.5 312.8h0M101.6 330.5h0M102.7 329.7h0M102.3 325.8h0M101.7 327.4h0M101.1 324.6h0M102.3 327.3h0M101.1 323.5h0M101.7 323.5h0M102.0 323.8h0M102.3 324.5h0M101.1 316.6h0M101.3 319.1h0M101.1 319.1h0M101.6 325.8h0M102.0 325.9h0M102.1 330.0h0M102.6 331.7h0M101.6 314.4h0M101.3 316.8h0M101.4 317.7h0M101.9 326.9h0M100.5 321.2h0M101.1 315.0h0M101.0 320.2h0M101.6 320.7h0M101.4 320.7h0M101.4 318.4h0M102.6 330.7h0M101.6 316.8h0M101.2 322.2h0M102.0 324.5h0M101.8 324.5h0M102.1 330.0h0M100.4 312.3h0M102.2 328.8h0M101.8 325.0h0M101.1 325.3h0M102.3 326.9h0M101.0 318.1h0M102.2 323.1h0M101.7 324.6h0M101.3 323.5h0M101.5 322.1h0M101.9 325.0h0M100.5 316.0h0M102.2 327.4h0M101.9 321.6h0M101.4 321.6h0M100.9 316.1h0M102.3 322.2h0M101.2 323.4h0M101.1 324.2h0M102.3 327.1h0M101.8 322.6h0M101.6 325.2h0M101.8 325.9h0M101.7 325.9h0M101.0 319.4h0M101.0 315.3h0M101.6 324.0h0M101.4 319.1h0M101.0 322.9h0M101.2 315.8h0M101.4 325.3h0M101.2 319.3h0M112.3 329.5h0M111.6 327.3h0M113.9 324.6h0M115.6 321.2h0M104.0 328.2h0M108.2 324.6h0M104.3 325.7h0M112.7 327.0h0M115.4 325.4h0M113.0 322.1h0M113.6 320.9h0M105.1 328.5h0M112.6 327.8h0M110.2 322.9h0M105.6 323.6h0M114.7 322.3h0M116.1 326.5h0M103.1 327.4h0M107.0 328.2h0M108.5 330.1h0M105.4 329.4h0M112.3 323.8h0M107.5 328.7h0M112.5 327.1h0M110.8 324.4h0M109.7 326.6h0M107.8 325.8h0M108.1 322.2h0M105.4 319.4h0M114.5 321.4h0M114.5 327.5h0M105.0 326.2h0M104.8 320.5h0M111.2 320.5h0M111.1 330.2h0M113.9 327.8h0M104.4 325.5h0M109.8 328.3h0M112.4 320.2h0M108.2 324.5h0M113.0 323.3h0M111.0 324.8h0M106.8 322.4h0M106.6 328.7h0M115.8 320.7h0M113.8 324.9h0M113.3 319.0h0M108.1 320.5h0M106.6 319.6h0M106.8 326.4h0M116.0 320.9h0M111.0 322.3h0M109.6 324.2h0M105.6 324.5h0M109.9 325.0h0M114.9 323.5h0M102.5 322.9h0M112.1 321.6h0M109.2 320.0h0M109.4 321.8h0M108.0 330.0h0M109.9 326.6h0M115.9 327.7h0M105.5 322.0h0M115.8 328.4h0M112.4 325.8h0M113.7 325.3h0M115.1 326.5h0M103.8 323.7h0M105.5 328.4h0M104.5 330.0h0M102.7 329.2h0M108.4 329.8h0M112.4 330.1h0M109.4 325.5h0M105.0 323.2h0M105.2 327.4h0M111.2 326.2h0M113.8 329.9h0M110.6 326.3h0M111.7 329.4h0M105.9 325.0h0M102.9 325.1h0M110.3 327.6h0M107.2 322.8h0M102.8 320.9h0M109.1 325.9h0M108.3 319.1h0M103.2 321.8h0M106.2 327.3h0M111.9 326.2h0M102.5 327.6h0M109.8 323.6h0M112.9 328.9h0M103.1 319.7h0M112.4 327.1h0M108.7 330.1h0M116.0 327.0h0M112.8 326.2h0M110.4 320.9h0M111.8 323.1h0M111.1 330.1h0M106.2 320.6h0M114.3 319.5h0M107.5 328.8h0M107.3 325.2h0M109.9 327.7h0M105.6 324.2h0M111.9 320.3h0M105.6 328.3h0M114.5 324.4h0M115.3 320.7h0M104.3 326.5h0M113.0 322.7h0M115.1 319.9h0M114.6 321.0h0M109.8 329.5h0M113.1 321.2h0M104.7 330.2h0M112.0 322.7h0M104.0 330.2h0M102.9 322.2h0M110.7 326.5h0M102.8 320.9h0M110.3 327.9h0M115.4 324.3h0M109.2 319.0h0M108.8 329.9h0M110.2 322.2h0M108.2 321.3h0M102.7 322.4h0M106.3 327.9h0M110.4 321.5h0M112.6 322.7h0M110.9 321.9h0M110.7 322.8h0M112.9 325.1h0M110.5 321.4h0M111.1 319.1h0M105.2 324.9h0M113.6 322.4h0M108.4 328.5h0M103.0 326.0h0M102.5 324.8h0M110.2 319.1h0M109.1 321.1h0M111.5 329.1h0M112.0 328.8h0M107.8 329.8h0M107.1 329.1h0M108.8 320.7h0M113.9 329.2h0M110.7 322.2h0M111.8 320.0h0M114.4 326.4h0M109.3 326.5h0M103.8 329.7h0M103.5 324.2h0M114.0 324.1h0M115.6 325.6h0M106.6 329.4h0M112.9 327.0h0M105.5 327.0h0M103.4 327.4h0M109.3 328.8h0M109.7 327.3h0M115.0 330.2h0M108.1 319.5h0M113.2 322.0h0M107.0 327.2h0M104.3 319.3h0M112.8 325.7h0M106.8 321.0h0M109.7 325.0h0M115.2 328.0h0M114.4 319.3h0M107.8 320.5h0M113.3 326.7h0M115.4 327.0h0M110.0 322.6h0M115.7 324.0h0M116.1 327.2h0M114.3 325.3h0M107.2 328.4h0M110.2 326.2h0M113.2 326.2h0M111.8 320.0h0M111.5 326.6h0M106.5 320.3h0M113.0 322.1h0M105.9 325.0h0M105.0 324.6h0M103.5 327.4h0M107.4 326.7h0M102.8 322.4h0M113.8 324.6h0M106.0 319.9h0M105.5 326.1h0M106.8 322.3h0M114.9 324.8h0M108.5 323.0h0M105.6 320.1h0M106.5 327.5h0M107.6 322.9h0M103.8 322.5h0M106.3 322.5h0M114.9 322.9h0M107.3 320.8h0M115.8 329.0h0M113.9 324.4h0M111.7 321.6h0M114.7 323.4h0M106.6 330.0h0M114.2 322.1h0M106.4 322.6h0M103.2 323.1h0M107.9 323.9h0M112.0 321.4h0M112.4 323.5h0M103.5 326.4h0M108.7 329.5h0M107.8 327.7h0M102.8 328.4h0M109.3 329.3h0M110.3 319.6h0M105.1 324.3h0M104.0 322.4h0M109.6 328.3h0M107.0 324.1h0M105.4 329.7h0M115.6 323.4h0M113.9 320.8h0M115.1 319.7h0M111.8 324.6h0M110.4 323.7h0M108.4 320.4h0M114.4 326.3h0M112.6 327.0h0M103.7 326.7h0M105.6 324.9h0M96.2 324.1h0M95.3 327.2h0M97.6 316.9h0M98.6 319.5h0M93.8 315.9h0M110.4 333.5h0M108.5 330.9h0M114.2 317.9h0M115.6 321.0h0M106.6 332.9h0M104.8 318.2h0M103.4 317.0h0M104.8 330.2h0M103.3 334.0h0M104.5 328.0h0M104.8 332.6h0M103.4 328.4h0M103.5 323.1h0M103.6 314.4h0M105.4 313.8h0M105.6 321.7h0M104.0 335.1h0M103.6 319.2h0M104.7 332.2h0M104.5 333.6h0M104.4 312.3h0M104.2 336.4h0M105.6 324.5h0M103.7 332.4h0M105.4 334.7h0M104.4 321.6h0M103.4 319.1h0M103.8 329.6h0M103.8 316.1h0M105.2 315.5h0M105.0 313.7h0M104.5 318.7h0M104.4 315.4h0M105.7 313.2h0M103.4 324.1h0M104.2 319.3h0M103.9 330.0h0M104.6 335.0h0M104.9 317.9h0M104.2 331.0h0M104.3 322.7h0M105.4 312.5h0M105.3 314.5h0M104.6 325.5h0M105.0 332.2h0M105.6 315.6h0M105.6 334.2h0M104.8 325.6h0M104.9 331.9h0M103.8 318.7h0M103.9 335.1h0M103.7 333.7h0M104.5 311.6h0M104.1 330.3h0M104.1 334.6h0M103.5 323.2h0M103.4 322.9h0M105.0 320.2h0M103.5 311.5h0M104.2 327.2h0M105.2 323.6h0M104.4 328.2h0M104.1 330.8h0M103.9 333.3h0M103.3 323.2h0M105.3 332.3h0M105.3 317.8h0M103.9 311.7h0M104.6 326.1h0M103.4 333.7h0M103.5 333.7h0M104.1 323.0h0M104.5 323.4h0M105.6 312.0h0M103.4 321.9h0M105.2 328.8h0M104.9 323.6h0M104.7 334.1h0M105.5 322.6h0M103.4 325.3h0M104.1 313.6h0M105.4 325.4h0M104.3 325.9h0M104.4 314.3h0M105.6 326.3h0M103.4 333.5h0M103.4 317.0h0M103.8 316.9h0M105.3 326.5h0M103.9 321.1h0M105.4 314.6h0M103.9 330.5h0M104.6 321.5h0M103.6 317.0h0M103.5 331.3h0M104.6 327.2h0M104.1 334.9h0M105.4 335.1h0M105.6 334.1h0M104.9 330.4h0M105.0 323.1h0M105.1 329.2h0M104.5 330.5h0M104.3 334.3h0M103.7 316.6h0M103.8 321.7h0M104.0 314.3h0M105.4 321.5h0M104.2 320.3h0M103.4 332.4h0M105.4 326.2h0M103.8 316.8h0M104.6 314.8h0M104.0 322.0h0M105.4 324.4h0M104.0 339.7h0M104.3 341.7h0M104.7 344.3h0M104.3 346.9h0M104.5 350.0h0M104.7 352.1h0M104.3 353.7h0M103.8 359.9h0M104.3 310.2h0M104.3 312.0h0M107.9 310.2h0M107.9 312.0h0M109.5 314.8h0M108.5 321.6h0M69.9 310.4h0M71.2 326.3h0M72.3 308.1h0M68.3 303.7h0M73.1 309.9h0M69.4 323.0h0M68.8 321.8h0M66.9 313.3h0M67.0 324.5h0M68.7 324.3h0M71.8 305.4h0M68.8 323.8h0M71.4 313.7h0M67.7 306.9h0M69.2 315.6h0M71.2 325.8h0M71.4 317.4h0M70.3 318.9h0M67.2 303.6h0M70.4 314.0h0M72.6 308.6h0M69.1 309.2h0M71.2 324.0h0M67.5 312.8h0M71.4 322.3h0M71.9 306.8h0M71.6 314.5h0M72.7 307.7h0M72.4 327.1h0M70.9 307.0h0M69.1 312.3h0M72.7 307.0h0M69.6 312.3h0M70.4 322.0h0M67.0 308.7h0M67.4 315.7h0M71.1 323.6h0M71.7 306.8h0M73.4 302.8h0M68.1 319.4h0M71.1 312.9h0M71.4 314.6h0M68.9 310.8h0M69.7 305.3h0M71.6 306.9h0M70.7 327.4h0M72.2 324.4h0M68.1 324.1h0M66.9 308.5h0M68.7 320.7h0M73.3 308.1h0M70.1 310.1h0M71.6 302.7h0M72.8 310.5h0M68.0 324.6h0M71.7 323.6h0M72.7 314.6h0M69.7 323.7h0M70.1 309.0h0M70.9 314.2h0M71.9 325.9h0M72.1 304.2h0M70.5 314.4h0M67.1 310.2h0M66.9 321.4h0M68.3 307.2h0M72.6 309.6h0M71.4 320.3h0M71.0 304.5h0M68.3 324.6h0M69.4 310.5h0M70.1 303.3h0M71.6 323.2h0M73.2 310.9h0M71.4 327.6h0M72.5 314.8h0M73.2 317.0h0M70.6 317.9h0M68.1 312.9h0M70.2 323.6h0M70.6 311.7h0M73.3 304.5h0M68.0 311.8h0M73.3 315.0h0M69.5 324.6h0M68.4 323.9h0M67.3 318.4h0M73.1 318.6h0M68.5 308.1h0M72.2 309.5h0M78.4 325.3h0M68.9 331.5h0M76.2 330.3h0M67.9 324.0h0M73.4 335.3h0M68.9 325.3h0M71.8 329.3h0M72.9 323.0h0M73.3 327.6h0M68.2 323.0h0M70.7 322.1h0M71.8 322.1h0M72.0 330.5h0M70.4 336.1h0M68.7 322.5h0M76.0 329.9h0M71.3 322.3h0M75.9 324.2h0M76.9 335.2h0M69.5 330.3h0M70.4 328.1h0M78.0 329.5h0M77.7 323.4h0M71.0 327.6h0M71.9 327.2h0M70.7 320.7h0M74.7 318.7h0M70.4 318.2h0M75.6 319.6h0M70.9 334.1h0M73.7 326.0h0M71.5 327.1h0M76.6 323.8h0M69.4 320.2h0M75.8 326.3h0M78.4 320.9h0M75.9 324.4h0M71.0 331.2h0M71.4 321.0h0M72.9 325.2h0M68.7 336.8h0M72.3 323.9h0M69.2 319.4h0M69.9 317.9h0M74.0 329.8h0M77.5 321.8h0M76.9 331.9h0M68.4 320.5h0M70.1 334.4h0M76.3 317.7h0M70.5 319.7h0M74.9 325.3h0M78.5 333.7h0M71.0 322.0h0M73.5 324.8h0M76.8 320.4h0M77.6 328.6h0M72.3 336.4h0M71.7 332.3h0M78.7 334.9h0M101.6 306.8h0M98.1 308.8h0M90.2 306.8h0M100.6 308.5h0M90.4 308.5h0M87.2 306.5h0M94.8 306.1h0M85.5 307.4h0M95.5 307.9h0M88.1 304.8h0M86.1 307.3h0M85.9 305.5h0M93.6 306.4h0M96.7 305.2h0M93.9 306.6h0M88.6 309.2h0M100.8 309.5h0M89.5 304.6h0M96.9 309.1h0M91.1 306.0h0M98.7 307.3h0M95.1 308.1h0M93.9 308.7h0M94.5 308.3h0M85.5 307.0h0M100.3 307.0h0M96.8 307.2h0M100.8 304.9h0M90.0 305.3h0M99.7 309.5h0" stroke="#cdcdcd" stroke-width="2.0" stroke-linecap="round"/>
<line x1="158.10" y1="292.50" x2="244.30" y2="292.50" stroke="#f0f0f0" stroke-width="0.8"/>
<text x="157.10" y="292.50" font-size="6.6" text-anchor="end" fill="#444" font-weight="normal" dominant-baseline="central">10</text>
<line x1="158.10" y1="299.05" x2="244.30" y2="299.05" stroke="#f0f0f0" stroke-width="0.8"/>
<text x="157.10" y="299.05" font-size="5.2" text-anchor="end" fill="#666" font-weight="normal" dominant-baseline="central">5</text>
<line x1="158.10" y1="307.70" x2="244.30" y2="307.70" stroke="#f0f0f0" stroke-width="0.8"/>
<text x="157.10" y="307.70" font-size="5.2" text-anchor="end" fill="#666" font-weight="normal" dominant-baseline="central">2</text>
<line x1="158.10" y1="314.25" x2="244.30" y2="314.25" stroke="#f0f0f0" stroke-width="0.8"/>
<text x="157.10" y="314.25" font-size="6.6" text-anchor="end" fill="#444" font-weight="normal" dominant-baseline="central">1</text>
<line x1="158.10" y1="320.80" x2="244.30" y2="320.80" stroke="#f0f0f0" stroke-width="0.8"/>
<text x="157.10" y="320.80" font-size="5.2" text-anchor="end" fill="#666" font-weight="normal" dominant-baseline="central">5</text>
<line x1="158.10" y1="329.45" x2="244.30" y2="329.45" stroke="#f0f0f0" stroke-width="0.8"/>
<text x="157.10" y="329.45" font-size="5.2" text-anchor="end" fill="#666" font-weight="normal" dominant-baseline="central">2</text>
<line x1="158.10" y1="336.00" x2="244.30" y2="336.00" stroke="#f0f0f0" stroke-width="0.8"/>
<text x="157.10" y="336.00" font-size="6.6" text-anchor="end" fill="#444" font-weight="normal" dominant-baseline="central">0.1</text>
<line x1="158.10" y1="342.55" x2="244.30" y2="342.55" stroke="#f0f0f0" stroke-width="0.8"/>
<text x="157.10" y="342.55" font-size="5.2" text-anchor="end" fill="#666" font-weight="normal" dominant-baseline="central">5</text>
<line x1="158.10" y1="351.20" x2="244.30" y2="351.20" stroke="#f0f0f0" stroke-width="0.8"/>
<text x="157.10" y="351.20" font-size="5.2" text-anchor="end" fill="#666" font-weight="normal" dominant-baseline="central">2</text>
<line x1="158.10" y1="357.75" x2="244.30" y2="357.75" stroke="#f0f0f0" stroke-width="0.8"/>
<text x="157.10" y="357.75" font-size="6.6" text-anchor="end" fill="#444" font-weight="normal" dominant-baseline="central">0.01</text>
<line x1="158.10" y1="364.30" x2="244.30" y2="364.30" stroke="#f0f0f0" stroke-width="0.8"/>
<text x="157.10" y="364.30" font-size="5.2" text-anchor="end" fill="#666" font-weight="normal" dominant-baseline="central">5</text>
<line x1="161.90" y1="288.00" x2="161.90" y2="366.00" stroke="#f0f0f0" stroke-width="0.8"/>
<text x="161.90" y="372.40" font-size="6.6" text-anchor="middle" fill="#444" font-weight="normal" dominant-baseline="central">10</text>
<line x1="174.30" y1="288.00" x2="174.30" y2="366.00" stroke="#f0f0f0" stroke-width="0.8"/>
<text x="174.30" y="371.50" font-size="5.2" text-anchor="middle" fill="#666" font-weight="normal" dominant-baseline="central">2</text>
<line x1="190.70" y1="288.00" x2="190.70" y2="366.00" stroke="#f0f0f0" stroke-width="0.8"/>
<text x="190.70" y="371.50" font-size="5.2" text-anchor="middle" fill="#666" font-weight="normal" dominant-baseline="central">5</text>
<line x1="203.10" y1="288.00" x2="203.10" y2="366.00" stroke="#f0f0f0" stroke-width="0.8"/>
<text x="203.10" y="372.40" font-size="6.6" text-anchor="middle" fill="#444" font-weight="normal" dominant-baseline="central">100</text>
<line x1="215.50" y1="288.00" x2="215.50" y2="366.00" stroke="#f0f0f0" stroke-width="0.8"/>
<text x="215.50" y="371.50" font-size="5.2" text-anchor="middle" fill="#666" font-weight="normal" dominant-baseline="central">2</text>
<line x1="231.90" y1="288.00" x2="231.90" y2="366.00" stroke="#f0f0f0" stroke-width="0.8"/>
<text x="231.90" y="371.50" font-size="5.2" text-anchor="middle" fill="#666" font-weight="normal" dominant-baseline="central">5</text>
<text x="244.30" y="372.40" font-size="6.6" text-anchor="middle" fill="#444" font-weight="normal" dominant-baseline="central">1000</text>
<text x="201.60" y="381.00" font-size="7.2" text-anchor="middle" fill="#444" font-weight="normal" dominant-baseline="central">Q (mL s<tspan font-size="4.5" dy="-2">-1</tspan><tspan dy="2">)</tspan></text>
<use href="#gray" transform="translate(126.6,0)"/>
<line x1="281.50" y1="292.50" x2="367.70" y2="292.50" stroke="#f0f0f0" stroke-width="0.8"/>
<text x="280.50" y="292.50" font-size="6.6" text-anchor="end" fill="#444" font-weight="normal" dominant-baseline="central">10</text>
<line x1="281.50" y1="299.05" x2="367.70" y2="299.05" stroke="#f0f0f0" stroke-width="0.8"/>
<text x="280.50" y="299.05" font-size="5.2" text-anchor="end" fill="#666" font-weight="normal" dominant-baseline="central">5</text>
<line x1="281.50" y1="307.70" x2="367.70" y2="307.70" stroke="#f0f0f0" stroke-width="0.8"/>
<text x="280.50" y="307.70" font-size="5.2" text-anchor="end" fill="#666" font-weight="normal" dominant-baseline="central">2</text>
<line x1="281.50" y1="314.25" x2="367.70" y2="314.25" stroke="#f0f0f0" stroke-width="0.8"/>
<text x="280.50" y="314.25" font-size="6.6" text-anchor="end" fill="#444" font-weight="normal" dominant-baseline="central">1</text>
<line x1="281.50" y1="320.80" x2="367.70" y2="320.80" stroke="#f0f0f0" stroke-width="0.8"/>
<text x="280.50" y="320.80" font-size="5.2" text-anchor="end" fill="#666" font-weight="normal" dominant-baseline="central">5</text>
<line x1="281.50" y1="329.45" x2="367.70" y2="329.45" stroke="#f0f0f0" stroke-width="0.8"/>
<text x="280.50" y="329.45" font-size="5.2" text-anchor="end" fill="#666" font-weight="normal" dominant-baseline="central">2</text>
<line x1="281.50" y1="336.00" x2="367.70" y2="336.00" stroke="#f0f0f0" stroke-width="0.8"/>
<text x="280.50" y="336.00" font-size="6.6" text-anchor="end" fill="#444" font-weight="normal" dominant-baseline="central">0.1</text>
<line x1="281.50" y1="342.55" x2="367.70" y2="342.55" stroke="#f0f0f0" stroke-width="0.8"/>
<text x="280.50" y="342.55" font-size="5.2" text-anchor="end" fill="#666" font-weight="normal" dominant-baseline="central">5</text>
<line x1="281.50" y1="351.20" x2="367.70" y2="351.20" stroke="#f0f0f0" stroke-width="0.8"/>
<text x="280.50" y="351.20" font-size="5.2" text-anchor="end" fill="#666" font-weight="normal" dominant-baseline="central">2</text>
<line x1="281.50" y1="357.75" x2="367.70" y2="357.75" stroke="#f0f0f0" stroke-width="0.8"/>
<text x="280.50" y="357.75" font-size="6.6" text-anchor="end" fill="#444" font-weight="normal" dominant-baseline="central">0.01</text>
<line x1="281.50" y1="364.30" x2="367.70" y2="364.30" stroke="#f0f0f0" stroke-width="0.8"/>
<text x="280.50" y="364.30" font-size="5.2" text-anchor="end" fill="#666" font-weight="normal" dominant-baseline="central">5</text>
<line x1="285.30" y1="288.00" x2="285.30" y2="366.00" stroke="#f0f0f0" stroke-width="0.8"/>
<text x="285.30" y="372.40" font-size="6.6" text-anchor="middle" fill="#444" font-weight="normal" dominant-baseline="central">10</text>
<line x1="297.70" y1="288.00" x2="297.70" y2="366.00" stroke="#f0f0f0" stroke-width="0.8"/>
<text x="297.70" y="371.50" font-size="5.2" text-anchor="middle" fill="#666" font-weight="normal" dominant-baseline="central">2</text>
<line x1="314.10" y1="288.00" x2="314.10" y2="366.00" stroke="#f0f0f0" stroke-width="0.8"/>
<text x="314.10" y="371.50" font-size="5.2" text-anchor="middle" fill="#666" font-weight="normal" dominant-baseline="central">5</text>
<line x1="326.50" y1="288.00" x2="326.50" y2="366.00" stroke="#f0f0f0" stroke-width="0.8"/>
<text x="326.50" y="372.40" font-size="6.6" text-anchor="middle" fill="#444" font-weight="normal" dominant-baseline="central">100</text>
<line x1="338.90" y1="288.00" x2="338.90" y2="366.00" stroke="#f0f0f0" stroke-width="0.8"/>
<text x="338.90" y="371.50" font-size="5.2" text-anchor="middle" fill="#666" font-weight="normal" dominant-baseline="central">2</text>
<line x1="355.30" y1="288.00" x2="355.30" y2="366.00" stroke="#f0f0f0" stroke-width="0.8"/>
<text x="355.30" y="371.50" font-size="5.2" text-anchor="middle" fill="#666" font-weight="normal" dominant-baseline="central">5</text>
<text x="367.70" y="372.40" font-size="6.6" text-anchor="middle" fill="#444" font-weight="normal" dominant-baseline="central">1000</text>
<text x="325.00" y="381.00" font-size="7.2" text-anchor="middle" fill="#444" font-weight="normal" dominant-baseline="central">Q (mL s<tspan font-size="4.5" dy="-2">-1</tspan><tspan dy="2">)</tspan></text>
<use href="#gray" transform="translate(250.0,0)"/>
<line x1="399.50" y1="292.50" x2="485.70" y2="292.50" stroke="#f0f0f0" stroke-width="0.8"/>
<text x="398.50" y="292.50" font-size="6.6" text-anchor="end" fill="#444" font-weight="normal" dominant-baseline="central">10</text>
<line x1="399.50" y1="299.05" x2="485.70" y2="299.05" stroke="#f0f0f0" stroke-width="0.8"/>
<text x="398.50" y="299.05" font-size="5.2" text-anchor="end" fill="#666" font-weight="normal" dominant-baseline="central">5</text>
<line x1="399.50" y1="307.70" x2="485.70" y2="307.70" stroke="#f0f0f0" stroke-width="0.8"/>
<text x="398.50" y="307.70" font-size="5.2" text-anchor="end" fill="#666" font-weight="normal" dominant-baseline="central">2</text>
<line x1="399.50" y1="314.25" x2="485.70" y2="314.25" stroke="#f0f0f0" stroke-width="0.8"/>
<text x="398.50" y="314.25" font-size="6.6" text-anchor="end" fill="#444" font-weight="normal" dominant-baseline="central">1</text>
<line x1="399.50" y1="320.80" x2="485.70" y2="320.80" stroke="#f0f0f0" stroke-width="0.8"/>
<text x="398.50" y="320.80" font-size="5.2" text-anchor="end" fill="#666" font-weight="normal" dominant-baseline="central">5</text>
<line x1="399.50" y1="329.45" x2="485.70" y2="329.45" stroke="#f0f0f0" stroke-width="0.8"/>
<text x="398.50" y="329.45" font-size="5.2" text-anchor="end" fill="#666" font-weight="normal" dominant-baseline="central">2</text>
<line x1="399.50" y1="336.00" x2="485.70" y2="336.00" stroke="#f0f0f0" stroke-width="0.8"/>
<text x="398.50" y="336.00" font-size="6.6" text-anchor="end" fill="#444" font-weight="normal" dominant-baseline="central">0.1</text>
<line x1="399.50" y1="342.55" x2="485.70" y2="342.55" stroke="#f0f0f0" stroke-width="0.8"/>
<text x="398.50" y="342.55" font-size="5.2" text-anchor="end" fill="#666" font-weight="normal" dominant-baseline="central">5</text>
<line x1="399.50" y1="351.20" x2="485.70" y2="351.20" stroke="#f0f0f0" stroke-width="0.8"/>
<text x="398.50" y="351.20" font-size="5.2" text-anchor="end" fill="#666" font-weight="normal" dominant-baseline="central">2</text>
<line x1="399.50" y1="357.75" x2="485.70" y2="357.75" stroke="#f0f0f0" stroke-width="0.8"/>
<text x="398.50" y="357.75" font-size="6.6" text-anchor="end" fill="#444" font-weight="normal" dominant-baseline="central">0.01</text>
<line x1="399.50" y1="364.30" x2="485.70" y2="364.30" stroke="#f0f0f0" stroke-width="0.8"/>
<text x="398.50" y="364.30" font-size="5.2" text-anchor="end" fill="#666" font-weight="normal" dominant-baseline="central">5</text>
<line x1="403.30" y1="288.00" x2="403.30" y2="366.00" stroke="#f0f0f0" stroke-width="0.8"/>
<text x="403.30" y="372.40" font-size="6.6" text-anchor="middle" fill="#444" font-weight="normal" dominant-baseline="central">10</text>
<line x1="415.70" y1="288.00" x2="415.70" y2="366.00" stroke="#f0f0f0" stroke-width="0.8"/>
<text x="415.70" y="371.50" font-size="5.2" text-anchor="middle" fill="#666" font-weight="normal" dominant-baseline="central">2</text>
<line x1="432.10" y1="288.00" x2="432.10" y2="366.00" stroke="#f0f0f0" stroke-width="0.8"/>
<text x="432.10" y="371.50" font-size="5.2" text-anchor="middle" fill="#666" font-weight="normal" dominant-baseline="central">5</text>
<line x1="444.50" y1="288.00" x2="444.50" y2="366.00" stroke="#f0f0f0" stroke-width="0.8"/>
<text x="444.50" y="372.40" font-size="6.6" text-anchor="middle" fill="#444" font-weight="normal" dominant-baseline="central">100</text>
<line x1="456.90" y1="288.00" x2="456.90" y2="366.00" stroke="#f0f0f0" stroke-width="0.8"/>
<text x="456.90" y="371.50" font-size="5.2" text-anchor="middle" fill="#666" font-weight="normal" dominant-baseline="central">2</text>
<line x1="473.30" y1="288.00" x2="473.30" y2="366.00" stroke="#f0f0f0" stroke-width="0.8"/>
<text x="473.30" y="371.50" font-size="5.2" text-anchor="middle" fill="#666" font-weight="normal" dominant-baseline="central">5</text>
<text x="485.70" y="372.40" font-size="6.6" text-anchor="middle" fill="#444" font-weight="normal" dominant-baseline="central">1000</text>
<text x="443.00" y="381.00" font-size="7.2" text-anchor="middle" fill="#444" font-weight="normal" dominant-baseline="central">Q (mL s<tspan font-size="4.5" dy="-2">-1</tspan><tspan dy="2">)</tspan></text>
<use href="#gray" transform="translate(368.0,0)"/>
<path d="M32.5 295.5h0M33.5 296.5h0" stroke="#ee1111" stroke-width="2.40" stroke-linecap="round"/>
<path d="M41.4 294.7h0M41.6 295.7h0M43.7 294.6h0M44.2 295.2h0M42.7 295.0h0M42.6 293.9h0M40.7 296.9h0M41.8 294.9h0M44.9 294.8h0M40.9 296.6h0M42.3 295.9h0M41.8 294.2h0M41.5 296.3h0M42.9 295.9h0" stroke="#1010ee" stroke-width="2.40" stroke-linecap="round"/>
<path d="M38.8 295.7h0M38.4 295.0h0M34.5 295.5h0M39.7 295.0h0M39.2 296.3h0M38.9 294.8h0M34.0 296.2h0M34.8 294.6h0M37.7 296.0h0M39.6 296.0h0M37.8 295.3h0M40.4 295.1h0M36.6 294.8h0M37.6 296.0h0M37.1 295.3h0M33.4 295.9h0" stroke="#7a108a" stroke-width="2.40" stroke-linecap="round"/>
<path d="M35.0 296.0h0" stroke="#f5a000" stroke-width="2.40" stroke-linecap="round"/>
<path d="M48.0 298.0h0M51.5 297.5h0" stroke="#f5a000" stroke-width="2.40" stroke-linecap="round"/>
<path d="M47.0 295.5h0M49.0 295.2h0M51.0 295.6h0M53.0 295.2h0M55.0 295.5h0M57.0 295.3h0M57.0 293.0h0M57.0 294.5h0M57.0 297.0h0M57.0 299.0h0M57.0 301.0h0M57.5 303.0h0M45.0 297.0h0M54.0 296.0h0" stroke="#138a13" stroke-width="2.40" stroke-linecap="round"/>
<path d="M159.0 294.0h0M160.0 293.0h0M161.5 293.5h0M158.5 296.0h0M158.5 298.0h0M159.0 300.0h0M160.0 301.5h0M162.0 302.0h0M163.0 300.5h0M161.0 297.0h0M160.0 295.0h0M162.0 295.5h0M159.5 299.0h0" stroke="#7a108a" stroke-width="2.40" stroke-linecap="round"/>
<path d="M164.0 297.0h0M165.0 299.0h0M168.0 299.0h0M172.0 300.5h0M175.0 296.0h0M178.0 296.0h0M185.0 297.5h0M188.0 297.0h0M193.0 297.3h0M195.0 297.0h0M193.0 302.0h0M170.0 296.5h0" stroke="#f5a000" stroke-width="2.40" stroke-linecap="round"/>
<path d="M167.0 296.5h0M171.0 297.0h0M174.0 297.5h0M177.0 297.0h0M180.0 296.5h0M183.0 296.2h0M186.0 296.0h0M188.0 296.3h0M190.0 296.0h0M192.0 295.8h0M194.0 295.5h0M196.0 295.3h0M197.0 295.0h0M198.0 293.0h0M201.0 296.0h0M200.0 298.5h0M200.0 302.0h0M178.0 298.0h0M173.0 296.0h0M184.0 296.8h0" stroke="#138a13" stroke-width="2.40" stroke-linecap="round"/>
<path d="M160.5 296.5h0" stroke="#ee1111" stroke-width="2.40" stroke-linecap="round"/>
<path d="M289.5 298.0h0M290.5 298.5h0M291.0 297.5h0M292.0 298.5h0M290.0 299.0h0M293.0 296.0h0M295.0 297.0h0M297.0 298.0h0M299.0 298.5h0M301.0 299.5h0M303.0 300.5h0M292.0 305.0h0M304.0 304.0h0M306.0 299.0h0M308.0 303.0h0" stroke="#ee1111" stroke-width="2.40" stroke-linecap="round"/>
<path d="M311.0 305.0h0M313.0 304.0h0M315.0 303.0h0M316.0 297.0h0M317.0 296.0h0M318.0 295.5h0M320.0 298.0h0M312.0 302.0h0M310.0 303.5h0M314.0 298.0h0M318.0 301.0h0M322.0 300.0h0" stroke="#f5a000" stroke-width="2.40" stroke-linecap="round"/>
<path d="M309.0 301.0h0M312.0 300.5h0M315.0 300.0h0M318.0 300.5h0M321.0 300.5h0M324.0 300.5h0M327.0 300.0h0M330.0 299.5h0M333.0 299.0h0M335.0 299.0h0M338.0 300.0h0M326.0 302.0h0M320.0 302.0h0" stroke="#7a108a" stroke-width="2.40" stroke-linecap="round"/>
<path d="M313.0 307.0h0M316.0 307.0h0M319.0 307.3h0M322.0 307.5h0M325.0 307.3h0M328.0 307.5h0M331.0 307.5h0M331.0 296.0h0M341.0 306.0h0M337.0 306.5h0M334.0 307.0h0" stroke="#138a13" stroke-width="2.40" stroke-linecap="round"/>
<path d="M334.0 296.0h0M336.0 298.0h0M338.0 301.0h0M339.0 303.0h0M340.0 305.0h0M342.0 306.0h0M343.0 304.0h0M341.0 300.0h0M335.0 302.0h0M336.0 305.0h0M338.0 306.5h0M342.0 303.0h0" stroke="#1010ee" stroke-width="2.40" stroke-linecap="round"/>
<path d="M436.5 302.6h0M436.5 305.0h0M436.5 307.5h0M436.8 310.0h0M436.5 312.5h0M437.0 315.0h0M436.5 317.5h0M437.0 319.4h0M437.5 325.7h0M439.0 329.0h0M437.5 334.8h0M438.0 311.0h0M435.8 314.0h0" stroke="#ee1111" stroke-width="2.40" stroke-linecap="round"/>
<path d="M441.0 305.5h0M443.0 307.0h0M445.0 309.0h0M441.0 310.0h0M439.0 312.0h0M443.0 312.5h0M446.0 313.0h0M448.0 314.5h0M440.0 316.0h0M443.0 317.0h0M445.0 318.0h0M448.0 317.0h0M450.0 316.0h0M439.0 319.0h0M442.0 320.0h0M444.0 310.5h0M447.0 311.0h0" stroke="#f5a000" stroke-width="2.40" stroke-linecap="round"/>
<path d="M452.5 312.0h0M455.0 315.0h0M457.0 317.0h0M460.0 319.6h0M461.0 308.0h0M462.0 312.0h0M464.0 313.0h0M465.0 321.0h0M466.0 322.0h0M463.0 327.0h0M463.0 331.0h0M469.0 312.0h0M470.0 316.0h0M468.0 320.0h0M467.0 324.0h0M466.0 318.0h0" stroke="#138a13" stroke-width="2.40" stroke-linecap="round"/>
<path d="M473.0 304.0h0M474.0 310.0h0M471.0 316.0h0M470.0 319.5h0M473.0 326.0h0M475.0 327.5h0M477.0 329.0h0M479.0 330.0h0M481.0 328.0h0M483.0 327.0h0M476.0 331.0h0M479.0 332.0h0M477.0 334.0h0M474.0 329.0h0M482.0 331.0h0M484.0 330.0h0" stroke="#1010ee" stroke-width="2.40" stroke-linecap="round"/>
<path d="M483.0 320.0h0M483.5 322.0h0M483.5 324.0h0M483.0 326.0h0M482.0 328.0h0M481.5 329.5h0M484.0 327.0h0" stroke="#7a108a" stroke-width="2.40" stroke-linecap="round"/>
</svg></body></html>
